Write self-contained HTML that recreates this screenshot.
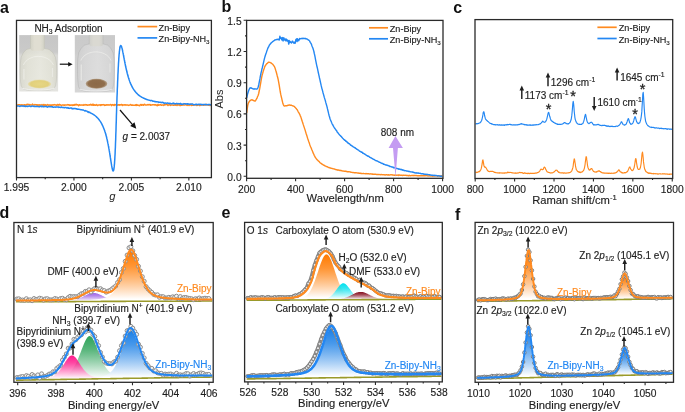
<!DOCTYPE html>
<html><head><meta charset="utf-8"><style>
html,body{margin:0;padding:0;background:#fff;width:685px;height:412px;overflow:hidden;}
svg{display:block;font-family:"Liberation Sans", sans-serif;filter:blur(0.3px);}
</style></head><body>
<svg width="685" height="412" viewBox="0 0 685 412" font-family="Liberation Sans, sans-serif">
<defs><linearGradient id="bg1" x1="0" y1="0" x2="0" y2="1">
<stop offset="0" stop-color="#c6c6c6"/><stop offset="0.3" stop-color="#cacac9"/><stop offset="0.36" stop-color="#d9d9d6"/><stop offset="1" stop-color="#e4e4e0"/></linearGradient>
<radialGradient id="pw1" cx="0.5" cy="0.5" r="0.5"><stop offset="0" stop-color="#e6d684"/><stop offset="0.75" stop-color="#e2d07c"/><stop offset="1" stop-color="#e6dfba"/></radialGradient>
<linearGradient id="bd1" x1="0" y1="0" x2="1" y2="0">
<stop offset="0" stop-color="#d6d6ca"/><stop offset="0.2" stop-color="#e3e3d6"/><stop offset="0.55" stop-color="#ebebe0"/><stop offset="0.85" stop-color="#e3e3d6"/><stop offset="1" stop-color="#d6d6ca"/></linearGradient>
<linearGradient id="nk1" x1="0" y1="0" x2="1" y2="0">
<stop offset="0" stop-color="#d2d2c6"/><stop offset="0.3" stop-color="#e0ded2"/><stop offset="0.7" stop-color="#e0ded2"/><stop offset="1" stop-color="#d2d2c6"/></linearGradient><linearGradient id="bg2" x1="0" y1="0" x2="0" y2="1">
<stop offset="0" stop-color="#cacaca"/><stop offset="0.3" stop-color="#cccccc"/><stop offset="0.36" stop-color="#d0d0d0"/><stop offset="1" stop-color="#d6d6d6"/></linearGradient>
<radialGradient id="pw2" cx="0.5" cy="0.5" r="0.5"><stop offset="0" stop-color="#8c6a48"/><stop offset="0.75" stop-color="#906e4c"/><stop offset="1" stop-color="#b6a28a"/></radialGradient>
<linearGradient id="bd2" x1="0" y1="0" x2="1" y2="0">
<stop offset="0" stop-color="#cfcfcf"/><stop offset="0.2" stop-color="#d9d9d9"/><stop offset="0.55" stop-color="#e1e1e1"/><stop offset="0.85" stop-color="#d9d9d9"/><stop offset="1" stop-color="#cfcfcf"/></linearGradient>
<linearGradient id="nk2" x1="0" y1="0" x2="1" y2="0">
<stop offset="0" stop-color="#cfcfcb"/><stop offset="0.3" stop-color="#dad9d2"/><stop offset="0.7" stop-color="#dad9d2"/><stop offset="1" stop-color="#cfcfcb"/></linearGradient><linearGradient id="g1" x1="0" y1="0" x2="0" y2="1"><stop offset="0" stop-color="#a066e6" stop-opacity="1.0"/><stop offset="0.3" stop-color="#a066e6" stop-opacity="0.8"/><stop offset="0.95" stop-color="#ffffff" stop-opacity="0.95"/></linearGradient><linearGradient id="g2" x1="0" y1="0" x2="0" y2="1"><stop offset="0" stop-color="#ff7a00" stop-opacity="1.0"/><stop offset="0.3" stop-color="#ff7a00" stop-opacity="0.8"/><stop offset="0.95" stop-color="#ffffff" stop-opacity="0.95"/></linearGradient><linearGradient id="g3" x1="0" y1="0" x2="0" y2="1"><stop offset="0" stop-color="#2ea35a" stop-opacity="1.0"/><stop offset="0.3" stop-color="#2ea35a" stop-opacity="0.8"/><stop offset="0.95" stop-color="#ffffff" stop-opacity="0.95"/></linearGradient><linearGradient id="g4" x1="0" y1="0" x2="0" y2="1"><stop offset="0" stop-color="#1a7fe6" stop-opacity="1.0"/><stop offset="0.3" stop-color="#1a7fe6" stop-opacity="0.8"/><stop offset="0.95" stop-color="#ffffff" stop-opacity="0.95"/></linearGradient><linearGradient id="g5" x1="0" y1="0" x2="0" y2="1"><stop offset="0" stop-color="#ff1a8c" stop-opacity="1.0"/><stop offset="0.3" stop-color="#ff1a8c" stop-opacity="0.8"/><stop offset="0.95" stop-color="#ffffff" stop-opacity="0.95"/></linearGradient><linearGradient id="g6" x1="0" y1="0" x2="0" y2="1"><stop offset="0" stop-color="#ff7a00" stop-opacity="1.0"/><stop offset="0.3" stop-color="#ff7a00" stop-opacity="0.8"/><stop offset="0.95" stop-color="#ffffff" stop-opacity="0.95"/></linearGradient><linearGradient id="g7" x1="0" y1="0" x2="0" y2="1"><stop offset="0" stop-color="#00e0ee" stop-opacity="1.0"/><stop offset="0.3" stop-color="#00e0ee" stop-opacity="0.8"/><stop offset="0.95" stop-color="#ffffff" stop-opacity="0.95"/></linearGradient><linearGradient id="g8" x1="0" y1="0" x2="0" y2="1"><stop offset="0" stop-color="#870f1f" stop-opacity="1.0"/><stop offset="0.3" stop-color="#870f1f" stop-opacity="0.8"/><stop offset="0.95" stop-color="#ffffff" stop-opacity="0.95"/></linearGradient><linearGradient id="g9" x1="0" y1="0" x2="0" y2="1"><stop offset="0" stop-color="#1a7fe6" stop-opacity="1.0"/><stop offset="0.3" stop-color="#1a7fe6" stop-opacity="0.8"/><stop offset="0.95" stop-color="#ffffff" stop-opacity="0.95"/></linearGradient><linearGradient id="g10" x1="0" y1="0" x2="0" y2="1"><stop offset="0" stop-color="#ff7a00" stop-opacity="1.0"/><stop offset="0.3" stop-color="#ff7a00" stop-opacity="0.8"/><stop offset="0.95" stop-color="#ffffff" stop-opacity="0.95"/></linearGradient><linearGradient id="g11" x1="0" y1="0" x2="0" y2="1"><stop offset="0" stop-color="#ff7a00" stop-opacity="1.0"/><stop offset="0.3" stop-color="#ff7a00" stop-opacity="0.8"/><stop offset="0.95" stop-color="#ffffff" stop-opacity="0.95"/></linearGradient><linearGradient id="g12" x1="0" y1="0" x2="0" y2="1"><stop offset="0" stop-color="#1a7fe6" stop-opacity="1.0"/><stop offset="0.3" stop-color="#1a7fe6" stop-opacity="0.8"/><stop offset="0.95" stop-color="#ffffff" stop-opacity="0.95"/></linearGradient><linearGradient id="g13" x1="0" y1="0" x2="0" y2="1"><stop offset="0" stop-color="#1a7fe6" stop-opacity="1.0"/><stop offset="0.3" stop-color="#1a7fe6" stop-opacity="0.8"/><stop offset="0.95" stop-color="#ffffff" stop-opacity="0.95"/></linearGradient></defs>
<rect width="685" height="412" fill="#ffffff"/>
<text x="0.0" y="13.2" font-size="16" font-weight="bold" fill="#111">a</text>
<text x="221.5" y="11.8" font-size="16" font-weight="bold" fill="#111">b</text>
<text x="453.3" y="12.9" font-size="16" font-weight="bold" fill="#111">c</text>
<text x="-0.6" y="217.8" font-size="16" font-weight="bold" fill="#111">d</text>
<text x="221.6" y="217.7" font-size="16" font-weight="bold" fill="#111">e</text>
<text x="455.0" y="219.8" font-size="16" font-weight="bold" fill="#111">f</text>
<rect x="19.2" y="35.1" width="38.9" height="56.4" fill="url(#bg1)"/>
<path d="M30.2,48.5 A9.8,14.5 0 0 0 20.4,63.0 C19.799999999999997,71.0 20.0,80.6 21.2,85.6 C22.4,89.6 26.4,90.19999999999999 30.4,90.19999999999999 H46.4 C50.4,90.19999999999999 54.4,89.6 55.6,85.6 C56.8,80.6 57.0,71.0 56.4,63.0 A11.799999999999997,14.5 0 0 0 44.6,48.5 Z" fill="url(#bd1)" fill-opacity="0.72" stroke="#b0b0a2" stroke-width="0.6" stroke-opacity="0.55"/>
<path d="M30.2,35.1 V48.5 Q30.7,50.5 32.2,50.7 H42.6 Q44.1,50.5 44.6,48.5 V35.1 Z" fill="url(#nk1)"/>
<path d="M30.5,35.1 V48.5 M44.300000000000004,35.1 V48.5" stroke="#b0b0a2" stroke-width="0.5" stroke-opacity="0.5"/>
<path d="M23.4,65.0 C28.4,53.5 48.4,53.5 53.4,65.0" fill="none" stroke="#f6f6f2" stroke-width="0.9" stroke-opacity="0.6"/>
<path d="M23.9,69.0 V79.6" stroke="#f8f8f4" stroke-width="1.4" stroke-opacity="0.45"/>
<path d="M52.4,68.0 V77.0" stroke="#f8f8f4" stroke-width="1.0" stroke-opacity="0.5"/>
<ellipse cx="39.5" cy="84.0" rx="11.8" ry="4.4" fill="url(#pw1)"/>
<path d="M22.4,88.1 C26.4,90.6 50.4,90.6 54.4,88.1" fill="none" stroke="#f4f4f4" stroke-width="1.0" stroke-opacity="0.8"/>
<rect x="74.8" y="35.1" width="40.2" height="57.4" fill="url(#bg2)"/>
<path d="M89.0,44.0 A11.200000000000003,14.5 0 0 0 77.8,58.5 C77.2,66.5 77.39999999999999,81.6 78.6,86.6 C79.8,90.6 83.8,91.19999999999999 87.8,91.19999999999999 H104.0 C108.0,91.19999999999999 112.0,90.6 113.2,86.6 C114.4,81.6 114.6,66.5 114.0,58.5 A10.599999999999994,14.5 0 0 0 103.4,44.0 Z" fill="url(#bd2)" fill-opacity="0.72" stroke="#a2a2a2" stroke-width="0.6" stroke-opacity="0.55"/>
<path d="M89.0,35.1 V44.0 Q89.5,46.0 91.0,46.2 H101.4 Q102.9,46.0 103.4,44.0 V35.1 Z" fill="url(#nk2)"/>
<path d="M89.3,35.1 V44.0 M103.10000000000001,35.1 V44.0" stroke="#a2a2a2" stroke-width="0.5" stroke-opacity="0.5"/>
<path d="M80.8,60.5 C85.8,49.0 106.0,49.0 111.0,60.5" fill="none" stroke="#f6f6f2" stroke-width="0.9" stroke-opacity="0.6"/>
<path d="M81.3,64.5 V80.6" stroke="#f8f8f4" stroke-width="1.4" stroke-opacity="0.45"/>
<path d="M110.0,63.5 V72.5" stroke="#f8f8f4" stroke-width="1.0" stroke-opacity="0.5"/>
<ellipse cx="96.5" cy="83.7" rx="10.8" ry="5.0" fill="url(#pw2)"/>
<path d="M79.8,89.1 C83.8,91.6 108.0,91.6 112.0,89.1" fill="none" stroke="#f4f4f4" stroke-width="1.0" stroke-opacity="0.8"/>
<path d="M59.8,64.2 H69.5" stroke="#111" stroke-width="1.2"/>
<path d="M68.2,61.9 L72.6,64.2 L68.2,66.5 Z" fill="#111"/>
<text x="34.40" y="32.30" font-size="10" text-anchor="start" fill="#1e1e1e" stroke="#1e1e1e" stroke-width="0.15" >NH<tspan font-size="6.80" baseline-shift="-2.40">3</tspan> Adsorption</text>
<path d="M16.8,105.0 17.4,105.1 18.0,104.9 18.6,104.7 19.2,104.8 19.8,104.7 20.4,105.0 21.0,105.5 21.6,104.8 22.2,104.8 22.8,105.2 23.4,105.1 24.0,105.0 24.6,104.7 25.2,105.0 25.8,105.2 26.4,104.5 27.0,104.8 27.6,104.3 28.2,104.5 28.8,104.4 29.4,104.9 30.0,104.6 30.6,105.1 31.2,105.1 31.8,104.9 32.4,104.1 33.0,104.8 33.6,105.0 34.2,105.0 34.8,104.5 35.4,104.8 36.0,104.7 36.6,104.7 37.2,105.4 37.8,104.7 38.4,105.0 39.0,105.3 39.6,104.8 40.2,105.0 40.8,105.0 41.4,105.0 42.0,104.6 42.6,105.0 43.2,105.5 43.8,104.5 44.4,105.3 45.0,105.0 45.6,104.8 46.2,105.7 46.8,105.3 47.4,104.6 48.0,105.0 48.6,105.2 49.2,104.9 49.8,105.2 50.4,105.0 51.0,105.2 51.6,105.5 52.2,104.8 52.8,105.1 53.4,104.8 54.0,105.0 54.6,104.6 55.2,104.8 55.8,104.9 56.4,105.3 57.0,105.4 57.6,104.5 58.2,104.7 58.8,105.2 59.4,104.3 60.0,104.8 60.6,105.0 61.2,105.4 61.8,105.2 62.4,104.9 63.0,104.9 63.6,104.9 64.2,105.5 64.8,104.9 65.4,104.9 66.0,105.1 66.6,105.0 67.2,104.9 67.8,104.6 68.4,105.0 69.0,104.8 69.6,105.4 70.2,105.2 70.8,105.0 71.4,105.2 72.0,104.9 72.6,105.4 73.2,105.0 73.8,105.2 74.4,104.5 75.0,105.1 75.6,104.4 76.2,104.3 76.8,104.9 77.4,104.7 78.0,105.1 78.6,105.8 79.2,104.7 79.8,104.8 80.4,105.1 81.0,105.2 81.6,104.9 82.2,104.9 82.8,105.2 83.4,105.2 84.0,104.6 84.6,105.0 85.2,105.0 85.8,104.6 86.4,105.1 87.0,104.7 87.6,105.3 88.2,105.1 88.8,105.0 89.4,104.8 90.0,105.0 90.6,104.3 91.2,104.6 91.8,105.1 92.4,104.3 93.0,105.3 93.6,104.4 94.2,105.3 94.8,104.7 95.4,105.3 96.0,105.0 96.6,104.5 97.2,105.4 97.8,105.5 98.4,105.0 99.0,104.9 99.6,104.9 100.2,104.7 100.8,105.4 101.4,104.8 102.0,105.0 102.6,104.7 103.2,104.8 103.8,104.6 104.4,105.4 105.0,104.9 105.6,105.3 106.2,105.0 106.8,104.8 107.4,104.9 108.0,104.8 108.6,105.0 109.2,104.9 109.8,104.9 110.4,104.5 111.0,104.7 111.6,105.6 112.2,104.8 112.8,104.6 113.4,105.1 114.0,105.5 114.6,104.5 115.2,104.9 115.8,104.8 116.4,104.4 117.0,105.3 117.6,105.0 118.2,105.0 118.8,104.7 119.4,105.2 120.0,104.8 120.6,104.9 121.2,104.6 121.8,104.6 122.4,105.5 123.0,104.8 123.6,105.1 124.2,105.0 124.8,104.8 125.4,104.8 126.0,105.2 126.6,104.9 127.2,104.9 127.8,105.0 128.4,105.4 129.0,105.2 129.6,105.1 130.2,104.8 130.8,104.5 131.4,105.3 132.0,105.3 132.6,105.0 133.2,105.2 133.8,105.3 134.4,105.3 135.0,105.3 135.6,104.8 136.2,105.5 136.8,104.6 137.4,105.3 138.0,105.2 138.6,105.3 139.2,105.7 139.8,105.5 140.4,104.6 141.0,104.4 141.6,105.3 142.2,104.6 142.8,105.0 143.4,105.3 144.0,104.4 144.6,104.3 145.2,105.1 145.8,105.0 146.4,104.9 147.0,105.0 147.6,104.7 148.2,104.5 148.8,104.9 149.4,104.7 150.0,104.4 150.6,105.2 151.2,105.0 151.8,105.1 152.4,104.7 153.0,104.8 153.6,104.7 154.2,104.7 154.8,105.1 155.4,104.7 156.0,105.1 156.6,105.1 157.2,105.7 157.8,104.5 158.4,105.3 159.0,105.0 159.6,105.0 160.2,104.5 160.8,104.8 161.4,105.3 162.0,105.0 162.6,105.0 163.2,104.9 163.8,105.4 164.4,105.0 165.0,104.2 165.6,104.8 166.2,104.3 166.8,103.9 167.4,104.8 168.0,105.5 168.6,105.0 169.2,104.6 169.8,104.7 170.4,105.4 171.0,105.1 171.6,105.0 172.2,105.0 172.8,105.0 173.4,105.3 174.0,105.2 174.6,105.1 175.2,104.6 175.8,105.2 176.4,104.8 177.0,105.4 177.6,104.6 178.2,105.0 178.8,105.0 179.4,104.5 180.0,105.6 180.6,105.5 181.2,104.8 181.8,105.3 182.4,105.1 183.0,104.1 183.6,105.1 184.2,105.0 184.8,105.0 185.4,104.6 186.0,104.9 186.6,104.9 187.2,105.4 187.8,105.1 188.4,105.0 189.0,105.5 189.6,104.8 190.2,104.9 190.8,104.4 191.4,105.5 192.0,105.3 192.6,105.3 193.2,105.2 193.8,105.0 194.4,105.1 195.0,104.9 195.6,104.9 196.2,105.0 196.8,105.5 197.4,105.2 198.0,105.0 198.6,104.8 199.2,104.8 199.8,105.6 200.4,105.2 201.0,105.0 201.6,104.9 202.2,104.6 202.8,105.0 203.4,105.3 204.0,104.9 204.6,104.9 205.2,104.9 205.8,105.0 206.4,104.4 207.0,104.9 207.6,104.7 208.2,105.3 208.8,104.7 209.4,105.2 210.0,105.5 210.6,104.9" stroke="#FF8A1F" stroke-width="1.5" fill="none" stroke-linejoin="round"/>
<path d="M16.9,105.9 17.5,106.1 18.1,106.1 18.7,105.9 19.3,106.2 19.9,106.5 20.5,106.0 21.1,106.1 21.7,105.9 22.3,106.2 22.9,105.9 23.5,105.9 24.1,106.4 24.7,106.0 25.3,106.4 25.9,106.5 26.5,106.2 27.1,106.3 27.7,106.6 28.3,106.2 28.9,106.1 29.5,105.9 30.1,106.3 30.7,106.6 31.3,106.5 31.9,106.1 32.5,106.1 33.1,106.2 33.7,106.4 34.3,106.3 34.9,106.4 35.5,106.4 36.1,106.3 36.7,106.4 37.3,106.5 37.9,106.4 38.5,106.6 39.1,106.9 39.7,106.6 40.3,106.5 40.9,106.1 41.5,106.6 42.1,106.1 42.7,106.3 43.3,106.8 43.9,106.8 44.5,106.6 45.1,106.3 45.7,106.6 46.3,106.5 46.9,106.8 47.5,107.2 48.1,106.8 48.7,106.6 49.3,106.5 49.9,106.8 50.5,106.8 51.1,106.6 51.7,106.9 52.3,106.7 52.9,107.2 53.5,107.2 54.1,107.2 54.7,106.9 55.3,107.2 55.9,107.1 56.5,107.0 57.1,107.1 57.7,106.9 58.3,106.9 58.9,107.4 59.5,107.2 60.1,107.4 60.7,107.6 61.3,107.0 61.9,107.3 62.5,107.5 63.1,107.6 63.7,107.5 64.3,107.8 64.9,107.7 65.5,107.4 66.1,107.5 66.7,108.0 67.3,108.0 67.9,107.5 68.5,108.3 69.1,108.2 69.7,108.4 70.3,108.1 70.9,108.1 71.5,108.0 72.1,108.9 72.7,108.4 73.3,108.8 73.9,108.4 74.5,108.7 75.1,108.4 75.7,108.7 76.3,109.1 76.9,108.7 77.5,109.3 78.1,109.3 78.7,109.1 79.3,109.3 79.9,109.4 80.5,109.7 81.1,109.7 81.7,109.7 82.3,110.0 82.9,110.0 83.5,110.1 84.1,110.5 84.7,110.9 85.3,110.5 85.9,111.1 86.5,111.1 87.1,111.2 87.7,111.9 88.3,111.8 88.9,112.5 89.5,112.2 90.1,112.7 90.7,113.0 91.3,113.3 91.9,113.6 92.5,113.9 93.1,114.3 93.7,114.7 94.3,115.1 94.9,115.5 95.5,116.0 96.1,116.5 96.7,117.1 97.3,117.7 97.9,118.3 98.5,119.0 99.1,119.8 99.7,120.6 100.3,121.4 100.9,122.4 101.5,123.4 102.1,124.6 102.7,125.8 103.3,127.2 103.9,128.7 104.5,130.3 105.0,131.8 105.2,132.3 105.3,132.8 105.5,133.3 105.6,133.8 105.8,134.3 105.9,134.9 106.1,135.4 106.2,136.0 106.4,136.5 106.5,137.1 106.7,137.7 106.8,138.4 107.0,139.0 107.1,139.6 107.3,140.3 107.4,141.0 107.6,141.7 107.7,142.4 107.9,143.1 108.0,143.9 108.2,144.6 108.3,145.4 108.5,146.2 108.6,147.0 108.8,147.9 108.9,148.7 109.1,149.6 109.2,150.4 109.4,151.3 109.5,152.2 109.7,153.2 109.8,154.1 110.0,155.0 110.1,156.0 110.3,156.9 110.4,157.9 110.6,158.9 110.7,159.8 110.9,160.8 111.0,161.8 111.2,162.7 111.3,163.7 111.5,164.6 111.6,165.4 111.8,166.3 111.9,167.1 112.1,167.9 112.2,168.6 112.4,169.2 112.5,169.8 112.7,170.2 112.8,170.6 113.0,170.9 113.1,171.0 113.3,171.0 113.4,170.8 113.6,170.4 113.7,169.9 113.9,169.1 114.0,168.1 114.2,166.9 114.3,165.4 114.5,163.7 114.6,161.6 114.8,159.3 114.9,156.7 115.1,153.7 115.2,150.5 115.4,147.0 115.5,143.2 115.7,139.1 115.8,134.8 116.0,130.3 116.1,125.5 116.3,120.6 116.4,115.6 116.6,110.5 116.7,105.3 116.9,101.3 117.0,97.3 117.2,93.3 117.3,89.4 117.5,85.6 117.6,81.9 117.8,78.4 117.9,75.0 118.1,71.7 118.2,68.7 118.4,65.8 118.5,63.2 118.7,60.7 118.8,58.4 119.0,56.3 119.1,54.5 119.3,52.8 119.4,51.3 119.6,50.0 119.7,48.9 119.9,48.0 120.0,47.2 120.2,46.6 120.3,46.2 120.5,45.8 120.6,45.6 120.8,45.5 120.9,45.6 121.1,45.7 121.2,45.9 121.4,46.2 121.5,46.6 121.7,47.0 121.8,47.5 122.0,48.1 122.1,48.6 122.3,49.3 122.4,50.0 122.6,50.6 122.7,51.4 122.9,52.1 123.0,52.9 123.2,53.7 123.3,54.4 123.5,55.2 123.6,56.0 123.8,56.8 123.9,57.6 124.1,58.4 124.2,59.2 124.4,60.0 124.5,60.8 124.7,61.6 124.8,62.3 125.0,63.1 125.1,63.9 125.3,64.6 125.4,65.3 125.6,66.1 125.7,66.8 125.9,67.5 126.0,68.1 126.2,68.8 126.3,69.5 126.5,70.1 126.6,70.8 126.8,71.4 126.9,72.0 127.1,72.6 127.2,73.2 127.4,73.8 127.5,74.3 127.7,74.9 127.8,75.4 128.0,75.9 128.1,76.5 128.3,77.0 128.4,77.5 128.6,77.9 128.7,78.4 128.9,78.9 129.0,79.3 129.2,79.8 129.3,80.2 129.5,80.6 129.6,81.0 129.8,81.4 129.9,81.8 130.0,82.1 130.6,83.6 131.2,84.9 131.8,86.2 132.4,87.3 133.0,88.4 133.6,89.3 134.2,90.2 134.8,91.0 135.4,91.8 136.0,92.5 136.6,93.1 137.2,93.7 137.8,94.3 138.4,94.8 139.0,95.3 139.6,95.8 140.2,96.2 140.8,96.6 141.4,97.0 142.0,97.3 142.6,97.6 143.2,98.0 143.8,98.2 144.4,98.5 145.0,98.8 145.6,99.0 146.2,99.3 146.8,99.5 147.4,99.7 148.0,99.9 148.6,100.1 149.2,100.2 149.8,100.4 150.4,100.7 151.0,100.5 151.6,100.5 152.2,100.7 152.8,101.3 153.4,101.1 154.0,101.3 154.6,101.5 155.2,101.7 155.8,101.6 156.4,101.9 157.0,101.7 157.6,101.9 158.2,101.9 158.8,102.4 159.4,102.2 160.0,102.2 160.6,102.3 161.2,102.4 161.8,102.7 162.4,102.3 163.0,102.5 163.6,102.7 164.2,103.4 164.8,103.1 165.4,102.9 166.0,103.1 166.6,103.5 167.2,103.0 167.8,103.0 168.4,103.4 169.0,103.3 169.6,103.4 170.2,103.2 170.8,103.8 171.4,103.8 172.0,103.6 172.6,103.6 173.2,103.1 173.8,103.7 174.4,103.5 175.0,103.7 175.6,103.8 176.2,103.6 176.8,103.3 177.4,103.8 178.0,103.6 178.6,103.7 179.2,103.7 179.8,103.8 180.4,103.4 181.0,104.2 181.6,104.0 182.2,104.2 182.8,104.4 183.4,104.0 184.0,103.6 184.6,103.8 185.2,103.8 185.8,104.0 186.4,104.1 187.0,103.7 187.6,104.2 188.2,103.8 188.8,104.2 189.4,104.2 190.0,104.1 190.6,104.2 191.2,104.1 191.8,104.1 192.4,103.9 193.0,104.3 193.6,104.7 194.2,104.8 194.8,104.6 195.4,104.5 196.0,104.2 196.6,104.7 197.2,104.4 197.8,104.4 198.4,104.3 199.0,104.4 199.6,104.3 200.2,104.4 200.8,104.2 201.4,104.4 202.0,105.0 202.6,104.5 203.2,104.5 203.8,104.6 204.4,104.7 205.0,104.3 205.6,104.5 206.2,104.8 206.8,104.6 207.4,104.6 208.0,104.9 208.6,104.4 209.2,104.6 209.8,104.5 210.4,104.9 211.0,104.2" stroke="#2387F3" stroke-width="1.5" fill="none" stroke-linejoin="round"/>
<path d="M120.0,110.0 L133.6,125.9" stroke="#111" stroke-width="1.2"/>
<path d="M136.3,128.8 L130.2,126.0 L134.5,122.3 Z" fill="#111"/>
<text x="122.60" y="139.60" font-size="10" text-anchor="start" fill="#1e1e1e" stroke="#1e1e1e" stroke-width="0.15" ><tspan font-style="italic">g</tspan> = 2.0037</text>
<path d="M137.5,26.6 H157.2" stroke="#FF8A1F" stroke-width="1.7"/>
<path d="M137.5,37.9 H157.2" stroke="#2387F3" stroke-width="1.7"/>
<text x="158.60" y="30.60" font-size="9.1" text-anchor="start" fill="#1e1e1e" stroke="#1e1e1e" stroke-width="0.15" >Zn-Bipy</text>
<text x="158.60" y="41.90" font-size="9.1" text-anchor="start" fill="#1e1e1e" stroke="#1e1e1e" stroke-width="0.15" >Zn-Bipy-NH<tspan font-size="6.19" baseline-shift="-2.18">3</tspan></text>
<rect x="16.50" y="20.40" width="194.90" height="157.20" fill="none" stroke="#2a2a2a" stroke-width="1.3"/>
<path d="M16.50,177.60 V180.60 M73.95,177.60 V180.60 M131.40,177.60 V180.60 M188.85,177.60 V180.60 M45.22,177.60 V179.20 M102.67,177.60 V179.20 M160.12,177.60 V179.20 " stroke="#2a2a2a" stroke-width="1.1" fill="none"/>
<text x="16.50" y="191.40" font-size="10.25" text-anchor="middle" fill="#1e1e1e" stroke="#1e1e1e" stroke-width="0.15" >1.995</text>
<text x="73.95" y="191.40" font-size="10.25" text-anchor="middle" fill="#1e1e1e" stroke="#1e1e1e" stroke-width="0.15" >2.000</text>
<text x="131.40" y="191.40" font-size="10.25" text-anchor="middle" fill="#1e1e1e" stroke="#1e1e1e" stroke-width="0.15" >2.005</text>
<text x="188.85" y="191.40" font-size="10.25" text-anchor="middle" fill="#1e1e1e" stroke="#1e1e1e" stroke-width="0.15" >2.010</text>
<text x="109.2" y="199.8" font-size="11.2" font-style="italic" fill="#1e1e1e">g</text>
<path d="M246.7,112.9 247.2,109.0 247.7,105.7 248.2,103.5 248.7,102.7 249.2,101.5 249.7,101.1 250.2,100.5 250.7,100.1 251.2,100.0 251.7,99.8 252.2,99.8 252.7,100.2 253.2,100.3 253.7,100.6 254.2,100.9 254.7,101.0 255.2,101.1 255.7,100.4 256.2,99.5 256.7,98.7 257.2,97.6 257.7,96.3 258.2,95.3 258.7,93.5 259.2,91.0 259.7,88.7 260.2,85.7 260.7,82.8 261.2,79.8 261.7,77.2 262.2,74.8 262.7,73.2 263.2,71.4 263.7,69.8 264.2,68.4 264.7,66.9 265.2,65.9 265.7,65.1 266.2,64.5 266.7,63.7 267.2,63.5 267.7,62.9 268.2,62.4 268.7,62.1 269.2,62.3 269.7,62.4 270.2,62.5 270.7,62.8 271.2,63.0 271.7,63.5 272.2,63.8 272.7,64.3 273.2,64.9 273.7,65.7 274.2,66.1 274.7,67.3 275.2,68.6 275.7,70.3 276.2,71.8 276.7,73.7 277.2,75.7 277.7,77.5 278.2,79.7 278.7,82.4 279.2,85.2 279.7,88.4 280.2,91.5 280.7,94.2 281.2,96.3 281.7,98.3 282.2,100.6 282.7,102.7 283.2,104.3 283.7,105.4 284.2,105.9 284.7,106.1 285.2,105.9 285.7,105.7 286.2,105.6 286.7,105.8 287.2,105.5 287.7,105.5 288.2,105.1 288.7,105.2 289.2,105.0 289.7,105.0 290.2,105.3 290.7,105.2 291.2,105.1 291.7,105.4 292.2,105.6 292.7,105.9 293.2,106.0 293.7,106.1 294.2,106.5 294.7,106.9 295.2,107.4 295.7,108.0 296.2,108.5 296.7,109.2 297.2,109.8 297.7,110.8 298.2,111.8 298.7,112.5 299.2,113.4 299.7,114.3 300.2,115.6 300.7,116.6 301.2,118.1 301.7,119.7 302.2,121.3 302.7,122.7 303.2,124.4 303.7,125.9 304.2,127.4 304.7,128.9 305.2,130.4 305.7,132.1 306.2,133.8 306.7,135.2 307.2,136.9 307.7,138.5 308.2,139.9 308.7,141.5 309.2,142.8 309.7,144.4 310.2,145.8 310.7,147.0 311.2,148.0 311.7,149.4 312.2,150.6 312.7,151.8 313.2,153.2 313.7,154.0 314.2,155.3 314.7,156.2 315.2,157.3 315.7,157.9 316.2,158.6 316.7,159.3 317.2,159.9 317.7,160.3 318.2,160.9 318.7,161.3 319.2,161.5 319.7,162.4 320.2,162.8 320.7,163.1 321.2,163.5 321.7,164.0 322.2,164.2 322.7,164.5 323.2,164.9 323.7,165.3 324.2,165.3 324.7,165.9 325.2,165.9 325.7,166.1 326.2,166.6 326.7,166.6 327.2,166.7 327.7,167.0 328.2,167.3 328.7,167.5 329.2,167.5 329.7,167.8 330.2,168.0 330.7,168.0 331.2,168.3 331.7,168.4 332.2,168.5 332.7,168.6 333.2,168.8 333.7,168.9 334.2,169.0 334.7,169.2 335.2,169.5 335.7,169.5 336.2,169.7 336.7,169.8 337.2,169.9 337.7,170.2 338.2,169.9 338.7,170.2 339.2,170.2 339.7,170.5 340.2,170.6 340.7,170.3 341.2,170.5 341.7,170.8 342.2,170.9 342.7,171.0 343.2,171.0 343.7,171.1 344.2,171.2 344.7,171.2 345.2,171.4 345.7,171.1 346.2,171.6 346.7,171.4 347.2,171.8 347.7,171.7 348.2,171.7 348.7,171.9 349.2,171.8 349.7,171.9 350.2,171.9 350.7,172.2 351.2,172.3 351.7,172.4 352.2,172.4 352.7,172.6 353.2,172.5 353.7,172.6 354.2,172.7 354.7,172.8 355.2,172.7 355.7,172.8 356.2,172.8 356.7,172.9 357.2,172.9 357.7,173.1 358.2,173.0 358.7,173.2 359.2,173.1 359.7,173.3 360.2,173.3 360.7,173.3 361.2,173.6 361.7,173.4 362.2,173.6 362.7,173.6 363.2,173.4 363.7,173.5 364.2,173.6 364.7,173.6 365.2,173.7 365.7,173.7 366.2,173.5 366.7,173.8 367.2,173.6 367.7,173.9 368.2,173.8 368.7,173.8 369.2,173.9 369.7,174.0 370.2,173.9 370.7,173.8 371.2,174.0 371.7,173.9 372.2,174.0 372.7,174.4 373.2,174.1 373.7,174.3 374.2,174.1 374.7,174.3 375.2,174.3 375.7,174.3 376.2,174.4 376.7,174.6 377.2,174.4 377.7,174.5 378.2,174.4 378.7,174.6 379.2,174.5 379.7,174.6 380.2,174.6 380.7,174.8 381.2,174.4 381.7,174.6 382.2,174.8 382.7,174.6 383.2,174.6 383.7,174.7 384.2,174.6 384.7,174.8 385.2,175.1 385.7,174.9 386.2,174.7 386.7,174.7 387.2,174.8 387.7,175.0 388.2,174.8 388.7,174.8 389.2,175.0 389.7,175.0 390.2,174.9 390.7,174.8 391.2,174.8 391.7,174.9 392.2,174.8 392.7,175.1 393.2,175.0 393.7,175.1 394.2,175.3 394.7,175.2 395.2,175.0 395.7,175.2 396.2,175.3 396.7,175.1 397.2,175.1 397.7,175.2 398.2,175.0 398.7,175.4 399.2,174.9 399.7,175.1 400.2,175.2 400.7,175.3 401.2,175.3 401.7,175.3 402.2,175.3 402.7,175.5 403.2,175.1 403.7,175.4 404.2,175.3 404.7,175.4 405.2,175.4 405.7,175.3 406.2,175.3 406.7,175.5 407.2,175.5 407.7,175.4 408.2,175.7 408.7,175.7 409.2,175.3 409.7,175.5 410.2,175.8 410.7,175.6 411.2,175.6 411.7,175.5 412.2,175.5 412.7,175.5 413.2,175.5 413.7,175.7 414.2,175.5 414.7,175.5 415.2,175.5 415.7,175.6 416.2,175.5 416.7,175.6 417.2,175.8 417.7,175.7 418.2,175.7 418.7,175.7 419.2,175.7 419.7,175.7 420.2,175.7 420.7,175.8 421.2,175.6 421.7,175.9 422.2,175.7 422.7,175.7 423.2,175.7 423.7,175.7 424.2,175.8 424.7,175.7 425.2,175.9 425.7,175.7 426.2,175.5 426.7,175.7 427.2,175.6 427.7,175.8 428.2,176.0 428.7,175.9 429.2,175.7 429.7,175.8 430.2,176.1 430.7,175.9 431.2,175.9 431.7,176.0 432.2,176.2 432.7,176.1 433.2,175.9 433.7,176.0 434.2,176.0 434.7,175.9 435.2,175.8 435.7,175.9 436.2,175.8 436.7,175.9 437.2,176.0 437.7,176.2 438.2,175.9 438.7,176.0 439.2,176.0 439.7,176.0 440.2,176.1 440.7,175.9 441.2,175.9 441.7,175.8 442.2,175.9" stroke="#FF8A1F" stroke-width="1.4" fill="none" stroke-linejoin="round"/>
<path d="M246.7,97.8 247.1,96.1 247.5,94.4 247.9,93.0 248.3,91.7 248.7,90.6 249.1,89.5 249.5,88.7 249.9,88.0 250.3,87.8 250.7,88.1 251.1,87.7 251.5,88.1 251.9,88.4 252.3,88.5 252.7,88.6 253.1,88.9 253.5,89.0 253.9,89.0 254.3,88.8 254.7,89.0 255.1,88.9 255.5,88.9 255.9,89.0 256.3,89.1 256.7,89.1 257.1,88.9 257.5,88.7 257.9,87.8 258.3,86.5 258.7,85.0 259.1,82.9 259.5,80.9 259.9,78.9 260.3,76.5 260.7,74.7 261.1,72.7 261.5,71.1 261.9,69.2 262.3,67.7 262.7,66.0 263.1,64.4 263.5,62.7 263.9,60.9 264.3,59.2 264.7,57.6 265.1,56.3 265.5,54.9 265.9,53.8 266.3,52.8 266.7,51.4 267.1,50.2 267.5,49.2 267.9,48.1 268.3,47.2 268.7,46.7 269.1,45.8 269.5,44.9 269.9,44.5 270.3,44.1 270.7,43.5 271.1,43.0 271.5,42.6 271.9,42.3 272.3,41.9 272.7,41.6 273.1,41.3 273.5,41.0 273.9,40.8 274.3,40.4 274.7,40.0 275.1,40.0 275.5,39.9 275.9,39.7 276.3,39.7 276.7,39.5 277.1,39.3 277.5,39.5 277.9,39.3 278.3,39.2 278.7,39.2 279.1,40.1 279.5,39.3 279.9,36.2 280.3,38.1 280.7,38.3 281.1,37.7 281.5,38.9 281.9,40.0 282.3,38.2 282.7,37.5 283.1,41.0 283.5,38.5 283.9,37.8 284.3,39.6 284.7,39.9 285.1,38.9 285.5,40.7 285.9,39.4 286.3,39.1 286.7,40.4 287.1,41.2 287.5,39.9 287.9,41.1 288.3,40.8 288.7,44.1 289.1,40.4 289.5,42.8 289.9,41.4 290.3,41.4 290.7,42.4 291.1,42.6 291.5,43.0 291.9,42.0 292.3,41.1 292.7,41.2 293.1,42.3 293.5,42.4 293.9,43.3 294.3,42.2 294.7,42.9 295.1,43.3 295.5,41.6 295.9,39.5 296.3,39.4 296.7,38.8 297.1,41.6 297.5,38.6 297.9,40.6 298.3,39.7 298.7,40.8 299.1,40.0 299.5,38.7 299.9,38.5 300.3,38.8 300.7,38.8 301.1,38.5 301.5,38.5 301.9,38.7 302.3,38.3 302.7,38.5 303.1,38.3 303.5,38.4 303.9,38.5 304.3,38.4 304.7,38.5 305.1,38.3 305.5,38.7 305.9,38.6 306.3,38.9 306.7,39.0 307.1,38.9 307.5,39.3 307.9,39.6 308.3,40.0 308.7,40.1 309.1,40.5 309.5,40.8 309.9,41.7 310.3,42.4 310.7,43.0 311.1,43.7 311.5,44.4 311.9,45.7 312.3,46.8 312.7,47.6 313.1,48.8 313.5,50.1 313.9,51.5 314.3,53.5 314.7,55.1 315.1,57.2 315.5,59.3 315.9,61.4 316.3,63.3 316.7,65.3 317.1,67.0 317.5,68.7 317.9,70.7 318.3,72.5 318.7,74.3 319.1,76.1 319.5,78.0 319.9,79.7 320.3,81.5 320.7,83.3 321.1,85.2 321.5,86.8 321.9,88.6 322.3,89.8 322.7,91.4 323.1,93.0 323.5,94.4 323.9,95.8 324.3,97.4 324.7,98.6 325.1,99.9 325.5,101.3 325.9,102.9 326.3,104.3 326.7,105.6 327.1,107.1 327.5,108.9 327.9,110.5 328.3,112.1 328.7,113.9 329.1,115.5 329.5,116.7 329.9,118.2 330.3,119.5 330.7,120.4 331.1,121.2 331.5,122.3 331.9,123.3 332.3,124.2 332.7,124.5 333.1,125.8 333.5,126.1 333.9,127.0 334.3,127.7 334.7,128.3 335.1,128.8 335.5,129.2 335.9,130.0 336.3,130.4 336.7,130.8 337.1,132.0 337.5,132.3 337.9,132.9 338.3,133.1 338.7,133.9 339.1,134.4 339.5,134.9 339.9,135.2 340.3,135.5 340.7,136.1 341.1,136.3 341.5,136.8 341.9,137.4 342.3,137.7 342.7,138.2 343.1,138.6 343.5,139.2 343.9,139.5 344.3,139.7 344.7,140.2 345.1,140.3 345.5,140.7 345.9,141.2 346.3,141.3 346.7,141.8 347.1,142.0 347.5,142.5 347.9,143.0 348.3,143.0 348.7,143.5 349.1,143.6 349.5,143.9 349.9,144.2 350.3,144.8 350.7,145.2 351.1,145.3 351.5,145.5 351.9,145.9 352.3,146.1 352.7,146.5 353.1,146.7 353.5,147.0 353.9,147.3 354.3,147.4 354.7,147.7 355.1,147.8 355.5,148.3 355.9,148.4 356.3,148.8 356.7,149.0 357.1,149.4 357.5,149.7 357.9,149.7 358.3,150.0 358.7,150.3 359.1,150.7 359.5,151.1 359.9,151.3 360.3,151.4 360.7,151.8 361.1,151.7 361.5,152.3 361.9,152.3 362.3,152.3 362.7,153.2 363.1,153.4 363.5,153.3 363.9,153.7 364.3,153.9 364.7,154.2 365.1,154.2 365.5,154.6 365.9,154.9 366.3,155.2 366.7,155.5 367.1,155.6 367.5,156.1 367.9,156.0 368.3,156.4 368.7,156.3 369.1,156.6 369.5,157.2 369.9,157.2 370.3,157.6 370.7,157.7 371.1,157.8 371.5,158.1 371.9,158.3 372.3,158.6 372.7,158.9 373.1,159.1 373.5,159.2 373.9,159.4 374.3,159.7 374.7,159.9 375.1,160.2 375.5,160.6 375.9,160.6 376.3,160.7 376.7,160.9 377.1,161.0 377.5,161.2 377.9,161.4 378.3,161.6 378.7,161.8 379.1,162.1 379.5,162.2 379.9,162.4 380.3,162.4 380.7,162.9 381.1,163.0 381.5,163.3 381.9,163.3 382.3,163.6 382.7,163.5 383.1,163.8 383.5,164.2 383.9,163.9 384.3,164.3 384.7,164.6 385.1,164.6 385.5,164.8 385.9,165.0 386.3,164.9 386.7,165.2 387.1,165.2 387.5,165.3 387.9,165.5 388.3,165.7 388.7,165.9 389.1,166.0 389.5,165.9 389.9,166.5 390.3,166.5 390.7,166.6 391.1,166.6 391.5,166.8 391.9,167.0 392.3,167.1 392.7,167.0 393.1,167.4 393.5,167.8 393.9,167.3 394.3,167.8 394.7,167.9 395.1,167.9 395.5,168.2 395.9,168.0 396.3,168.3 396.7,168.6 397.1,168.5 397.5,168.6 397.9,168.8 398.3,168.8 398.7,169.2 399.1,169.0 399.5,169.3 399.9,169.1 400.3,169.5 400.7,169.5 401.1,169.3 401.5,169.7 401.9,169.7 402.3,169.8 402.7,170.2 403.1,170.0 403.5,170.1 403.9,170.5 404.3,170.4 404.7,170.7 405.1,170.6 405.5,170.6 405.9,170.7 406.3,171.0 406.7,171.1 407.1,171.0 407.5,171.1 407.9,171.2 408.3,171.2 408.7,171.6 409.1,171.5 409.5,171.4 409.9,171.6 410.3,171.8 410.7,171.9 411.1,171.9 411.5,171.9 411.9,172.0 412.3,171.9 412.7,172.0 413.1,172.4 413.5,172.3 413.9,172.5 414.3,172.7 414.7,172.7 415.1,172.7 415.5,173.0 415.9,172.9 416.3,172.8 416.7,173.0 417.1,173.1 417.5,173.0 417.9,173.2 418.3,173.2 418.7,173.0 419.1,173.3 419.5,173.4 419.9,173.4 420.3,173.3 420.7,173.6 421.1,173.7 421.5,173.7 421.9,173.7 422.3,173.9 422.7,173.8 423.1,173.9 423.5,174.2 423.9,174.0 424.3,174.1 424.7,174.3 425.1,174.2 425.5,174.3 425.9,174.4 426.3,174.6 426.7,174.2 427.1,174.4 427.5,174.5 427.9,174.5 428.3,174.6 428.7,174.6 429.1,174.8 429.5,174.7 429.9,174.9 430.3,175.0 430.7,174.9 431.1,175.1 431.5,175.3 431.9,175.2 432.3,175.1 432.7,175.2 433.1,175.2 433.5,175.4 433.9,175.5 434.3,175.3 434.7,175.4 435.1,175.7 435.5,175.5 435.9,175.6 436.3,175.5 436.7,175.6 437.1,175.7 437.5,176.0 437.9,175.8 438.3,175.8 438.7,175.8 439.1,175.9 439.5,176.0 439.9,176.0 440.3,176.3 440.7,176.1 441.1,176.3 441.5,176.2 441.9,176.2 442.3,176.0" stroke="#2387F3" stroke-width="1.4" fill="none" stroke-linejoin="round"/>
<path d="M388.6,148.0 L395.4,136.1 L402.9,148.0 L397.9,148.0 L395.5,177.3 L393.0,148.0 Z" fill="#c49cf2"/>
<text x="380.70" y="135.50" font-size="10" text-anchor="start" fill="#1e1e1e" stroke="#1e1e1e" stroke-width="0.15" >808 nm</text>
<path d="M369.0,27.8 H388.0" stroke="#FF8A1F" stroke-width="1.7"/>
<path d="M369.0,38.8 H388.0" stroke="#2387F3" stroke-width="1.7"/>
<text x="389.80" y="31.80" font-size="9.1" text-anchor="start" fill="#1e1e1e" stroke="#1e1e1e" stroke-width="0.15" >Zn-Bipy</text>
<text x="389.80" y="42.80" font-size="9.1" text-anchor="start" fill="#1e1e1e" stroke="#1e1e1e" stroke-width="0.15" >Zn-Bipy-NH<tspan font-size="6.19" baseline-shift="-2.18">3</tspan></text>
<rect x="246.60" y="20.40" width="196.40" height="157.90" fill="none" stroke="#2a2a2a" stroke-width="1.3"/>
<path d="M246.60,178.30 V181.30 M295.60,178.30 V181.30 M344.60,178.30 V181.30 M393.60,178.30 V181.30 M442.60,178.30 V181.30 M271.10,178.30 V179.90 M320.10,178.30 V179.90 M369.10,178.30 V179.90 M418.10,178.30 V179.90 " stroke="#2a2a2a" stroke-width="1.1" fill="none"/>
<path d="M246.60,176.30 H243.60 M246.60,145.10 H243.60 M246.60,113.90 H243.60 M246.60,82.70 H243.60 M246.60,51.50 H243.60 M246.60,20.30 H243.60 M246.60,160.70 H245.00 M246.60,129.50 H245.00 M246.60,98.30 H245.00 M246.60,67.10 H245.00 M246.60,35.90 H245.00 " stroke="#2a2a2a" stroke-width="1.1" fill="none"/>
<text x="246.60" y="192.70" font-size="10.25" text-anchor="middle" fill="#1e1e1e" stroke="#1e1e1e" stroke-width="0.15" >200</text>
<text x="295.60" y="192.70" font-size="10.25" text-anchor="middle" fill="#1e1e1e" stroke="#1e1e1e" stroke-width="0.15" >400</text>
<text x="344.60" y="192.70" font-size="10.25" text-anchor="middle" fill="#1e1e1e" stroke="#1e1e1e" stroke-width="0.15" >600</text>
<text x="393.60" y="192.70" font-size="10.25" text-anchor="middle" fill="#1e1e1e" stroke="#1e1e1e" stroke-width="0.15" >800</text>
<text x="442.60" y="192.70" font-size="10.25" text-anchor="middle" fill="#1e1e1e" stroke="#1e1e1e" stroke-width="0.15" >1000</text>
<text x="241.60" y="180.70" font-size="10.25" text-anchor="end" fill="#1e1e1e" stroke="#1e1e1e" stroke-width="0.15" >0.0</text>
<text x="241.60" y="149.50" font-size="10.25" text-anchor="end" fill="#1e1e1e" stroke="#1e1e1e" stroke-width="0.15" >0.3</text>
<text x="241.60" y="118.30" font-size="10.25" text-anchor="end" fill="#1e1e1e" stroke="#1e1e1e" stroke-width="0.15" >0.6</text>
<text x="241.60" y="87.10" font-size="10.25" text-anchor="end" fill="#1e1e1e" stroke="#1e1e1e" stroke-width="0.15" >0.9</text>
<text x="241.60" y="55.90" font-size="10.25" text-anchor="end" fill="#1e1e1e" stroke="#1e1e1e" stroke-width="0.15" >1.2</text>
<text x="241.60" y="24.70" font-size="10.25" text-anchor="end" fill="#1e1e1e" stroke="#1e1e1e" stroke-width="0.15" >1.5</text>
<text transform="translate(223.3,99) rotate(-90)" font-size="11" text-anchor="middle" fill="#1e1e1e">Abs</text>
<text x="306.60" y="202.20" font-size="11.2" text-anchor="start" fill="#1e1e1e" stroke="#1e1e1e" stroke-width="0.15" >Wavelength/nm</text>
<path d="M475.5,123.9 475.9,123.9 476.2,123.8 476.6,123.5 476.9,123.9 477.3,123.7 477.6,123.6 478.0,123.6 478.3,123.5 478.7,123.5 479.0,123.1 479.4,123.0 479.7,123.0 480.1,122.8 480.4,122.4 480.8,122.0 481.1,121.4 481.5,120.8 481.8,120.1 482.2,118.4 482.5,117.1 482.9,114.9 483.2,112.7 483.6,111.8 483.9,111.9 484.3,113.5 484.6,115.5 485.0,117.2 485.3,118.4 485.7,119.2 486.0,119.8 486.4,119.9 486.7,120.6 487.1,120.6 487.4,121.0 487.8,121.4 488.1,121.6 488.5,121.8 488.8,122.2 489.2,122.6 489.5,123.0 489.9,123.2 490.2,123.2 490.6,123.4 490.9,123.5 491.3,123.9 491.6,123.6 492.0,124.2 492.3,124.1 492.7,124.1 493.0,124.4 493.4,124.6 493.7,124.5 494.1,124.7 494.4,124.6 494.8,124.8 495.1,124.9 495.5,124.7 495.8,125.0 496.2,124.8 496.5,124.8 496.9,124.7 497.2,124.8 497.6,125.0 497.9,124.7 498.3,125.1 498.6,125.0 499.0,125.0 499.3,124.7 499.7,125.0 500.0,125.2 500.4,125.0 500.7,125.1 501.1,124.7 501.4,125.2 501.8,125.0 502.1,125.2 502.5,124.8 502.8,125.2 503.2,125.0 503.5,125.2 503.9,124.9 504.2,124.9 504.6,125.3 504.9,124.8 505.3,124.8 505.6,124.9 506.0,124.7 506.3,125.0 506.7,125.0 507.0,124.6 507.4,124.4 507.7,124.8 508.1,124.7 508.4,124.6 508.8,124.6 509.1,124.3 509.5,124.4 509.8,124.2 510.2,124.2 510.5,124.6 510.9,124.5 511.2,125.0 511.6,124.7 511.9,124.6 512.3,124.9 512.6,125.1 513.0,124.9 513.3,124.7 513.7,124.9 514.0,125.1 514.4,124.8 514.7,124.8 515.1,125.1 515.4,124.9 515.8,124.7 516.1,124.8 516.5,124.8 516.8,124.9 517.2,124.8 517.5,125.0 517.9,124.8 518.2,124.4 518.6,124.7 518.9,124.7 519.3,124.5 519.6,124.5 520.0,124.1 520.3,123.9 520.7,124.1 521.0,123.8 521.4,123.6 521.7,124.1 522.1,123.9 522.4,124.1 522.8,124.0 523.1,124.2 523.5,124.3 523.8,124.5 524.2,124.7 524.5,124.4 524.9,124.9 525.2,124.6 525.6,124.7 525.9,125.0 526.3,124.9 526.6,124.7 527.0,125.3 527.3,124.9 527.7,125.0 528.0,125.1 528.4,125.2 528.7,125.0 529.1,125.2 529.4,124.9 529.8,125.2 530.1,124.9 530.5,125.0 530.8,125.3 531.2,125.1 531.5,125.1 531.9,125.4 532.2,125.1 532.6,124.9 532.9,125.1 533.3,124.8 533.6,125.2 534.0,125.2 534.3,124.9 534.7,124.9 535.0,125.0 535.4,124.9 535.7,124.7 536.1,124.9 536.4,124.5 536.8,124.7 537.1,124.7 537.5,124.7 537.8,124.7 538.2,124.4 538.5,124.6 538.9,124.4 539.2,124.2 539.6,124.0 539.9,123.8 540.3,123.8 540.6,123.4 541.0,123.2 541.3,122.9 541.7,122.5 542.0,122.1 542.4,121.4 542.7,121.1 543.1,121.5 543.4,121.7 543.8,122.0 544.1,122.1 544.5,122.3 544.8,122.2 545.2,122.0 545.5,121.7 545.9,121.2 546.2,120.5 546.6,119.7 546.9,118.6 547.3,116.9 547.6,115.6 548.0,113.7 548.3,112.7 548.7,112.4 549.0,113.3 549.4,115.1 549.7,116.3 550.1,117.5 550.4,118.7 550.8,119.6 551.1,120.5 551.5,120.7 551.8,121.1 552.2,121.1 552.5,121.5 552.9,121.8 553.2,122.3 553.6,122.2 553.9,122.6 554.3,122.8 554.6,122.9 555.0,123.2 555.3,123.4 555.7,123.2 556.0,123.8 556.4,123.9 556.7,123.9 557.1,123.9 557.4,124.4 557.8,124.2 558.1,124.4 558.5,124.5 558.8,124.3 559.2,124.5 559.5,124.3 559.9,124.4 560.2,124.4 560.6,124.4 560.9,124.5 561.3,124.3 561.6,124.2 562.0,124.1 562.3,124.1 562.7,123.8 563.0,123.7 563.4,123.5 563.7,123.1 564.1,122.8 564.4,122.5 564.8,122.8 565.1,122.8 565.5,122.9 565.8,123.1 566.2,123.7 566.5,123.6 566.9,123.7 567.2,123.8 567.6,123.8 567.9,124.0 568.3,123.7 568.6,123.8 569.0,123.2 569.3,123.2 569.7,122.6 570.0,122.6 570.4,121.6 570.7,120.8 571.1,119.8 571.4,118.1 571.8,115.4 572.1,112.3 572.5,107.9 572.8,103.8 573.2,101.4 573.5,102.8 573.9,106.8 574.2,111.2 574.6,114.7 574.9,117.6 575.3,119.6 575.6,120.4 576.0,121.6 576.3,122.3 576.7,122.9 577.0,123.1 577.4,123.6 577.7,123.7 578.1,124.1 578.4,124.2 578.8,124.3 579.1,124.4 579.5,124.4 579.8,124.2 580.2,124.5 580.5,124.5 580.9,124.4 581.2,124.5 581.6,124.4 581.9,123.9 582.3,123.7 582.6,123.7 583.0,123.3 583.3,122.3 583.7,121.4 584.0,120.3 584.4,118.8 584.7,116.8 585.1,115.3 585.4,114.3 585.8,115.1 586.1,117.1 586.5,118.7 586.8,120.3 587.2,121.6 587.5,122.4 587.9,122.8 588.2,123.2 588.6,123.3 588.9,123.7 589.3,123.5 589.6,123.1 590.0,123.0 590.3,122.7 590.7,122.3 591.0,122.3 591.4,122.2 591.7,122.3 592.1,122.8 592.4,123.2 592.8,123.9 593.1,124.2 593.5,124.9 593.8,124.7 594.2,124.5 594.5,124.9 594.9,125.0 595.2,124.9 595.6,124.9 595.9,125.0 596.3,125.0 596.6,124.8 597.0,124.6 597.3,124.7 597.7,124.4 598.0,124.4 598.4,124.3 598.7,124.6 599.1,125.0 599.4,124.8 599.8,125.2 600.1,125.4 600.5,125.4 600.8,125.5 601.2,125.4 601.5,125.7 601.9,125.7 602.2,125.5 602.6,125.2 602.9,125.2 603.3,125.5 603.6,125.5 604.0,125.3 604.3,125.5 604.7,125.3 605.0,125.5 605.4,125.6 605.7,125.8 606.1,125.6 606.4,126.1 606.8,126.2 607.1,125.9 607.5,126.0 607.8,126.3 608.2,126.1 608.5,125.9 608.9,126.4 609.2,126.3 609.6,126.3 609.9,126.7 610.3,126.4 610.6,126.3 611.0,126.4 611.3,126.2 611.7,126.3 612.0,126.5 612.4,126.3 612.7,126.4 613.1,126.7 613.4,126.5 613.8,126.5 614.1,126.5 614.5,126.5 614.8,126.6 615.2,126.4 615.5,126.6 615.9,126.2 616.2,126.2 616.6,126.0 616.9,126.1 617.3,126.2 617.6,126.3 618.0,125.8 618.3,125.8 618.7,125.6 619.0,125.3 619.4,124.9 619.7,124.7 620.1,123.9 620.4,123.5 620.8,122.8 621.1,122.0 621.5,121.8 621.8,122.0 622.2,123.1 622.5,123.3 622.9,124.3 623.2,124.6 623.6,124.7 623.9,124.7 624.3,125.1 624.6,125.2 625.0,124.8 625.3,124.7 625.7,124.6 626.0,124.1 626.4,123.8 626.7,122.7 627.1,121.9 627.4,120.5 627.8,119.8 628.1,118.7 628.5,118.6 628.8,119.8 629.2,121.0 629.5,122.3 629.9,122.8 630.2,123.4 630.6,123.9 630.9,124.3 631.3,124.1 631.6,124.2 632.0,124.0 632.3,123.6 632.7,123.3 633.0,122.7 633.4,121.7 633.7,120.9 634.1,119.2 634.4,118.2 634.8,117.1 635.1,116.7 635.5,117.3 635.8,118.6 636.2,120.1 636.5,121.3 636.9,122.1 637.2,122.8 637.6,123.0 637.9,123.4 638.3,123.2 638.6,123.6 639.0,123.3 639.3,122.9 639.7,122.7 640.0,122.0 640.4,120.6 640.7,119.7 641.1,117.6 641.4,115.4 641.8,111.9 642.1,106.3 642.5,100.0 642.8,94.1 643.2,92.3 643.5,95.8 643.9,102.3 644.2,108.1 644.6,113.4 644.9,116.5 645.3,119.2 645.6,121.1 646.0,122.3 646.3,123.1 646.7,123.9 647.0,124.5 647.4,125.0 647.7,125.6 648.1,125.6 648.4,126.1 648.8,126.3 649.1,126.5 649.5,126.7 649.8,127.0 650.2,127.0 650.5,127.1 650.9,127.2 651.2,127.5 651.6,127.0 651.9,127.6 652.3,127.4 652.6,127.5 653.0,127.4 653.3,127.3 653.7,127.6 654.0,127.6 654.4,127.9 654.7,127.6 655.1,128.1 655.4,128.0 655.8,127.9 656.1,127.9 656.5,127.9 656.8,127.9 657.2,128.0 657.5,128.1 657.9,128.2 658.2,128.0 658.6,128.2 658.9,128.1 659.3,128.3 659.6,128.6 660.0,128.5 660.3,128.4 660.7,128.2 661.0,128.3 661.4,128.2 661.7,128.6 662.1,128.4 662.4,128.6 662.8,128.5 663.1,128.6 663.5,128.9 663.8,128.6 664.2,128.7 664.5,128.6 664.9,128.9 665.2,128.6 665.6,128.6 665.9,128.6 666.3,128.7 666.6,129.0 667.0,129.3 667.3,128.8 667.7,129.1 668.0,129.0 668.4,128.9 668.7,129.0 669.1,129.0 669.4,129.0 669.8,129.4 670.1,128.9 670.5,129.2 670.8,129.2 671.2,129.1 671.5,129.3 671.9,129.4 672.2,129.3" stroke="#2387F3" stroke-width="1.15" fill="none" stroke-linejoin="round"/>
<path d="M475.5,172.5 475.9,172.5 476.2,172.0 476.6,172.5 476.9,172.6 477.3,172.4 477.6,172.3 478.0,171.9 478.3,172.0 478.7,171.7 479.0,171.6 479.4,171.7 479.7,171.1 480.1,170.9 480.4,170.2 480.8,169.8 481.1,168.9 481.5,167.5 481.8,165.7 482.2,163.7 482.5,160.8 482.9,159.9 483.2,161.1 483.6,163.6 483.9,165.6 484.3,166.6 484.6,167.0 485.0,167.3 485.3,167.5 485.7,167.2 486.0,167.8 486.4,168.5 486.7,169.0 487.1,169.8 487.4,170.4 487.8,170.9 488.1,170.9 488.5,171.4 488.8,171.4 489.2,171.4 489.5,171.6 489.9,171.6 490.2,171.4 490.6,171.2 490.9,171.2 491.3,171.5 491.6,171.5 492.0,171.3 492.3,171.4 492.7,171.3 493.0,171.6 493.4,171.8 493.7,171.8 494.1,172.0 494.4,172.3 494.8,172.3 495.1,172.3 495.5,172.6 495.8,172.6 496.2,172.8 496.5,172.7 496.9,172.7 497.2,172.8 497.6,172.8 497.9,172.8 498.3,172.8 498.6,173.0 499.0,173.0 499.3,173.2 499.7,172.7 500.0,172.9 500.4,172.9 500.7,173.0 501.1,173.0 501.4,172.9 501.8,173.1 502.1,173.1 502.5,172.9 502.8,173.2 503.2,173.2 503.5,172.9 503.9,173.1 504.2,172.9 504.6,173.2 504.9,173.0 505.3,172.8 505.6,172.9 506.0,172.8 506.3,172.9 506.7,172.9 507.0,172.8 507.4,172.6 507.7,172.1 508.1,172.6 508.4,172.3 508.8,172.5 509.1,172.6 509.5,172.5 509.8,172.4 510.2,172.4 510.5,172.5 510.9,172.5 511.2,172.5 511.6,172.5 511.9,172.9 512.3,172.8 512.6,173.0 513.0,172.9 513.3,173.0 513.7,173.0 514.0,173.1 514.4,173.1 514.7,173.1 515.1,172.9 515.4,172.9 515.8,173.3 516.1,173.0 516.5,173.0 516.8,173.2 517.2,173.1 517.5,173.0 517.9,172.8 518.2,173.1 518.6,172.8 518.9,172.7 519.3,172.6 519.6,172.3 520.0,172.3 520.3,172.6 520.7,172.6 521.0,172.6 521.4,172.5 521.7,172.5 522.1,172.8 522.4,172.7 522.8,173.1 523.1,173.2 523.5,173.5 523.8,173.3 524.2,173.1 524.5,173.1 524.9,172.7 525.2,173.2 525.6,173.3 525.9,173.5 526.3,173.4 526.6,173.4 527.0,173.4 527.3,173.5 527.7,173.6 528.0,173.2 528.4,173.3 528.7,173.2 529.1,173.6 529.4,173.6 529.8,173.5 530.1,173.2 530.5,173.4 530.8,173.4 531.2,173.4 531.5,173.3 531.9,173.4 532.2,173.3 532.6,173.5 532.9,173.4 533.3,173.3 533.6,173.3 534.0,173.2 534.3,173.4 534.7,173.2 535.0,173.2 535.4,173.1 535.7,172.9 536.1,173.2 536.4,172.9 536.8,173.1 537.1,172.9 537.5,172.5 537.8,172.5 538.2,172.4 538.5,172.2 538.9,171.8 539.2,171.8 539.6,171.2 539.9,170.8 540.3,170.0 540.6,169.6 541.0,169.1 541.3,169.1 541.7,169.4 542.0,169.6 542.4,169.7 542.7,169.5 543.1,169.4 543.4,168.9 543.8,168.1 544.1,167.3 544.5,167.1 544.8,167.5 545.2,167.7 545.5,168.8 545.9,169.7 546.2,170.0 546.6,171.0 546.9,171.3 547.3,172.0 547.6,172.0 548.0,172.1 548.3,172.4 548.7,172.5 549.0,172.5 549.4,172.7 549.7,172.5 550.1,172.7 550.4,172.9 550.8,173.1 551.1,172.9 551.5,172.8 551.8,172.9 552.2,172.8 552.5,172.8 552.9,172.7 553.2,172.4 553.6,172.3 553.9,172.1 554.3,171.8 554.6,171.5 555.0,171.1 555.3,170.5 555.7,170.4 556.0,170.0 556.4,170.2 556.7,170.3 557.1,170.3 557.4,171.0 557.8,171.4 558.1,171.6 558.5,172.2 558.8,172.4 559.2,172.2 559.5,172.7 559.9,172.7 560.2,172.8 560.6,172.9 560.9,172.8 561.3,172.8 561.6,172.8 562.0,172.9 562.3,173.0 562.7,172.8 563.0,172.9 563.4,173.2 563.7,173.1 564.1,173.2 564.4,172.8 564.8,173.0 565.1,173.0 565.5,173.1 565.8,173.0 566.2,173.2 566.5,173.0 566.9,173.0 567.2,173.0 567.6,173.0 567.9,172.8 568.3,173.0 568.6,172.8 569.0,172.7 569.3,172.6 569.7,172.6 570.0,172.5 570.4,172.3 570.7,172.0 571.1,171.8 571.4,171.3 571.8,170.9 572.1,170.0 572.5,168.8 572.8,167.9 573.2,165.8 573.5,163.1 573.9,160.6 574.2,158.8 574.6,159.7 574.9,161.8 575.3,164.1 575.6,166.7 576.0,168.2 576.3,169.7 576.7,170.1 577.0,170.5 577.4,171.2 577.7,171.5 578.1,171.7 578.4,171.6 578.8,172.1 579.1,172.4 579.5,171.9 579.8,172.4 580.2,172.2 580.5,172.6 580.9,172.2 581.2,172.1 581.6,172.2 581.9,172.0 582.3,171.6 582.6,171.6 583.0,171.1 583.3,170.4 583.7,170.4 584.0,169.3 584.4,168.2 584.7,166.7 585.1,164.3 585.4,161.5 585.8,158.5 586.1,156.6 586.5,157.2 586.8,159.9 587.2,162.7 587.5,165.3 587.9,167.2 588.2,168.1 588.6,169.1 588.9,169.5 589.3,170.1 589.6,170.0 590.0,169.9 590.3,169.4 590.7,169.2 591.0,168.6 591.4,168.6 591.7,168.6 592.1,168.9 592.4,169.8 592.8,170.4 593.1,170.7 593.5,171.4 593.8,171.5 594.2,171.7 594.5,171.9 594.9,171.8 595.2,171.9 595.6,172.0 595.9,172.2 596.3,172.1 596.6,171.7 597.0,171.8 597.3,171.4 597.7,171.3 598.0,171.2 598.4,170.9 598.7,171.2 599.1,171.0 599.4,170.9 599.8,171.5 600.1,171.5 600.5,171.8 600.8,171.6 601.2,172.4 601.5,172.5 601.9,172.7 602.2,172.8 602.6,173.0 602.9,172.8 603.3,173.1 603.6,172.9 604.0,173.0 604.3,173.2 604.7,173.2 605.0,172.9 605.4,173.2 605.7,173.2 606.1,173.1 606.4,173.3 606.8,173.2 607.1,173.0 607.5,173.1 607.8,173.5 608.2,173.1 608.5,173.3 608.9,173.4 609.2,173.4 609.6,173.1 609.9,173.3 610.3,173.3 610.6,173.4 611.0,173.2 611.3,173.1 611.7,173.4 612.0,173.4 612.4,173.3 612.7,173.2 613.1,173.3 613.4,173.2 613.8,173.3 614.1,172.9 614.5,173.1 614.8,173.0 615.2,172.8 615.5,172.9 615.9,172.7 616.2,172.5 616.6,172.4 616.9,171.9 617.3,171.8 617.6,171.4 618.0,170.8 618.3,170.5 618.7,169.8 619.0,169.8 619.4,170.4 619.7,170.9 620.1,171.7 620.4,171.8 620.8,171.9 621.1,172.4 621.5,172.4 621.8,172.4 622.2,173.1 622.5,172.8 622.9,172.9 623.2,172.9 623.6,173.1 623.9,172.9 624.3,173.0 624.6,172.6 625.0,172.5 625.3,172.8 625.7,172.7 626.0,172.5 626.4,172.3 626.7,172.0 627.1,171.6 627.4,171.6 627.8,170.9 628.1,170.3 628.5,169.4 628.8,168.6 629.2,167.6 629.5,167.2 629.9,166.9 630.2,167.8 630.6,168.8 630.9,169.2 631.3,169.8 631.6,170.3 632.0,170.6 632.3,170.6 632.7,170.1 633.0,170.2 633.4,169.4 633.7,168.7 634.1,167.8 634.4,166.1 634.8,164.0 635.1,161.7 635.5,159.1 635.8,158.5 636.2,159.9 636.5,162.6 636.9,164.9 637.2,166.8 637.6,168.0 637.9,168.8 638.3,169.4 638.6,169.5 639.0,169.4 639.3,169.3 639.7,169.2 640.0,168.4 640.4,167.5 640.7,166.0 641.1,163.6 641.4,160.6 641.8,156.4 642.1,153.4 642.5,152.1 642.8,154.1 643.2,157.8 643.5,161.9 643.9,164.5 644.2,166.8 644.6,168.6 644.9,169.6 645.3,170.3 645.6,171.2 646.0,171.3 646.3,171.9 646.7,172.1 647.0,172.3 647.4,172.6 647.7,172.6 648.1,173.1 648.4,172.9 648.8,173.4 649.1,173.0 649.5,173.3 649.8,173.1 650.2,173.1 650.5,173.4 650.9,173.5 651.2,173.3 651.6,173.7 651.9,173.4 652.3,173.6 652.6,173.7 653.0,173.7 653.3,173.4 653.7,173.9 654.0,173.8 654.4,173.7 654.7,173.6 655.1,173.5 655.4,173.6 655.8,173.9 656.1,173.8 656.5,173.7 656.8,173.8 657.2,174.1 657.5,173.8 657.9,173.8 658.2,174.1 658.6,174.0 658.9,173.9 659.3,173.8 659.6,173.7 660.0,173.7 660.3,173.9 660.7,173.9 661.0,174.0 661.4,174.0 661.7,174.0 662.1,174.0 662.4,173.8 662.8,173.7 663.1,173.9 663.5,173.9 663.8,173.9 664.2,174.0 664.5,173.8 664.9,173.9 665.2,174.0 665.6,174.1 665.9,173.9 666.3,174.1 666.6,174.0 667.0,173.9 667.3,174.1 667.7,174.3 668.0,174.0 668.4,174.2 668.7,174.3 669.1,174.3 669.4,174.0 669.8,174.4 670.1,174.1 670.5,174.1 670.8,174.1 671.2,174.2 671.5,174.1 671.9,174.1 672.2,174.3" stroke="#FF8A1F" stroke-width="1.15" fill="none" stroke-linejoin="round"/>
<path d="M521.80,98.90 V90.10" stroke="#1e1e1e" stroke-width="1.45"/>
<path d="M519.50,90.60 L521.80,85.60 L524.10,90.60 Z" fill="#1e1e1e"/>
<text x="524.80" y="99.20" font-size="10" text-anchor="start" fill="#1e1e1e" stroke="#1e1e1e" stroke-width="0.15" >1173 cm<tspan font-size="6.80" baseline-shift="3.60">-1</tspan></text>
<path d="M548.00,86.20 V77.10" stroke="#1e1e1e" stroke-width="1.45"/>
<path d="M545.70,77.60 L548.00,72.60 L550.30,77.60 Z" fill="#1e1e1e"/>
<text x="550.80" y="85.80" font-size="10" text-anchor="start" fill="#1e1e1e" stroke="#1e1e1e" stroke-width="0.15" >1296 cm<tspan font-size="6.80" baseline-shift="3.60">-1</tspan></text>
<path d="M617.10,80.40 V71.90" stroke="#1e1e1e" stroke-width="1.45"/>
<path d="M614.80,72.40 L617.10,67.40 L619.40,72.40 Z" fill="#1e1e1e"/>
<text x="620.20" y="81.20" font-size="10" text-anchor="start" fill="#1e1e1e" stroke="#1e1e1e" stroke-width="0.15" >1645 cm<tspan font-size="6.80" baseline-shift="3.60">-1</tspan></text>
<path d="M594.20,97.00 V106.40" stroke="#1e1e1e" stroke-width="1.45"/>
<path d="M591.90,105.90 L594.20,110.90 L596.50,105.90 Z" fill="#1e1e1e"/>
<text x="597.50" y="105.90" font-size="10" text-anchor="start" fill="#1e1e1e" stroke="#1e1e1e" stroke-width="0.15" >1610 cm<tspan font-size="6.80" baseline-shift="3.60">-1</tspan></text>
<text x="548.5" y="113.6" font-size="14.5" text-anchor="middle" fill="#1e1e1e" stroke="#1e1e1e" stroke-width="0.3">*</text>
<text x="573.2" y="101.4" font-size="14.5" text-anchor="middle" fill="#1e1e1e" stroke="#1e1e1e" stroke-width="0.3">*</text>
<text x="642.7" y="93.8" font-size="14.5" text-anchor="middle" fill="#1e1e1e" stroke="#1e1e1e" stroke-width="0.3">*</text>
<text x="635.0" y="119.1" font-size="14.5" text-anchor="middle" fill="#1e1e1e" stroke="#1e1e1e" stroke-width="0.3">*</text>
<path d="M597.4,27.3 H616.7" stroke="#FF8A1F" stroke-width="1.7"/>
<path d="M597.4,38.5 H616.7" stroke="#2387F3" stroke-width="1.7"/>
<text x="618.80" y="31.30" font-size="9.1" text-anchor="start" fill="#1e1e1e" stroke="#1e1e1e" stroke-width="0.15" >Zn-Bipy</text>
<text x="618.80" y="42.50" font-size="9.1" text-anchor="start" fill="#1e1e1e" stroke="#1e1e1e" stroke-width="0.15" >Zn-Bipy-NH<tspan font-size="6.19" baseline-shift="-2.18">3</tspan></text>
<rect x="475.00" y="19.60" width="197.70" height="158.90" fill="none" stroke="#2a2a2a" stroke-width="1.3"/>
<path d="M475.20,178.50 V181.50 M514.61,178.50 V181.50 M554.02,178.50 V181.50 M593.43,178.50 V181.50 M632.84,178.50 V181.50 M672.25,178.50 V181.50 M494.90,178.50 V180.10 M534.31,178.50 V180.10 M573.73,178.50 V180.10 M613.13,178.50 V180.10 M652.54,178.50 V180.10 " stroke="#2a2a2a" stroke-width="1.1" fill="none"/>
<text x="475.20" y="193.40" font-size="10.25" text-anchor="middle" fill="#1e1e1e" stroke="#1e1e1e" stroke-width="0.15" >800</text>
<text x="514.61" y="193.40" font-size="10.25" text-anchor="middle" fill="#1e1e1e" stroke="#1e1e1e" stroke-width="0.15" >1000</text>
<text x="554.02" y="193.40" font-size="10.25" text-anchor="middle" fill="#1e1e1e" stroke="#1e1e1e" stroke-width="0.15" >1200</text>
<text x="593.43" y="193.40" font-size="10.25" text-anchor="middle" fill="#1e1e1e" stroke="#1e1e1e" stroke-width="0.15" >1400</text>
<text x="632.84" y="193.40" font-size="10.25" text-anchor="middle" fill="#1e1e1e" stroke="#1e1e1e" stroke-width="0.15" >1600</text>
<text x="672.25" y="193.40" font-size="10.25" text-anchor="middle" fill="#1e1e1e" stroke="#1e1e1e" stroke-width="0.15" >1800</text>
<text x="532.20" y="204.30" font-size="11.2" text-anchor="start" fill="#1e1e1e" stroke="#1e1e1e" stroke-width="0.15" >Raman shift/cm<tspan font-size="7.62" baseline-shift="4.03">-1</tspan></text>
<path d="M65.9,301.3 66.3,301.3 66.7,301.2 67.1,301.2 67.5,301.2 67.9,301.1 68.3,301.1 68.7,301.1 69.1,301.0 69.5,301.0 69.9,300.9 70.3,300.9 70.7,300.8 71.1,300.8 71.5,300.7 71.9,300.6 72.3,300.6 72.7,300.5 73.1,300.4 73.5,300.3 73.9,300.2 74.3,300.1 74.7,300.0 75.1,299.9 75.5,299.8 75.9,299.7 76.3,299.5 76.7,299.4 77.1,299.3 77.5,299.1 77.9,299.0 78.3,298.8 78.7,298.7 79.1,298.5 79.5,298.3 79.9,298.1 80.3,298.0 80.7,297.8 81.1,297.6 81.5,297.4 81.9,297.2 82.3,297.0 82.7,296.8 83.1,296.6 83.5,296.4 83.9,296.2 84.3,296.0 84.7,295.8 85.1,295.6 85.5,295.4 85.9,295.2 86.3,295.0 86.7,294.8 87.1,294.6 87.5,294.4 87.9,294.3 88.3,294.1 88.7,294.0 89.1,293.8 89.5,293.7 89.9,293.5 90.3,293.4 90.7,293.3 91.1,293.2 91.5,293.2 91.9,293.1 92.3,293.0 92.7,293.0 93.1,293.0 93.5,293.0 93.9,293.0 94.3,293.0 94.7,293.0 95.1,293.1 95.5,293.1 95.9,293.2 96.3,293.3 96.7,293.4 97.1,293.5 97.5,293.6 97.9,293.8 98.3,293.9 98.7,294.1 99.1,294.2 99.5,294.4 99.9,294.6 100.3,294.7 100.7,294.9 101.1,295.1 101.5,295.3 101.9,295.5 102.3,295.7 102.7,295.9 103.1,296.1 103.5,296.3 103.9,296.5 104.3,296.7 104.7,296.9 105.1,297.1 105.5,297.3 105.9,297.5 106.3,297.7 106.7,297.8 107.1,298.0 107.5,298.2 107.9,298.4 108.3,298.5 108.7,298.7 109.1,298.8 109.5,299.0 109.9,299.1 110.3,299.3 110.7,299.4 111.1,299.5 111.5,299.6 111.9,299.8 112.3,299.9 112.7,300.0 113.1,300.1 113.5,300.1 113.9,300.2 114.3,300.3 114.7,300.4 115.1,300.5 115.5,300.5 115.9,300.6 116.3,300.6 116.7,300.7 117.1,300.7 117.5,300.8 117.9,300.8 118.3,300.9 118.7,300.9 119.1,300.9 119.5,301.0 119.9,301.0 120.3,301.0 120.7,301.0 121.1,301.1 L121.1,301.4 120.7,301.4 120.3,301.4 119.9,301.4 119.5,301.4 119.1,301.4 118.7,301.4 118.3,301.4 117.9,301.4 117.5,301.4 117.1,301.4 116.7,301.4 116.3,301.4 115.9,301.4 115.5,301.4 115.1,301.4 114.7,301.4 114.3,301.4 113.9,301.4 113.5,301.4 113.1,301.4 112.7,301.4 112.3,301.4 111.9,301.4 111.5,301.4 111.1,301.4 110.7,301.4 110.3,301.4 109.9,301.4 109.5,301.4 109.1,301.4 108.7,301.4 108.3,301.4 107.9,301.4 107.5,301.4 107.1,301.4 106.7,301.4 106.3,301.4 105.9,301.4 105.5,301.4 105.1,301.4 104.7,301.4 104.3,301.4 103.9,301.4 103.5,301.4 103.1,301.4 102.7,301.4 102.3,301.4 101.9,301.4 101.5,301.4 101.1,301.4 100.7,301.5 100.3,301.5 99.9,301.5 99.5,301.5 99.1,301.5 98.7,301.5 98.3,301.5 97.9,301.5 97.5,301.5 97.1,301.5 96.7,301.5 96.3,301.5 95.9,301.5 95.5,301.5 95.1,301.5 94.7,301.5 94.3,301.5 93.9,301.5 93.5,301.5 93.1,301.5 92.7,301.5 92.3,301.5 91.9,301.5 91.5,301.5 91.1,301.5 90.7,301.5 90.3,301.5 89.9,301.5 89.5,301.5 89.1,301.5 88.7,301.5 88.3,301.5 87.9,301.5 87.5,301.5 87.1,301.5 86.7,301.5 86.3,301.5 85.9,301.5 85.5,301.5 85.1,301.5 84.7,301.5 84.3,301.5 83.9,301.5 83.5,301.5 83.1,301.5 82.7,301.5 82.3,301.5 81.9,301.5 81.5,301.5 81.1,301.5 80.7,301.5 80.3,301.5 79.9,301.5 79.5,301.5 79.1,301.5 78.7,301.5 78.3,301.5 77.9,301.5 77.5,301.5 77.1,301.5 76.7,301.5 76.3,301.5 75.9,301.6 75.5,301.6 75.1,301.6 74.7,301.6 74.3,301.6 73.9,301.6 73.5,301.6 73.1,301.6 72.7,301.6 72.3,301.6 71.9,301.6 71.5,301.6 71.1,301.6 70.7,301.6 70.3,301.6 69.9,301.6 69.5,301.6 69.1,301.6 68.7,301.6 68.3,301.6 67.9,301.6 67.5,301.6 67.1,301.6 66.7,301.6 66.3,301.6 65.9,301.6 Z" fill="url(#g1)"/>
<path d="M35.5,301.4 35.9,301.4 36.3,301.4 36.7,301.4 37.1,301.4 37.5,301.4 37.9,301.4 38.3,301.4 38.7,301.4 39.1,301.4 39.5,301.4 39.9,301.4 40.3,301.4 40.7,301.4 41.1,301.4 41.5,301.3 41.9,301.3 42.3,301.3 42.7,301.3 43.1,301.3 43.5,301.3 43.9,301.3 44.3,301.3 44.7,301.3 45.1,301.3 45.5,301.3 45.9,301.3 46.3,301.3 46.7,301.3 47.1,301.3 47.5,301.3 47.9,301.3 48.3,301.3 48.7,301.3 49.1,301.3 49.5,301.2 49.9,301.2 50.3,301.2 50.7,301.2 51.1,301.2 51.5,301.2 51.9,301.2 52.3,301.2 52.7,301.2 53.1,301.2 53.5,301.2 53.9,301.2 54.3,301.2 54.7,301.2 55.1,301.2 55.5,301.2 55.9,301.1 56.3,301.1 56.7,301.1 57.1,301.1 57.5,301.1 57.9,301.1 58.3,301.1 58.7,301.1 59.1,301.1 59.5,301.1 59.9,301.1 60.3,301.1 60.7,301.1 61.1,301.1 61.5,301.0 61.9,301.0 62.3,301.0 62.7,301.0 63.1,301.0 63.5,301.0 63.9,301.0 64.3,301.0 64.7,301.0 65.1,301.0 65.5,301.0 65.9,301.0 66.3,300.9 66.7,300.9 67.1,300.9 67.5,300.9 67.9,300.9 68.3,300.9 68.7,300.9 69.1,300.9 69.5,300.9 69.9,300.9 70.3,300.8 70.7,300.8 71.1,300.8 71.5,300.8 71.9,300.8 72.3,300.8 72.7,300.8 73.1,300.8 73.5,300.7 73.9,300.7 74.3,300.7 74.7,300.7 75.1,300.7 75.5,300.7 75.9,300.7 76.3,300.7 76.7,300.6 77.1,300.6 77.5,300.6 77.9,300.6 78.3,300.6 78.7,300.6 79.1,300.5 79.5,300.5 79.9,300.5 80.3,300.5 80.7,300.5 81.1,300.5 81.5,300.4 81.9,300.4 82.3,300.4 82.7,300.4 83.1,300.4 83.5,300.3 83.9,300.3 84.3,300.3 84.7,300.3 85.1,300.3 85.5,300.2 85.9,300.2 86.3,300.2 86.7,300.2 87.1,300.1 87.5,300.1 87.9,300.1 88.3,300.1 88.7,300.0 89.1,300.0 89.5,300.0 89.9,300.0 90.3,299.9 90.7,299.9 91.1,299.9 91.5,299.8 91.9,299.8 92.3,299.8 92.7,299.7 93.1,299.7 93.5,299.6 93.9,299.6 94.3,299.6 94.7,299.5 95.1,299.5 95.5,299.4 95.9,299.4 96.3,299.3 96.7,299.3 97.1,299.3 97.5,299.2 97.9,299.1 98.3,299.1 98.7,299.0 99.1,299.0 99.5,298.9 99.9,298.8 100.3,298.8 100.7,298.7 101.1,298.6 101.5,298.6 101.9,298.5 102.3,298.4 102.7,298.3 103.1,298.2 103.5,298.1 103.9,298.0 104.3,297.9 104.7,297.8 105.1,297.7 105.5,297.5 105.9,297.4 106.3,297.2 106.7,297.1 107.1,296.9 107.5,296.7 107.9,296.6 108.3,296.4 108.7,296.1 109.1,295.9 109.5,295.7 109.9,295.4 110.3,295.1 110.7,294.8 111.1,294.5 111.5,294.1 111.9,293.8 112.3,293.4 112.7,293.0 113.1,292.5 113.5,292.1 113.9,291.6 114.3,291.0 114.7,290.5 115.1,289.9 115.5,289.2 115.9,288.5 116.3,287.8 116.7,287.1 117.1,286.3 117.5,285.5 117.9,284.6 118.3,283.7 118.7,282.8 119.1,281.8 119.5,280.8 119.9,279.7 120.3,278.6 120.7,277.5 121.1,276.3 121.5,275.1 121.9,273.9 122.3,272.7 122.7,271.4 123.1,270.1 123.5,268.8 123.9,267.4 124.3,266.1 124.7,264.8 125.1,263.5 125.5,262.2 125.9,260.9 126.3,259.6 126.7,258.4 127.1,257.2 127.5,256.1 127.9,255.1 128.3,254.2 128.7,253.3 129.1,252.6 129.5,252.0 129.9,251.5 130.3,251.1 130.7,250.8 131.1,250.7 131.5,250.8 131.9,250.9 132.3,251.2 132.7,251.7 133.1,252.3 133.5,252.9 133.9,253.7 134.3,254.6 134.7,255.6 135.1,256.7 135.5,257.8 135.9,259.0 136.3,260.2 136.7,261.5 137.1,262.8 137.5,264.1 137.9,265.4 138.3,266.7 138.7,268.0 139.1,269.4 139.5,270.7 139.9,272.0 140.3,273.2 140.7,274.5 141.1,275.7 141.5,276.8 141.9,278.0 142.3,279.1 142.7,280.2 143.1,281.2 143.5,282.2 143.9,283.2 144.3,284.1 144.7,285.0 145.1,285.8 145.5,286.6 145.9,287.4 146.3,288.1 146.7,288.8 147.1,289.4 147.5,290.0 147.9,290.6 148.3,291.2 148.7,291.7 149.1,292.2 149.5,292.6 149.9,293.0 150.3,293.4 150.7,293.8 151.1,294.2 151.5,294.5 151.9,294.8 152.3,295.1 152.7,295.4 153.1,295.6 153.5,295.8 153.9,296.1 154.3,296.3 154.7,296.5 155.1,296.6 155.5,296.8 155.9,297.0 156.3,297.1 156.7,297.3 157.1,297.4 157.5,297.5 157.9,297.6 158.3,297.7 158.7,297.8 159.1,297.9 159.5,298.0 159.9,298.1 160.3,298.2 160.7,298.3 161.1,298.4 161.5,298.4 161.9,298.5 162.3,298.6 162.7,298.6 163.1,298.7 163.5,298.7 163.9,298.8 164.3,298.9 164.7,298.9 165.1,299.0 165.5,299.0 165.9,299.0 166.3,299.1 166.7,299.1 167.1,299.2 167.5,299.2 167.9,299.3 168.3,299.3 168.7,299.3 169.1,299.4 169.5,299.4 169.9,299.4 170.3,299.5 170.7,299.5 171.1,299.5 171.5,299.6 171.9,299.6 172.3,299.6 172.7,299.6 173.1,299.7 173.5,299.7 173.9,299.7 174.3,299.7 174.7,299.8 175.1,299.8 175.5,299.8 175.9,299.8 176.3,299.8 176.7,299.9 177.1,299.9 177.5,299.9 177.9,299.9 178.3,299.9 178.7,300.0 179.1,300.0 179.5,300.0 179.9,300.0 180.3,300.0 180.7,300.0 181.1,300.1 181.5,300.1 181.9,300.1 182.3,300.1 182.7,300.1 183.1,300.1 183.5,300.1 183.9,300.1 184.3,300.2 184.7,300.2 185.1,300.2 185.5,300.2 185.9,300.2 186.3,300.2 186.7,300.2 187.1,300.2 187.5,300.3 187.9,300.3 188.3,300.3 188.7,300.3 189.1,300.3 189.5,300.3 189.9,300.3 190.3,300.3 190.7,300.3 191.1,300.3 191.5,300.3 191.9,300.3 192.3,300.4 192.7,300.4 193.1,300.4 193.5,300.4 193.9,300.4 194.3,300.4 194.7,300.4 195.1,300.4 195.5,300.4 195.9,300.4 196.3,300.4 196.7,300.4 197.1,300.4 197.5,300.4 197.9,300.4 198.3,300.5 198.7,300.5 199.1,300.5 199.5,300.5 199.9,300.5 200.3,300.5 200.7,300.5 201.1,300.5 201.5,300.5 201.9,300.5 202.3,300.5 202.7,300.5 203.1,300.5 203.5,300.5 203.9,300.5 204.3,300.5 204.7,300.5 205.1,300.5 205.5,300.5 205.9,300.5 206.3,300.5 206.7,300.5 207.1,300.5 207.5,300.6 207.9,300.6 208.3,300.6 208.7,300.6 209.1,300.6 209.5,300.6 209.9,300.6 210.3,300.6 210.7,300.6 211.1,300.6 211.5,300.6 211.9,300.6 212.3,300.6 L212.3,301.0 211.9,301.0 211.5,301.0 211.1,301.0 210.7,301.0 210.3,301.0 209.9,301.0 209.5,301.0 209.1,301.0 208.7,301.0 208.3,301.0 207.9,301.0 207.5,301.0 207.1,301.0 206.7,301.0 206.3,301.0 205.9,301.0 205.5,301.0 205.1,301.0 204.7,301.0 204.3,301.0 203.9,301.0 203.5,301.0 203.1,301.0 202.7,301.0 202.3,301.0 201.9,301.0 201.5,301.0 201.1,301.0 200.7,301.1 200.3,301.1 199.9,301.1 199.5,301.1 199.1,301.1 198.7,301.1 198.3,301.1 197.9,301.1 197.5,301.1 197.1,301.1 196.7,301.1 196.3,301.1 195.9,301.1 195.5,301.1 195.1,301.1 194.7,301.1 194.3,301.1 193.9,301.1 193.5,301.1 193.1,301.1 192.7,301.1 192.3,301.1 191.9,301.1 191.5,301.1 191.1,301.1 190.7,301.1 190.3,301.1 189.9,301.1 189.5,301.1 189.1,301.1 188.7,301.1 188.3,301.1 187.9,301.1 187.5,301.1 187.1,301.1 186.7,301.1 186.3,301.1 185.9,301.1 185.5,301.1 185.1,301.1 184.7,301.1 184.3,301.1 183.9,301.1 183.5,301.1 183.1,301.1 182.7,301.1 182.3,301.1 181.9,301.1 181.5,301.1 181.1,301.1 180.7,301.1 180.3,301.1 179.9,301.1 179.5,301.1 179.1,301.1 178.7,301.1 178.3,301.1 177.9,301.1 177.5,301.1 177.1,301.1 176.7,301.1 176.3,301.1 175.9,301.1 175.5,301.2 175.1,301.2 174.7,301.2 174.3,301.2 173.9,301.2 173.5,301.2 173.1,301.2 172.7,301.2 172.3,301.2 171.9,301.2 171.5,301.2 171.1,301.2 170.7,301.2 170.3,301.2 169.9,301.2 169.5,301.2 169.1,301.2 168.7,301.2 168.3,301.2 167.9,301.2 167.5,301.2 167.1,301.2 166.7,301.2 166.3,301.2 165.9,301.2 165.5,301.2 165.1,301.2 164.7,301.2 164.3,301.2 163.9,301.2 163.5,301.2 163.1,301.2 162.7,301.2 162.3,301.2 161.9,301.2 161.5,301.2 161.1,301.2 160.7,301.2 160.3,301.2 159.9,301.2 159.5,301.2 159.1,301.2 158.7,301.2 158.3,301.2 157.9,301.2 157.5,301.2 157.1,301.2 156.7,301.2 156.3,301.2 155.9,301.2 155.5,301.2 155.1,301.2 154.7,301.2 154.3,301.2 153.9,301.2 153.5,301.2 153.1,301.2 152.7,301.2 152.3,301.2 151.9,301.2 151.5,301.2 151.1,301.2 150.7,301.3 150.3,301.3 149.9,301.3 149.5,301.3 149.1,301.3 148.7,301.3 148.3,301.3 147.9,301.3 147.5,301.3 147.1,301.3 146.7,301.3 146.3,301.3 145.9,301.3 145.5,301.3 145.1,301.3 144.7,301.3 144.3,301.3 143.9,301.3 143.5,301.3 143.1,301.3 142.7,301.3 142.3,301.3 141.9,301.3 141.5,301.3 141.1,301.3 140.7,301.3 140.3,301.3 139.9,301.3 139.5,301.3 139.1,301.3 138.7,301.3 138.3,301.3 137.9,301.3 137.5,301.3 137.1,301.3 136.7,301.3 136.3,301.3 135.9,301.3 135.5,301.3 135.1,301.3 134.7,301.3 134.3,301.3 133.9,301.3 133.5,301.3 133.1,301.3 132.7,301.3 132.3,301.3 131.9,301.3 131.5,301.3 131.1,301.3 130.7,301.3 130.3,301.3 129.9,301.3 129.5,301.3 129.1,301.3 128.7,301.3 128.3,301.3 127.9,301.3 127.5,301.3 127.1,301.3 126.7,301.3 126.3,301.3 125.9,301.4 125.5,301.4 125.1,301.4 124.7,301.4 124.3,301.4 123.9,301.4 123.5,301.4 123.1,301.4 122.7,301.4 122.3,301.4 121.9,301.4 121.5,301.4 121.1,301.4 120.7,301.4 120.3,301.4 119.9,301.4 119.5,301.4 119.1,301.4 118.7,301.4 118.3,301.4 117.9,301.4 117.5,301.4 117.1,301.4 116.7,301.4 116.3,301.4 115.9,301.4 115.5,301.4 115.1,301.4 114.7,301.4 114.3,301.4 113.9,301.4 113.5,301.4 113.1,301.4 112.7,301.4 112.3,301.4 111.9,301.4 111.5,301.4 111.1,301.4 110.7,301.4 110.3,301.4 109.9,301.4 109.5,301.4 109.1,301.4 108.7,301.4 108.3,301.4 107.9,301.4 107.5,301.4 107.1,301.4 106.7,301.4 106.3,301.4 105.9,301.4 105.5,301.4 105.1,301.4 104.7,301.4 104.3,301.4 103.9,301.4 103.5,301.4 103.1,301.4 102.7,301.4 102.3,301.4 101.9,301.4 101.5,301.4 101.1,301.4 100.7,301.5 100.3,301.5 99.9,301.5 99.5,301.5 99.1,301.5 98.7,301.5 98.3,301.5 97.9,301.5 97.5,301.5 97.1,301.5 96.7,301.5 96.3,301.5 95.9,301.5 95.5,301.5 95.1,301.5 94.7,301.5 94.3,301.5 93.9,301.5 93.5,301.5 93.1,301.5 92.7,301.5 92.3,301.5 91.9,301.5 91.5,301.5 91.1,301.5 90.7,301.5 90.3,301.5 89.9,301.5 89.5,301.5 89.1,301.5 88.7,301.5 88.3,301.5 87.9,301.5 87.5,301.5 87.1,301.5 86.7,301.5 86.3,301.5 85.9,301.5 85.5,301.5 85.1,301.5 84.7,301.5 84.3,301.5 83.9,301.5 83.5,301.5 83.1,301.5 82.7,301.5 82.3,301.5 81.9,301.5 81.5,301.5 81.1,301.5 80.7,301.5 80.3,301.5 79.9,301.5 79.5,301.5 79.1,301.5 78.7,301.5 78.3,301.5 77.9,301.5 77.5,301.5 77.1,301.5 76.7,301.5 76.3,301.5 75.9,301.6 75.5,301.6 75.1,301.6 74.7,301.6 74.3,301.6 73.9,301.6 73.5,301.6 73.1,301.6 72.7,301.6 72.3,301.6 71.9,301.6 71.5,301.6 71.1,301.6 70.7,301.6 70.3,301.6 69.9,301.6 69.5,301.6 69.1,301.6 68.7,301.6 68.3,301.6 67.9,301.6 67.5,301.6 67.1,301.6 66.7,301.6 66.3,301.6 65.9,301.6 65.5,301.6 65.1,301.6 64.7,301.6 64.3,301.6 63.9,301.6 63.5,301.6 63.1,301.6 62.7,301.6 62.3,301.6 61.9,301.6 61.5,301.6 61.1,301.6 60.7,301.6 60.3,301.6 59.9,301.6 59.5,301.6 59.1,301.6 58.7,301.6 58.3,301.6 57.9,301.6 57.5,301.6 57.1,301.6 56.7,301.6 56.3,301.6 55.9,301.6 55.5,301.6 55.1,301.6 54.7,301.6 54.3,301.6 53.9,301.6 53.5,301.6 53.1,301.6 52.7,301.6 52.3,301.6 51.9,301.6 51.5,301.6 51.1,301.7 50.7,301.7 50.3,301.7 49.9,301.7 49.5,301.7 49.1,301.7 48.7,301.7 48.3,301.7 47.9,301.7 47.5,301.7 47.1,301.7 46.7,301.7 46.3,301.7 45.9,301.7 45.5,301.7 45.1,301.7 44.7,301.7 44.3,301.7 43.9,301.7 43.5,301.7 43.1,301.7 42.7,301.7 42.3,301.7 41.9,301.7 41.5,301.7 41.1,301.7 40.7,301.7 40.3,301.7 39.9,301.7 39.5,301.7 39.1,301.7 38.7,301.7 38.3,301.7 37.9,301.7 37.5,301.7 37.1,301.7 36.7,301.7 36.3,301.7 35.9,301.7 35.5,301.7 Z" fill="url(#g2)"/>
<path d="M15.9,301.8 16.3,301.8 16.7,301.8 17.1,301.8 17.5,301.8 17.9,301.8 18.3,301.8 18.7,301.8 19.1,301.8 19.5,301.8 19.9,301.8 20.3,301.8 20.7,301.8 21.1,301.8 21.5,301.8 21.9,301.8 22.3,301.8 22.7,301.8 23.1,301.8 23.5,301.8 23.9,301.8 24.3,301.8 24.7,301.8 25.1,301.8 25.5,301.8 25.9,301.8 26.3,301.8 26.7,301.7 27.1,301.7 27.5,301.7 27.9,301.7 28.3,301.7 28.7,301.7 29.1,301.7 29.5,301.7 29.9,301.7 30.3,301.7 30.7,301.7 31.1,301.7 31.5,301.7 31.9,301.7 32.3,301.7 32.7,301.7 33.1,301.7 33.5,301.7 33.9,301.7 34.3,301.7 34.7,301.7 35.1,301.7 35.5,301.7 35.9,301.7 36.3,301.7 36.7,301.7 37.1,301.7 37.5,301.7 37.9,301.7 38.3,301.7 38.7,301.7 39.1,301.7 39.5,301.7 39.9,301.7 40.3,301.7 40.7,301.7 41.1,301.7 41.5,301.7 41.9,301.7 42.3,301.7 42.7,301.7 43.1,301.7 43.5,301.7 43.9,301.7 44.3,301.7 44.7,301.7 45.1,301.7 45.5,301.7 45.9,301.7 46.3,301.7 46.7,301.7 47.1,301.7 47.5,301.7 47.9,301.7 48.3,301.7 48.7,301.7 49.1,301.7 49.5,301.7 49.9,301.7 50.3,301.7 50.7,301.7 51.1,301.7 51.5,301.6 51.9,301.6 52.3,301.6 52.7,301.6 53.1,301.6 53.5,301.6 53.9,301.6 54.3,301.6 54.7,301.6 55.1,301.6 55.5,301.6 55.9,301.6 56.3,301.6 56.7,301.6 57.1,301.6 57.5,301.6 57.9,301.6 58.3,301.6 58.7,301.6 59.1,301.6 59.5,301.6 59.9,301.6 60.3,301.6 60.7,301.6 61.1,301.6 61.5,301.6 61.9,301.6 62.3,301.6 62.7,301.6 63.1,301.6 63.5,301.6 63.9,301.6 64.3,301.6 64.7,301.6 65.1,301.6 65.5,301.6 65.9,301.6 66.3,301.6 66.7,301.6 67.1,301.6 67.5,301.6 67.9,301.6 68.3,301.6 68.7,301.6 69.1,301.6 69.5,301.6 69.9,301.6 70.3,301.6 70.7,301.6 71.1,301.6 71.5,301.6 71.9,301.6 72.3,301.6 72.7,301.6 73.1,301.6 73.5,301.6 73.9,301.6 74.3,301.6 74.7,301.6 75.1,301.6 75.5,301.6 75.9,301.6 76.3,301.5 76.7,301.5 77.1,301.5 77.5,301.5 77.9,301.5 78.3,301.5 78.7,301.5 79.1,301.5 79.5,301.5 79.9,301.5 80.3,301.5 80.7,301.5 81.1,301.5 81.5,301.5 81.9,301.5 82.3,301.5 82.7,301.5 83.1,301.5 83.5,301.5 83.9,301.5 84.3,301.5 84.7,301.5 85.1,301.5 85.5,301.5 85.9,301.5 86.3,301.5 86.7,301.5 87.1,301.5 87.5,301.5 87.9,301.5 88.3,301.5 88.7,301.5 89.1,301.5 89.5,301.5 89.9,301.5 90.3,301.5 90.7,301.5 91.1,301.5 91.5,301.5 91.9,301.5 92.3,301.5 92.7,301.5 93.1,301.5 93.5,301.5 93.9,301.5 94.3,301.5 94.7,301.5 95.1,301.5 95.5,301.5 95.9,301.5 96.3,301.5 96.7,301.5 97.1,301.5 97.5,301.5 97.9,301.5 98.3,301.5 98.7,301.5 99.1,301.5 99.5,301.5 99.9,301.5 100.3,301.5 100.7,301.5 101.1,301.4 101.5,301.4 101.9,301.4 102.3,301.4 102.7,301.4 103.1,301.4 103.5,301.4 103.9,301.4 104.3,301.4 104.7,301.4 105.1,301.4 105.5,301.4 105.9,301.4 106.3,301.4 106.7,301.4 107.1,301.4 107.5,301.4 107.9,301.4 108.3,301.4 108.7,301.4 109.1,301.4 109.5,301.4 109.9,301.4 110.3,301.4 110.7,301.4 111.1,301.4 111.5,301.4 111.9,301.4 112.3,301.4 112.7,301.4 113.1,301.4 113.5,301.4 113.9,301.4 114.3,301.4 114.7,301.4 115.1,301.4 115.5,301.4 115.9,301.4 116.3,301.4 116.7,301.4 117.1,301.4 117.5,301.4 117.9,301.4 118.3,301.4 118.7,301.4 119.1,301.4 119.5,301.4 119.9,301.4 120.3,301.4 120.7,301.4 121.1,301.4 121.5,301.4 121.9,301.4 122.3,301.4 122.7,301.4 123.1,301.4 123.5,301.4 123.9,301.4 124.3,301.4 124.7,301.4 125.1,301.4 125.5,301.4 125.9,301.4 126.3,301.3 126.7,301.3 127.1,301.3 127.5,301.3 127.9,301.3 128.3,301.3 128.7,301.3 129.1,301.3 129.5,301.3 129.9,301.3 130.3,301.3 130.7,301.3 131.1,301.3 131.5,301.3 131.9,301.3 132.3,301.3 132.7,301.3 133.1,301.3 133.5,301.3 133.9,301.3 134.3,301.3 134.7,301.3 135.1,301.3 135.5,301.3 135.9,301.3 136.3,301.3 136.7,301.3 137.1,301.3 137.5,301.3 137.9,301.3 138.3,301.3 138.7,301.3 139.1,301.3 139.5,301.3 139.9,301.3 140.3,301.3 140.7,301.3 141.1,301.3 141.5,301.3 141.9,301.3 142.3,301.3 142.7,301.3 143.1,301.3 143.5,301.3 143.9,301.3 144.3,301.3 144.7,301.3 145.1,301.3 145.5,301.3 145.9,301.3 146.3,301.3 146.7,301.3 147.1,301.3 147.5,301.3 147.9,301.3 148.3,301.3 148.7,301.3 149.1,301.3 149.5,301.3 149.9,301.3 150.3,301.3 150.7,301.3 151.1,301.2 151.5,301.2 151.9,301.2 152.3,301.2 152.7,301.2 153.1,301.2 153.5,301.2 153.9,301.2 154.3,301.2 154.7,301.2 155.1,301.2 155.5,301.2 155.9,301.2 156.3,301.2 156.7,301.2 157.1,301.2 157.5,301.2 157.9,301.2 158.3,301.2 158.7,301.2 159.1,301.2 159.5,301.2 159.9,301.2 160.3,301.2 160.7,301.2 161.1,301.2 161.5,301.2 161.9,301.2 162.3,301.2 162.7,301.2 163.1,301.2 163.5,301.2 163.9,301.2 164.3,301.2 164.7,301.2 165.1,301.2 165.5,301.2 165.9,301.2 166.3,301.2 166.7,301.2 167.1,301.2 167.5,301.2 167.9,301.2 168.3,301.2 168.7,301.2 169.1,301.2 169.5,301.2 169.9,301.2 170.3,301.2 170.7,301.2 171.1,301.2 171.5,301.2 171.9,301.2 172.3,301.2 172.7,301.2 173.1,301.2 173.5,301.2 173.9,301.2 174.3,301.2 174.7,301.2 175.1,301.2 175.5,301.2 175.9,301.1 176.3,301.1 176.7,301.1 177.1,301.1 177.5,301.1 177.9,301.1 178.3,301.1 178.7,301.1 179.1,301.1 179.5,301.1 179.9,301.1 180.3,301.1 180.7,301.1 181.1,301.1 181.5,301.1 181.9,301.1 182.3,301.1 182.7,301.1 183.1,301.1 183.5,301.1 183.9,301.1 184.3,301.1 184.7,301.1 185.1,301.1 185.5,301.1 185.9,301.1 186.3,301.1 186.7,301.1 187.1,301.1 187.5,301.1 187.9,301.1 188.3,301.1 188.7,301.1 189.1,301.1 189.5,301.1 189.9,301.1 190.3,301.1 190.7,301.1 191.1,301.1 191.5,301.1 191.9,301.1 192.3,301.1 192.7,301.1 193.1,301.1 193.5,301.1 193.9,301.1 194.3,301.1 194.7,301.1 195.1,301.1 195.5,301.1 195.9,301.1 196.3,301.1 196.7,301.1 197.1,301.1 197.5,301.1 197.9,301.1 198.3,301.1 198.7,301.1 199.1,301.1 199.5,301.1 199.9,301.1 200.3,301.1 200.7,301.1 201.1,301.0 201.5,301.0 201.9,301.0 202.3,301.0 202.7,301.0 203.1,301.0 203.5,301.0 203.9,301.0 204.3,301.0 204.7,301.0 205.1,301.0 205.5,301.0 205.9,301.0 206.3,301.0 206.7,301.0 207.1,301.0 207.5,301.0 207.9,301.0 208.3,301.0 208.7,301.0 209.1,301.0 209.5,301.0 209.9,301.0 210.3,301.0 210.7,301.0 211.1,301.0 211.5,301.0 211.9,301.0 212.3,301.0" stroke="#9a9a2a" stroke-width="1.6" fill="none"/>
<g fill="#f2f2f2" stroke="#8c8c8c" stroke-width="1.0"><circle cx="16.9" cy="299.0" r="2.0"/><circle cx="18.8" cy="298.8" r="2.0"/><circle cx="20.7" cy="300.1" r="2.0"/><circle cx="22.6" cy="300.0" r="2.0"/><circle cx="24.5" cy="300.3" r="2.0"/><circle cx="26.4" cy="298.7" r="2.0"/><circle cx="28.3" cy="300.2" r="2.0"/><circle cx="30.2" cy="299.8" r="2.0"/><circle cx="32.1" cy="300.7" r="2.0"/><circle cx="34.0" cy="298.5" r="2.0"/><circle cx="35.9" cy="299.5" r="2.0"/><circle cx="37.8" cy="299.2" r="2.0"/><circle cx="39.7" cy="298.2" r="2.0"/><circle cx="41.6" cy="298.8" r="2.0"/><circle cx="43.5" cy="300.1" r="2.0"/><circle cx="45.4" cy="298.9" r="2.0"/><circle cx="47.3" cy="298.7" r="2.0"/><circle cx="49.2" cy="299.8" r="2.0"/><circle cx="51.1" cy="299.9" r="2.0"/><circle cx="53.0" cy="299.8" r="2.0"/><circle cx="54.9" cy="298.5" r="2.0"/><circle cx="56.8" cy="299.0" r="2.0"/><circle cx="58.7" cy="299.7" r="2.0"/><circle cx="60.6" cy="298.5" r="2.0"/><circle cx="62.5" cy="298.3" r="2.0"/><circle cx="64.4" cy="299.4" r="2.0"/><circle cx="66.3" cy="299.8" r="2.0"/><circle cx="68.2" cy="297.6" r="2.0"/><circle cx="70.1" cy="296.3" r="2.0"/><circle cx="72.0" cy="296.8" r="2.0"/><circle cx="73.9" cy="296.6" r="2.0"/><circle cx="75.8" cy="296.7" r="2.0"/><circle cx="77.7" cy="296.6" r="2.0"/><circle cx="79.6" cy="295.1" r="2.0"/><circle cx="81.5" cy="293.7" r="2.0"/><circle cx="83.4" cy="293.4" r="2.0"/><circle cx="85.3" cy="291.4" r="2.0"/><circle cx="87.2" cy="291.2" r="2.0"/><circle cx="89.1" cy="289.8" r="2.0"/><circle cx="91.0" cy="292.0" r="2.0"/><circle cx="92.9" cy="289.9" r="2.0"/><circle cx="94.8" cy="288.4" r="2.0"/><circle cx="96.7" cy="288.4" r="2.0"/><circle cx="98.6" cy="289.2" r="2.0"/><circle cx="100.5" cy="288.7" r="2.0"/><circle cx="102.4" cy="290.1" r="2.0"/><circle cx="104.3" cy="290.6" r="2.0"/><circle cx="106.2" cy="292.2" r="2.0"/><circle cx="108.1" cy="291.1" r="2.0"/><circle cx="110.0" cy="290.4" r="2.0"/><circle cx="111.9" cy="289.0" r="2.0"/><circle cx="113.8" cy="287.5" r="2.0"/><circle cx="115.7" cy="286.0" r="2.0"/><circle cx="117.6" cy="282.5" r="2.0"/><circle cx="119.5" cy="279.6" r="2.0"/><circle cx="121.4" cy="272.5" r="2.0"/><circle cx="123.3" cy="268.5" r="2.0"/><circle cx="125.2" cy="261.3" r="2.0"/><circle cx="127.1" cy="255.1" r="2.0"/><circle cx="129.0" cy="247.8" r="2.0"/><circle cx="130.9" cy="246.8" r="2.0"/><circle cx="132.8" cy="250.8" r="2.0"/><circle cx="134.7" cy="255.5" r="2.0"/><circle cx="136.6" cy="259.4" r="2.0"/><circle cx="138.5" cy="266.3" r="2.0"/><circle cx="140.4" cy="271.0" r="2.0"/><circle cx="142.3" cy="276.7" r="2.0"/><circle cx="144.2" cy="281.2" r="2.0"/><circle cx="146.1" cy="286.6" r="2.0"/><circle cx="148.0" cy="289.0" r="2.0"/><circle cx="149.9" cy="290.8" r="2.0"/><circle cx="151.8" cy="292.4" r="2.0"/><circle cx="153.7" cy="294.4" r="2.0"/><circle cx="155.6" cy="295.1" r="2.0"/><circle cx="157.5" cy="294.8" r="2.0"/><circle cx="159.4" cy="297.3" r="2.0"/><circle cx="161.3" cy="296.6" r="2.0"/><circle cx="163.2" cy="296.7" r="2.0"/><circle cx="165.1" cy="298.0" r="2.0"/><circle cx="167.0" cy="297.9" r="2.0"/><circle cx="168.9" cy="297.3" r="2.0"/><circle cx="170.8" cy="297.9" r="2.0"/><circle cx="172.7" cy="296.8" r="2.0"/><circle cx="174.6" cy="297.3" r="2.0"/><circle cx="176.5" cy="296.2" r="2.0"/><circle cx="178.4" cy="298.8" r="2.0"/><circle cx="180.3" cy="296.6" r="2.0"/><circle cx="182.2" cy="298.6" r="2.0"/><circle cx="184.1" cy="297.5" r="2.0"/><circle cx="186.0" cy="297.5" r="2.0"/><circle cx="187.9" cy="298.1" r="2.0"/><circle cx="189.8" cy="298.5" r="2.0"/><circle cx="191.7" cy="298.8" r="2.0"/><circle cx="193.6" cy="299.7" r="2.0"/><circle cx="195.5" cy="298.7" r="2.0"/><circle cx="197.4" cy="299.1" r="2.0"/><circle cx="199.3" cy="298.0" r="2.0"/><circle cx="201.2" cy="299.0" r="2.0"/><circle cx="203.1" cy="298.6" r="2.0"/><circle cx="205.0" cy="298.2" r="2.0"/><circle cx="206.9" cy="298.5" r="2.0"/><circle cx="208.8" cy="298.5" r="2.0"/></g>
<path d="M15.9,300.6 16.3,300.6 16.7,300.6 17.1,300.6 17.5,300.6 17.9,300.5 18.3,300.5 18.7,300.5 19.1,300.5 19.5,300.5 19.9,300.5 20.3,300.5 20.7,300.5 21.1,300.5 21.5,300.5 21.9,300.5 22.3,300.5 22.7,300.5 23.1,300.5 23.5,300.5 23.9,300.5 24.3,300.5 24.7,300.5 25.1,300.5 25.5,300.5 25.9,300.5 26.3,300.5 26.7,300.5 27.1,300.5 27.5,300.5 27.9,300.5 28.3,300.5 28.7,300.5 29.1,300.4 29.5,300.4 29.9,300.4 30.3,300.4 30.7,300.4 31.1,300.4 31.5,300.4 31.9,300.4 32.3,300.4 32.7,300.4 33.1,300.4 33.5,300.4 33.9,300.4 34.3,300.4 34.7,300.4 35.1,300.4 35.5,300.4 35.9,300.4 36.3,300.4 36.7,300.4 37.1,300.4 37.5,300.4 37.9,300.4 38.3,300.3 38.7,300.3 39.1,300.3 39.5,300.3 39.9,300.3 40.3,300.3 40.7,300.3 41.1,300.3 41.5,300.3 41.9,300.3 42.3,300.3 42.7,300.3 43.1,300.3 43.5,300.3 43.9,300.3 44.3,300.3 44.7,300.3 45.1,300.3 45.5,300.3 45.9,300.2 46.3,300.2 46.7,300.2 47.1,300.2 47.5,300.2 47.9,300.2 48.3,300.2 48.7,300.2 49.1,300.2 49.5,300.2 49.9,300.2 50.3,300.2 50.7,300.2 51.1,300.2 51.5,300.2 51.9,300.1 52.3,300.1 52.7,300.1 53.1,300.1 53.5,300.1 53.9,300.1 54.3,300.1 54.7,300.1 55.1,300.1 55.5,300.1 55.9,300.1 56.3,300.1 56.7,300.0 57.1,300.0 57.5,300.0 57.9,300.0 58.3,300.0 58.7,300.0 59.1,300.0 59.5,300.0 59.9,300.0 60.3,299.9 60.7,299.9 61.1,299.9 61.5,299.9 61.9,299.9 62.3,299.9 62.7,299.8 63.1,299.8 63.5,299.8 63.9,299.8 64.3,299.8 64.7,299.7 65.1,299.7 65.5,299.7 65.9,299.7 66.3,299.6 66.7,299.6 67.1,299.5 67.5,299.5 67.9,299.5 68.3,299.4 68.7,299.4 69.1,299.3 69.5,299.3 69.9,299.2 70.3,299.1 70.7,299.1 71.1,299.0 71.5,298.9 71.9,298.9 72.3,298.8 72.7,298.7 73.1,298.6 73.5,298.5 73.9,298.4 74.3,298.3 74.7,298.2 75.1,298.0 75.5,297.9 75.9,297.8 76.3,297.6 76.7,297.5 77.1,297.3 77.5,297.2 77.9,297.0 78.3,296.9 78.7,296.7 79.1,296.5 79.5,296.3 79.9,296.1 80.3,295.9 80.7,295.7 81.1,295.5 81.5,295.3 81.9,295.1 82.3,294.9 82.7,294.7 83.1,294.4 83.5,294.2 83.9,294.0 84.3,293.8 84.7,293.5 85.1,293.3 85.5,293.1 85.9,292.9 86.3,292.7 86.7,292.5 87.1,292.3 87.5,292.1 87.9,291.9 88.3,291.7 88.7,291.5 89.1,291.3 89.5,291.2 89.9,291.0 90.3,290.9 90.7,290.7 91.1,290.6 91.5,290.5 91.9,290.4 92.3,290.3 92.7,290.2 93.1,290.2 93.5,290.1 93.9,290.1 94.3,290.1 94.7,290.1 95.1,290.1 95.5,290.1 95.9,290.1 96.3,290.2 96.7,290.2 97.1,290.3 97.5,290.4 97.9,290.5 98.3,290.5 98.7,290.6 99.1,290.7 99.5,290.8 99.9,291.0 100.3,291.1 100.7,291.2 101.1,291.3 101.5,291.4 101.9,291.5 102.3,291.7 102.7,291.8 103.1,291.9 103.5,292.0 103.9,292.1 104.3,292.2 104.7,292.3 105.1,292.3 105.5,292.4 105.9,292.4 106.3,292.5 106.7,292.5 107.1,292.5 107.5,292.5 107.9,292.5 108.3,292.5 108.7,292.4 109.1,292.3 109.5,292.2 109.9,292.1 110.3,292.0 110.7,291.8 111.1,291.6 111.5,291.4 111.9,291.1 112.3,290.8 112.7,290.5 113.1,290.2 113.5,289.8 113.9,289.4 114.3,288.9 114.7,288.4 115.1,287.9 115.5,287.3 115.9,286.7 116.3,286.1 116.7,285.4 117.1,284.7 117.5,283.9 117.9,283.1 118.3,282.2 118.7,281.3 119.1,280.4 119.5,279.4 119.9,278.4 120.3,277.3 120.7,276.2 121.1,275.0 121.5,273.9 121.9,272.7 122.3,271.4 122.7,270.2 123.1,268.9 123.5,267.6 123.9,266.3 124.3,264.9 124.7,263.6 125.1,262.3 125.5,261.0 125.9,259.7 126.3,258.5 126.7,257.3 127.1,256.1 127.5,255.0 127.9,254.0 128.3,253.1 128.7,252.2 129.1,251.5 129.5,250.9 129.9,250.4 130.3,250.0 130.7,249.8 131.1,249.7 131.5,249.7 131.9,249.9 132.3,250.2 132.7,250.6 133.1,251.2 133.5,251.9 133.9,252.7 134.3,253.6 134.7,254.5 135.1,255.6 135.5,256.7 135.9,257.9 136.3,259.1 136.7,260.4 137.1,261.7 137.5,263.0 137.9,264.3 138.3,265.7 138.7,267.0 139.1,268.3 139.5,269.6 139.9,270.9 140.3,272.2 140.7,273.4 141.1,274.6 141.5,275.8 141.9,276.9 142.3,278.1 142.7,279.1 143.1,280.2 143.5,281.2 143.9,282.1 144.3,283.0 144.7,283.9 145.1,284.8 145.5,285.6 145.9,286.3 146.3,287.0 146.7,287.7 147.1,288.4 147.5,289.0 147.9,289.6 148.3,290.1 148.7,290.6 149.1,291.1 149.5,291.6 149.9,292.0 150.3,292.4 150.7,292.8 151.1,293.1 151.5,293.5 151.9,293.8 152.3,294.1 152.7,294.3 153.1,294.6 153.5,294.8 153.9,295.0 154.3,295.2 154.7,295.4 155.1,295.6 155.5,295.8 155.9,295.9 156.3,296.1 156.7,296.2 157.1,296.4 157.5,296.5 157.9,296.6 158.3,296.7 158.7,296.8 159.1,296.9 159.5,297.0 159.9,297.1 160.3,297.2 160.7,297.3 161.1,297.3 161.5,297.4 161.9,297.5 162.3,297.5 162.7,297.6 163.1,297.7 163.5,297.7 163.9,297.8 164.3,297.8 164.7,297.9 165.1,297.9 165.5,298.0 165.9,298.0 166.3,298.1 166.7,298.1 167.1,298.2 167.5,298.2 167.9,298.2 168.3,298.3 168.7,298.3 169.1,298.3 169.5,298.4 169.9,298.4 170.3,298.4 170.7,298.5 171.1,298.5 171.5,298.5 171.9,298.6 172.3,298.6 172.7,298.6 173.1,298.6 173.5,298.7 173.9,298.7 174.3,298.7 174.7,298.7 175.1,298.8 175.5,298.8 175.9,298.8 176.3,298.8 176.7,298.8 177.1,298.9 177.5,298.9 177.9,298.9 178.3,298.9 178.7,298.9 179.1,299.0 179.5,299.0 179.9,299.0 180.3,299.0 180.7,299.0 181.1,299.0 181.5,299.1 181.9,299.1 182.3,299.1 182.7,299.1 183.1,299.1 183.5,299.1 183.9,299.1 184.3,299.1 184.7,299.2 185.1,299.2 185.5,299.2 185.9,299.2 186.3,299.2 186.7,299.2 187.1,299.2 187.5,299.2 187.9,299.2 188.3,299.3 188.7,299.3 189.1,299.3 189.5,299.3 189.9,299.3 190.3,299.3 190.7,299.3 191.1,299.3 191.5,299.3 191.9,299.3 192.3,299.3 192.7,299.4 193.1,299.4 193.5,299.4 193.9,299.4 194.3,299.4 194.7,299.4 195.1,299.4 195.5,299.4 195.9,299.4 196.3,299.4 196.7,299.4 197.1,299.4 197.5,299.4 197.9,299.4 198.3,299.4 198.7,299.4 199.1,299.5 199.5,299.5 199.9,299.5 200.3,299.5 200.7,299.5 201.1,299.5 201.5,299.5 201.9,299.5 202.3,299.5 202.7,299.5 203.1,299.5 203.5,299.5 203.9,299.5 204.3,299.5 204.7,299.5 205.1,299.5 205.5,299.5 205.9,299.5 206.3,299.5 206.7,299.5 207.1,299.5 207.5,299.5 207.9,299.5 208.3,299.5 208.7,299.6 209.1,299.6 209.5,299.6 209.9,299.6 210.3,299.6 210.7,299.6 211.1,299.6 211.5,299.6 211.9,299.6 212.3,299.6" stroke="#FF8A1F" stroke-width="2.0" fill="none"/>
<path d="M15.9,379.8 16.3,379.8 16.7,379.8 17.1,379.8 17.5,379.8 17.9,379.8 18.3,379.7 18.7,379.7 19.1,379.7 19.5,379.7 19.9,379.7 20.3,379.7 20.7,379.7 21.1,379.7 21.5,379.7 21.9,379.6 22.3,379.6 22.7,379.6 23.1,379.6 23.5,379.6 23.9,379.6 24.3,379.6 24.7,379.6 25.1,379.6 25.5,379.5 25.9,379.5 26.3,379.5 26.7,379.5 27.1,379.5 27.5,379.5 27.9,379.5 28.3,379.5 28.7,379.4 29.1,379.4 29.5,379.4 29.9,379.4 30.3,379.4 30.7,379.4 31.1,379.4 31.5,379.3 31.9,379.3 32.3,379.3 32.7,379.3 33.1,379.3 33.5,379.3 33.9,379.3 34.3,379.2 34.7,379.2 35.1,379.2 35.5,379.2 35.9,379.2 36.3,379.2 36.7,379.2 37.1,379.1 37.5,379.1 37.9,379.1 38.3,379.1 38.7,379.1 39.1,379.0 39.5,379.0 39.9,379.0 40.3,379.0 40.7,379.0 41.1,379.0 41.5,378.9 41.9,378.9 42.3,378.9 42.7,378.9 43.1,378.9 43.5,378.8 43.9,378.8 44.3,378.8 44.7,378.8 45.1,378.7 45.5,378.7 45.9,378.7 46.3,378.7 46.7,378.7 47.1,378.6 47.5,378.6 47.9,378.6 48.3,378.6 48.7,378.5 49.1,378.5 49.5,378.5 49.9,378.4 50.3,378.4 50.7,378.4 51.1,378.4 51.5,378.3 51.9,378.3 52.3,378.3 52.7,378.2 53.1,378.2 53.5,378.1 53.9,378.1 54.3,378.1 54.7,378.0 55.1,378.0 55.5,377.9 55.9,377.9 56.3,377.8 56.7,377.8 57.1,377.7 57.5,377.7 57.9,377.6 58.3,377.6 58.7,377.5 59.1,377.4 59.5,377.4 59.9,377.3 60.3,377.2 60.7,377.1 61.1,377.0 61.5,376.9 61.9,376.8 62.3,376.7 62.7,376.6 63.1,376.5 63.5,376.4 63.9,376.2 64.3,376.1 64.7,375.9 65.1,375.7 65.5,375.5 65.9,375.3 66.3,375.1 66.7,374.9 67.1,374.7 67.5,374.4 67.9,374.1 68.3,373.8 68.7,373.5 69.1,373.2 69.5,372.8 69.9,372.4 70.3,372.0 70.7,371.6 71.1,371.1 71.5,370.7 71.9,370.2 72.3,369.6 72.7,369.1 73.1,368.5 73.5,367.9 73.9,367.2 74.3,366.6 74.7,365.9 75.1,365.1 75.5,364.4 75.9,363.6 76.3,362.8 76.7,361.9 77.1,361.0 77.5,360.1 77.9,359.2 78.3,358.3 78.7,357.3 79.1,356.3 79.5,355.3 79.9,354.3 80.3,353.3 80.7,352.2 81.1,351.2 81.5,350.1 81.9,349.1 82.3,348.1 82.7,347.0 83.1,346.0 83.5,345.0 83.9,344.1 84.3,343.1 84.7,342.2 85.1,341.3 85.5,340.5 85.9,339.8 86.3,339.1 86.7,338.4 87.1,337.8 87.5,337.3 87.9,336.9 88.3,336.6 88.7,336.3 89.1,336.2 89.5,336.1 89.9,336.1 90.3,336.2 90.7,336.4 91.1,336.7 91.5,337.1 91.9,337.5 92.3,338.0 92.7,338.6 93.1,339.3 93.5,340.0 93.9,340.8 94.3,341.6 94.7,342.5 95.1,343.4 95.5,344.4 95.9,345.3 96.3,346.3 96.7,347.3 97.1,348.3 97.5,349.4 97.9,350.4 98.3,351.4 98.7,352.5 99.1,353.5 99.5,354.5 99.9,355.5 100.3,356.5 100.7,357.4 101.1,358.4 101.5,359.3 101.9,360.2 102.3,361.1 102.7,361.9 103.1,362.7 103.5,363.5 103.9,364.3 104.3,365.0 104.7,365.7 105.1,366.4 105.5,367.0 105.9,367.7 106.3,368.3 106.7,368.8 107.1,369.3 107.5,369.8 107.9,370.3 108.3,370.8 108.7,371.2 109.1,371.6 109.5,372.0 109.9,372.3 110.3,372.7 110.7,373.0 111.1,373.3 111.5,373.6 111.9,373.8 112.3,374.0 112.7,374.3 113.1,374.5 113.5,374.7 113.9,374.9 114.3,375.0 114.7,375.2 115.1,375.3 115.5,375.5 115.9,375.6 116.3,375.7 116.7,375.8 117.1,375.9 117.5,376.0 117.9,376.1 118.3,376.2 118.7,376.2 119.1,376.3 119.5,376.4 119.9,376.4 120.3,376.5 120.7,376.5 121.1,376.6 121.5,376.6 121.9,376.7 122.3,376.7 122.7,376.8 123.1,376.8 123.5,376.8 123.9,376.9 124.3,376.9 124.7,376.9 125.1,376.9 125.5,377.0 125.9,377.0 126.3,377.0 126.7,377.0 127.1,377.1 127.5,377.1 127.9,377.1 128.3,377.1 128.7,377.1 129.1,377.2 129.5,377.2 129.9,377.2 130.3,377.2 130.7,377.2 131.1,377.2 131.5,377.2 131.9,377.3 132.3,377.3 132.7,377.3 133.1,377.3 133.5,377.3 133.9,377.3 134.3,377.3 134.7,377.3 135.1,377.3 135.5,377.4 135.9,377.4 136.3,377.4 136.7,377.4 137.1,377.4 137.5,377.4 137.9,377.4 138.3,377.4 138.7,377.4 139.1,377.4 139.5,377.4 139.9,377.4 140.3,377.4 140.7,377.4 141.1,377.4 141.5,377.4 141.9,377.4 142.3,377.4 142.7,377.5 143.1,377.5 143.5,377.5 143.9,377.5 144.3,377.5 144.7,377.5 145.1,377.5 145.5,377.5 145.9,377.5 146.3,377.5 146.7,377.5 147.1,377.5 147.5,377.5 147.9,377.5 148.3,377.5 148.7,377.5 149.1,377.5 149.5,377.5 149.9,377.5 150.3,377.5 150.7,377.5 151.1,377.5 151.5,377.5 151.9,377.5 152.3,377.5 152.7,377.5 153.1,377.5 153.5,377.5 153.9,377.5 154.3,377.5 154.7,377.5 155.1,377.5 155.5,377.5 155.9,377.5 156.3,377.5 156.7,377.5 157.1,377.5 157.5,377.5 157.9,377.5 158.3,377.5 158.7,377.5 159.1,377.5 159.5,377.5 159.9,377.5 160.3,377.5 160.7,377.5 161.1,377.5 161.5,377.5 161.9,377.5 162.3,377.4 162.7,377.4 163.1,377.4 163.5,377.4 163.9,377.4 164.3,377.4 164.7,377.4 165.1,377.4 165.5,377.4 165.9,377.4 166.3,377.4 166.7,377.4 167.1,377.4 167.5,377.4 167.9,377.4 168.3,377.4 168.7,377.4 169.1,377.4 169.5,377.4 169.9,377.4 170.3,377.4 L170.3,377.7 169.9,377.7 169.5,377.7 169.1,377.7 168.7,377.7 168.3,377.7 167.9,377.7 167.5,377.7 167.1,377.7 166.7,377.7 166.3,377.8 165.9,377.8 165.5,377.8 165.1,377.8 164.7,377.8 164.3,377.8 163.9,377.8 163.5,377.8 163.1,377.8 162.7,377.8 162.3,377.8 161.9,377.8 161.5,377.8 161.1,377.8 160.7,377.8 160.3,377.8 159.9,377.9 159.5,377.9 159.1,377.9 158.7,377.9 158.3,377.9 157.9,377.9 157.5,377.9 157.1,377.9 156.7,377.9 156.3,377.9 155.9,377.9 155.5,377.9 155.1,377.9 154.7,377.9 154.3,377.9 153.9,378.0 153.5,378.0 153.1,378.0 152.7,378.0 152.3,378.0 151.9,378.0 151.5,378.0 151.1,378.0 150.7,378.0 150.3,378.0 149.9,378.0 149.5,378.0 149.1,378.0 148.7,378.0 148.3,378.0 147.9,378.0 147.5,378.1 147.1,378.1 146.7,378.1 146.3,378.1 145.9,378.1 145.5,378.1 145.1,378.1 144.7,378.1 144.3,378.1 143.9,378.1 143.5,378.1 143.1,378.1 142.7,378.1 142.3,378.1 141.9,378.1 141.5,378.2 141.1,378.2 140.7,378.2 140.3,378.2 139.9,378.2 139.5,378.2 139.1,378.2 138.7,378.2 138.3,378.2 137.9,378.2 137.5,378.2 137.1,378.2 136.7,378.2 136.3,378.2 135.9,378.2 135.5,378.2 135.1,378.3 134.7,378.3 134.3,378.3 133.9,378.3 133.5,378.3 133.1,378.3 132.7,378.3 132.3,378.3 131.9,378.3 131.5,378.3 131.1,378.3 130.7,378.3 130.3,378.3 129.9,378.3 129.5,378.3 129.1,378.4 128.7,378.4 128.3,378.4 127.9,378.4 127.5,378.4 127.1,378.4 126.7,378.4 126.3,378.4 125.9,378.4 125.5,378.4 125.1,378.4 124.7,378.4 124.3,378.4 123.9,378.4 123.5,378.4 123.1,378.4 122.7,378.5 122.3,378.5 121.9,378.5 121.5,378.5 121.1,378.5 120.7,378.5 120.3,378.5 119.9,378.5 119.5,378.5 119.1,378.5 118.7,378.5 118.3,378.5 117.9,378.5 117.5,378.5 117.1,378.5 116.7,378.5 116.3,378.6 115.9,378.6 115.5,378.6 115.1,378.6 114.7,378.6 114.3,378.6 113.9,378.6 113.5,378.6 113.1,378.6 112.7,378.6 112.3,378.6 111.9,378.6 111.5,378.6 111.1,378.6 110.7,378.6 110.3,378.7 109.9,378.7 109.5,378.7 109.1,378.7 108.7,378.7 108.3,378.7 107.9,378.7 107.5,378.7 107.1,378.7 106.7,378.7 106.3,378.7 105.9,378.7 105.5,378.7 105.1,378.7 104.7,378.7 104.3,378.7 103.9,378.8 103.5,378.8 103.1,378.8 102.7,378.8 102.3,378.8 101.9,378.8 101.5,378.8 101.1,378.8 100.7,378.8 100.3,378.8 99.9,378.8 99.5,378.8 99.1,378.8 98.7,378.8 98.3,378.8 97.9,378.9 97.5,378.9 97.1,378.9 96.7,378.9 96.3,378.9 95.9,378.9 95.5,378.9 95.1,378.9 94.7,378.9 94.3,378.9 93.9,378.9 93.5,378.9 93.1,378.9 92.7,378.9 92.3,378.9 91.9,378.9 91.5,379.0 91.1,379.0 90.7,379.0 90.3,379.0 89.9,379.0 89.5,379.0 89.1,379.0 88.7,379.0 88.3,379.0 87.9,379.0 87.5,379.0 87.1,379.0 86.7,379.0 86.3,379.0 85.9,379.0 85.5,379.1 85.1,379.1 84.7,379.1 84.3,379.1 83.9,379.1 83.5,379.1 83.1,379.1 82.7,379.1 82.3,379.1 81.9,379.1 81.5,379.1 81.1,379.1 80.7,379.1 80.3,379.1 79.9,379.1 79.5,379.1 79.1,379.2 78.7,379.2 78.3,379.2 77.9,379.2 77.5,379.2 77.1,379.2 76.7,379.2 76.3,379.2 75.9,379.2 75.5,379.2 75.1,379.2 74.7,379.2 74.3,379.2 73.9,379.2 73.5,379.2 73.1,379.2 72.7,379.3 72.3,379.3 71.9,379.3 71.5,379.3 71.1,379.3 70.7,379.3 70.3,379.3 69.9,379.3 69.5,379.3 69.1,379.3 68.7,379.3 68.3,379.3 67.9,379.3 67.5,379.3 67.1,379.3 66.7,379.4 66.3,379.4 65.9,379.4 65.5,379.4 65.1,379.4 64.7,379.4 64.3,379.4 63.9,379.4 63.5,379.4 63.1,379.4 62.7,379.4 62.3,379.4 61.9,379.4 61.5,379.4 61.1,379.4 60.7,379.4 60.3,379.5 59.9,379.5 59.5,379.5 59.1,379.5 58.7,379.5 58.3,379.5 57.9,379.5 57.5,379.5 57.1,379.5 56.7,379.5 56.3,379.5 55.9,379.5 55.5,379.5 55.1,379.5 54.7,379.5 54.3,379.6 53.9,379.6 53.5,379.6 53.1,379.6 52.7,379.6 52.3,379.6 51.9,379.6 51.5,379.6 51.1,379.6 50.7,379.6 50.3,379.6 49.9,379.6 49.5,379.6 49.1,379.6 48.7,379.6 48.3,379.6 47.9,379.7 47.5,379.7 47.1,379.7 46.7,379.7 46.3,379.7 45.9,379.7 45.5,379.7 45.1,379.7 44.7,379.7 44.3,379.7 43.9,379.7 43.5,379.7 43.1,379.7 42.7,379.7 42.3,379.7 41.9,379.8 41.5,379.8 41.1,379.8 40.7,379.8 40.3,379.8 39.9,379.8 39.5,379.8 39.1,379.8 38.7,379.8 38.3,379.8 37.9,379.8 37.5,379.8 37.1,379.8 36.7,379.8 36.3,379.8 35.9,379.8 35.5,379.9 35.1,379.9 34.7,379.9 34.3,379.9 33.9,379.9 33.5,379.9 33.1,379.9 32.7,379.9 32.3,379.9 31.9,379.9 31.5,379.9 31.1,379.9 30.7,379.9 30.3,379.9 29.9,379.9 29.5,379.9 29.1,380.0 28.7,380.0 28.3,380.0 27.9,380.0 27.5,380.0 27.1,380.0 26.7,380.0 26.3,380.0 25.9,380.0 25.5,380.0 25.1,380.0 24.7,380.0 24.3,380.0 23.9,380.0 23.5,380.0 23.1,380.1 22.7,380.1 22.3,380.1 21.9,380.1 21.5,380.1 21.1,380.1 20.7,380.1 20.3,380.1 19.9,380.1 19.5,380.1 19.1,380.1 18.7,380.1 18.3,380.1 17.9,380.1 17.5,380.1 17.1,380.1 16.7,380.2 16.3,380.2 15.9,380.2 Z" fill="url(#g3)"/>
<path d="M49.1,379.3 49.5,379.3 49.9,379.3 50.3,379.3 50.7,379.3 51.1,379.3 51.5,379.3 51.9,379.3 52.3,379.3 52.7,379.2 53.1,379.2 53.5,379.2 53.9,379.2 54.3,379.2 54.7,379.2 55.1,379.2 55.5,379.2 55.9,379.2 56.3,379.2 56.7,379.1 57.1,379.1 57.5,379.1 57.9,379.1 58.3,379.1 58.7,379.1 59.1,379.1 59.5,379.1 59.9,379.1 60.3,379.1 60.7,379.0 61.1,379.0 61.5,379.0 61.9,379.0 62.3,379.0 62.7,379.0 63.1,379.0 63.5,379.0 63.9,379.0 64.3,378.9 64.7,378.9 65.1,378.9 65.5,378.9 65.9,378.9 66.3,378.9 66.7,378.9 67.1,378.9 67.5,378.8 67.9,378.8 68.3,378.8 68.7,378.8 69.1,378.8 69.5,378.8 69.9,378.8 70.3,378.8 70.7,378.7 71.1,378.7 71.5,378.7 71.9,378.7 72.3,378.7 72.7,378.7 73.1,378.7 73.5,378.6 73.9,378.6 74.3,378.6 74.7,378.6 75.1,378.6 75.5,378.6 75.9,378.5 76.3,378.5 76.7,378.5 77.1,378.5 77.5,378.5 77.9,378.5 78.3,378.5 78.7,378.4 79.1,378.4 79.5,378.4 79.9,378.4 80.3,378.4 80.7,378.3 81.1,378.3 81.5,378.3 81.9,378.3 82.3,378.3 82.7,378.2 83.1,378.2 83.5,378.2 83.9,378.2 84.3,378.2 84.7,378.1 85.1,378.1 85.5,378.1 85.9,378.1 86.3,378.1 86.7,378.0 87.1,378.0 87.5,378.0 87.9,378.0 88.3,377.9 88.7,377.9 89.1,377.9 89.5,377.9 89.9,377.8 90.3,377.8 90.7,377.8 91.1,377.7 91.5,377.7 91.9,377.7 92.3,377.6 92.7,377.6 93.1,377.6 93.5,377.6 93.9,377.5 94.3,377.5 94.7,377.4 95.1,377.4 95.5,377.4 95.9,377.3 96.3,377.3 96.7,377.2 97.1,377.2 97.5,377.1 97.9,377.1 98.3,377.0 98.7,377.0 99.1,376.9 99.5,376.9 99.9,376.8 100.3,376.7 100.7,376.7 101.1,376.6 101.5,376.5 101.9,376.4 102.3,376.4 102.7,376.3 103.1,376.2 103.5,376.1 103.9,375.9 104.3,375.8 104.7,375.7 105.1,375.6 105.5,375.4 105.9,375.2 106.3,375.1 106.7,374.9 107.1,374.7 107.5,374.5 107.9,374.3 108.3,374.0 108.7,373.8 109.1,373.5 109.5,373.2 109.9,372.9 110.3,372.5 110.7,372.1 111.1,371.7 111.5,371.3 111.9,370.9 112.3,370.4 112.7,369.9 113.1,369.4 113.5,368.8 113.9,368.2 114.3,367.6 114.7,366.9 115.1,366.2 115.5,365.5 115.9,364.7 116.3,363.9 116.7,363.1 117.1,362.2 117.5,361.3 117.9,360.3 118.3,359.3 118.7,358.3 119.1,357.3 119.5,356.2 119.9,355.1 120.3,354.0 120.7,352.8 121.1,351.7 121.5,350.5 121.9,349.3 122.3,348.1 122.7,346.9 123.1,345.6 123.5,344.4 123.9,343.2 124.3,342.0 124.7,340.9 125.1,339.7 125.5,338.6 125.9,337.5 126.3,336.5 126.7,335.6 127.1,334.6 127.5,333.8 127.9,333.1 128.3,332.4 128.7,331.8 129.1,331.3 129.5,330.9 129.9,330.7 130.3,330.5 130.7,330.4 131.1,330.5 131.5,330.6 131.9,330.9 132.3,331.3 132.7,331.7 133.1,332.3 133.5,333.0 133.9,333.7 134.3,334.5 134.7,335.4 135.1,336.4 135.5,337.4 135.9,338.4 136.3,339.5 136.7,340.7 137.1,341.8 137.5,343.0 137.9,344.2 138.3,345.4 138.7,346.6 139.1,347.8 139.5,349.0 139.9,350.2 140.3,351.4 140.7,352.5 141.1,353.7 141.5,354.8 141.9,355.9 142.3,356.9 142.7,357.9 143.1,358.9 143.5,359.9 143.9,360.8 144.3,361.7 144.7,362.6 145.1,363.4 145.5,364.2 145.9,365.0 146.3,365.7 146.7,366.4 147.1,367.1 147.5,367.7 147.9,368.3 148.3,368.8 148.7,369.3 149.1,369.8 149.5,370.3 149.9,370.7 150.3,371.1 150.7,371.5 151.1,371.9 151.5,372.2 151.9,372.5 152.3,372.8 152.7,373.0 153.1,373.3 153.5,373.5 153.9,373.7 154.3,373.9 154.7,374.1 155.1,374.3 155.5,374.4 155.9,374.6 156.3,374.7 156.7,374.9 157.1,375.0 157.5,375.1 157.9,375.2 158.3,375.3 158.7,375.4 159.1,375.4 159.5,375.5 159.9,375.6 160.3,375.6 160.7,375.7 161.1,375.8 161.5,375.8 161.9,375.9 162.3,375.9 162.7,376.0 163.1,376.0 163.5,376.0 163.9,376.1 164.3,376.1 164.7,376.1 165.1,376.2 165.5,376.2 165.9,376.2 166.3,376.3 166.7,376.3 167.1,376.3 167.5,376.3 167.9,376.4 168.3,376.4 168.7,376.4 169.1,376.4 169.5,376.4 169.9,376.5 170.3,376.5 170.7,376.5 171.1,376.5 171.5,376.5 171.9,376.5 172.3,376.5 172.7,376.6 173.1,376.6 173.5,376.6 173.9,376.6 174.3,376.6 174.7,376.6 175.1,376.6 175.5,376.6 175.9,376.7 176.3,376.7 176.7,376.7 177.1,376.7 177.5,376.7 177.9,376.7 178.3,376.7 178.7,376.7 179.1,376.7 179.5,376.7 179.9,376.7 180.3,376.7 180.7,376.7 181.1,376.7 181.5,376.8 181.9,376.8 182.3,376.8 182.7,376.8 183.1,376.8 183.5,376.8 183.9,376.8 184.3,376.8 184.7,376.8 185.1,376.8 185.5,376.8 185.9,376.8 186.3,376.8 186.7,376.8 187.1,376.8 187.5,376.8 187.9,376.8 188.3,376.8 188.7,376.8 189.1,376.8 189.5,376.8 189.9,376.8 190.3,376.8 190.7,376.8 191.1,376.8 191.5,376.8 191.9,376.8 192.3,376.8 192.7,376.8 193.1,376.8 193.5,376.8 193.9,376.8 194.3,376.8 194.7,376.8 195.1,376.8 195.5,376.8 195.9,376.8 196.3,376.8 196.7,376.8 197.1,376.8 197.5,376.8 197.9,376.8 198.3,376.8 198.7,376.8 199.1,376.8 199.5,376.8 199.9,376.8 200.3,376.8 200.7,376.8 201.1,376.8 201.5,376.8 201.9,376.8 202.3,376.8 202.7,376.8 203.1,376.8 203.5,376.8 203.9,376.8 204.3,376.8 204.7,376.8 205.1,376.8 205.5,376.8 205.9,376.8 206.3,376.8 206.7,376.8 207.1,376.8 207.5,376.8 207.9,376.7 208.3,376.7 208.7,376.7 209.1,376.7 209.5,376.7 209.9,376.7 210.3,376.7 210.7,376.7 211.1,376.7 211.5,376.7 211.9,376.7 212.3,376.7 L212.3,377.0 211.9,377.0 211.5,377.0 211.1,377.0 210.7,377.0 210.3,377.0 209.9,377.1 209.5,377.1 209.1,377.1 208.7,377.1 208.3,377.1 207.9,377.1 207.5,377.1 207.1,377.1 206.7,377.1 206.3,377.1 205.9,377.1 205.5,377.1 205.1,377.1 204.7,377.1 204.3,377.1 203.9,377.1 203.5,377.2 203.1,377.2 202.7,377.2 202.3,377.2 201.9,377.2 201.5,377.2 201.1,377.2 200.7,377.2 200.3,377.2 199.9,377.2 199.5,377.2 199.1,377.2 198.7,377.2 198.3,377.2 197.9,377.2 197.5,377.3 197.1,377.3 196.7,377.3 196.3,377.3 195.9,377.3 195.5,377.3 195.1,377.3 194.7,377.3 194.3,377.3 193.9,377.3 193.5,377.3 193.1,377.3 192.7,377.3 192.3,377.3 191.9,377.3 191.5,377.3 191.1,377.4 190.7,377.4 190.3,377.4 189.9,377.4 189.5,377.4 189.1,377.4 188.7,377.4 188.3,377.4 187.9,377.4 187.5,377.4 187.1,377.4 186.7,377.4 186.3,377.4 185.9,377.4 185.5,377.4 185.1,377.5 184.7,377.5 184.3,377.5 183.9,377.5 183.5,377.5 183.1,377.5 182.7,377.5 182.3,377.5 181.9,377.5 181.5,377.5 181.1,377.5 180.7,377.5 180.3,377.5 179.9,377.5 179.5,377.5 179.1,377.5 178.7,377.6 178.3,377.6 177.9,377.6 177.5,377.6 177.1,377.6 176.7,377.6 176.3,377.6 175.9,377.6 175.5,377.6 175.1,377.6 174.7,377.6 174.3,377.6 173.9,377.6 173.5,377.6 173.1,377.6 172.7,377.7 172.3,377.7 171.9,377.7 171.5,377.7 171.1,377.7 170.7,377.7 170.3,377.7 169.9,377.7 169.5,377.7 169.1,377.7 168.7,377.7 168.3,377.7 167.9,377.7 167.5,377.7 167.1,377.7 166.7,377.7 166.3,377.8 165.9,377.8 165.5,377.8 165.1,377.8 164.7,377.8 164.3,377.8 163.9,377.8 163.5,377.8 163.1,377.8 162.7,377.8 162.3,377.8 161.9,377.8 161.5,377.8 161.1,377.8 160.7,377.8 160.3,377.8 159.9,377.9 159.5,377.9 159.1,377.9 158.7,377.9 158.3,377.9 157.9,377.9 157.5,377.9 157.1,377.9 156.7,377.9 156.3,377.9 155.9,377.9 155.5,377.9 155.1,377.9 154.7,377.9 154.3,377.9 153.9,378.0 153.5,378.0 153.1,378.0 152.7,378.0 152.3,378.0 151.9,378.0 151.5,378.0 151.1,378.0 150.7,378.0 150.3,378.0 149.9,378.0 149.5,378.0 149.1,378.0 148.7,378.0 148.3,378.0 147.9,378.0 147.5,378.1 147.1,378.1 146.7,378.1 146.3,378.1 145.9,378.1 145.5,378.1 145.1,378.1 144.7,378.1 144.3,378.1 143.9,378.1 143.5,378.1 143.1,378.1 142.7,378.1 142.3,378.1 141.9,378.1 141.5,378.2 141.1,378.2 140.7,378.2 140.3,378.2 139.9,378.2 139.5,378.2 139.1,378.2 138.7,378.2 138.3,378.2 137.9,378.2 137.5,378.2 137.1,378.2 136.7,378.2 136.3,378.2 135.9,378.2 135.5,378.2 135.1,378.3 134.7,378.3 134.3,378.3 133.9,378.3 133.5,378.3 133.1,378.3 132.7,378.3 132.3,378.3 131.9,378.3 131.5,378.3 131.1,378.3 130.7,378.3 130.3,378.3 129.9,378.3 129.5,378.3 129.1,378.4 128.7,378.4 128.3,378.4 127.9,378.4 127.5,378.4 127.1,378.4 126.7,378.4 126.3,378.4 125.9,378.4 125.5,378.4 125.1,378.4 124.7,378.4 124.3,378.4 123.9,378.4 123.5,378.4 123.1,378.4 122.7,378.5 122.3,378.5 121.9,378.5 121.5,378.5 121.1,378.5 120.7,378.5 120.3,378.5 119.9,378.5 119.5,378.5 119.1,378.5 118.7,378.5 118.3,378.5 117.9,378.5 117.5,378.5 117.1,378.5 116.7,378.5 116.3,378.6 115.9,378.6 115.5,378.6 115.1,378.6 114.7,378.6 114.3,378.6 113.9,378.6 113.5,378.6 113.1,378.6 112.7,378.6 112.3,378.6 111.9,378.6 111.5,378.6 111.1,378.6 110.7,378.6 110.3,378.7 109.9,378.7 109.5,378.7 109.1,378.7 108.7,378.7 108.3,378.7 107.9,378.7 107.5,378.7 107.1,378.7 106.7,378.7 106.3,378.7 105.9,378.7 105.5,378.7 105.1,378.7 104.7,378.7 104.3,378.7 103.9,378.8 103.5,378.8 103.1,378.8 102.7,378.8 102.3,378.8 101.9,378.8 101.5,378.8 101.1,378.8 100.7,378.8 100.3,378.8 99.9,378.8 99.5,378.8 99.1,378.8 98.7,378.8 98.3,378.8 97.9,378.9 97.5,378.9 97.1,378.9 96.7,378.9 96.3,378.9 95.9,378.9 95.5,378.9 95.1,378.9 94.7,378.9 94.3,378.9 93.9,378.9 93.5,378.9 93.1,378.9 92.7,378.9 92.3,378.9 91.9,378.9 91.5,379.0 91.1,379.0 90.7,379.0 90.3,379.0 89.9,379.0 89.5,379.0 89.1,379.0 88.7,379.0 88.3,379.0 87.9,379.0 87.5,379.0 87.1,379.0 86.7,379.0 86.3,379.0 85.9,379.0 85.5,379.1 85.1,379.1 84.7,379.1 84.3,379.1 83.9,379.1 83.5,379.1 83.1,379.1 82.7,379.1 82.3,379.1 81.9,379.1 81.5,379.1 81.1,379.1 80.7,379.1 80.3,379.1 79.9,379.1 79.5,379.1 79.1,379.2 78.7,379.2 78.3,379.2 77.9,379.2 77.5,379.2 77.1,379.2 76.7,379.2 76.3,379.2 75.9,379.2 75.5,379.2 75.1,379.2 74.7,379.2 74.3,379.2 73.9,379.2 73.5,379.2 73.1,379.2 72.7,379.3 72.3,379.3 71.9,379.3 71.5,379.3 71.1,379.3 70.7,379.3 70.3,379.3 69.9,379.3 69.5,379.3 69.1,379.3 68.7,379.3 68.3,379.3 67.9,379.3 67.5,379.3 67.1,379.3 66.7,379.4 66.3,379.4 65.9,379.4 65.5,379.4 65.1,379.4 64.7,379.4 64.3,379.4 63.9,379.4 63.5,379.4 63.1,379.4 62.7,379.4 62.3,379.4 61.9,379.4 61.5,379.4 61.1,379.4 60.7,379.4 60.3,379.5 59.9,379.5 59.5,379.5 59.1,379.5 58.7,379.5 58.3,379.5 57.9,379.5 57.5,379.5 57.1,379.5 56.7,379.5 56.3,379.5 55.9,379.5 55.5,379.5 55.1,379.5 54.7,379.5 54.3,379.6 53.9,379.6 53.5,379.6 53.1,379.6 52.7,379.6 52.3,379.6 51.9,379.6 51.5,379.6 51.1,379.6 50.7,379.6 50.3,379.6 49.9,379.6 49.5,379.6 49.1,379.6 Z" fill="url(#g4)"/>
<path d="M17.5,379.8 17.9,379.8 18.3,379.8 18.7,379.8 19.1,379.8 19.5,379.8 19.9,379.8 20.3,379.8 20.7,379.7 21.1,379.7 21.5,379.7 21.9,379.7 22.3,379.7 22.7,379.7 23.1,379.7 23.5,379.7 23.9,379.7 24.3,379.6 24.7,379.6 25.1,379.6 25.5,379.6 25.9,379.6 26.3,379.6 26.7,379.6 27.1,379.5 27.5,379.5 27.9,379.5 28.3,379.5 28.7,379.5 29.1,379.5 29.5,379.5 29.9,379.4 30.3,379.4 30.7,379.4 31.1,379.4 31.5,379.4 31.9,379.4 32.3,379.3 32.7,379.3 33.1,379.3 33.5,379.3 33.9,379.3 34.3,379.3 34.7,379.2 35.1,379.2 35.5,379.2 35.9,379.2 36.3,379.2 36.7,379.1 37.1,379.1 37.5,379.1 37.9,379.1 38.3,379.0 38.7,379.0 39.1,379.0 39.5,379.0 39.9,378.9 40.3,378.9 40.7,378.9 41.1,378.9 41.5,378.8 41.9,378.8 42.3,378.8 42.7,378.7 43.1,378.7 43.5,378.6 43.9,378.6 44.3,378.5 44.7,378.5 45.1,378.4 45.5,378.4 45.9,378.3 46.3,378.3 46.7,378.2 47.1,378.1 47.5,378.1 47.9,378.0 48.3,377.9 48.7,377.8 49.1,377.7 49.5,377.6 49.9,377.5 50.3,377.3 50.7,377.2 51.1,377.1 51.5,376.9 51.9,376.7 52.3,376.6 52.7,376.4 53.1,376.2 53.5,376.0 53.9,375.7 54.3,375.5 54.7,375.2 55.1,374.9 55.5,374.6 55.9,374.3 56.3,374.0 56.7,373.6 57.1,373.2 57.5,372.8 57.9,372.4 58.3,372.0 58.7,371.6 59.1,371.1 59.5,370.6 59.9,370.1 60.3,369.6 60.7,369.0 61.1,368.5 61.5,367.9 61.9,367.3 62.3,366.7 62.7,366.1 63.1,365.5 63.5,364.8 63.9,364.2 64.3,363.6 64.7,362.9 65.1,362.3 65.5,361.6 65.9,361.0 66.3,360.4 66.7,359.8 67.1,359.2 67.5,358.7 67.9,358.2 68.3,357.7 68.7,357.2 69.1,356.8 69.5,356.5 69.9,356.1 70.3,355.9 70.7,355.7 71.1,355.5 71.5,355.4 71.9,355.4 72.3,355.4 72.7,355.5 73.1,355.6 73.5,355.8 73.9,356.1 74.3,356.4 74.7,356.7 75.1,357.1 75.5,357.6 75.9,358.0 76.3,358.6 76.7,359.1 77.1,359.7 77.5,360.2 77.9,360.8 78.3,361.4 78.7,362.1 79.1,362.7 79.5,363.3 79.9,363.9 80.3,364.6 80.7,365.2 81.1,365.8 81.5,366.4 81.9,367.0 82.3,367.5 82.7,368.1 83.1,368.7 83.5,369.2 83.9,369.7 84.3,370.2 84.7,370.7 85.1,371.1 85.5,371.6 85.9,372.0 86.3,372.4 86.7,372.8 87.1,373.1 87.5,373.5 87.9,373.8 88.3,374.1 88.7,374.4 89.1,374.6 89.5,374.9 89.9,375.1 90.3,375.4 90.7,375.6 91.1,375.8 91.5,375.9 91.9,376.1 92.3,376.3 92.7,376.4 93.1,376.5 93.5,376.7 93.9,376.8 94.3,376.9 94.7,377.0 95.1,377.1 95.5,377.1 95.9,377.2 96.3,377.3 96.7,377.3 97.1,377.4 97.5,377.5 97.9,377.5 98.3,377.5 98.7,377.6 99.1,377.6 99.5,377.7 99.9,377.7 100.3,377.7 100.7,377.8 101.1,377.8 101.5,377.8 101.9,377.8 102.3,377.8 102.7,377.9 103.1,377.9 103.5,377.9 103.9,377.9 104.3,377.9 104.7,377.9 105.1,378.0 105.5,378.0 105.9,378.0 106.3,378.0 106.7,378.0 107.1,378.0 107.5,378.0 107.9,378.0 108.3,378.0 108.7,378.0 109.1,378.0 109.5,378.0 109.9,378.1 110.3,378.1 110.7,378.1 111.1,378.1 111.5,378.1 111.9,378.1 112.3,378.1 112.7,378.1 113.1,378.1 113.5,378.1 113.9,378.1 114.3,378.1 114.7,378.1 115.1,378.1 115.5,378.1 115.9,378.1 116.3,378.1 116.7,378.1 117.1,378.1 117.5,378.1 117.9,378.1 118.3,378.1 118.7,378.1 119.1,378.1 119.5,378.1 119.9,378.1 120.3,378.1 120.7,378.1 121.1,378.1 121.5,378.1 121.9,378.1 122.3,378.1 122.7,378.1 123.1,378.1 123.5,378.1 123.9,378.1 124.3,378.1 124.7,378.1 125.1,378.1 125.5,378.1 125.9,378.1 126.3,378.1 L126.3,378.4 125.9,378.4 125.5,378.4 125.1,378.4 124.7,378.4 124.3,378.4 123.9,378.4 123.5,378.4 123.1,378.4 122.7,378.5 122.3,378.5 121.9,378.5 121.5,378.5 121.1,378.5 120.7,378.5 120.3,378.5 119.9,378.5 119.5,378.5 119.1,378.5 118.7,378.5 118.3,378.5 117.9,378.5 117.5,378.5 117.1,378.5 116.7,378.5 116.3,378.6 115.9,378.6 115.5,378.6 115.1,378.6 114.7,378.6 114.3,378.6 113.9,378.6 113.5,378.6 113.1,378.6 112.7,378.6 112.3,378.6 111.9,378.6 111.5,378.6 111.1,378.6 110.7,378.6 110.3,378.7 109.9,378.7 109.5,378.7 109.1,378.7 108.7,378.7 108.3,378.7 107.9,378.7 107.5,378.7 107.1,378.7 106.7,378.7 106.3,378.7 105.9,378.7 105.5,378.7 105.1,378.7 104.7,378.7 104.3,378.7 103.9,378.8 103.5,378.8 103.1,378.8 102.7,378.8 102.3,378.8 101.9,378.8 101.5,378.8 101.1,378.8 100.7,378.8 100.3,378.8 99.9,378.8 99.5,378.8 99.1,378.8 98.7,378.8 98.3,378.8 97.9,378.9 97.5,378.9 97.1,378.9 96.7,378.9 96.3,378.9 95.9,378.9 95.5,378.9 95.1,378.9 94.7,378.9 94.3,378.9 93.9,378.9 93.5,378.9 93.1,378.9 92.7,378.9 92.3,378.9 91.9,378.9 91.5,379.0 91.1,379.0 90.7,379.0 90.3,379.0 89.9,379.0 89.5,379.0 89.1,379.0 88.7,379.0 88.3,379.0 87.9,379.0 87.5,379.0 87.1,379.0 86.7,379.0 86.3,379.0 85.9,379.0 85.5,379.1 85.1,379.1 84.7,379.1 84.3,379.1 83.9,379.1 83.5,379.1 83.1,379.1 82.7,379.1 82.3,379.1 81.9,379.1 81.5,379.1 81.1,379.1 80.7,379.1 80.3,379.1 79.9,379.1 79.5,379.1 79.1,379.2 78.7,379.2 78.3,379.2 77.9,379.2 77.5,379.2 77.1,379.2 76.7,379.2 76.3,379.2 75.9,379.2 75.5,379.2 75.1,379.2 74.7,379.2 74.3,379.2 73.9,379.2 73.5,379.2 73.1,379.2 72.7,379.3 72.3,379.3 71.9,379.3 71.5,379.3 71.1,379.3 70.7,379.3 70.3,379.3 69.9,379.3 69.5,379.3 69.1,379.3 68.7,379.3 68.3,379.3 67.9,379.3 67.5,379.3 67.1,379.3 66.7,379.4 66.3,379.4 65.9,379.4 65.5,379.4 65.1,379.4 64.7,379.4 64.3,379.4 63.9,379.4 63.5,379.4 63.1,379.4 62.7,379.4 62.3,379.4 61.9,379.4 61.5,379.4 61.1,379.4 60.7,379.4 60.3,379.5 59.9,379.5 59.5,379.5 59.1,379.5 58.7,379.5 58.3,379.5 57.9,379.5 57.5,379.5 57.1,379.5 56.7,379.5 56.3,379.5 55.9,379.5 55.5,379.5 55.1,379.5 54.7,379.5 54.3,379.6 53.9,379.6 53.5,379.6 53.1,379.6 52.7,379.6 52.3,379.6 51.9,379.6 51.5,379.6 51.1,379.6 50.7,379.6 50.3,379.6 49.9,379.6 49.5,379.6 49.1,379.6 48.7,379.6 48.3,379.6 47.9,379.7 47.5,379.7 47.1,379.7 46.7,379.7 46.3,379.7 45.9,379.7 45.5,379.7 45.1,379.7 44.7,379.7 44.3,379.7 43.9,379.7 43.5,379.7 43.1,379.7 42.7,379.7 42.3,379.7 41.9,379.8 41.5,379.8 41.1,379.8 40.7,379.8 40.3,379.8 39.9,379.8 39.5,379.8 39.1,379.8 38.7,379.8 38.3,379.8 37.9,379.8 37.5,379.8 37.1,379.8 36.7,379.8 36.3,379.8 35.9,379.8 35.5,379.9 35.1,379.9 34.7,379.9 34.3,379.9 33.9,379.9 33.5,379.9 33.1,379.9 32.7,379.9 32.3,379.9 31.9,379.9 31.5,379.9 31.1,379.9 30.7,379.9 30.3,379.9 29.9,379.9 29.5,379.9 29.1,380.0 28.7,380.0 28.3,380.0 27.9,380.0 27.5,380.0 27.1,380.0 26.7,380.0 26.3,380.0 25.9,380.0 25.5,380.0 25.1,380.0 24.7,380.0 24.3,380.0 23.9,380.0 23.5,380.0 23.1,380.1 22.7,380.1 22.3,380.1 21.9,380.1 21.5,380.1 21.1,380.1 20.7,380.1 20.3,380.1 19.9,380.1 19.5,380.1 19.1,380.1 18.7,380.1 18.3,380.1 17.9,380.1 17.5,380.1 Z" fill="url(#g5)"/>
<path d="M15.9,380.2 16.3,380.2 16.7,380.2 17.1,380.1 17.5,380.1 17.9,380.1 18.3,380.1 18.7,380.1 19.1,380.1 19.5,380.1 19.9,380.1 20.3,380.1 20.7,380.1 21.1,380.1 21.5,380.1 21.9,380.1 22.3,380.1 22.7,380.1 23.1,380.1 23.5,380.0 23.9,380.0 24.3,380.0 24.7,380.0 25.1,380.0 25.5,380.0 25.9,380.0 26.3,380.0 26.7,380.0 27.1,380.0 27.5,380.0 27.9,380.0 28.3,380.0 28.7,380.0 29.1,380.0 29.5,379.9 29.9,379.9 30.3,379.9 30.7,379.9 31.1,379.9 31.5,379.9 31.9,379.9 32.3,379.9 32.7,379.9 33.1,379.9 33.5,379.9 33.9,379.9 34.3,379.9 34.7,379.9 35.1,379.9 35.5,379.9 35.9,379.8 36.3,379.8 36.7,379.8 37.1,379.8 37.5,379.8 37.9,379.8 38.3,379.8 38.7,379.8 39.1,379.8 39.5,379.8 39.9,379.8 40.3,379.8 40.7,379.8 41.1,379.8 41.5,379.8 41.9,379.8 42.3,379.7 42.7,379.7 43.1,379.7 43.5,379.7 43.9,379.7 44.3,379.7 44.7,379.7 45.1,379.7 45.5,379.7 45.9,379.7 46.3,379.7 46.7,379.7 47.1,379.7 47.5,379.7 47.9,379.7 48.3,379.6 48.7,379.6 49.1,379.6 49.5,379.6 49.9,379.6 50.3,379.6 50.7,379.6 51.1,379.6 51.5,379.6 51.9,379.6 52.3,379.6 52.7,379.6 53.1,379.6 53.5,379.6 53.9,379.6 54.3,379.6 54.7,379.5 55.1,379.5 55.5,379.5 55.9,379.5 56.3,379.5 56.7,379.5 57.1,379.5 57.5,379.5 57.9,379.5 58.3,379.5 58.7,379.5 59.1,379.5 59.5,379.5 59.9,379.5 60.3,379.5 60.7,379.4 61.1,379.4 61.5,379.4 61.9,379.4 62.3,379.4 62.7,379.4 63.1,379.4 63.5,379.4 63.9,379.4 64.3,379.4 64.7,379.4 65.1,379.4 65.5,379.4 65.9,379.4 66.3,379.4 66.7,379.4 67.1,379.3 67.5,379.3 67.9,379.3 68.3,379.3 68.7,379.3 69.1,379.3 69.5,379.3 69.9,379.3 70.3,379.3 70.7,379.3 71.1,379.3 71.5,379.3 71.9,379.3 72.3,379.3 72.7,379.3 73.1,379.2 73.5,379.2 73.9,379.2 74.3,379.2 74.7,379.2 75.1,379.2 75.5,379.2 75.9,379.2 76.3,379.2 76.7,379.2 77.1,379.2 77.5,379.2 77.9,379.2 78.3,379.2 78.7,379.2 79.1,379.2 79.5,379.1 79.9,379.1 80.3,379.1 80.7,379.1 81.1,379.1 81.5,379.1 81.9,379.1 82.3,379.1 82.7,379.1 83.1,379.1 83.5,379.1 83.9,379.1 84.3,379.1 84.7,379.1 85.1,379.1 85.5,379.1 85.9,379.0 86.3,379.0 86.7,379.0 87.1,379.0 87.5,379.0 87.9,379.0 88.3,379.0 88.7,379.0 89.1,379.0 89.5,379.0 89.9,379.0 90.3,379.0 90.7,379.0 91.1,379.0 91.5,379.0 91.9,378.9 92.3,378.9 92.7,378.9 93.1,378.9 93.5,378.9 93.9,378.9 94.3,378.9 94.7,378.9 95.1,378.9 95.5,378.9 95.9,378.9 96.3,378.9 96.7,378.9 97.1,378.9 97.5,378.9 97.9,378.9 98.3,378.8 98.7,378.8 99.1,378.8 99.5,378.8 99.9,378.8 100.3,378.8 100.7,378.8 101.1,378.8 101.5,378.8 101.9,378.8 102.3,378.8 102.7,378.8 103.1,378.8 103.5,378.8 103.9,378.8 104.3,378.7 104.7,378.7 105.1,378.7 105.5,378.7 105.9,378.7 106.3,378.7 106.7,378.7 107.1,378.7 107.5,378.7 107.9,378.7 108.3,378.7 108.7,378.7 109.1,378.7 109.5,378.7 109.9,378.7 110.3,378.7 110.7,378.6 111.1,378.6 111.5,378.6 111.9,378.6 112.3,378.6 112.7,378.6 113.1,378.6 113.5,378.6 113.9,378.6 114.3,378.6 114.7,378.6 115.1,378.6 115.5,378.6 115.9,378.6 116.3,378.6 116.7,378.5 117.1,378.5 117.5,378.5 117.9,378.5 118.3,378.5 118.7,378.5 119.1,378.5 119.5,378.5 119.9,378.5 120.3,378.5 120.7,378.5 121.1,378.5 121.5,378.5 121.9,378.5 122.3,378.5 122.7,378.5 123.1,378.4 123.5,378.4 123.9,378.4 124.3,378.4 124.7,378.4 125.1,378.4 125.5,378.4 125.9,378.4 126.3,378.4 126.7,378.4 127.1,378.4 127.5,378.4 127.9,378.4 128.3,378.4 128.7,378.4 129.1,378.4 129.5,378.3 129.9,378.3 130.3,378.3 130.7,378.3 131.1,378.3 131.5,378.3 131.9,378.3 132.3,378.3 132.7,378.3 133.1,378.3 133.5,378.3 133.9,378.3 134.3,378.3 134.7,378.3 135.1,378.3 135.5,378.2 135.9,378.2 136.3,378.2 136.7,378.2 137.1,378.2 137.5,378.2 137.9,378.2 138.3,378.2 138.7,378.2 139.1,378.2 139.5,378.2 139.9,378.2 140.3,378.2 140.7,378.2 141.1,378.2 141.5,378.2 141.9,378.1 142.3,378.1 142.7,378.1 143.1,378.1 143.5,378.1 143.9,378.1 144.3,378.1 144.7,378.1 145.1,378.1 145.5,378.1 145.9,378.1 146.3,378.1 146.7,378.1 147.1,378.1 147.5,378.1 147.9,378.0 148.3,378.0 148.7,378.0 149.1,378.0 149.5,378.0 149.9,378.0 150.3,378.0 150.7,378.0 151.1,378.0 151.5,378.0 151.9,378.0 152.3,378.0 152.7,378.0 153.1,378.0 153.5,378.0 153.9,378.0 154.3,377.9 154.7,377.9 155.1,377.9 155.5,377.9 155.9,377.9 156.3,377.9 156.7,377.9 157.1,377.9 157.5,377.9 157.9,377.9 158.3,377.9 158.7,377.9 159.1,377.9 159.5,377.9 159.9,377.9 160.3,377.8 160.7,377.8 161.1,377.8 161.5,377.8 161.9,377.8 162.3,377.8 162.7,377.8 163.1,377.8 163.5,377.8 163.9,377.8 164.3,377.8 164.7,377.8 165.1,377.8 165.5,377.8 165.9,377.8 166.3,377.8 166.7,377.7 167.1,377.7 167.5,377.7 167.9,377.7 168.3,377.7 168.7,377.7 169.1,377.7 169.5,377.7 169.9,377.7 170.3,377.7 170.7,377.7 171.1,377.7 171.5,377.7 171.9,377.7 172.3,377.7 172.7,377.7 173.1,377.6 173.5,377.6 173.9,377.6 174.3,377.6 174.7,377.6 175.1,377.6 175.5,377.6 175.9,377.6 176.3,377.6 176.7,377.6 177.1,377.6 177.5,377.6 177.9,377.6 178.3,377.6 178.7,377.6 179.1,377.5 179.5,377.5 179.9,377.5 180.3,377.5 180.7,377.5 181.1,377.5 181.5,377.5 181.9,377.5 182.3,377.5 182.7,377.5 183.1,377.5 183.5,377.5 183.9,377.5 184.3,377.5 184.7,377.5 185.1,377.5 185.5,377.4 185.9,377.4 186.3,377.4 186.7,377.4 187.1,377.4 187.5,377.4 187.9,377.4 188.3,377.4 188.7,377.4 189.1,377.4 189.5,377.4 189.9,377.4 190.3,377.4 190.7,377.4 191.1,377.4 191.5,377.3 191.9,377.3 192.3,377.3 192.7,377.3 193.1,377.3 193.5,377.3 193.9,377.3 194.3,377.3 194.7,377.3 195.1,377.3 195.5,377.3 195.9,377.3 196.3,377.3 196.7,377.3 197.1,377.3 197.5,377.3 197.9,377.2 198.3,377.2 198.7,377.2 199.1,377.2 199.5,377.2 199.9,377.2 200.3,377.2 200.7,377.2 201.1,377.2 201.5,377.2 201.9,377.2 202.3,377.2 202.7,377.2 203.1,377.2 203.5,377.2 203.9,377.1 204.3,377.1 204.7,377.1 205.1,377.1 205.5,377.1 205.9,377.1 206.3,377.1 206.7,377.1 207.1,377.1 207.5,377.1 207.9,377.1 208.3,377.1 208.7,377.1 209.1,377.1 209.5,377.1 209.9,377.1 210.3,377.0 210.7,377.0 211.1,377.0 211.5,377.0 211.9,377.0 212.3,377.0" stroke="#9a9a2a" stroke-width="1.6" fill="none"/>
<g fill="#f2f2f2" stroke="#8c8c8c" stroke-width="1.0"><circle cx="16.9" cy="377.5" r="2.0"/><circle cx="18.8" cy="377.5" r="2.0"/><circle cx="20.7" cy="376.8" r="2.0"/><circle cx="22.6" cy="376.5" r="2.0"/><circle cx="24.5" cy="377.5" r="2.0"/><circle cx="26.4" cy="375.6" r="2.0"/><circle cx="28.3" cy="376.3" r="2.0"/><circle cx="30.2" cy="377.8" r="2.0"/><circle cx="32.1" cy="374.5" r="2.0"/><circle cx="34.0" cy="375.9" r="2.0"/><circle cx="35.9" cy="376.8" r="2.0"/><circle cx="37.8" cy="374.9" r="2.0"/><circle cx="39.7" cy="377.9" r="2.0"/><circle cx="41.6" cy="373.8" r="2.0"/><circle cx="43.5" cy="376.6" r="2.0"/><circle cx="45.4" cy="376.4" r="2.0"/><circle cx="47.3" cy="375.5" r="2.0"/><circle cx="49.2" cy="374.1" r="2.0"/><circle cx="51.1" cy="373.8" r="2.0"/><circle cx="53.0" cy="371.8" r="2.0"/><circle cx="54.9" cy="371.9" r="2.0"/><circle cx="56.8" cy="368.4" r="2.0"/><circle cx="58.7" cy="366.9" r="2.0"/><circle cx="60.6" cy="365.4" r="2.0"/><circle cx="62.5" cy="360.0" r="2.0"/><circle cx="64.4" cy="357.2" r="2.0"/><circle cx="66.3" cy="353.9" r="2.0"/><circle cx="68.2" cy="348.2" r="2.0"/><circle cx="70.1" cy="348.0" r="2.0"/><circle cx="72.0" cy="344.0" r="2.0"/><circle cx="73.9" cy="339.3" r="2.0"/><circle cx="75.8" cy="339.8" r="2.0"/><circle cx="77.7" cy="337.2" r="2.0"/><circle cx="79.6" cy="335.6" r="2.0"/><circle cx="81.5" cy="334.7" r="2.0"/><circle cx="83.4" cy="331.2" r="2.0"/><circle cx="85.3" cy="331.9" r="2.0"/><circle cx="87.2" cy="327.7" r="2.0"/><circle cx="89.1" cy="330.4" r="2.0"/><circle cx="91.0" cy="330.1" r="2.0"/><circle cx="92.9" cy="334.5" r="2.0"/><circle cx="94.8" cy="336.5" r="2.0"/><circle cx="96.7" cy="341.4" r="2.0"/><circle cx="98.6" cy="345.6" r="2.0"/><circle cx="100.5" cy="352.5" r="2.0"/><circle cx="102.4" cy="357.0" r="2.0"/><circle cx="104.3" cy="361.5" r="2.0"/><circle cx="106.2" cy="363.1" r="2.0"/><circle cx="108.1" cy="363.6" r="2.0"/><circle cx="110.0" cy="363.7" r="2.0"/><circle cx="111.9" cy="363.9" r="2.0"/><circle cx="113.8" cy="362.0" r="2.0"/><circle cx="115.7" cy="361.1" r="2.0"/><circle cx="117.6" cy="357.2" r="2.0"/><circle cx="119.5" cy="350.7" r="2.0"/><circle cx="121.4" cy="345.7" r="2.0"/><circle cx="123.3" cy="343.0" r="2.0"/><circle cx="125.2" cy="336.1" r="2.0"/><circle cx="127.1" cy="330.7" r="2.0"/><circle cx="129.0" cy="330.0" r="2.0"/><circle cx="130.9" cy="326.4" r="2.0"/><circle cx="132.8" cy="328.2" r="2.0"/><circle cx="134.7" cy="331.5" r="2.0"/><circle cx="136.6" cy="334.4" r="2.0"/><circle cx="138.5" cy="344.2" r="2.0"/><circle cx="140.4" cy="347.2" r="2.0"/><circle cx="142.3" cy="353.4" r="2.0"/><circle cx="144.2" cy="357.9" r="2.0"/><circle cx="146.1" cy="363.3" r="2.0"/><circle cx="148.0" cy="365.6" r="2.0"/><circle cx="149.9" cy="368.0" r="2.0"/><circle cx="151.8" cy="368.4" r="2.0"/><circle cx="153.7" cy="371.0" r="2.0"/><circle cx="155.6" cy="370.7" r="2.0"/><circle cx="157.5" cy="372.8" r="2.0"/><circle cx="159.4" cy="373.3" r="2.0"/><circle cx="161.3" cy="373.3" r="2.0"/><circle cx="163.2" cy="375.1" r="2.0"/><circle cx="165.1" cy="374.1" r="2.0"/><circle cx="167.0" cy="374.3" r="2.0"/><circle cx="168.9" cy="374.1" r="2.0"/><circle cx="170.8" cy="374.0" r="2.0"/><circle cx="172.7" cy="374.9" r="2.0"/><circle cx="174.6" cy="375.1" r="2.0"/><circle cx="176.5" cy="373.3" r="2.0"/><circle cx="178.4" cy="375.2" r="2.0"/><circle cx="180.3" cy="374.8" r="2.0"/><circle cx="182.2" cy="375.2" r="2.0"/><circle cx="184.1" cy="374.8" r="2.0"/><circle cx="186.0" cy="373.6" r="2.0"/><circle cx="187.9" cy="373.7" r="2.0"/><circle cx="189.8" cy="375.9" r="2.0"/><circle cx="191.7" cy="374.7" r="2.0"/><circle cx="193.6" cy="373.5" r="2.0"/><circle cx="195.5" cy="374.8" r="2.0"/><circle cx="197.4" cy="374.3" r="2.0"/><circle cx="199.3" cy="373.2" r="2.0"/><circle cx="201.2" cy="372.9" r="2.0"/><circle cx="203.1" cy="373.4" r="2.0"/><circle cx="205.0" cy="374.8" r="2.0"/><circle cx="206.9" cy="374.5" r="2.0"/><circle cx="208.8" cy="374.4" r="2.0"/></g>
<path d="M15.9,378.4 16.3,378.4 16.7,378.3 17.1,378.3 17.5,378.3 17.9,378.3 18.3,378.3 18.7,378.3 19.1,378.2 19.5,378.2 19.9,378.2 20.3,378.2 20.7,378.2 21.1,378.2 21.5,378.1 21.9,378.1 22.3,378.1 22.7,378.1 23.1,378.1 23.5,378.0 23.9,378.0 24.3,378.0 24.7,378.0 25.1,378.0 25.5,377.9 25.9,377.9 26.3,377.9 26.7,377.9 27.1,377.9 27.5,377.8 27.9,377.8 28.3,377.8 28.7,377.8 29.1,377.8 29.5,377.7 29.9,377.7 30.3,377.7 30.7,377.7 31.1,377.6 31.5,377.6 31.9,377.6 32.3,377.6 32.7,377.5 33.1,377.5 33.5,377.5 33.9,377.4 34.3,377.4 34.7,377.4 35.1,377.4 35.5,377.3 35.9,377.3 36.3,377.3 36.7,377.2 37.1,377.2 37.5,377.2 37.9,377.1 38.3,377.1 38.7,377.0 39.1,377.0 39.5,377.0 39.9,376.9 40.3,376.9 40.7,376.8 41.1,376.8 41.5,376.7 41.9,376.7 42.3,376.6 42.7,376.6 43.1,376.5 43.5,376.5 43.9,376.4 44.3,376.4 44.7,376.3 45.1,376.2 45.5,376.2 45.9,376.1 46.3,376.0 46.7,375.9 47.1,375.8 47.5,375.7 47.9,375.6 48.3,375.5 48.7,375.4 49.1,375.3 49.5,375.1 49.9,375.0 50.3,374.8 50.7,374.7 51.1,374.5 51.5,374.3 51.9,374.1 52.3,373.9 52.7,373.7 53.1,373.4 53.5,373.2 53.9,372.9 54.3,372.6 54.7,372.3 55.1,372.0 55.5,371.7 55.9,371.3 56.3,370.9 56.7,370.5 57.1,370.1 57.5,369.7 57.9,369.2 58.3,368.7 58.7,368.2 59.1,367.7 59.5,367.1 59.9,366.5 60.3,365.9 60.7,365.3 61.1,364.6 61.5,364.0 61.9,363.3 62.3,362.6 62.7,361.8 63.1,361.1 63.5,360.3 63.9,359.6 64.3,358.8 64.7,358.0 65.1,357.2 65.5,356.3 65.9,355.5 66.3,354.7 66.7,353.9 67.1,353.1 67.5,352.3 67.9,351.5 68.3,350.7 68.7,349.9 69.1,349.2 69.5,348.4 69.9,347.7 70.3,347.1 70.7,346.4 71.1,345.8 71.5,345.2 71.9,344.7 72.3,344.2 72.7,343.7 73.1,343.3 73.5,342.8 73.9,342.5 74.3,342.1 74.7,341.7 75.1,341.4 75.5,341.1 75.9,340.8 76.3,340.4 76.7,340.1 77.1,339.8 77.5,339.5 77.9,339.2 78.3,338.8 78.7,338.5 79.1,338.1 79.5,337.7 79.9,337.3 80.3,336.9 80.7,336.5 81.1,336.1 81.5,335.6 81.9,335.2 82.3,334.7 82.7,334.2 83.1,333.7 83.5,333.3 83.9,332.8 84.3,332.3 84.7,331.9 85.1,331.5 85.5,331.1 85.9,330.7 86.3,330.4 86.7,330.2 87.1,329.9 87.5,329.8 87.9,329.6 88.3,329.6 88.7,329.6 89.1,329.7 89.5,329.9 89.9,330.1 90.3,330.4 90.7,330.8 91.1,331.3 91.5,331.8 91.9,332.4 92.3,333.1 92.7,333.8 93.1,334.6 93.5,335.4 93.9,336.2 94.3,337.2 94.7,338.1 95.1,339.1 95.5,340.1 95.9,341.1 96.3,342.1 96.7,343.2 97.1,344.2 97.5,345.3 97.9,346.3 98.3,347.3 98.7,348.4 99.1,349.4 99.5,350.4 99.9,351.4 100.3,352.3 100.7,353.2 101.1,354.2 101.5,355.0 101.9,355.9 102.3,356.7 102.7,357.5 103.1,358.2 103.5,359.0 103.9,359.6 104.3,360.3 104.7,360.9 105.1,361.4 105.5,362.0 105.9,362.4 106.3,362.9 106.7,363.3 107.1,363.6 107.5,364.0 107.9,364.2 108.3,364.5 108.7,364.6 109.1,364.8 109.5,364.9 109.9,364.9 110.3,364.9 110.7,364.9 111.1,364.8 111.5,364.7 111.9,364.5 112.3,364.3 112.7,364.0 113.1,363.7 113.5,363.4 113.9,363.0 114.3,362.5 114.7,362.0 115.1,361.5 115.5,360.9 115.9,360.3 116.3,359.6 116.7,358.9 117.1,358.1 117.5,357.3 117.9,356.5 118.3,355.6 118.7,354.6 119.1,353.7 119.5,352.7 119.9,351.7 120.3,350.6 120.7,349.5 121.1,348.4 121.5,347.3 121.9,346.1 122.3,345.0 122.7,343.8 123.1,342.6 123.5,341.5 123.9,340.3 124.3,339.2 124.7,338.0 125.1,336.9 125.5,335.9 125.9,334.8 126.3,333.8 126.7,332.9 127.1,332.0 127.5,331.2 127.9,330.5 128.3,329.9 128.7,329.3 129.1,328.9 129.5,328.5 129.9,328.2 130.3,328.1 130.7,328.1 131.1,328.1 131.5,328.3 131.9,328.6 132.3,329.0 132.7,329.5 133.1,330.1 133.5,330.8 133.9,331.5 134.3,332.4 134.7,333.3 135.1,334.2 135.5,335.3 135.9,336.3 136.3,337.4 136.7,338.6 137.1,339.8 137.5,341.0 137.9,342.2 138.3,343.4 138.7,344.6 139.1,345.8 139.5,347.0 139.9,348.2 140.3,349.4 140.7,350.6 141.1,351.7 141.5,352.9 141.9,354.0 142.3,355.0 142.7,356.1 143.1,357.1 143.5,358.1 143.9,359.0 144.3,359.9 144.7,360.8 145.1,361.6 145.5,362.5 145.9,363.2 146.3,364.0 146.7,364.6 147.1,365.3 147.5,365.9 147.9,366.5 148.3,367.1 148.7,367.6 149.1,368.1 149.5,368.6 149.9,369.0 150.3,369.4 150.7,369.8 151.1,370.2 151.5,370.5 151.9,370.9 152.3,371.1 152.7,371.4 153.1,371.7 153.5,371.9 153.9,372.1 154.3,372.3 154.7,372.5 155.1,372.7 155.5,372.9 155.9,373.0 156.3,373.2 156.7,373.3 157.1,373.4 157.5,373.5 157.9,373.6 158.3,373.7 158.7,373.8 159.1,373.9 159.5,374.0 159.9,374.1 160.3,374.1 160.7,374.2 161.1,374.3 161.5,374.3 161.9,374.4 162.3,374.4 162.7,374.5 163.1,374.5 163.5,374.6 163.9,374.6 164.3,374.7 164.7,374.7 165.1,374.7 165.5,374.8 165.9,374.8 166.3,374.8 166.7,374.9 167.1,374.9 167.5,374.9 167.9,374.9 168.3,375.0 168.7,375.0 169.1,375.0 169.5,375.0 169.9,375.1 170.3,375.1 170.7,375.1 171.1,375.1 171.5,375.1 171.9,375.2 172.3,375.2 172.7,375.2 173.1,375.2 173.5,375.2 173.9,375.2 174.3,375.2 174.7,375.3 175.1,375.3 175.5,375.3 175.9,375.3 176.3,375.3 176.7,375.3 177.1,375.3 177.5,375.3 177.9,375.4 178.3,375.4 178.7,375.4 179.1,375.4 179.5,375.4 179.9,375.4 180.3,375.4 180.7,375.4 181.1,375.4 181.5,375.4 181.9,375.4 182.3,375.5 182.7,375.5 183.1,375.5 183.5,375.5 183.9,375.5 184.3,375.5 184.7,375.5 185.1,375.5 185.5,375.5 185.9,375.5 186.3,375.5 186.7,375.5 187.1,375.5 187.5,375.5 187.9,375.5 188.3,375.5 188.7,375.5 189.1,375.5 189.5,375.5 189.9,375.5 190.3,375.5 190.7,375.6 191.1,375.6 191.5,375.6 191.9,375.6 192.3,375.6 192.7,375.6 193.1,375.6 193.5,375.6 193.9,375.6 194.3,375.6 194.7,375.6 195.1,375.6 195.5,375.6 195.9,375.6 196.3,375.6 196.7,375.6 197.1,375.6 197.5,375.6 197.9,375.6 198.3,375.6 198.7,375.6 199.1,375.6 199.5,375.6 199.9,375.6 200.3,375.6 200.7,375.6 201.1,375.6 201.5,375.6 201.9,375.6 202.3,375.6 202.7,375.6 203.1,375.6 203.5,375.6 203.9,375.6 204.3,375.6 204.7,375.6 205.1,375.6 205.5,375.6 205.9,375.6 206.3,375.6 206.7,375.6 207.1,375.6 207.5,375.6 207.9,375.6 208.3,375.6 208.7,375.6 209.1,375.6 209.5,375.5 209.9,375.5 210.3,375.5 210.7,375.5 211.1,375.5 211.5,375.5 211.9,375.5 212.3,375.5" stroke="#2387F3" stroke-width="2.0" fill="none"/>
<text x="16.90" y="233.10" font-size="10.0" text-anchor="start" fill="#1e1e1e" stroke="#1e1e1e" stroke-width="0.15" >N 1<tspan font-style="italic">s</tspan></text>
<text x="76.50" y="233.30" font-size="10.0" text-anchor="start" fill="#1e1e1e" stroke="#1e1e1e" stroke-width="0.15" >Bipyridinium N<tspan font-size="6.80" baseline-shift="3.60">+</tspan> (401.9 eV)</text>
<path d="M131.90,245.90 V241.50" stroke="#1e1e1e" stroke-width="1.45"/>
<path d="M129.60,242.00 L131.90,237.00 L134.20,242.00 Z" fill="#1e1e1e"/>
<text x="47.40" y="274.50" font-size="10.0" text-anchor="start" fill="#1e1e1e" stroke="#1e1e1e" stroke-width="0.15" >DMF (400.0 eV)</text>
<path d="M95.90,287.60 V280.20" stroke="#1e1e1e" stroke-width="1.45"/>
<path d="M93.60,280.70 L95.90,275.70 L98.20,280.70 Z" fill="#1e1e1e"/>
<text x="177.00" y="292.00" font-size="10.0" text-anchor="start" fill="#FF8A1F" stroke="#FF8A1F" stroke-width="0.15" >Zn-Bipy</text>
<text x="74.30" y="312.20" font-size="10.0" text-anchor="start" fill="#1e1e1e" stroke="#1e1e1e" stroke-width="0.15" >Bipyridinium N<tspan font-size="6.80" baseline-shift="3.60">+</tspan> (401.9 eV)</text>
<path d="M130.00,324.40 V317.30" stroke="#1e1e1e" stroke-width="1.45"/>
<path d="M127.70,317.80 L130.00,312.80 L132.30,317.80 Z" fill="#1e1e1e"/>
<text x="52.30" y="323.50" font-size="10.0" text-anchor="start" fill="#1e1e1e" stroke="#1e1e1e" stroke-width="0.15" >NH<tspan font-size="6.80" baseline-shift="-2.40">3</tspan> (399.7 eV)</text>
<path d="M88.40,331.00 V327.20" stroke="#1e1e1e" stroke-width="1.45"/>
<path d="M86.10,327.70 L88.40,322.70 L90.70,327.70 Z" fill="#1e1e1e"/>
<text x="16.60" y="334.90" font-size="10.0" text-anchor="start" fill="#1e1e1e" stroke="#1e1e1e" stroke-width="0.15" >Bipyridinium N<tspan font-size="6.80" baseline-shift="3.60">+</tspan></text>
<text x="16.60" y="346.60" font-size="10.0" text-anchor="start" fill="#1e1e1e" stroke="#1e1e1e" stroke-width="0.15" >(398.9 eV)</text>
<path d="M73.00,354.70 V347.80" stroke="#1e1e1e" stroke-width="1.45"/>
<path d="M70.70,348.30 L73.00,343.30 L75.30,348.30 Z" fill="#1e1e1e"/>
<text x="155.30" y="367.90" font-size="10.0" text-anchor="start" fill="#2387F3" stroke="#2387F3" stroke-width="0.15" >Zn-Bipy-NH<tspan font-size="6.80" baseline-shift="-2.40">3</tspan></text>
<rect x="13.90" y="222.50" width="199.30" height="159.80" fill="none" stroke="#2a2a2a" stroke-width="1.3"/>
<path d="M17.70,382.30 V385.30 M55.96,382.30 V385.30 M94.22,382.30 V385.30 M132.48,382.30 V385.30 M170.74,382.30 V385.30 M209.00,382.30 V385.30 M36.83,382.30 V383.90 M75.09,382.30 V383.90 M113.35,382.30 V383.90 M151.61,382.30 V383.90 M189.87,382.30 V383.90 " stroke="#2a2a2a" stroke-width="1.1" fill="none"/>
<text x="17.70" y="397.40" font-size="10.25" text-anchor="middle" fill="#1e1e1e" stroke="#1e1e1e" stroke-width="0.15" >396</text>
<text x="55.96" y="397.40" font-size="10.25" text-anchor="middle" fill="#1e1e1e" stroke="#1e1e1e" stroke-width="0.15" >398</text>
<text x="94.22" y="397.40" font-size="10.25" text-anchor="middle" fill="#1e1e1e" stroke="#1e1e1e" stroke-width="0.15" >400</text>
<text x="132.48" y="397.40" font-size="10.25" text-anchor="middle" fill="#1e1e1e" stroke="#1e1e1e" stroke-width="0.15" >402</text>
<text x="170.74" y="397.40" font-size="10.25" text-anchor="middle" fill="#1e1e1e" stroke="#1e1e1e" stroke-width="0.15" >404</text>
<text x="209.00" y="397.40" font-size="10.25" text-anchor="middle" fill="#1e1e1e" stroke="#1e1e1e" stroke-width="0.15" >406</text>
<text x="67.90" y="409.10" font-size="11.2" text-anchor="start" fill="#1e1e1e" stroke="#1e1e1e" stroke-width="0.15" >Binding energy/eV</text>
<path d="M278.2,299.8 278.6,299.8 279.0,299.8 279.4,299.8 279.8,299.8 280.2,299.8 280.6,299.8 281.0,299.8 281.4,299.8 281.8,299.7 282.2,299.7 282.6,299.7 283.0,299.7 283.4,299.7 283.8,299.7 284.2,299.7 284.6,299.7 285.0,299.7 285.4,299.7 285.8,299.7 286.2,299.6 286.6,299.6 287.0,299.6 287.4,299.6 287.8,299.6 288.2,299.6 288.6,299.6 289.0,299.6 289.4,299.6 289.8,299.5 290.2,299.5 290.6,299.5 291.0,299.5 291.4,299.5 291.8,299.5 292.2,299.4 292.6,299.4 293.0,299.4 293.4,299.4 293.8,299.4 294.2,299.3 294.6,299.3 295.0,299.3 295.4,299.3 295.8,299.2 296.2,299.2 296.6,299.2 297.0,299.1 297.4,299.1 297.8,299.0 298.2,299.0 298.6,298.9 299.0,298.9 299.4,298.8 299.8,298.7 300.2,298.6 300.6,298.5 301.0,298.4 301.4,298.3 301.8,298.2 302.2,298.1 302.6,297.9 303.0,297.8 303.4,297.6 303.8,297.4 304.2,297.2 304.6,297.0 305.0,296.7 305.4,296.5 305.8,296.2 306.2,295.8 306.6,295.5 307.0,295.1 307.4,294.7 307.8,294.3 308.2,293.8 308.6,293.3 309.0,292.8 309.4,292.3 309.8,291.7 310.2,291.0 310.6,290.3 311.0,289.6 311.4,288.9 311.8,288.1 312.2,287.2 312.6,286.4 313.0,285.5 313.4,284.5 313.8,283.5 314.2,282.5 314.6,281.5 315.0,280.4 315.4,279.3 315.8,278.1 316.2,277.0 316.6,275.8 317.0,274.6 317.4,273.4 317.8,272.2 318.2,270.9 318.6,269.7 319.0,268.5 319.4,267.3 319.8,266.1 320.2,265.0 320.6,263.8 321.0,262.7 321.4,261.7 321.8,260.7 322.2,259.7 322.6,258.8 323.0,258.0 323.4,257.2 323.8,256.6 324.2,256.0 324.6,255.5 325.0,255.1 325.4,254.7 325.8,254.5 326.2,254.4 326.6,254.3 327.0,254.4 327.4,254.6 327.8,254.9 328.2,255.2 328.6,255.7 329.0,256.2 329.4,256.9 329.8,257.6 330.2,258.4 330.6,259.2 331.0,260.1 331.4,261.1 331.8,262.1 332.2,263.2 332.6,264.3 333.0,265.5 333.4,266.6 333.8,267.8 334.2,269.0 334.6,270.2 335.0,271.5 335.4,272.7 335.8,273.9 336.2,275.1 336.6,276.3 337.0,277.4 337.4,278.6 337.8,279.7 338.2,280.8 338.6,281.9 339.0,282.9 339.4,283.9 339.8,284.8 340.2,285.8 340.6,286.7 341.0,287.5 341.4,288.3 341.8,289.1 342.2,289.8 342.6,290.5 343.0,291.2 343.4,291.8 343.8,292.3 344.2,292.9 344.6,293.4 345.0,293.9 345.4,294.3 345.8,294.7 346.2,295.1 346.6,295.5 347.0,295.8 347.4,296.1 347.8,296.4 348.2,296.6 348.6,296.8 349.0,297.1 349.4,297.2 349.8,297.4 350.2,297.6 350.6,297.7 351.0,297.9 351.4,298.0 351.8,298.1 352.2,298.2 352.6,298.3 353.0,298.4 353.4,298.5 353.8,298.5 354.2,298.6 354.6,298.6 355.0,298.7 355.4,298.7 355.8,298.8 356.2,298.8 356.6,298.8 357.0,298.9 357.4,298.9 357.8,298.9 358.2,299.0 358.6,299.0 359.0,299.0 359.4,299.0 359.8,299.0 360.2,299.0 360.6,299.1 361.0,299.1 361.4,299.1 361.8,299.1 362.2,299.1 362.6,299.1 363.0,299.1 363.4,299.1 363.8,299.1 364.2,299.2 364.6,299.2 365.0,299.2 365.4,299.2 365.8,299.2 366.2,299.2 366.6,299.2 367.0,299.2 367.4,299.2 367.8,299.2 368.2,299.2 368.6,299.2 369.0,299.2 369.4,299.2 369.8,299.2 370.2,299.2 370.6,299.2 371.0,299.2 371.4,299.2 371.8,299.3 372.2,299.3 372.6,299.3 373.0,299.3 373.4,299.3 373.8,299.3 374.2,299.3 374.6,299.3 L374.6,299.6 374.2,299.6 373.8,299.6 373.4,299.6 373.0,299.6 372.6,299.6 372.2,299.6 371.8,299.6 371.4,299.6 371.0,299.6 370.6,299.6 370.2,299.6 369.8,299.6 369.4,299.6 369.0,299.6 368.6,299.6 368.2,299.6 367.8,299.6 367.4,299.6 367.0,299.6 366.6,299.6 366.2,299.6 365.8,299.6 365.4,299.6 365.0,299.6 364.6,299.6 364.2,299.6 363.8,299.6 363.4,299.6 363.0,299.6 362.6,299.6 362.2,299.6 361.8,299.6 361.4,299.7 361.0,299.7 360.6,299.7 360.2,299.7 359.8,299.7 359.4,299.7 359.0,299.7 358.6,299.7 358.2,299.7 357.8,299.7 357.4,299.7 357.0,299.7 356.6,299.7 356.2,299.7 355.8,299.7 355.4,299.7 355.0,299.7 354.6,299.7 354.2,299.7 353.8,299.7 353.4,299.7 353.0,299.7 352.6,299.7 352.2,299.7 351.8,299.7 351.4,299.7 351.0,299.7 350.6,299.7 350.2,299.7 349.8,299.7 349.4,299.7 349.0,299.7 348.6,299.7 348.2,299.7 347.8,299.7 347.4,299.7 347.0,299.7 346.6,299.7 346.2,299.7 345.8,299.7 345.4,299.7 345.0,299.7 344.6,299.7 344.2,299.7 343.8,299.7 343.4,299.8 343.0,299.8 342.6,299.8 342.2,299.8 341.8,299.8 341.4,299.8 341.0,299.8 340.6,299.8 340.2,299.8 339.8,299.8 339.4,299.8 339.0,299.8 338.6,299.8 338.2,299.8 337.8,299.8 337.4,299.8 337.0,299.8 336.6,299.8 336.2,299.8 335.8,299.8 335.4,299.8 335.0,299.8 334.6,299.8 334.2,299.8 333.8,299.8 333.4,299.8 333.0,299.8 332.6,299.8 332.2,299.8 331.8,299.8 331.4,299.8 331.0,299.8 330.6,299.8 330.2,299.8 329.8,299.8 329.4,299.8 329.0,299.8 328.6,299.8 328.2,299.8 327.8,299.8 327.4,299.8 327.0,299.8 326.6,299.8 326.2,299.8 325.8,299.8 325.4,299.9 325.0,299.9 324.6,299.9 324.2,299.9 323.8,299.9 323.4,299.9 323.0,299.9 322.6,299.9 322.2,299.9 321.8,299.9 321.4,299.9 321.0,299.9 320.6,299.9 320.2,299.9 319.8,299.9 319.4,299.9 319.0,299.9 318.6,299.9 318.2,299.9 317.8,299.9 317.4,299.9 317.0,299.9 316.6,299.9 316.2,299.9 315.8,299.9 315.4,299.9 315.0,299.9 314.6,299.9 314.2,299.9 313.8,299.9 313.4,299.9 313.0,299.9 312.6,299.9 312.2,299.9 311.8,299.9 311.4,299.9 311.0,299.9 310.6,299.9 310.2,299.9 309.8,299.9 309.4,299.9 309.0,299.9 308.6,299.9 308.2,299.9 307.8,299.9 307.4,300.0 307.0,300.0 306.6,300.0 306.2,300.0 305.8,300.0 305.4,300.0 305.0,300.0 304.6,300.0 304.2,300.0 303.8,300.0 303.4,300.0 303.0,300.0 302.6,300.0 302.2,300.0 301.8,300.0 301.4,300.0 301.0,300.0 300.6,300.0 300.2,300.0 299.8,300.0 299.4,300.0 299.0,300.0 298.6,300.0 298.2,300.0 297.8,300.0 297.4,300.0 297.0,300.0 296.6,300.0 296.2,300.0 295.8,300.0 295.4,300.0 295.0,300.0 294.6,300.0 294.2,300.0 293.8,300.0 293.4,300.0 293.0,300.0 292.6,300.0 292.2,300.0 291.8,300.0 291.4,300.0 291.0,300.0 290.6,300.0 290.2,300.0 289.8,300.0 289.4,300.1 289.0,300.1 288.6,300.1 288.2,300.1 287.8,300.1 287.4,300.1 287.0,300.1 286.6,300.1 286.2,300.1 285.8,300.1 285.4,300.1 285.0,300.1 284.6,300.1 284.2,300.1 283.8,300.1 283.4,300.1 283.0,300.1 282.6,300.1 282.2,300.1 281.8,300.1 281.4,300.1 281.0,300.1 280.6,300.1 280.2,300.1 279.8,300.1 279.4,300.1 279.0,300.1 278.6,300.1 278.2,300.1 Z" fill="url(#g6)"/>
<path d="M319.4,299.6 319.8,299.6 320.2,299.5 320.6,299.5 321.0,299.5 321.4,299.5 321.8,299.4 322.2,299.4 322.6,299.4 323.0,299.3 323.4,299.3 323.8,299.2 324.2,299.1 324.6,299.1 325.0,299.0 325.4,298.9 325.8,298.8 326.2,298.7 326.6,298.5 327.0,298.4 327.4,298.3 327.8,298.1 328.2,297.9 328.6,297.7 329.0,297.5 329.4,297.2 329.8,297.0 330.2,296.7 330.6,296.4 331.0,296.1 331.4,295.7 331.8,295.3 332.2,294.9 332.6,294.5 333.0,294.1 333.4,293.6 333.8,293.2 334.2,292.7 334.6,292.2 335.0,291.6 335.4,291.1 335.8,290.5 336.2,290.0 336.6,289.4 337.0,288.9 337.4,288.3 337.8,287.8 338.2,287.2 338.6,286.7 339.0,286.2 339.4,285.7 339.8,285.3 340.2,284.9 340.6,284.5 341.0,284.2 341.4,283.9 341.8,283.7 342.2,283.5 342.6,283.3 343.0,283.3 343.4,283.3 343.8,283.3 344.2,283.4 344.6,283.5 345.0,283.7 345.4,284.0 345.8,284.3 346.2,284.7 346.6,285.0 347.0,285.5 347.4,285.9 347.8,286.4 348.2,286.9 348.6,287.4 349.0,288.0 349.4,288.5 349.8,289.1 350.2,289.6 350.6,290.2 351.0,290.7 351.4,291.3 351.8,291.8 352.2,292.3 352.6,292.8 353.0,293.3 353.4,293.8 353.8,294.2 354.2,294.6 354.6,295.0 355.0,295.4 355.4,295.8 355.8,296.1 356.2,296.4 356.6,296.7 357.0,297.0 357.4,297.2 357.8,297.4 358.2,297.6 358.6,297.8 359.0,298.0 359.4,298.2 359.8,298.3 360.2,298.4 360.6,298.5 361.0,298.6 361.4,298.7 361.8,298.8 362.2,298.9 362.6,298.9 363.0,299.0 363.4,299.1 363.8,299.1 364.2,299.1 364.6,299.2 365.0,299.2 365.4,299.2 365.8,299.3 366.2,299.3 366.6,299.3 367.0,299.3 L367.0,299.6 366.6,299.6 366.2,299.6 365.8,299.6 365.4,299.6 365.0,299.6 364.6,299.6 364.2,299.6 363.8,299.6 363.4,299.6 363.0,299.6 362.6,299.6 362.2,299.6 361.8,299.6 361.4,299.7 361.0,299.7 360.6,299.7 360.2,299.7 359.8,299.7 359.4,299.7 359.0,299.7 358.6,299.7 358.2,299.7 357.8,299.7 357.4,299.7 357.0,299.7 356.6,299.7 356.2,299.7 355.8,299.7 355.4,299.7 355.0,299.7 354.6,299.7 354.2,299.7 353.8,299.7 353.4,299.7 353.0,299.7 352.6,299.7 352.2,299.7 351.8,299.7 351.4,299.7 351.0,299.7 350.6,299.7 350.2,299.7 349.8,299.7 349.4,299.7 349.0,299.7 348.6,299.7 348.2,299.7 347.8,299.7 347.4,299.7 347.0,299.7 346.6,299.7 346.2,299.7 345.8,299.7 345.4,299.7 345.0,299.7 344.6,299.7 344.2,299.7 343.8,299.7 343.4,299.8 343.0,299.8 342.6,299.8 342.2,299.8 341.8,299.8 341.4,299.8 341.0,299.8 340.6,299.8 340.2,299.8 339.8,299.8 339.4,299.8 339.0,299.8 338.6,299.8 338.2,299.8 337.8,299.8 337.4,299.8 337.0,299.8 336.6,299.8 336.2,299.8 335.8,299.8 335.4,299.8 335.0,299.8 334.6,299.8 334.2,299.8 333.8,299.8 333.4,299.8 333.0,299.8 332.6,299.8 332.2,299.8 331.8,299.8 331.4,299.8 331.0,299.8 330.6,299.8 330.2,299.8 329.8,299.8 329.4,299.8 329.0,299.8 328.6,299.8 328.2,299.8 327.8,299.8 327.4,299.8 327.0,299.8 326.6,299.8 326.2,299.8 325.8,299.8 325.4,299.9 325.0,299.9 324.6,299.9 324.2,299.9 323.8,299.9 323.4,299.9 323.0,299.9 322.6,299.9 322.2,299.9 321.8,299.9 321.4,299.9 321.0,299.9 320.6,299.9 320.2,299.9 319.8,299.9 319.4,299.9 Z" fill="url(#g7)"/>
<path d="M335.4,299.5 335.8,299.5 336.2,299.4 336.6,299.4 337.0,299.4 337.4,299.3 337.8,299.3 338.2,299.3 338.6,299.2 339.0,299.2 339.4,299.1 339.8,299.1 340.2,299.0 340.6,298.9 341.0,298.9 341.4,298.8 341.8,298.7 342.2,298.6 342.6,298.6 343.0,298.5 343.4,298.4 343.8,298.3 344.2,298.1 344.6,298.0 345.0,297.9 345.4,297.8 345.8,297.6 346.2,297.5 346.6,297.3 347.0,297.2 347.4,297.0 347.8,296.8 348.2,296.7 348.6,296.5 349.0,296.3 349.4,296.1 349.8,295.9 350.2,295.7 350.6,295.5 351.0,295.3 351.4,295.1 351.8,294.9 352.2,294.7 352.6,294.5 353.0,294.3 353.4,294.1 353.8,293.9 354.2,293.7 354.6,293.5 355.0,293.3 355.4,293.1 355.8,293.0 356.2,292.8 356.6,292.6 357.0,292.5 357.4,292.4 357.8,292.3 358.2,292.2 358.6,292.1 359.0,292.0 359.4,291.9 359.8,291.9 360.2,291.9 360.6,291.9 361.0,291.9 361.4,291.9 361.8,291.9 362.2,292.0 362.6,292.0 363.0,292.1 363.4,292.2 363.8,292.3 364.2,292.5 364.6,292.6 365.0,292.7 365.4,292.9 365.8,293.1 366.2,293.2 366.6,293.4 367.0,293.6 367.4,293.8 367.8,294.0 368.2,294.2 368.6,294.4 369.0,294.6 369.4,294.8 369.8,295.0 370.2,295.2 370.6,295.4 371.0,295.6 371.4,295.8 371.8,296.0 372.2,296.2 372.6,296.3 373.0,296.5 373.4,296.7 373.8,296.9 374.2,297.0 374.6,297.2 375.0,297.3 375.4,297.5 375.8,297.6 376.2,297.7 376.6,297.8 377.0,298.0 377.4,298.1 377.8,298.2 378.2,298.3 378.6,298.4 379.0,298.4 379.4,298.5 379.8,298.6 380.2,298.7 380.6,298.7 381.0,298.8 381.4,298.8 381.8,298.9 382.2,298.9 382.6,299.0 383.0,299.0 383.4,299.1 383.8,299.1 384.2,299.1 384.6,299.1 385.0,299.2 385.4,299.2 385.8,299.2 L385.8,299.5 385.4,299.5 385.0,299.5 384.6,299.5 384.2,299.5 383.8,299.5 383.4,299.5 383.0,299.5 382.6,299.5 382.2,299.5 381.8,299.5 381.4,299.5 381.0,299.5 380.6,299.5 380.2,299.5 379.8,299.5 379.4,299.5 379.0,299.6 378.6,299.6 378.2,299.6 377.8,299.6 377.4,299.6 377.0,299.6 376.6,299.6 376.2,299.6 375.8,299.6 375.4,299.6 375.0,299.6 374.6,299.6 374.2,299.6 373.8,299.6 373.4,299.6 373.0,299.6 372.6,299.6 372.2,299.6 371.8,299.6 371.4,299.6 371.0,299.6 370.6,299.6 370.2,299.6 369.8,299.6 369.4,299.6 369.0,299.6 368.6,299.6 368.2,299.6 367.8,299.6 367.4,299.6 367.0,299.6 366.6,299.6 366.2,299.6 365.8,299.6 365.4,299.6 365.0,299.6 364.6,299.6 364.2,299.6 363.8,299.6 363.4,299.6 363.0,299.6 362.6,299.6 362.2,299.6 361.8,299.6 361.4,299.7 361.0,299.7 360.6,299.7 360.2,299.7 359.8,299.7 359.4,299.7 359.0,299.7 358.6,299.7 358.2,299.7 357.8,299.7 357.4,299.7 357.0,299.7 356.6,299.7 356.2,299.7 355.8,299.7 355.4,299.7 355.0,299.7 354.6,299.7 354.2,299.7 353.8,299.7 353.4,299.7 353.0,299.7 352.6,299.7 352.2,299.7 351.8,299.7 351.4,299.7 351.0,299.7 350.6,299.7 350.2,299.7 349.8,299.7 349.4,299.7 349.0,299.7 348.6,299.7 348.2,299.7 347.8,299.7 347.4,299.7 347.0,299.7 346.6,299.7 346.2,299.7 345.8,299.7 345.4,299.7 345.0,299.7 344.6,299.7 344.2,299.7 343.8,299.7 343.4,299.8 343.0,299.8 342.6,299.8 342.2,299.8 341.8,299.8 341.4,299.8 341.0,299.8 340.6,299.8 340.2,299.8 339.8,299.8 339.4,299.8 339.0,299.8 338.6,299.8 338.2,299.8 337.8,299.8 337.4,299.8 337.0,299.8 336.6,299.8 336.2,299.8 335.8,299.8 335.4,299.8 Z" fill="url(#g8)"/>
<path d="M246.6,300.3 247.0,300.3 247.4,300.3 247.8,300.3 248.2,300.3 248.6,300.3 249.0,300.3 249.4,300.3 249.8,300.3 250.2,300.3 250.6,300.3 251.0,300.3 251.4,300.3 251.8,300.3 252.2,300.3 252.6,300.3 253.0,300.3 253.4,300.3 253.8,300.2 254.2,300.2 254.6,300.2 255.0,300.2 255.4,300.2 255.8,300.2 256.2,300.2 256.6,300.2 257.0,300.2 257.4,300.2 257.8,300.2 258.2,300.2 258.6,300.2 259.0,300.2 259.4,300.2 259.8,300.2 260.2,300.2 260.6,300.2 261.0,300.2 261.4,300.2 261.8,300.2 262.2,300.2 262.6,300.2 263.0,300.2 263.4,300.2 263.8,300.2 264.2,300.2 264.6,300.2 265.0,300.2 265.4,300.2 265.8,300.2 266.2,300.2 266.6,300.2 267.0,300.2 267.4,300.2 267.8,300.2 268.2,300.2 268.6,300.2 269.0,300.2 269.4,300.2 269.8,300.2 270.2,300.2 270.6,300.2 271.0,300.2 271.4,300.2 271.8,300.1 272.2,300.1 272.6,300.1 273.0,300.1 273.4,300.1 273.8,300.1 274.2,300.1 274.6,300.1 275.0,300.1 275.4,300.1 275.8,300.1 276.2,300.1 276.6,300.1 277.0,300.1 277.4,300.1 277.8,300.1 278.2,300.1 278.6,300.1 279.0,300.1 279.4,300.1 279.8,300.1 280.2,300.1 280.6,300.1 281.0,300.1 281.4,300.1 281.8,300.1 282.2,300.1 282.6,300.1 283.0,300.1 283.4,300.1 283.8,300.1 284.2,300.1 284.6,300.1 285.0,300.1 285.4,300.1 285.8,300.1 286.2,300.1 286.6,300.1 287.0,300.1 287.4,300.1 287.8,300.1 288.2,300.1 288.6,300.1 289.0,300.1 289.4,300.1 289.8,300.0 290.2,300.0 290.6,300.0 291.0,300.0 291.4,300.0 291.8,300.0 292.2,300.0 292.6,300.0 293.0,300.0 293.4,300.0 293.8,300.0 294.2,300.0 294.6,300.0 295.0,300.0 295.4,300.0 295.8,300.0 296.2,300.0 296.6,300.0 297.0,300.0 297.4,300.0 297.8,300.0 298.2,300.0 298.6,300.0 299.0,300.0 299.4,300.0 299.8,300.0 300.2,300.0 300.6,300.0 301.0,300.0 301.4,300.0 301.8,300.0 302.2,300.0 302.6,300.0 303.0,300.0 303.4,300.0 303.8,300.0 304.2,300.0 304.6,300.0 305.0,300.0 305.4,300.0 305.8,300.0 306.2,300.0 306.6,300.0 307.0,300.0 307.4,300.0 307.8,299.9 308.2,299.9 308.6,299.9 309.0,299.9 309.4,299.9 309.8,299.9 310.2,299.9 310.6,299.9 311.0,299.9 311.4,299.9 311.8,299.9 312.2,299.9 312.6,299.9 313.0,299.9 313.4,299.9 313.8,299.9 314.2,299.9 314.6,299.9 315.0,299.9 315.4,299.9 315.8,299.9 316.2,299.9 316.6,299.9 317.0,299.9 317.4,299.9 317.8,299.9 318.2,299.9 318.6,299.9 319.0,299.9 319.4,299.9 319.8,299.9 320.2,299.9 320.6,299.9 321.0,299.9 321.4,299.9 321.8,299.9 322.2,299.9 322.6,299.9 323.0,299.9 323.4,299.9 323.8,299.9 324.2,299.9 324.6,299.9 325.0,299.9 325.4,299.9 325.8,299.8 326.2,299.8 326.6,299.8 327.0,299.8 327.4,299.8 327.8,299.8 328.2,299.8 328.6,299.8 329.0,299.8 329.4,299.8 329.8,299.8 330.2,299.8 330.6,299.8 331.0,299.8 331.4,299.8 331.8,299.8 332.2,299.8 332.6,299.8 333.0,299.8 333.4,299.8 333.8,299.8 334.2,299.8 334.6,299.8 335.0,299.8 335.4,299.8 335.8,299.8 336.2,299.8 336.6,299.8 337.0,299.8 337.4,299.8 337.8,299.8 338.2,299.8 338.6,299.8 339.0,299.8 339.4,299.8 339.8,299.8 340.2,299.8 340.6,299.8 341.0,299.8 341.4,299.8 341.8,299.8 342.2,299.8 342.6,299.8 343.0,299.8 343.4,299.8 343.8,299.7 344.2,299.7 344.6,299.7 345.0,299.7 345.4,299.7 345.8,299.7 346.2,299.7 346.6,299.7 347.0,299.7 347.4,299.7 347.8,299.7 348.2,299.7 348.6,299.7 349.0,299.7 349.4,299.7 349.8,299.7 350.2,299.7 350.6,299.7 351.0,299.7 351.4,299.7 351.8,299.7 352.2,299.7 352.6,299.7 353.0,299.7 353.4,299.7 353.8,299.7 354.2,299.7 354.6,299.7 355.0,299.7 355.4,299.7 355.8,299.7 356.2,299.7 356.6,299.7 357.0,299.7 357.4,299.7 357.8,299.7 358.2,299.7 358.6,299.7 359.0,299.7 359.4,299.7 359.8,299.7 360.2,299.7 360.6,299.7 361.0,299.7 361.4,299.7 361.8,299.6 362.2,299.6 362.6,299.6 363.0,299.6 363.4,299.6 363.8,299.6 364.2,299.6 364.6,299.6 365.0,299.6 365.4,299.6 365.8,299.6 366.2,299.6 366.6,299.6 367.0,299.6 367.4,299.6 367.8,299.6 368.2,299.6 368.6,299.6 369.0,299.6 369.4,299.6 369.8,299.6 370.2,299.6 370.6,299.6 371.0,299.6 371.4,299.6 371.8,299.6 372.2,299.6 372.6,299.6 373.0,299.6 373.4,299.6 373.8,299.6 374.2,299.6 374.6,299.6 375.0,299.6 375.4,299.6 375.8,299.6 376.2,299.6 376.6,299.6 377.0,299.6 377.4,299.6 377.8,299.6 378.2,299.6 378.6,299.6 379.0,299.6 379.4,299.5 379.8,299.5 380.2,299.5 380.6,299.5 381.0,299.5 381.4,299.5 381.8,299.5 382.2,299.5 382.6,299.5 383.0,299.5 383.4,299.5 383.8,299.5 384.2,299.5 384.6,299.5 385.0,299.5 385.4,299.5 385.8,299.5 386.2,299.5 386.6,299.5 387.0,299.5 387.4,299.5 387.8,299.5 388.2,299.5 388.6,299.5 389.0,299.5 389.4,299.5 389.8,299.5 390.2,299.5 390.6,299.5 391.0,299.5 391.4,299.5 391.8,299.5 392.2,299.5 392.6,299.5 393.0,299.5 393.4,299.5 393.8,299.5 394.2,299.5 394.6,299.5 395.0,299.5 395.4,299.5 395.8,299.5 396.2,299.5 396.6,299.5 397.0,299.5 397.4,299.4 397.8,299.4 398.2,299.4 398.6,299.4 399.0,299.4 399.4,299.4 399.8,299.4 400.2,299.4 400.6,299.4 401.0,299.4 401.4,299.4 401.8,299.4 402.2,299.4 402.6,299.4 403.0,299.4 403.4,299.4 403.8,299.4 404.2,299.4 404.6,299.4 405.0,299.4 405.4,299.4 405.8,299.4 406.2,299.4 406.6,299.4 407.0,299.4 407.4,299.4 407.8,299.4 408.2,299.4 408.6,299.4 409.0,299.4 409.4,299.4 409.8,299.4 410.2,299.4 410.6,299.4 411.0,299.4 411.4,299.4 411.8,299.4 412.2,299.4 412.6,299.4 413.0,299.4 413.4,299.4 413.8,299.4 414.2,299.4 414.6,299.4 415.0,299.4 415.4,299.3 415.8,299.3 416.2,299.3 416.6,299.3 417.0,299.3 417.4,299.3 417.8,299.3 418.2,299.3 418.6,299.3 419.0,299.3 419.4,299.3 419.8,299.3 420.2,299.3 420.6,299.3 421.0,299.3 421.4,299.3 421.8,299.3 422.2,299.3 422.6,299.3 423.0,299.3 423.4,299.3 423.8,299.3 424.2,299.3 424.6,299.3 425.0,299.3 425.4,299.3 425.8,299.3 426.2,299.3 426.6,299.3 427.0,299.3 427.4,299.3 427.8,299.3 428.2,299.3 428.6,299.3 429.0,299.3 429.4,299.3 429.8,299.3 430.2,299.3 430.6,299.3 431.0,299.3 431.4,299.3 431.8,299.3 432.2,299.3 432.6,299.3 433.0,299.3 433.4,299.2 433.8,299.2 434.2,299.2 434.6,299.2 435.0,299.2 435.4,299.2 435.8,299.2 436.2,299.2 436.6,299.2 437.0,299.2 437.4,299.2 437.8,299.2 438.2,299.2 438.6,299.2 439.0,299.2 439.4,299.2 439.8,299.2 440.2,299.2 440.6,299.2 441.0,299.2 441.4,299.2" stroke="#9a9a2a" stroke-width="1.6" fill="none"/>
<path d="M247.6,298.0 249.2,298.1 250.8,297.2 252.4,297.8 254.0,297.6 255.6,297.4 257.2,297.7 258.8,297.8 260.4,297.7 262.0,297.3 263.6,297.6 265.2,298.5 266.8,297.4 268.4,297.1 270.0,297.8 271.6,297.9 273.2,297.8 274.8,297.2 276.4,297.9 278.0,297.3 279.6,297.1 281.2,297.2 282.8,297.4 284.4,297.6 286.0,297.5 287.6,297.2 289.2,297.4 290.8,297.0 292.4,297.1 294.0,296.0 295.6,295.5 297.2,295.9 298.8,294.5 300.4,293.9 302.0,292.7 303.6,291.2 305.2,289.5 306.8,287.8 308.4,283.5 310.0,281.4 311.6,277.1 313.2,270.4 314.8,264.9 316.4,260.5 318.0,256.6 319.6,252.7 321.2,251.5 322.8,250.1 324.4,249.6 326.0,249.5 327.6,250.5 329.2,251.5 330.8,253.4 332.4,256.0 334.0,259.6 335.6,262.7 337.2,264.9 338.8,266.4 340.4,269.1 342.0,269.9 343.6,270.7 345.2,272.8 346.8,273.2 348.4,274.6 350.0,275.3 351.6,276.4 353.2,277.3 354.8,277.9 356.4,278.9 358.0,280.4 359.6,279.8 361.2,281.4 362.8,282.4 364.4,282.7 366.0,283.5 367.6,285.6 369.2,285.6 370.8,287.5 372.4,288.1 374.0,289.3 375.6,290.7 377.2,291.9 378.8,293.0 380.4,293.3 382.0,293.8 383.6,294.4 385.2,295.3 386.8,295.5 388.4,295.2 390.0,295.5 391.6,296.0 393.2,295.8 394.8,296.0 396.4,295.9 398.0,296.2 399.6,296.5 401.2,296.8 402.8,296.5 404.4,297.2 406.0,296.5 407.6,297.7 409.2,296.9 410.8,296.8 412.4,296.4 414.0,295.6 415.6,296.6 417.2,296.7 418.8,297.3 420.4,296.2 422.0,297.3 423.6,296.6 425.2,296.9 426.8,295.8 428.4,296.7 430.0,296.6 431.6,296.9 433.2,296.7 434.8,296.3 436.4,297.0 438.0,296.9 439.6,296.9" stroke="#8a8a8a" stroke-width="4.10" fill="none" stroke-linejoin="round" stroke-linecap="round"/>
<g fill="#e6e6e6" stroke="#7c7c7c" stroke-width="0.9"><circle cx="247.6" cy="298.0" r="1.6"/><circle cx="249.2" cy="298.1" r="1.6"/><circle cx="250.8" cy="297.2" r="1.6"/><circle cx="252.4" cy="297.8" r="1.6"/><circle cx="254.0" cy="297.6" r="1.6"/><circle cx="255.6" cy="297.4" r="1.6"/><circle cx="257.2" cy="297.7" r="1.6"/><circle cx="258.8" cy="297.8" r="1.6"/><circle cx="260.4" cy="297.7" r="1.6"/><circle cx="262.0" cy="297.3" r="1.6"/><circle cx="263.6" cy="297.6" r="1.6"/><circle cx="265.2" cy="298.5" r="1.6"/><circle cx="266.8" cy="297.4" r="1.6"/><circle cx="268.4" cy="297.1" r="1.6"/><circle cx="270.0" cy="297.8" r="1.6"/><circle cx="271.6" cy="297.9" r="1.6"/><circle cx="273.2" cy="297.8" r="1.6"/><circle cx="274.8" cy="297.2" r="1.6"/><circle cx="276.4" cy="297.9" r="1.6"/><circle cx="278.0" cy="297.3" r="1.6"/><circle cx="279.6" cy="297.1" r="1.6"/><circle cx="281.2" cy="297.2" r="1.6"/><circle cx="282.8" cy="297.4" r="1.6"/><circle cx="284.4" cy="297.6" r="1.6"/><circle cx="286.0" cy="297.5" r="1.6"/><circle cx="287.6" cy="297.2" r="1.6"/><circle cx="289.2" cy="297.4" r="1.6"/><circle cx="290.8" cy="297.0" r="1.6"/><circle cx="292.4" cy="297.1" r="1.6"/><circle cx="294.0" cy="296.0" r="1.6"/><circle cx="295.6" cy="295.5" r="1.6"/><circle cx="297.2" cy="295.9" r="1.6"/><circle cx="298.8" cy="294.5" r="1.6"/><circle cx="300.4" cy="293.9" r="1.6"/><circle cx="302.0" cy="292.7" r="1.6"/><circle cx="303.6" cy="291.2" r="1.6"/><circle cx="305.2" cy="289.5" r="1.6"/><circle cx="306.8" cy="287.8" r="1.6"/><circle cx="308.4" cy="283.5" r="1.6"/><circle cx="310.0" cy="281.4" r="1.6"/><circle cx="311.6" cy="277.1" r="1.6"/><circle cx="313.2" cy="270.4" r="1.6"/><circle cx="314.8" cy="264.9" r="1.6"/><circle cx="316.4" cy="260.5" r="1.6"/><circle cx="318.0" cy="256.6" r="1.6"/><circle cx="319.6" cy="252.7" r="1.6"/><circle cx="321.2" cy="251.5" r="1.6"/><circle cx="322.8" cy="250.1" r="1.6"/><circle cx="324.4" cy="249.6" r="1.6"/><circle cx="326.0" cy="249.5" r="1.6"/><circle cx="327.6" cy="250.5" r="1.6"/><circle cx="329.2" cy="251.5" r="1.6"/><circle cx="330.8" cy="253.4" r="1.6"/><circle cx="332.4" cy="256.0" r="1.6"/><circle cx="334.0" cy="259.6" r="1.6"/><circle cx="335.6" cy="262.7" r="1.6"/><circle cx="337.2" cy="264.9" r="1.6"/><circle cx="338.8" cy="266.4" r="1.6"/><circle cx="340.4" cy="269.1" r="1.6"/><circle cx="342.0" cy="269.9" r="1.6"/><circle cx="343.6" cy="270.7" r="1.6"/><circle cx="345.2" cy="272.8" r="1.6"/><circle cx="346.8" cy="273.2" r="1.6"/><circle cx="348.4" cy="274.6" r="1.6"/><circle cx="350.0" cy="275.3" r="1.6"/><circle cx="351.6" cy="276.4" r="1.6"/><circle cx="353.2" cy="277.3" r="1.6"/><circle cx="354.8" cy="277.9" r="1.6"/><circle cx="356.4" cy="278.9" r="1.6"/><circle cx="358.0" cy="280.4" r="1.6"/><circle cx="359.6" cy="279.8" r="1.6"/><circle cx="361.2" cy="281.4" r="1.6"/><circle cx="362.8" cy="282.4" r="1.6"/><circle cx="364.4" cy="282.7" r="1.6"/><circle cx="366.0" cy="283.5" r="1.6"/><circle cx="367.6" cy="285.6" r="1.6"/><circle cx="369.2" cy="285.6" r="1.6"/><circle cx="370.8" cy="287.5" r="1.6"/><circle cx="372.4" cy="288.1" r="1.6"/><circle cx="374.0" cy="289.3" r="1.6"/><circle cx="375.6" cy="290.7" r="1.6"/><circle cx="377.2" cy="291.9" r="1.6"/><circle cx="378.8" cy="293.0" r="1.6"/><circle cx="380.4" cy="293.3" r="1.6"/><circle cx="382.0" cy="293.8" r="1.6"/><circle cx="383.6" cy="294.4" r="1.6"/><circle cx="385.2" cy="295.3" r="1.6"/><circle cx="386.8" cy="295.5" r="1.6"/><circle cx="388.4" cy="295.2" r="1.6"/><circle cx="390.0" cy="295.5" r="1.6"/><circle cx="391.6" cy="296.0" r="1.6"/><circle cx="393.2" cy="295.8" r="1.6"/><circle cx="394.8" cy="296.0" r="1.6"/><circle cx="396.4" cy="295.9" r="1.6"/><circle cx="398.0" cy="296.2" r="1.6"/><circle cx="399.6" cy="296.5" r="1.6"/><circle cx="401.2" cy="296.8" r="1.6"/><circle cx="402.8" cy="296.5" r="1.6"/><circle cx="404.4" cy="297.2" r="1.6"/><circle cx="406.0" cy="296.5" r="1.6"/><circle cx="407.6" cy="297.7" r="1.6"/><circle cx="409.2" cy="296.9" r="1.6"/><circle cx="410.8" cy="296.8" r="1.6"/><circle cx="412.4" cy="296.4" r="1.6"/><circle cx="414.0" cy="295.6" r="1.6"/><circle cx="415.6" cy="296.6" r="1.6"/><circle cx="417.2" cy="296.7" r="1.6"/><circle cx="418.8" cy="297.3" r="1.6"/><circle cx="420.4" cy="296.2" r="1.6"/><circle cx="422.0" cy="297.3" r="1.6"/><circle cx="423.6" cy="296.6" r="1.6"/><circle cx="425.2" cy="296.9" r="1.6"/><circle cx="426.8" cy="295.8" r="1.6"/><circle cx="428.4" cy="296.7" r="1.6"/><circle cx="430.0" cy="296.6" r="1.6"/><circle cx="431.6" cy="296.9" r="1.6"/><circle cx="433.2" cy="296.7" r="1.6"/><circle cx="434.8" cy="296.3" r="1.6"/><circle cx="436.4" cy="297.0" r="1.6"/><circle cx="438.0" cy="296.9" r="1.6"/><circle cx="439.6" cy="296.9" r="1.6"/></g>
<path d="M246.6,298.8 247.0,298.8 247.4,298.8 247.8,298.8 248.2,298.8 248.6,298.8 249.0,298.8 249.4,298.8 249.8,298.8 250.2,298.8 250.6,298.8 251.0,298.8 251.4,298.8 251.8,298.8 252.2,298.8 252.6,298.8 253.0,298.8 253.4,298.8 253.8,298.8 254.2,298.8 254.6,298.8 255.0,298.8 255.4,298.8 255.8,298.8 256.2,298.8 256.6,298.8 257.0,298.8 257.4,298.7 257.8,298.7 258.2,298.7 258.6,298.7 259.0,298.7 259.4,298.7 259.8,298.7 260.2,298.7 260.6,298.7 261.0,298.7 261.4,298.7 261.8,298.7 262.2,298.7 262.6,298.7 263.0,298.7 263.4,298.7 263.8,298.7 264.2,298.7 264.6,298.7 265.0,298.7 265.4,298.7 265.8,298.7 266.2,298.7 266.6,298.6 267.0,298.6 267.4,298.6 267.8,298.6 268.2,298.6 268.6,298.6 269.0,298.6 269.4,298.6 269.8,298.6 270.2,298.6 270.6,298.6 271.0,298.6 271.4,298.6 271.8,298.6 272.2,298.6 272.6,298.6 273.0,298.6 273.4,298.5 273.8,298.5 274.2,298.5 274.6,298.5 275.0,298.5 275.4,298.5 275.8,298.5 276.2,298.5 276.6,298.5 277.0,298.5 277.4,298.5 277.8,298.5 278.2,298.5 278.6,298.4 279.0,298.4 279.4,298.4 279.8,298.4 280.2,298.4 280.6,298.4 281.0,298.4 281.4,298.4 281.8,298.4 282.2,298.3 282.6,298.3 283.0,298.3 283.4,298.3 283.8,298.3 284.2,298.3 284.6,298.3 285.0,298.2 285.4,298.2 285.8,298.2 286.2,298.2 286.6,298.2 287.0,298.2 287.4,298.1 287.8,298.1 288.2,298.1 288.6,298.1 289.0,298.1 289.4,298.0 289.8,298.0 290.2,298.0 290.6,298.0 291.0,297.9 291.4,297.9 291.8,297.8 292.2,297.8 292.6,297.7 293.0,297.7 293.4,297.6 293.8,297.5 294.2,297.4 294.6,297.4 295.0,297.3 295.4,297.2 295.8,297.1 296.2,297.0 296.6,296.9 297.0,296.8 297.4,296.7 297.8,296.6 298.2,296.4 298.6,296.3 299.0,296.1 299.4,295.9 299.8,295.7 300.2,295.5 300.6,295.3 301.0,295.0 301.4,294.8 301.8,294.5 302.2,294.2 302.6,293.9 303.0,293.6 303.4,293.3 303.8,293.0 304.2,292.7 304.6,292.3 305.0,291.9 305.4,291.5 305.8,291.1 306.2,290.6 306.6,290.1 307.0,289.5 307.4,288.9 307.8,288.3 308.2,287.6 308.6,286.9 309.0,286.2 309.4,285.5 309.8,284.7 310.2,283.9 310.6,283.0 311.0,282.1 311.4,281.1 311.8,279.9 312.2,278.6 312.6,277.1 313.0,275.7 313.4,274.1 313.8,272.6 314.2,271.1 314.6,269.7 315.0,268.3 315.4,267.1 315.8,265.9 316.2,264.8 316.6,263.6 317.0,262.4 317.4,261.2 317.8,260.1 318.2,259.1 318.6,258.1 319.0,257.2 319.4,256.3 319.8,255.7 320.2,255.1 320.6,254.7 321.0,254.2 321.4,253.8 321.8,253.4 322.2,253.1 322.6,252.7 323.0,252.4 323.4,252.1 323.8,251.8 324.2,251.6 324.6,251.4 325.0,251.3 325.4,251.2 325.8,251.2 326.2,251.2 326.6,251.3 327.0,251.5 327.4,251.6 327.8,251.9 328.2,252.1 328.6,252.4 329.0,252.8 329.4,253.1 329.8,253.5 330.2,253.9 330.6,254.3 331.0,254.7 331.4,255.1 331.8,255.6 332.2,256.3 332.6,257.0 333.0,257.9 333.4,258.8 333.8,259.7 334.2,260.6 334.6,261.5 335.0,262.4 335.4,263.2 335.8,263.9 336.2,264.5 336.6,265.1 337.0,265.6 337.4,266.2 337.8,266.7 338.2,267.2 338.6,267.7 339.0,268.2 339.4,268.6 339.8,269.1 340.2,269.5 340.6,269.9 341.0,270.3 341.4,270.7 341.8,271.1 342.2,271.4 342.6,271.8 343.0,272.1 343.4,272.4 343.8,272.7 344.2,273.1 344.6,273.4 345.0,273.6 345.4,273.9 345.8,274.2 346.2,274.5 346.6,274.7 347.0,275.0 347.4,275.3 347.8,275.5 348.2,275.8 348.6,276.0 349.0,276.2 349.4,276.5 349.8,276.7 350.2,277.0 350.6,277.2 351.0,277.4 351.4,277.7 351.8,277.9 352.2,278.1 352.6,278.4 353.0,278.6 353.4,278.8 353.8,279.0 354.2,279.3 354.6,279.5 355.0,279.7 355.4,279.9 355.8,280.1 356.2,280.3 356.6,280.5 357.0,280.7 357.4,281.0 357.8,281.2 358.2,281.4 358.6,281.6 359.0,281.8 359.4,282.0 359.8,282.2 360.2,282.4 360.6,282.6 361.0,282.8 361.4,283.1 361.8,283.3 362.2,283.5 362.6,283.7 363.0,283.9 363.4,284.1 363.8,284.3 364.2,284.5 364.6,284.8 365.0,285.0 365.4,285.2 365.8,285.4 366.2,285.6 366.6,285.8 367.0,286.0 367.4,286.2 367.8,286.5 368.2,286.7 368.6,286.9 369.0,287.1 369.4,287.4 369.8,287.6 370.2,287.8 370.6,288.1 371.0,288.3 371.4,288.6 371.8,288.9 372.2,289.2 372.6,289.5 373.0,289.8 373.4,290.1 373.8,290.4 374.2,290.7 374.6,291.0 375.0,291.4 375.4,291.7 375.8,292.0 376.2,292.3 376.6,292.6 377.0,292.9 377.4,293.2 377.8,293.5 378.2,293.8 378.6,294.0 379.0,294.2 379.4,294.4 379.8,294.6 380.2,294.8 380.6,294.9 381.0,295.0 381.4,295.2 381.8,295.3 382.2,295.4 382.6,295.5 383.0,295.7 383.4,295.8 383.8,295.9 384.2,296.0 384.6,296.1 385.0,296.2 385.4,296.3 385.8,296.4 386.2,296.4 386.6,296.5 387.0,296.6 387.4,296.7 387.8,296.7 388.2,296.8 388.6,296.9 389.0,296.9 389.4,296.9 389.8,297.0 390.2,297.0 390.6,297.0 391.0,297.1 391.4,297.1 391.8,297.1 392.2,297.2 392.6,297.2 393.0,297.2 393.4,297.3 393.8,297.3 394.2,297.3 394.6,297.3 395.0,297.4 395.4,297.4 395.8,297.4 396.2,297.4 396.6,297.5 397.0,297.5 397.4,297.5 397.8,297.5 398.2,297.5 398.6,297.6 399.0,297.6 399.4,297.6 399.8,297.6 400.2,297.6 400.6,297.7 401.0,297.7 401.4,297.7 401.8,297.7 402.2,297.7 402.6,297.7 403.0,297.8 403.4,297.8 403.8,297.8 404.2,297.8 404.6,297.8 405.0,297.8 405.4,297.8 405.8,297.8 406.2,297.8 406.6,297.9 407.0,297.9 407.4,297.9 407.8,297.9 408.2,297.9 408.6,297.9 409.0,297.9 409.4,297.9 409.8,297.9 410.2,297.9 410.6,297.9 411.0,297.9 411.4,297.9 411.8,297.9 412.2,297.9 412.6,297.9 413.0,297.9 413.4,297.9 413.8,297.9 414.2,297.9 414.6,297.9 415.0,297.9 415.4,297.9 415.8,297.9 416.2,297.9 416.6,297.9 417.0,297.9 417.4,297.9 417.8,297.9 418.2,297.9 418.6,297.9 419.0,297.9 419.4,298.0 419.8,298.0 420.2,298.0 420.6,298.0 421.0,298.0 421.4,298.0 421.8,298.0 422.2,298.0 422.6,298.0 423.0,298.0 423.4,298.0 423.8,298.0 424.2,298.0 424.6,298.0 425.0,298.0 425.4,298.0 425.8,298.0 426.2,298.0 426.6,298.0 427.0,298.0 427.4,298.0 427.8,298.0 428.2,298.0 428.6,298.0 429.0,298.0 429.4,298.0 429.8,298.0 430.2,298.0 430.6,298.0 431.0,298.0 431.4,298.0 431.8,298.0 432.2,298.0 432.6,298.0 433.0,298.0 433.4,298.0 433.8,298.0 434.2,298.0 434.6,298.0 435.0,298.0 435.4,298.0 435.8,298.0 436.2,298.0 436.6,298.0 437.0,298.0 437.4,298.0 437.8,298.0 438.2,298.0 438.6,298.0 439.0,298.0 439.4,298.0 439.8,298.0 440.2,298.0 440.6,298.0 441.0,298.0 441.4,298.0" stroke="#FF8A1F" stroke-width="2.2" fill="none"/>
<path d="M246.6,378.6 247.0,378.6 247.4,378.6 247.8,378.6 248.2,378.6 248.6,378.6 249.0,378.6 249.4,378.6 249.8,378.6 250.2,378.5 250.6,378.5 251.0,378.5 251.4,378.5 251.8,378.5 252.2,378.5 252.6,378.5 253.0,378.5 253.4,378.5 253.8,378.5 254.2,378.5 254.6,378.4 255.0,378.4 255.4,378.4 255.8,378.4 256.2,378.4 256.6,378.4 257.0,378.4 257.4,378.4 257.8,378.4 258.2,378.3 258.6,378.3 259.0,378.3 259.4,378.3 259.8,378.3 260.2,378.3 260.6,378.3 261.0,378.3 261.4,378.3 261.8,378.3 262.2,378.2 262.6,378.2 263.0,378.2 263.4,378.2 263.8,378.2 264.2,378.2 264.6,378.2 265.0,378.2 265.4,378.1 265.8,378.1 266.2,378.1 266.6,378.1 267.0,378.1 267.4,378.1 267.8,378.1 268.2,378.1 268.6,378.0 269.0,378.0 269.4,378.0 269.8,378.0 270.2,378.0 270.6,378.0 271.0,378.0 271.4,377.9 271.8,377.9 272.2,377.9 272.6,377.9 273.0,377.9 273.4,377.9 273.8,377.9 274.2,377.8 274.6,377.8 275.0,377.8 275.4,377.8 275.8,377.8 276.2,377.8 276.6,377.7 277.0,377.7 277.4,377.7 277.8,377.7 278.2,377.7 278.6,377.7 279.0,377.6 279.4,377.6 279.8,377.6 280.2,377.6 280.6,377.6 281.0,377.5 281.4,377.5 281.8,377.5 282.2,377.5 282.6,377.5 283.0,377.4 283.4,377.4 283.8,377.4 284.2,377.4 284.6,377.3 285.0,377.3 285.4,377.3 285.8,377.3 286.2,377.2 286.6,377.2 287.0,377.2 287.4,377.2 287.8,377.1 288.2,377.1 288.6,377.1 289.0,377.1 289.4,377.0 289.8,377.0 290.2,377.0 290.6,376.9 291.0,376.9 291.4,376.9 291.8,376.8 292.2,376.8 292.6,376.8 293.0,376.7 293.4,376.7 293.8,376.7 294.2,376.6 294.6,376.6 295.0,376.5 295.4,376.5 295.8,376.4 296.2,376.4 296.6,376.4 297.0,376.3 297.4,376.3 297.8,376.2 298.2,376.1 298.6,376.1 299.0,376.0 299.4,376.0 299.8,375.9 300.2,375.8 300.6,375.8 301.0,375.7 301.4,375.6 301.8,375.5 302.2,375.4 302.6,375.4 303.0,375.3 303.4,375.2 303.8,375.0 304.2,374.9 304.6,374.8 305.0,374.7 305.4,374.5 305.8,374.4 306.2,374.2 306.6,374.1 307.0,373.9 307.4,373.7 307.8,373.5 308.2,373.3 308.6,373.0 309.0,372.8 309.4,372.5 309.8,372.2 310.2,371.9 310.6,371.6 311.0,371.2 311.4,370.9 311.8,370.5 312.2,370.0 312.6,369.6 313.0,369.1 313.4,368.6 313.8,368.1 314.2,367.5 314.6,366.9 315.0,366.2 315.4,365.6 315.8,364.9 316.2,364.1 316.6,363.4 317.0,362.5 317.4,361.7 317.8,360.8 318.2,359.9 318.6,359.0 319.0,358.0 319.4,356.9 319.8,355.9 320.2,354.8 320.6,353.7 321.0,352.6 321.4,351.4 321.8,350.2 322.2,349.0 322.6,347.8 323.0,346.5 323.4,345.3 323.8,344.0 324.2,342.8 324.6,341.6 325.0,340.3 325.4,339.1 325.8,337.9 326.2,336.8 326.6,335.7 327.0,334.6 327.4,333.6 327.8,332.6 328.2,331.8 328.6,331.0 329.0,330.2 329.4,329.6 329.8,329.1 330.2,328.7 330.6,328.4 331.0,328.2 331.4,328.2 331.8,328.2 332.2,328.4 332.6,328.7 333.0,329.1 333.4,329.6 333.8,330.2 334.2,330.9 334.6,331.7 335.0,332.5 335.4,333.5 335.8,334.5 336.2,335.5 336.6,336.6 337.0,337.8 337.4,338.9 337.8,340.1 338.2,341.4 338.6,342.6 339.0,343.8 339.4,345.1 339.8,346.3 340.2,347.5 340.6,348.7 341.0,349.9 341.4,351.1 341.8,352.3 342.2,353.4 342.6,354.5 343.0,355.6 343.4,356.6 343.8,357.6 344.2,358.6 344.6,359.5 345.0,360.4 345.4,361.3 345.8,362.1 346.2,362.9 346.6,363.7 347.0,364.4 347.4,365.1 347.8,365.8 348.2,366.4 348.6,367.0 349.0,367.6 349.4,368.1 349.8,368.6 350.2,369.0 350.6,369.5 351.0,369.9 351.4,370.3 351.8,370.6 352.2,371.0 352.6,371.3 353.0,371.6 353.4,371.9 353.8,372.1 354.2,372.4 354.6,372.6 355.0,372.8 355.4,373.0 355.8,373.2 356.2,373.4 356.6,373.5 357.0,373.7 357.4,373.8 357.8,373.9 358.2,374.0 358.6,374.2 359.0,374.3 359.4,374.4 359.8,374.5 360.2,374.5 360.6,374.6 361.0,374.7 361.4,374.8 361.8,374.8 362.2,374.9 362.6,375.0 363.0,375.0 363.4,375.1 363.8,375.1 364.2,375.2 364.6,375.2 365.0,375.2 365.4,375.3 365.8,375.3 366.2,375.4 366.6,375.4 367.0,375.4 367.4,375.5 367.8,375.5 368.2,375.5 368.6,375.6 369.0,375.6 369.4,375.6 369.8,375.6 370.2,375.7 370.6,375.7 371.0,375.7 371.4,375.7 371.8,375.8 372.2,375.8 372.6,375.8 373.0,375.8 373.4,375.8 373.8,375.9 374.2,375.9 374.6,375.9 375.0,375.9 375.4,375.9 375.8,375.9 376.2,376.0 376.6,376.0 377.0,376.0 377.4,376.0 377.8,376.0 378.2,376.0 378.6,376.0 379.0,376.0 379.4,376.1 379.8,376.1 380.2,376.1 380.6,376.1 381.0,376.1 381.4,376.1 381.8,376.1 382.2,376.1 382.6,376.1 383.0,376.1 383.4,376.1 383.8,376.2 384.2,376.2 384.6,376.2 385.0,376.2 385.4,376.2 385.8,376.2 386.2,376.2 386.6,376.2 387.0,376.2 387.4,376.2 387.8,376.2 388.2,376.2 388.6,376.2 389.0,376.2 389.4,376.2 389.8,376.2 390.2,376.2 390.6,376.2 391.0,376.2 391.4,376.2 391.8,376.2 392.2,376.3 392.6,376.3 393.0,376.3 393.4,376.3 393.8,376.3 394.2,376.3 394.6,376.3 395.0,376.3 395.4,376.3 395.8,376.3 396.2,376.3 396.6,376.3 397.0,376.3 397.4,376.3 397.8,376.3 398.2,376.3 398.6,376.3 399.0,376.3 399.4,376.3 399.8,376.3 400.2,376.3 400.6,376.3 401.0,376.3 401.4,376.3 401.8,376.3 402.2,376.3 402.6,376.3 403.0,376.3 403.4,376.3 403.8,376.3 404.2,376.3 404.6,376.3 405.0,376.3 405.4,376.3 405.8,376.3 406.2,376.3 406.6,376.3 407.0,376.3 407.4,376.3 407.8,376.3 408.2,376.3 408.6,376.3 409.0,376.3 409.4,376.3 409.8,376.3 410.2,376.3 410.6,376.3 411.0,376.3 411.4,376.3 411.8,376.3 412.2,376.2 412.6,376.2 413.0,376.2 413.4,376.2 413.8,376.2 414.2,376.2 414.6,376.2 415.0,376.2 415.4,376.2 415.8,376.2 416.2,376.2 416.6,376.2 417.0,376.2 417.4,376.2 417.8,376.2 418.2,376.2 418.6,376.2 419.0,376.2 419.4,376.2 419.8,376.2 420.2,376.2 420.6,376.2 421.0,376.2 421.4,376.2 421.8,376.2 L421.8,376.5 421.4,376.5 421.0,376.5 420.6,376.5 420.2,376.5 419.8,376.5 419.4,376.5 419.0,376.5 418.6,376.5 418.2,376.5 417.8,376.5 417.4,376.6 417.0,376.6 416.6,376.6 416.2,376.6 415.8,376.6 415.4,376.6 415.0,376.6 414.6,376.6 414.2,376.6 413.8,376.6 413.4,376.6 413.0,376.6 412.6,376.6 412.2,376.6 411.8,376.6 411.4,376.6 411.0,376.6 410.6,376.6 410.2,376.7 409.8,376.7 409.4,376.7 409.0,376.7 408.6,376.7 408.2,376.7 407.8,376.7 407.4,376.7 407.0,376.7 406.6,376.7 406.2,376.7 405.8,376.7 405.4,376.7 405.0,376.7 404.6,376.7 404.2,376.7 403.8,376.7 403.4,376.8 403.0,376.8 402.6,376.8 402.2,376.8 401.8,376.8 401.4,376.8 401.0,376.8 400.6,376.8 400.2,376.8 399.8,376.8 399.4,376.8 399.0,376.8 398.6,376.8 398.2,376.8 397.8,376.8 397.4,376.8 397.0,376.8 396.6,376.8 396.2,376.9 395.8,376.9 395.4,376.9 395.0,376.9 394.6,376.9 394.2,376.9 393.8,376.9 393.4,376.9 393.0,376.9 392.6,376.9 392.2,376.9 391.8,376.9 391.4,376.9 391.0,376.9 390.6,376.9 390.2,376.9 389.8,376.9 389.4,376.9 389.0,377.0 388.6,377.0 388.2,377.0 387.8,377.0 387.4,377.0 387.0,377.0 386.6,377.0 386.2,377.0 385.8,377.0 385.4,377.0 385.0,377.0 384.6,377.0 384.2,377.0 383.8,377.0 383.4,377.0 383.0,377.0 382.6,377.0 382.2,377.1 381.8,377.1 381.4,377.1 381.0,377.1 380.6,377.1 380.2,377.1 379.8,377.1 379.4,377.1 379.0,377.1 378.6,377.1 378.2,377.1 377.8,377.1 377.4,377.1 377.0,377.1 376.6,377.1 376.2,377.1 375.8,377.1 375.4,377.1 375.0,377.2 374.6,377.2 374.2,377.2 373.8,377.2 373.4,377.2 373.0,377.2 372.6,377.2 372.2,377.2 371.8,377.2 371.4,377.2 371.0,377.2 370.6,377.2 370.2,377.2 369.8,377.2 369.4,377.2 369.0,377.2 368.6,377.2 368.2,377.2 367.8,377.3 367.4,377.3 367.0,377.3 366.6,377.3 366.2,377.3 365.8,377.3 365.4,377.3 365.0,377.3 364.6,377.3 364.2,377.3 363.8,377.3 363.4,377.3 363.0,377.3 362.6,377.3 362.2,377.3 361.8,377.3 361.4,377.3 361.0,377.4 360.6,377.4 360.2,377.4 359.8,377.4 359.4,377.4 359.0,377.4 358.6,377.4 358.2,377.4 357.8,377.4 357.4,377.4 357.0,377.4 356.6,377.4 356.2,377.4 355.8,377.4 355.4,377.4 355.0,377.4 354.6,377.4 354.2,377.4 353.8,377.5 353.4,377.5 353.0,377.5 352.6,377.5 352.2,377.5 351.8,377.5 351.4,377.5 351.0,377.5 350.6,377.5 350.2,377.5 349.8,377.5 349.4,377.5 349.0,377.5 348.6,377.5 348.2,377.5 347.8,377.5 347.4,377.5 347.0,377.5 346.6,377.6 346.2,377.6 345.8,377.6 345.4,377.6 345.0,377.6 344.6,377.6 344.2,377.6 343.8,377.6 343.4,377.6 343.0,377.6 342.6,377.6 342.2,377.6 341.8,377.6 341.4,377.6 341.0,377.6 340.6,377.6 340.2,377.6 339.8,377.7 339.4,377.7 339.0,377.7 338.6,377.7 338.2,377.7 337.8,377.7 337.4,377.7 337.0,377.7 336.6,377.7 336.2,377.7 335.8,377.7 335.4,377.7 335.0,377.7 334.6,377.7 334.2,377.7 333.8,377.7 333.4,377.7 333.0,377.7 332.6,377.8 332.2,377.8 331.8,377.8 331.4,377.8 331.0,377.8 330.6,377.8 330.2,377.8 329.8,377.8 329.4,377.8 329.0,377.8 328.6,377.8 328.2,377.8 327.8,377.8 327.4,377.8 327.0,377.8 326.6,377.8 326.2,377.8 325.8,377.8 325.4,377.9 325.0,377.9 324.6,377.9 324.2,377.9 323.8,377.9 323.4,377.9 323.0,377.9 322.6,377.9 322.2,377.9 321.8,377.9 321.4,377.9 321.0,377.9 320.6,377.9 320.2,377.9 319.8,377.9 319.4,377.9 319.0,377.9 318.6,378.0 318.2,378.0 317.8,378.0 317.4,378.0 317.0,378.0 316.6,378.0 316.2,378.0 315.8,378.0 315.4,378.0 315.0,378.0 314.6,378.0 314.2,378.0 313.8,378.0 313.4,378.0 313.0,378.0 312.6,378.0 312.2,378.0 311.8,378.0 311.4,378.1 311.0,378.1 310.6,378.1 310.2,378.1 309.8,378.1 309.4,378.1 309.0,378.1 308.6,378.1 308.2,378.1 307.8,378.1 307.4,378.1 307.0,378.1 306.6,378.1 306.2,378.1 305.8,378.1 305.4,378.1 305.0,378.1 304.6,378.2 304.2,378.2 303.8,378.2 303.4,378.2 303.0,378.2 302.6,378.2 302.2,378.2 301.8,378.2 301.4,378.2 301.0,378.2 300.6,378.2 300.2,378.2 299.8,378.2 299.4,378.2 299.0,378.2 298.6,378.2 298.2,378.2 297.8,378.2 297.4,378.3 297.0,378.3 296.6,378.3 296.2,378.3 295.8,378.3 295.4,378.3 295.0,378.3 294.6,378.3 294.2,378.3 293.8,378.3 293.4,378.3 293.0,378.3 292.6,378.3 292.2,378.3 291.8,378.3 291.4,378.3 291.0,378.3 290.6,378.3 290.2,378.4 289.8,378.4 289.4,378.4 289.0,378.4 288.6,378.4 288.2,378.4 287.8,378.4 287.4,378.4 287.0,378.4 286.6,378.4 286.2,378.4 285.8,378.4 285.4,378.4 285.0,378.4 284.6,378.4 284.2,378.4 283.8,378.4 283.4,378.5 283.0,378.5 282.6,378.5 282.2,378.5 281.8,378.5 281.4,378.5 281.0,378.5 280.6,378.5 280.2,378.5 279.8,378.5 279.4,378.5 279.0,378.5 278.6,378.5 278.2,378.5 277.8,378.5 277.4,378.5 277.0,378.5 276.6,378.5 276.2,378.6 275.8,378.6 275.4,378.6 275.0,378.6 274.6,378.6 274.2,378.6 273.8,378.6 273.4,378.6 273.0,378.6 272.6,378.6 272.2,378.6 271.8,378.6 271.4,378.6 271.0,378.6 270.6,378.6 270.2,378.6 269.8,378.6 269.4,378.6 269.0,378.7 268.6,378.7 268.2,378.7 267.8,378.7 267.4,378.7 267.0,378.7 266.6,378.7 266.2,378.7 265.8,378.7 265.4,378.7 265.0,378.7 264.6,378.7 264.2,378.7 263.8,378.7 263.4,378.7 263.0,378.7 262.6,378.7 262.2,378.8 261.8,378.8 261.4,378.8 261.0,378.8 260.6,378.8 260.2,378.8 259.8,378.8 259.4,378.8 259.0,378.8 258.6,378.8 258.2,378.8 257.8,378.8 257.4,378.8 257.0,378.8 256.6,378.8 256.2,378.8 255.8,378.8 255.4,378.8 255.0,378.9 254.6,378.9 254.2,378.9 253.8,378.9 253.4,378.9 253.0,378.9 252.6,378.9 252.2,378.9 251.8,378.9 251.4,378.9 251.0,378.9 250.6,378.9 250.2,378.9 249.8,378.9 249.4,378.9 249.0,378.9 248.6,378.9 248.2,378.9 247.8,379.0 247.4,379.0 247.0,379.0 246.6,379.0 Z" fill="url(#g9)"/>
<path d="M246.6,379.0 247.0,379.0 247.4,379.0 247.8,379.0 248.2,378.9 248.6,378.9 249.0,378.9 249.4,378.9 249.8,378.9 250.2,378.9 250.6,378.9 251.0,378.9 251.4,378.9 251.8,378.9 252.2,378.9 252.6,378.9 253.0,378.9 253.4,378.9 253.8,378.9 254.2,378.9 254.6,378.9 255.0,378.9 255.4,378.8 255.8,378.8 256.2,378.8 256.6,378.8 257.0,378.8 257.4,378.8 257.8,378.8 258.2,378.8 258.6,378.8 259.0,378.8 259.4,378.8 259.8,378.8 260.2,378.8 260.6,378.8 261.0,378.8 261.4,378.8 261.8,378.8 262.2,378.8 262.6,378.7 263.0,378.7 263.4,378.7 263.8,378.7 264.2,378.7 264.6,378.7 265.0,378.7 265.4,378.7 265.8,378.7 266.2,378.7 266.6,378.7 267.0,378.7 267.4,378.7 267.8,378.7 268.2,378.7 268.6,378.7 269.0,378.7 269.4,378.6 269.8,378.6 270.2,378.6 270.6,378.6 271.0,378.6 271.4,378.6 271.8,378.6 272.2,378.6 272.6,378.6 273.0,378.6 273.4,378.6 273.8,378.6 274.2,378.6 274.6,378.6 275.0,378.6 275.4,378.6 275.8,378.6 276.2,378.6 276.6,378.5 277.0,378.5 277.4,378.5 277.8,378.5 278.2,378.5 278.6,378.5 279.0,378.5 279.4,378.5 279.8,378.5 280.2,378.5 280.6,378.5 281.0,378.5 281.4,378.5 281.8,378.5 282.2,378.5 282.6,378.5 283.0,378.5 283.4,378.5 283.8,378.4 284.2,378.4 284.6,378.4 285.0,378.4 285.4,378.4 285.8,378.4 286.2,378.4 286.6,378.4 287.0,378.4 287.4,378.4 287.8,378.4 288.2,378.4 288.6,378.4 289.0,378.4 289.4,378.4 289.8,378.4 290.2,378.4 290.6,378.3 291.0,378.3 291.4,378.3 291.8,378.3 292.2,378.3 292.6,378.3 293.0,378.3 293.4,378.3 293.8,378.3 294.2,378.3 294.6,378.3 295.0,378.3 295.4,378.3 295.8,378.3 296.2,378.3 296.6,378.3 297.0,378.3 297.4,378.3 297.8,378.2 298.2,378.2 298.6,378.2 299.0,378.2 299.4,378.2 299.8,378.2 300.2,378.2 300.6,378.2 301.0,378.2 301.4,378.2 301.8,378.2 302.2,378.2 302.6,378.2 303.0,378.2 303.4,378.2 303.8,378.2 304.2,378.2 304.6,378.2 305.0,378.1 305.4,378.1 305.8,378.1 306.2,378.1 306.6,378.1 307.0,378.1 307.4,378.1 307.8,378.1 308.2,378.1 308.6,378.1 309.0,378.1 309.4,378.1 309.8,378.1 310.2,378.1 310.6,378.1 311.0,378.1 311.4,378.1 311.8,378.0 312.2,378.0 312.6,378.0 313.0,378.0 313.4,378.0 313.8,378.0 314.2,378.0 314.6,378.0 315.0,378.0 315.4,378.0 315.8,378.0 316.2,378.0 316.6,378.0 317.0,378.0 317.4,378.0 317.8,378.0 318.2,378.0 318.6,378.0 319.0,377.9 319.4,377.9 319.8,377.9 320.2,377.9 320.6,377.9 321.0,377.9 321.4,377.9 321.8,377.9 322.2,377.9 322.6,377.9 323.0,377.9 323.4,377.9 323.8,377.9 324.2,377.9 324.6,377.9 325.0,377.9 325.4,377.9 325.8,377.8 326.2,377.8 326.6,377.8 327.0,377.8 327.4,377.8 327.8,377.8 328.2,377.8 328.6,377.8 329.0,377.8 329.4,377.8 329.8,377.8 330.2,377.8 330.6,377.8 331.0,377.8 331.4,377.8 331.8,377.8 332.2,377.8 332.6,377.8 333.0,377.7 333.4,377.7 333.8,377.7 334.2,377.7 334.6,377.7 335.0,377.7 335.4,377.7 335.8,377.7 336.2,377.7 336.6,377.7 337.0,377.7 337.4,377.7 337.8,377.7 338.2,377.7 338.6,377.7 339.0,377.7 339.4,377.7 339.8,377.7 340.2,377.6 340.6,377.6 341.0,377.6 341.4,377.6 341.8,377.6 342.2,377.6 342.6,377.6 343.0,377.6 343.4,377.6 343.8,377.6 344.2,377.6 344.6,377.6 345.0,377.6 345.4,377.6 345.8,377.6 346.2,377.6 346.6,377.6 347.0,377.5 347.4,377.5 347.8,377.5 348.2,377.5 348.6,377.5 349.0,377.5 349.4,377.5 349.8,377.5 350.2,377.5 350.6,377.5 351.0,377.5 351.4,377.5 351.8,377.5 352.2,377.5 352.6,377.5 353.0,377.5 353.4,377.5 353.8,377.5 354.2,377.4 354.6,377.4 355.0,377.4 355.4,377.4 355.8,377.4 356.2,377.4 356.6,377.4 357.0,377.4 357.4,377.4 357.8,377.4 358.2,377.4 358.6,377.4 359.0,377.4 359.4,377.4 359.8,377.4 360.2,377.4 360.6,377.4 361.0,377.4 361.4,377.3 361.8,377.3 362.2,377.3 362.6,377.3 363.0,377.3 363.4,377.3 363.8,377.3 364.2,377.3 364.6,377.3 365.0,377.3 365.4,377.3 365.8,377.3 366.2,377.3 366.6,377.3 367.0,377.3 367.4,377.3 367.8,377.3 368.2,377.2 368.6,377.2 369.0,377.2 369.4,377.2 369.8,377.2 370.2,377.2 370.6,377.2 371.0,377.2 371.4,377.2 371.8,377.2 372.2,377.2 372.6,377.2 373.0,377.2 373.4,377.2 373.8,377.2 374.2,377.2 374.6,377.2 375.0,377.2 375.4,377.1 375.8,377.1 376.2,377.1 376.6,377.1 377.0,377.1 377.4,377.1 377.8,377.1 378.2,377.1 378.6,377.1 379.0,377.1 379.4,377.1 379.8,377.1 380.2,377.1 380.6,377.1 381.0,377.1 381.4,377.1 381.8,377.1 382.2,377.1 382.6,377.0 383.0,377.0 383.4,377.0 383.8,377.0 384.2,377.0 384.6,377.0 385.0,377.0 385.4,377.0 385.8,377.0 386.2,377.0 386.6,377.0 387.0,377.0 387.4,377.0 387.8,377.0 388.2,377.0 388.6,377.0 389.0,377.0 389.4,376.9 389.8,376.9 390.2,376.9 390.6,376.9 391.0,376.9 391.4,376.9 391.8,376.9 392.2,376.9 392.6,376.9 393.0,376.9 393.4,376.9 393.8,376.9 394.2,376.9 394.6,376.9 395.0,376.9 395.4,376.9 395.8,376.9 396.2,376.9 396.6,376.8 397.0,376.8 397.4,376.8 397.8,376.8 398.2,376.8 398.6,376.8 399.0,376.8 399.4,376.8 399.8,376.8 400.2,376.8 400.6,376.8 401.0,376.8 401.4,376.8 401.8,376.8 402.2,376.8 402.6,376.8 403.0,376.8 403.4,376.8 403.8,376.7 404.2,376.7 404.6,376.7 405.0,376.7 405.4,376.7 405.8,376.7 406.2,376.7 406.6,376.7 407.0,376.7 407.4,376.7 407.8,376.7 408.2,376.7 408.6,376.7 409.0,376.7 409.4,376.7 409.8,376.7 410.2,376.7 410.6,376.6 411.0,376.6 411.4,376.6 411.8,376.6 412.2,376.6 412.6,376.6 413.0,376.6 413.4,376.6 413.8,376.6 414.2,376.6 414.6,376.6 415.0,376.6 415.4,376.6 415.8,376.6 416.2,376.6 416.6,376.6 417.0,376.6 417.4,376.6 417.8,376.5 418.2,376.5 418.6,376.5 419.0,376.5 419.4,376.5 419.8,376.5 420.2,376.5 420.6,376.5 421.0,376.5 421.4,376.5 421.8,376.5 422.2,376.5 422.6,376.5 423.0,376.5 423.4,376.5 423.8,376.5 424.2,376.5 424.6,376.5 425.0,376.4 425.4,376.4 425.8,376.4 426.2,376.4 426.6,376.4 427.0,376.4 427.4,376.4 427.8,376.4 428.2,376.4 428.6,376.4 429.0,376.4 429.4,376.4 429.8,376.4 430.2,376.4 430.6,376.4 431.0,376.4 431.4,376.4 431.8,376.3 432.2,376.3 432.6,376.3 433.0,376.3 433.4,376.3 433.8,376.3 434.2,376.3 434.6,376.3 435.0,376.3 435.4,376.3 435.8,376.3 436.2,376.3 436.6,376.3 437.0,376.3 437.4,376.3 437.8,376.3 438.2,376.3 438.6,376.3 439.0,376.2 439.4,376.2 439.8,376.2 440.2,376.2 440.6,376.2 441.0,376.2 441.4,376.2" stroke="#9a9a2a" stroke-width="1.6" fill="none"/>
<path d="M247.6,376.2 249.2,376.2 250.8,375.8 252.4,375.2 254.0,375.2 255.6,376.1 257.2,375.8 258.8,375.6 260.4,375.3 262.0,375.4 263.6,375.4 265.2,375.2 266.8,375.0 268.4,375.9 270.0,375.2 271.6,374.8 273.2,374.5 274.8,374.6 276.4,375.0 278.0,374.9 279.6,374.5 281.2,374.5 282.8,374.3 284.4,373.8 286.0,374.6 287.6,374.1 289.2,374.6 290.8,373.3 292.4,373.3 294.0,373.4 295.6,372.7 297.2,372.0 298.8,371.7 300.4,371.5 302.0,370.9 303.6,369.9 305.2,369.3 306.8,367.9 308.4,366.1 310.0,364.0 311.6,361.5 313.2,359.0 314.8,355.9 316.4,352.0 318.0,348.2 319.6,343.8 321.2,339.1 322.8,335.1 324.4,331.8 326.0,328.5 327.6,326.6 329.2,325.1 330.8,325.7 332.4,327.5 334.0,330.1 335.6,333.0 337.2,337.2 338.8,341.5 340.4,345.3 342.0,349.9 343.6,353.8 345.2,356.6 346.8,360.4 348.4,362.2 350.0,364.3 351.6,366.1 353.2,367.4 354.8,368.9 356.4,369.7 358.0,371.0 359.6,371.1 361.2,371.6 362.8,371.6 364.4,371.5 366.0,372.2 367.6,372.1 369.2,372.9 370.8,372.7 372.4,373.4 374.0,373.2 375.6,373.3 377.2,373.1 378.8,373.2 380.4,373.4 382.0,373.6 383.6,373.0 385.2,373.5 386.8,374.3 388.4,373.4 390.0,373.3 391.6,373.2 393.2,373.0 394.8,373.9 396.4,373.5 398.0,373.6 399.6,374.2 401.2,374.4 402.8,373.2 404.4,373.9 406.0,373.7 407.6,373.7 409.2,373.7 410.8,373.5 412.4,374.1 414.0,373.7 415.6,373.6 417.2,373.9 418.8,373.8 420.4,373.7 422.0,373.6 423.6,374.1 425.2,373.6 426.8,373.4 428.4,373.1 430.0,373.3 431.6,373.1 433.2,373.4 434.8,373.5 436.4,372.7 438.0,373.4 439.6,373.6" stroke="#8a8a8a" stroke-width="4.10" fill="none" stroke-linejoin="round" stroke-linecap="round"/>
<g fill="#e6e6e6" stroke="#7c7c7c" stroke-width="0.9"><circle cx="247.6" cy="376.2" r="1.6"/><circle cx="249.2" cy="376.2" r="1.6"/><circle cx="250.8" cy="375.8" r="1.6"/><circle cx="252.4" cy="375.2" r="1.6"/><circle cx="254.0" cy="375.2" r="1.6"/><circle cx="255.6" cy="376.1" r="1.6"/><circle cx="257.2" cy="375.8" r="1.6"/><circle cx="258.8" cy="375.6" r="1.6"/><circle cx="260.4" cy="375.3" r="1.6"/><circle cx="262.0" cy="375.4" r="1.6"/><circle cx="263.6" cy="375.4" r="1.6"/><circle cx="265.2" cy="375.2" r="1.6"/><circle cx="266.8" cy="375.0" r="1.6"/><circle cx="268.4" cy="375.9" r="1.6"/><circle cx="270.0" cy="375.2" r="1.6"/><circle cx="271.6" cy="374.8" r="1.6"/><circle cx="273.2" cy="374.5" r="1.6"/><circle cx="274.8" cy="374.6" r="1.6"/><circle cx="276.4" cy="375.0" r="1.6"/><circle cx="278.0" cy="374.9" r="1.6"/><circle cx="279.6" cy="374.5" r="1.6"/><circle cx="281.2" cy="374.5" r="1.6"/><circle cx="282.8" cy="374.3" r="1.6"/><circle cx="284.4" cy="373.8" r="1.6"/><circle cx="286.0" cy="374.6" r="1.6"/><circle cx="287.6" cy="374.1" r="1.6"/><circle cx="289.2" cy="374.6" r="1.6"/><circle cx="290.8" cy="373.3" r="1.6"/><circle cx="292.4" cy="373.3" r="1.6"/><circle cx="294.0" cy="373.4" r="1.6"/><circle cx="295.6" cy="372.7" r="1.6"/><circle cx="297.2" cy="372.0" r="1.6"/><circle cx="298.8" cy="371.7" r="1.6"/><circle cx="300.4" cy="371.5" r="1.6"/><circle cx="302.0" cy="370.9" r="1.6"/><circle cx="303.6" cy="369.9" r="1.6"/><circle cx="305.2" cy="369.3" r="1.6"/><circle cx="306.8" cy="367.9" r="1.6"/><circle cx="308.4" cy="366.1" r="1.6"/><circle cx="310.0" cy="364.0" r="1.6"/><circle cx="311.6" cy="361.5" r="1.6"/><circle cx="313.2" cy="359.0" r="1.6"/><circle cx="314.8" cy="355.9" r="1.6"/><circle cx="316.4" cy="352.0" r="1.6"/><circle cx="318.0" cy="348.2" r="1.6"/><circle cx="319.6" cy="343.8" r="1.6"/><circle cx="321.2" cy="339.1" r="1.6"/><circle cx="322.8" cy="335.1" r="1.6"/><circle cx="324.4" cy="331.8" r="1.6"/><circle cx="326.0" cy="328.5" r="1.6"/><circle cx="327.6" cy="326.6" r="1.6"/><circle cx="329.2" cy="325.1" r="1.6"/><circle cx="330.8" cy="325.7" r="1.6"/><circle cx="332.4" cy="327.5" r="1.6"/><circle cx="334.0" cy="330.1" r="1.6"/><circle cx="335.6" cy="333.0" r="1.6"/><circle cx="337.2" cy="337.2" r="1.6"/><circle cx="338.8" cy="341.5" r="1.6"/><circle cx="340.4" cy="345.3" r="1.6"/><circle cx="342.0" cy="349.9" r="1.6"/><circle cx="343.6" cy="353.8" r="1.6"/><circle cx="345.2" cy="356.6" r="1.6"/><circle cx="346.8" cy="360.4" r="1.6"/><circle cx="348.4" cy="362.2" r="1.6"/><circle cx="350.0" cy="364.3" r="1.6"/><circle cx="351.6" cy="366.1" r="1.6"/><circle cx="353.2" cy="367.4" r="1.6"/><circle cx="354.8" cy="368.9" r="1.6"/><circle cx="356.4" cy="369.7" r="1.6"/><circle cx="358.0" cy="371.0" r="1.6"/><circle cx="359.6" cy="371.1" r="1.6"/><circle cx="361.2" cy="371.6" r="1.6"/><circle cx="362.8" cy="371.6" r="1.6"/><circle cx="364.4" cy="371.5" r="1.6"/><circle cx="366.0" cy="372.2" r="1.6"/><circle cx="367.6" cy="372.1" r="1.6"/><circle cx="369.2" cy="372.9" r="1.6"/><circle cx="370.8" cy="372.7" r="1.6"/><circle cx="372.4" cy="373.4" r="1.6"/><circle cx="374.0" cy="373.2" r="1.6"/><circle cx="375.6" cy="373.3" r="1.6"/><circle cx="377.2" cy="373.1" r="1.6"/><circle cx="378.8" cy="373.2" r="1.6"/><circle cx="380.4" cy="373.4" r="1.6"/><circle cx="382.0" cy="373.6" r="1.6"/><circle cx="383.6" cy="373.0" r="1.6"/><circle cx="385.2" cy="373.5" r="1.6"/><circle cx="386.8" cy="374.3" r="1.6"/><circle cx="388.4" cy="373.4" r="1.6"/><circle cx="390.0" cy="373.3" r="1.6"/><circle cx="391.6" cy="373.2" r="1.6"/><circle cx="393.2" cy="373.0" r="1.6"/><circle cx="394.8" cy="373.9" r="1.6"/><circle cx="396.4" cy="373.5" r="1.6"/><circle cx="398.0" cy="373.6" r="1.6"/><circle cx="399.6" cy="374.2" r="1.6"/><circle cx="401.2" cy="374.4" r="1.6"/><circle cx="402.8" cy="373.2" r="1.6"/><circle cx="404.4" cy="373.9" r="1.6"/><circle cx="406.0" cy="373.7" r="1.6"/><circle cx="407.6" cy="373.7" r="1.6"/><circle cx="409.2" cy="373.7" r="1.6"/><circle cx="410.8" cy="373.5" r="1.6"/><circle cx="412.4" cy="374.1" r="1.6"/><circle cx="414.0" cy="373.7" r="1.6"/><circle cx="415.6" cy="373.6" r="1.6"/><circle cx="417.2" cy="373.9" r="1.6"/><circle cx="418.8" cy="373.8" r="1.6"/><circle cx="420.4" cy="373.7" r="1.6"/><circle cx="422.0" cy="373.6" r="1.6"/><circle cx="423.6" cy="374.1" r="1.6"/><circle cx="425.2" cy="373.6" r="1.6"/><circle cx="426.8" cy="373.4" r="1.6"/><circle cx="428.4" cy="373.1" r="1.6"/><circle cx="430.0" cy="373.3" r="1.6"/><circle cx="431.6" cy="373.1" r="1.6"/><circle cx="433.2" cy="373.4" r="1.6"/><circle cx="434.8" cy="373.5" r="1.6"/><circle cx="436.4" cy="372.7" r="1.6"/><circle cx="438.0" cy="373.4" r="1.6"/><circle cx="439.6" cy="373.6" r="1.6"/></g>
<path d="M246.6,376.4 247.0,376.4 247.4,376.4 247.8,376.4 248.2,376.4 248.6,376.4 249.0,376.4 249.4,376.4 249.8,376.4 250.2,376.3 250.6,376.3 251.0,376.3 251.4,376.3 251.8,376.3 252.2,376.3 252.6,376.3 253.0,376.3 253.4,376.3 253.8,376.3 254.2,376.3 254.6,376.2 255.0,376.2 255.4,376.2 255.8,376.2 256.2,376.2 256.6,376.2 257.0,376.2 257.4,376.2 257.8,376.2 258.2,376.1 258.6,376.1 259.0,376.1 259.4,376.1 259.8,376.1 260.2,376.1 260.6,376.1 261.0,376.1 261.4,376.1 261.8,376.1 262.2,376.0 262.6,376.0 263.0,376.0 263.4,376.0 263.8,376.0 264.2,376.0 264.6,376.0 265.0,376.0 265.4,375.9 265.8,375.9 266.2,375.9 266.6,375.9 267.0,375.9 267.4,375.9 267.8,375.9 268.2,375.9 268.6,375.8 269.0,375.8 269.4,375.8 269.8,375.8 270.2,375.8 270.6,375.8 271.0,375.8 271.4,375.7 271.8,375.7 272.2,375.7 272.6,375.7 273.0,375.7 273.4,375.7 273.8,375.7 274.2,375.6 274.6,375.6 275.0,375.6 275.4,375.6 275.8,375.6 276.2,375.6 276.6,375.5 277.0,375.5 277.4,375.5 277.8,375.5 278.2,375.5 278.6,375.5 279.0,375.4 279.4,375.4 279.8,375.4 280.2,375.4 280.6,375.4 281.0,375.3 281.4,375.3 281.8,375.3 282.2,375.3 282.6,375.3 283.0,375.2 283.4,375.2 283.8,375.2 284.2,375.2 284.6,375.1 285.0,375.1 285.4,375.1 285.8,375.1 286.2,375.0 286.6,375.0 287.0,375.0 287.4,375.0 287.8,374.9 288.2,374.9 288.6,374.9 289.0,374.9 289.4,374.8 289.8,374.8 290.2,374.8 290.6,374.7 291.0,374.7 291.4,374.7 291.8,374.6 292.2,374.6 292.6,374.6 293.0,374.5 293.4,374.5 293.8,374.5 294.2,374.4 294.6,374.4 295.0,374.3 295.4,374.3 295.8,374.2 296.2,374.2 296.6,374.2 297.0,374.1 297.4,374.1 297.8,374.0 298.2,373.9 298.6,373.9 299.0,373.8 299.4,373.8 299.8,373.7 300.2,373.6 300.6,373.6 301.0,373.5 301.4,373.4 301.8,373.3 302.2,373.2 302.6,373.2 303.0,373.1 303.4,373.0 303.8,372.8 304.2,372.7 304.6,372.6 305.0,372.5 305.4,372.3 305.8,372.2 306.2,372.0 306.6,371.9 307.0,371.7 307.4,371.5 307.8,371.3 308.2,371.1 308.6,370.8 309.0,370.6 309.4,370.3 309.8,370.0 310.2,369.7 310.6,369.4 311.0,369.0 311.4,368.7 311.8,368.3 312.2,367.8 312.6,367.4 313.0,366.9 313.4,366.4 313.8,365.9 314.2,365.3 314.6,364.7 315.0,364.0 315.4,363.4 315.8,362.7 316.2,361.9 316.6,361.2 317.0,360.3 317.4,359.5 317.8,358.6 318.2,357.7 318.6,356.8 319.0,355.8 319.4,354.7 319.8,353.7 320.2,352.6 320.6,351.5 321.0,350.4 321.4,349.2 321.8,348.0 322.2,346.8 322.6,345.6 323.0,344.3 323.4,343.1 323.8,341.8 324.2,340.6 324.6,339.4 325.0,338.1 325.4,336.9 325.8,335.7 326.2,334.6 326.6,333.5 327.0,332.4 327.4,331.4 327.8,330.4 328.2,329.6 328.6,328.8 329.0,328.0 329.4,327.4 329.8,326.9 330.2,326.5 330.6,326.2 331.0,326.0 331.4,326.0 331.8,326.0 332.2,326.2 332.6,326.5 333.0,326.9 333.4,327.4 333.8,328.0 334.2,328.7 334.6,329.5 335.0,330.3 335.4,331.3 335.8,332.3 336.2,333.3 336.6,334.4 337.0,335.6 337.4,336.7 337.8,337.9 338.2,339.2 338.6,340.4 339.0,341.6 339.4,342.9 339.8,344.1 340.2,345.3 340.6,346.5 341.0,347.7 341.4,348.9 341.8,350.1 342.2,351.2 342.6,352.3 343.0,353.4 343.4,354.4 343.8,355.4 344.2,356.4 344.6,357.3 345.0,358.2 345.4,359.1 345.8,359.9 346.2,360.7 346.6,361.5 347.0,362.2 347.4,362.9 347.8,363.6 348.2,364.2 348.6,364.8 349.0,365.4 349.4,365.9 349.8,366.4 350.2,366.8 350.6,367.3 351.0,367.7 351.4,368.1 351.8,368.4 352.2,368.8 352.6,369.1 353.0,369.4 353.4,369.7 353.8,369.9 354.2,370.2 354.6,370.4 355.0,370.6 355.4,370.8 355.8,371.0 356.2,371.2 356.6,371.3 357.0,371.5 357.4,371.6 357.8,371.7 358.2,371.8 358.6,372.0 359.0,372.1 359.4,372.2 359.8,372.3 360.2,372.3 360.6,372.4 361.0,372.5 361.4,372.6 361.8,372.6 362.2,372.7 362.6,372.8 363.0,372.8 363.4,372.9 363.8,372.9 364.2,373.0 364.6,373.0 365.0,373.0 365.4,373.1 365.8,373.1 366.2,373.2 366.6,373.2 367.0,373.2 367.4,373.3 367.8,373.3 368.2,373.3 368.6,373.4 369.0,373.4 369.4,373.4 369.8,373.4 370.2,373.5 370.6,373.5 371.0,373.5 371.4,373.5 371.8,373.6 372.2,373.6 372.6,373.6 373.0,373.6 373.4,373.6 373.8,373.7 374.2,373.7 374.6,373.7 375.0,373.7 375.4,373.7 375.8,373.7 376.2,373.8 376.6,373.8 377.0,373.8 377.4,373.8 377.8,373.8 378.2,373.8 378.6,373.8 379.0,373.8 379.4,373.9 379.8,373.9 380.2,373.9 380.6,373.9 381.0,373.9 381.4,373.9 381.8,373.9 382.2,373.9 382.6,373.9 383.0,373.9 383.4,373.9 383.8,374.0 384.2,374.0 384.6,374.0 385.0,374.0 385.4,374.0 385.8,374.0 386.2,374.0 386.6,374.0 387.0,374.0 387.4,374.0 387.8,374.0 388.2,374.0 388.6,374.0 389.0,374.0 389.4,374.0 389.8,374.0 390.2,374.0 390.6,374.0 391.0,374.0 391.4,374.0 391.8,374.0 392.2,374.1 392.6,374.1 393.0,374.1 393.4,374.1 393.8,374.1 394.2,374.1 394.6,374.1 395.0,374.1 395.4,374.1 395.8,374.1 396.2,374.1 396.6,374.1 397.0,374.1 397.4,374.1 397.8,374.1 398.2,374.1 398.6,374.1 399.0,374.1 399.4,374.1 399.8,374.1 400.2,374.1 400.6,374.1 401.0,374.1 401.4,374.1 401.8,374.1 402.2,374.1 402.6,374.1 403.0,374.1 403.4,374.1 403.8,374.1 404.2,374.1 404.6,374.1 405.0,374.1 405.4,374.1 405.8,374.1 406.2,374.1 406.6,374.1 407.0,374.1 407.4,374.1 407.8,374.1 408.2,374.1 408.6,374.1 409.0,374.1 409.4,374.1 409.8,374.1 410.2,374.1 410.6,374.1 411.0,374.1 411.4,374.1 411.8,374.1 412.2,374.0 412.6,374.0 413.0,374.0 413.4,374.0 413.8,374.0 414.2,374.0 414.6,374.0 415.0,374.0 415.4,374.0 415.8,374.0 416.2,374.0 416.6,374.0 417.0,374.0 417.4,374.0 417.8,374.0 418.2,374.0 418.6,374.0 419.0,374.0 419.4,374.0 419.8,374.0 420.2,374.0 420.6,374.0 421.0,374.0 421.4,374.0 421.8,374.0 422.2,374.0 422.6,374.0 423.0,374.0 423.4,374.0 423.8,374.0 424.2,374.0 424.6,374.0 425.0,374.0 425.4,374.0 425.8,374.0 426.2,374.0 426.6,373.9 427.0,373.9 427.4,373.9 427.8,373.9 428.2,373.9 428.6,373.9 429.0,373.9 429.4,373.9 429.8,373.9 430.2,373.9 430.6,373.9 431.0,373.9 431.4,373.9 431.8,373.9 432.2,373.9 432.6,373.9 433.0,373.9 433.4,373.9 433.8,373.9 434.2,373.9 434.6,373.9 435.0,373.9 435.4,373.9 435.8,373.9 436.2,373.9 436.6,373.9 437.0,373.9 437.4,373.8 437.8,373.8 438.2,373.8 438.6,373.8 439.0,373.8 439.4,373.8 439.8,373.8 440.2,373.8 440.6,373.8 441.0,373.8 441.4,373.8" stroke="#2387F3" stroke-width="2.6" fill="none"/>
<text x="246.80" y="234.00" font-size="10.0" text-anchor="start" fill="#1e1e1e" stroke="#1e1e1e" stroke-width="0.15" >O 1<tspan font-style="italic">s</tspan></text>
<text x="275.50" y="233.80" font-size="10.0" text-anchor="start" fill="#1e1e1e" stroke="#1e1e1e" stroke-width="0.15" >Carboxylate O atom (530.9 eV)</text>
<path d="M326.10,245.00 V239.00" stroke="#1e1e1e" stroke-width="1.45"/>
<path d="M323.80,239.50 L326.10,234.50 L328.40,239.50 Z" fill="#1e1e1e"/>
<text x="338.40" y="260.60" font-size="10.0" text-anchor="start" fill="#1e1e1e" stroke="#1e1e1e" stroke-width="0.15" >H<tspan font-size="6.80" baseline-shift="-2.40">2</tspan>O (532.0 eV)</text>
<path d="M344.30,273.90 V267.90" stroke="#1e1e1e" stroke-width="1.45"/>
<path d="M342.00,268.40 L344.30,263.40 L346.60,268.40 Z" fill="#1e1e1e"/>
<text x="349.00" y="275.40" font-size="10.0" text-anchor="start" fill="#1e1e1e" stroke="#1e1e1e" stroke-width="0.15" >DMF (533.0 eV)</text>
<path d="M361.20,287.60 V281.20" stroke="#1e1e1e" stroke-width="1.45"/>
<path d="M358.90,281.70 L361.20,276.70 L363.50,281.70 Z" fill="#1e1e1e"/>
<text x="406.00" y="294.80" font-size="10.0" text-anchor="start" fill="#FF8A1F" stroke="#FF8A1F" stroke-width="0.15" >Zn-Bipy</text>
<text x="275.40" y="312.20" font-size="10.0" text-anchor="start" fill="#1e1e1e" stroke="#1e1e1e" stroke-width="0.15" >Carboxylate O atom (531.2 eV)</text>
<path d="M330.60,322.30 V315.90" stroke="#1e1e1e" stroke-width="1.45"/>
<path d="M328.30,316.40 L330.60,311.40 L332.90,316.40 Z" fill="#1e1e1e"/>
<text x="384.70" y="369.00" font-size="10.0" text-anchor="start" fill="#2387F3" stroke="#2387F3" stroke-width="0.15" >Zn-Bipy-NH<tspan font-size="6.80" baseline-shift="-2.40">3</tspan></text>
<rect x="244.60" y="222.40" width="197.70" height="159.50" fill="none" stroke="#2a2a2a" stroke-width="1.3"/>
<path d="M248.00,381.90 V384.90 M279.86,381.90 V384.90 M311.72,381.90 V384.90 M343.58,381.90 V384.90 M375.44,381.90 V384.90 M407.30,381.90 V384.90 M439.16,381.90 V384.90 M263.93,381.90 V383.50 M295.79,381.90 V383.50 M327.65,381.90 V383.50 M359.51,381.90 V383.50 M391.37,381.90 V383.50 M423.23,381.90 V383.50 " stroke="#2a2a2a" stroke-width="1.1" fill="none"/>
<text x="248.00" y="396.10" font-size="10.25" text-anchor="middle" fill="#1e1e1e" stroke="#1e1e1e" stroke-width="0.15" >526</text>
<text x="279.86" y="396.10" font-size="10.25" text-anchor="middle" fill="#1e1e1e" stroke="#1e1e1e" stroke-width="0.15" >528</text>
<text x="311.72" y="396.10" font-size="10.25" text-anchor="middle" fill="#1e1e1e" stroke="#1e1e1e" stroke-width="0.15" >530</text>
<text x="343.58" y="396.10" font-size="10.25" text-anchor="middle" fill="#1e1e1e" stroke="#1e1e1e" stroke-width="0.15" >532</text>
<text x="375.44" y="396.10" font-size="10.25" text-anchor="middle" fill="#1e1e1e" stroke="#1e1e1e" stroke-width="0.15" >534</text>
<text x="407.30" y="396.10" font-size="10.25" text-anchor="middle" fill="#1e1e1e" stroke="#1e1e1e" stroke-width="0.15" >536</text>
<text x="439.16" y="396.10" font-size="10.25" text-anchor="middle" fill="#1e1e1e" stroke="#1e1e1e" stroke-width="0.15" >538</text>
<text x="298.00" y="406.80" font-size="11.2" text-anchor="start" fill="#1e1e1e" stroke="#1e1e1e" stroke-width="0.15" >Binding energy/eV</text>
<path d="M495.4,300.8 495.6,300.8 495.9,300.8 496.1,300.8 496.4,300.8 496.6,300.8 496.9,300.8 497.1,300.8 497.4,300.8 497.6,300.8 497.9,300.7 498.1,300.7 498.4,300.7 498.6,300.7 498.9,300.7 499.1,300.7 499.4,300.7 499.6,300.7 499.9,300.7 500.1,300.7 500.4,300.7 500.6,300.6 500.9,300.6 501.1,300.6 501.4,300.6 501.6,300.6 501.9,300.6 502.1,300.6 502.4,300.6 502.6,300.5 502.9,300.5 503.1,300.5 503.4,300.5 503.6,300.5 503.9,300.5 504.1,300.5 504.4,300.5 504.6,300.4 504.9,300.4 505.1,300.4 505.4,300.4 505.6,300.4 505.9,300.4 506.1,300.3 506.4,300.3 506.6,300.3 506.9,300.3 507.1,300.3 507.4,300.2 507.6,300.2 507.9,300.2 508.1,300.2 508.4,300.2 508.6,300.1 508.9,300.1 509.1,300.1 509.4,300.1 509.6,300.0 509.9,300.0 510.1,300.0 510.4,300.0 510.6,299.9 510.9,299.9 511.1,299.9 511.4,299.8 511.6,299.8 511.9,299.8 512.1,299.7 512.4,299.7 512.6,299.6 512.9,299.6 513.1,299.6 513.4,299.5 513.6,299.5 513.9,299.4 514.1,299.4 514.4,299.3 514.6,299.3 514.9,299.2 515.1,299.1 515.4,299.1 515.6,299.0 515.9,298.9 516.1,298.8 516.4,298.7 516.6,298.7 516.9,298.6 517.1,298.4 517.4,298.3 517.6,298.2 517.9,298.1 518.1,297.9 518.4,297.7 518.6,297.5 518.9,297.3 519.1,297.1 519.4,296.8 519.6,296.5 519.9,296.1 520.1,295.8 520.4,295.3 520.6,294.9 520.9,294.3 521.1,293.7 521.4,293.0 521.6,292.3 521.9,291.4 522.1,290.5 522.4,289.5 522.6,288.4 522.9,287.2 523.1,285.9 523.4,284.4 523.6,282.9 523.9,281.3 524.1,279.6 524.4,277.8 524.6,275.9 524.9,273.9 525.1,271.8 525.4,269.7 525.6,267.6 525.9,265.5 526.1,263.4 526.4,261.3 526.6,259.4 526.9,257.5 527.1,255.8 527.4,254.3 527.6,253.1 527.9,252.1 528.1,251.4 528.4,251.0 528.6,251.0 528.9,251.4 529.1,252.0 529.4,253.0 529.6,254.2 529.9,255.7 530.1,257.4 530.4,259.2 530.6,261.2 530.9,263.2 531.1,265.3 531.4,267.5 531.6,269.6 531.9,271.7 532.1,273.7 532.4,275.7 532.6,277.6 532.9,279.4 533.1,281.1 533.4,282.7 533.6,284.3 533.9,285.7 534.1,287.0 534.4,288.2 534.6,289.3 534.9,290.3 535.1,291.2 535.4,292.1 535.6,292.8 535.9,293.5 536.1,294.1 536.4,294.6 536.6,295.1 536.9,295.5 537.1,295.9 537.4,296.2 537.6,296.5 537.9,296.8 538.1,297.0 538.4,297.3 538.6,297.4 538.9,297.6 539.1,297.8 539.4,297.9 539.6,298.0 539.9,298.1 540.1,298.2 540.4,298.3 540.6,298.4 540.9,298.5 541.1,298.6 541.4,298.7 541.6,298.7 541.9,298.8 542.1,298.8 542.4,298.9 542.6,298.9 542.9,299.0 543.1,299.0 543.4,299.1 543.6,299.1 543.9,299.2 544.1,299.2 544.4,299.2 544.6,299.3 544.9,299.3 545.1,299.3 545.4,299.4 545.6,299.4 545.9,299.4 546.1,299.4 546.4,299.5 546.6,299.5 546.9,299.5 547.1,299.5 547.4,299.5 547.6,299.6 547.9,299.6 548.1,299.6 548.4,299.6 548.6,299.6 548.9,299.6 549.1,299.7 549.4,299.7 549.6,299.7 549.9,299.7 550.1,299.7 550.4,299.7 550.6,299.7 550.9,299.8 551.1,299.8 551.4,299.8 551.6,299.8 551.9,299.8 552.1,299.8 552.4,299.8 552.6,299.8 552.9,299.8 553.1,299.8 553.4,299.8 553.6,299.8 553.9,299.9 554.1,299.9 554.4,299.9 554.6,299.9 554.9,299.9 555.1,299.9 555.4,299.9 555.6,299.9 555.9,299.9 556.1,299.9 556.4,299.9 556.6,299.9 556.9,299.9 557.1,299.9 557.4,299.9 557.6,299.9 557.9,299.9 558.1,299.9 558.4,299.9 558.6,299.9 558.9,299.9 559.1,299.9 559.4,299.9 559.6,299.9 559.9,300.0 560.1,300.0 560.4,300.0 560.6,300.0 560.9,300.0 561.1,300.0 561.4,300.0 561.6,300.0 L561.6,300.3 561.4,300.3 561.1,300.3 560.9,300.3 560.6,300.3 560.4,300.3 560.1,300.3 559.9,300.3 559.6,300.3 559.4,300.3 559.1,300.3 558.9,300.3 558.6,300.3 558.4,300.3 558.1,300.3 557.9,300.3 557.6,300.3 557.4,300.3 557.1,300.3 556.9,300.3 556.6,300.3 556.4,300.3 556.1,300.3 555.9,300.3 555.6,300.3 555.4,300.3 555.1,300.4 554.9,300.4 554.6,300.4 554.4,300.4 554.1,300.4 553.9,300.4 553.6,300.4 553.4,300.4 553.1,300.4 552.9,300.4 552.6,300.4 552.4,300.4 552.1,300.4 551.9,300.4 551.6,300.4 551.4,300.4 551.1,300.4 550.9,300.4 550.6,300.4 550.4,300.4 550.1,300.4 549.9,300.4 549.6,300.4 549.4,300.4 549.1,300.4 548.9,300.4 548.6,300.4 548.4,300.4 548.1,300.4 547.9,300.4 547.6,300.4 547.4,300.5 547.1,300.5 546.9,300.5 546.6,300.5 546.4,300.5 546.1,300.5 545.9,300.5 545.6,300.5 545.4,300.5 545.1,300.5 544.9,300.5 544.6,300.5 544.4,300.5 544.1,300.5 543.9,300.5 543.6,300.5 543.4,300.5 543.1,300.5 542.9,300.5 542.6,300.5 542.4,300.5 542.1,300.5 541.9,300.5 541.6,300.5 541.4,300.5 541.1,300.5 540.9,300.5 540.6,300.5 540.4,300.5 540.1,300.5 539.9,300.6 539.6,300.6 539.4,300.6 539.1,300.6 538.9,300.6 538.6,300.6 538.4,300.6 538.1,300.6 537.9,300.6 537.6,300.6 537.4,300.6 537.1,300.6 536.9,300.6 536.6,300.6 536.4,300.6 536.1,300.6 535.9,300.6 535.6,300.6 535.4,300.6 535.1,300.6 534.9,300.6 534.6,300.6 534.4,300.6 534.1,300.6 533.9,300.6 533.6,300.6 533.4,300.6 533.1,300.6 532.9,300.6 532.6,300.6 532.4,300.6 532.1,300.7 531.9,300.7 531.6,300.7 531.4,300.7 531.1,300.7 530.9,300.7 530.6,300.7 530.4,300.7 530.1,300.7 529.9,300.7 529.6,300.7 529.4,300.7 529.1,300.7 528.9,300.7 528.6,300.7 528.4,300.7 528.1,300.7 527.9,300.7 527.6,300.7 527.4,300.7 527.1,300.7 526.9,300.7 526.6,300.7 526.4,300.7 526.1,300.7 525.9,300.7 525.6,300.7 525.4,300.7 525.1,300.7 524.9,300.7 524.6,300.8 524.4,300.8 524.1,300.8 523.9,300.8 523.6,300.8 523.4,300.8 523.1,300.8 522.9,300.8 522.6,300.8 522.4,300.8 522.1,300.8 521.9,300.8 521.6,300.8 521.4,300.8 521.1,300.8 520.9,300.8 520.6,300.8 520.4,300.8 520.1,300.8 519.9,300.8 519.6,300.8 519.4,300.8 519.1,300.8 518.9,300.8 518.6,300.8 518.4,300.8 518.1,300.8 517.9,300.8 517.6,300.8 517.4,300.8 517.1,300.8 516.9,300.9 516.6,300.9 516.4,300.9 516.1,300.9 515.9,300.9 515.6,300.9 515.4,300.9 515.1,300.9 514.9,300.9 514.6,300.9 514.4,300.9 514.1,300.9 513.9,300.9 513.6,300.9 513.4,300.9 513.1,300.9 512.9,300.9 512.6,300.9 512.4,300.9 512.1,300.9 511.9,300.9 511.6,300.9 511.4,300.9 511.1,300.9 510.9,300.9 510.6,300.9 510.4,300.9 510.1,300.9 509.9,300.9 509.6,300.9 509.4,301.0 509.1,301.0 508.9,301.0 508.6,301.0 508.4,301.0 508.1,301.0 507.9,301.0 507.6,301.0 507.4,301.0 507.1,301.0 506.9,301.0 506.6,301.0 506.4,301.0 506.1,301.0 505.9,301.0 505.6,301.0 505.4,301.0 505.1,301.0 504.9,301.0 504.6,301.0 504.4,301.0 504.1,301.0 503.9,301.0 503.6,301.0 503.4,301.0 503.1,301.0 502.9,301.0 502.6,301.0 502.4,301.0 502.1,301.0 501.9,301.0 501.6,301.1 501.4,301.1 501.1,301.1 500.9,301.1 500.6,301.1 500.4,301.1 500.1,301.1 499.9,301.1 499.6,301.1 499.4,301.1 499.1,301.1 498.9,301.1 498.6,301.1 498.4,301.1 498.1,301.1 497.9,301.1 497.6,301.1 497.4,301.1 497.1,301.1 496.9,301.1 496.6,301.1 496.4,301.1 496.1,301.1 495.9,301.1 495.6,301.1 495.4,301.1 Z" fill="url(#g10)"/>
<path d="M599.4,299.5 599.6,299.5 599.9,299.5 600.1,299.4 600.4,299.4 600.6,299.4 600.9,299.4 601.1,299.4 601.4,299.4 601.6,299.4 601.9,299.4 602.1,299.4 602.4,299.3 602.6,299.3 602.9,299.3 603.1,299.3 603.4,299.3 603.6,299.3 603.9,299.3 604.1,299.3 604.4,299.2 604.6,299.2 604.9,299.2 605.1,299.2 605.4,299.2 605.6,299.2 605.9,299.2 606.1,299.1 606.4,299.1 606.6,299.1 606.9,299.1 607.1,299.1 607.4,299.0 607.6,299.0 607.9,299.0 608.1,299.0 608.4,299.0 608.6,298.9 608.9,298.9 609.1,298.9 609.4,298.9 609.6,298.8 609.9,298.8 610.1,298.8 610.4,298.7 610.6,298.7 610.9,298.7 611.1,298.6 611.4,298.6 611.6,298.5 611.9,298.5 612.1,298.4 612.4,298.4 612.6,298.3 612.9,298.2 613.1,298.2 613.4,298.1 613.6,298.0 613.9,297.9 614.1,297.8 614.4,297.6 614.6,297.5 614.9,297.3 615.1,297.2 615.4,297.0 615.6,296.8 615.9,296.5 616.1,296.3 616.4,296.0 616.6,295.6 616.9,295.3 617.1,294.9 617.4,294.5 617.6,294.1 617.9,293.6 618.1,293.0 618.4,292.5 618.6,291.9 618.9,291.2 619.1,290.5 619.4,289.8 619.6,289.0 619.9,288.2 620.1,287.4 620.4,286.5 620.6,285.6 620.9,284.7 621.1,283.8 621.4,282.9 621.6,281.9 621.9,281.0 622.1,280.1 622.4,279.2 622.6,278.4 622.9,277.6 623.1,276.8 623.4,276.2 623.6,275.6 623.9,275.2 624.1,274.8 624.4,274.6 624.6,274.4 624.9,274.5 625.1,274.6 625.4,274.9 625.6,275.2 625.9,275.7 626.1,276.3 626.4,277.0 626.6,277.7 626.9,278.5 627.1,279.4 627.4,280.3 627.6,281.2 627.9,282.1 628.1,283.0 628.4,284.0 628.6,284.9 628.9,285.8 629.1,286.7 629.4,287.5 629.6,288.3 629.9,289.1 630.1,289.9 630.4,290.6 630.6,291.2 630.9,291.9 631.1,292.5 631.4,293.0 631.6,293.5 631.9,294.0 632.1,294.4 632.4,294.8 632.6,295.2 632.9,295.5 633.1,295.8 633.4,296.1 633.6,296.3 633.9,296.6 634.1,296.8 634.4,297.0 634.6,297.1 634.9,297.3 635.1,297.4 635.4,297.5 635.6,297.6 635.9,297.7 636.1,297.8 636.4,297.9 636.6,297.9 636.9,298.0 637.1,298.1 637.4,298.1 637.6,298.2 637.9,298.2 638.1,298.2 638.4,298.3 638.6,298.3 638.9,298.3 639.1,298.4 639.4,298.4 639.6,298.4 639.9,298.4 640.1,298.5 640.4,298.5 640.6,298.5 640.9,298.5 641.1,298.5 641.4,298.5 641.6,298.6 641.9,298.6 642.1,298.6 642.4,298.6 642.6,298.6 642.9,298.6 643.1,298.6 643.4,298.7 643.6,298.7 643.9,298.7 644.1,298.7 644.4,298.7 644.6,298.7 644.9,298.7 645.1,298.7 645.4,298.7 645.6,298.7 645.9,298.7 646.1,298.7 646.4,298.7 646.6,298.8 646.9,298.8 647.1,298.8 647.4,298.8 647.6,298.8 647.9,298.8 648.1,298.8 648.4,298.8 648.6,298.8 648.9,298.8 649.1,298.8 649.4,298.8 649.6,298.8 649.9,298.8 650.1,298.8 L650.1,299.1 649.9,299.1 649.6,299.1 649.4,299.1 649.1,299.1 648.9,299.1 648.6,299.1 648.4,299.1 648.1,299.1 647.9,299.1 647.6,299.1 647.4,299.1 647.1,299.1 646.9,299.1 646.6,299.2 646.4,299.2 646.1,299.2 645.9,299.2 645.6,299.2 645.4,299.2 645.1,299.2 644.9,299.2 644.6,299.2 644.4,299.2 644.1,299.2 643.9,299.2 643.6,299.2 643.4,299.2 643.1,299.2 642.9,299.2 642.6,299.2 642.4,299.2 642.1,299.2 641.9,299.2 641.6,299.2 641.4,299.2 641.1,299.2 640.9,299.2 640.6,299.2 640.4,299.2 640.1,299.2 639.9,299.2 639.6,299.2 639.4,299.2 639.1,299.3 638.9,299.3 638.6,299.3 638.4,299.3 638.1,299.3 637.9,299.3 637.6,299.3 637.4,299.3 637.1,299.3 636.9,299.3 636.6,299.3 636.4,299.3 636.1,299.3 635.9,299.3 635.6,299.3 635.4,299.3 635.1,299.3 634.9,299.3 634.6,299.3 634.4,299.3 634.1,299.3 633.9,299.3 633.6,299.3 633.4,299.3 633.1,299.3 632.9,299.3 632.6,299.3 632.4,299.3 632.1,299.3 631.9,299.3 631.6,299.3 631.4,299.4 631.1,299.4 630.9,299.4 630.6,299.4 630.4,299.4 630.1,299.4 629.9,299.4 629.6,299.4 629.4,299.4 629.1,299.4 628.9,299.4 628.6,299.4 628.4,299.4 628.1,299.4 627.9,299.4 627.6,299.4 627.4,299.4 627.1,299.4 626.9,299.4 626.6,299.4 626.4,299.4 626.1,299.4 625.9,299.4 625.6,299.4 625.4,299.4 625.1,299.4 624.9,299.4 624.6,299.4 624.4,299.4 624.1,299.4 623.9,299.5 623.6,299.5 623.4,299.5 623.1,299.5 622.9,299.5 622.6,299.5 622.4,299.5 622.1,299.5 621.9,299.5 621.6,299.5 621.4,299.5 621.1,299.5 620.9,299.5 620.6,299.5 620.4,299.5 620.1,299.5 619.9,299.5 619.6,299.5 619.4,299.5 619.1,299.5 618.9,299.5 618.6,299.5 618.4,299.5 618.1,299.5 617.9,299.5 617.6,299.5 617.4,299.5 617.1,299.5 616.9,299.5 616.6,299.5 616.4,299.5 616.1,299.6 615.9,299.6 615.6,299.6 615.4,299.6 615.1,299.6 614.9,299.6 614.6,299.6 614.4,299.6 614.1,299.6 613.9,299.6 613.6,299.6 613.4,299.6 613.1,299.6 612.9,299.6 612.6,299.6 612.4,299.6 612.1,299.6 611.9,299.6 611.6,299.6 611.4,299.6 611.1,299.6 610.9,299.6 610.6,299.6 610.4,299.6 610.1,299.6 609.9,299.6 609.6,299.6 609.4,299.6 609.1,299.6 608.9,299.6 608.6,299.7 608.4,299.7 608.1,299.7 607.9,299.7 607.6,299.7 607.4,299.7 607.1,299.7 606.9,299.7 606.6,299.7 606.4,299.7 606.1,299.7 605.9,299.7 605.6,299.7 605.4,299.7 605.1,299.7 604.9,299.7 604.6,299.7 604.4,299.7 604.1,299.7 603.9,299.7 603.6,299.7 603.4,299.7 603.1,299.7 602.9,299.7 602.6,299.7 602.4,299.7 602.1,299.7 601.9,299.7 601.6,299.7 601.4,299.7 601.1,299.7 600.9,299.8 600.6,299.8 600.4,299.8 600.1,299.8 599.9,299.8 599.6,299.8 599.4,299.8 Z" fill="url(#g11)"/>
<path d="M477.1,301.4 477.4,301.4 477.6,301.4 477.9,301.4 478.1,301.4 478.4,301.4 478.6,301.4 478.9,301.4 479.1,301.3 479.4,301.3 479.6,301.3 479.9,301.3 480.1,301.3 480.4,301.3 480.6,301.3 480.9,301.3 481.1,301.3 481.4,301.3 481.6,301.3 481.9,301.3 482.1,301.3 482.4,301.3 482.6,301.3 482.9,301.3 483.1,301.3 483.4,301.3 483.6,301.3 483.9,301.3 484.1,301.3 484.4,301.3 484.6,301.3 484.9,301.3 485.1,301.3 485.4,301.3 485.6,301.3 485.9,301.3 486.1,301.3 486.4,301.3 486.6,301.2 486.9,301.2 487.1,301.2 487.4,301.2 487.6,301.2 487.9,301.2 488.1,301.2 488.4,301.2 488.6,301.2 488.9,301.2 489.1,301.2 489.4,301.2 489.6,301.2 489.9,301.2 490.1,301.2 490.4,301.2 490.6,301.2 490.9,301.2 491.1,301.2 491.4,301.2 491.6,301.2 491.9,301.2 492.1,301.2 492.4,301.2 492.6,301.2 492.9,301.2 493.1,301.2 493.4,301.2 493.6,301.2 493.9,301.2 494.1,301.2 494.4,301.1 494.6,301.1 494.9,301.1 495.1,301.1 495.4,301.1 495.6,301.1 495.9,301.1 496.1,301.1 496.4,301.1 496.6,301.1 496.9,301.1 497.1,301.1 497.4,301.1 497.6,301.1 497.9,301.1 498.1,301.1 498.4,301.1 498.6,301.1 498.9,301.1 499.1,301.1 499.4,301.1 499.6,301.1 499.9,301.1 500.1,301.1 500.4,301.1 500.6,301.1 500.9,301.1 501.1,301.1 501.4,301.1 501.6,301.1 501.9,301.0 502.1,301.0 502.4,301.0 502.6,301.0 502.9,301.0 503.1,301.0 503.4,301.0 503.6,301.0 503.9,301.0 504.1,301.0 504.4,301.0 504.6,301.0 504.9,301.0 505.1,301.0 505.4,301.0 505.6,301.0 505.9,301.0 506.1,301.0 506.4,301.0 506.6,301.0 506.9,301.0 507.1,301.0 507.4,301.0 507.6,301.0 507.9,301.0 508.1,301.0 508.4,301.0 508.6,301.0 508.9,301.0 509.1,301.0 509.4,301.0 509.6,300.9 509.9,300.9 510.1,300.9 510.4,300.9 510.6,300.9 510.9,300.9 511.1,300.9 511.4,300.9 511.6,300.9 511.9,300.9 512.1,300.9 512.4,300.9 512.6,300.9 512.9,300.9 513.1,300.9 513.4,300.9 513.6,300.9 513.9,300.9 514.1,300.9 514.4,300.9 514.6,300.9 514.9,300.9 515.1,300.9 515.4,300.9 515.6,300.9 515.9,300.9 516.1,300.9 516.4,300.9 516.6,300.9 516.9,300.9 517.1,300.8 517.4,300.8 517.6,300.8 517.9,300.8 518.1,300.8 518.4,300.8 518.6,300.8 518.9,300.8 519.1,300.8 519.4,300.8 519.6,300.8 519.9,300.8 520.1,300.8 520.4,300.8 520.6,300.8 520.9,300.8 521.1,300.8 521.4,300.8 521.6,300.8 521.9,300.8 522.1,300.8 522.4,300.8 522.6,300.8 522.9,300.8 523.1,300.8 523.4,300.8 523.6,300.8 523.9,300.8 524.1,300.8 524.4,300.8 524.6,300.8 524.9,300.7 525.1,300.7 525.4,300.7 525.6,300.7 525.9,300.7 526.1,300.7 526.4,300.7 526.6,300.7 526.9,300.7 527.1,300.7 527.4,300.7 527.6,300.7 527.9,300.7 528.1,300.7 528.4,300.7 528.6,300.7 528.9,300.7 529.1,300.7 529.4,300.7 529.6,300.7 529.9,300.7 530.1,300.7 530.4,300.7 530.6,300.7 530.9,300.7 531.1,300.7 531.4,300.7 531.6,300.7 531.9,300.7 532.1,300.7 532.4,300.6 532.6,300.6 532.9,300.6 533.1,300.6 533.4,300.6 533.6,300.6 533.9,300.6 534.1,300.6 534.4,300.6 534.6,300.6 534.9,300.6 535.1,300.6 535.4,300.6 535.6,300.6 535.9,300.6 536.1,300.6 536.4,300.6 536.6,300.6 536.9,300.6 537.1,300.6 537.4,300.6 537.6,300.6 537.9,300.6 538.1,300.6 538.4,300.6 538.6,300.6 538.9,300.6 539.1,300.6 539.4,300.6 539.6,300.6 539.9,300.6 540.1,300.5 540.4,300.5 540.6,300.5 540.9,300.5 541.1,300.5 541.4,300.5 541.6,300.5 541.9,300.5 542.1,300.5 542.4,300.5 542.6,300.5 542.9,300.5 543.1,300.5 543.4,300.5 543.6,300.5 543.9,300.5 544.1,300.5 544.4,300.5 544.6,300.5 544.9,300.5 545.1,300.5 545.4,300.5 545.6,300.5 545.9,300.5 546.1,300.5 546.4,300.5 546.6,300.5 546.9,300.5 547.1,300.5 547.4,300.5 547.6,300.4 547.9,300.4 548.1,300.4 548.4,300.4 548.6,300.4 548.9,300.4 549.1,300.4 549.4,300.4 549.6,300.4 549.9,300.4 550.1,300.4 550.4,300.4 550.6,300.4 550.9,300.4 551.1,300.4 551.4,300.4 551.6,300.4 551.9,300.4 552.1,300.4 552.4,300.4 552.6,300.4 552.9,300.4 553.1,300.4 553.4,300.4 553.6,300.4 553.9,300.4 554.1,300.4 554.4,300.4 554.6,300.4 554.9,300.4 555.1,300.4 555.4,300.3 555.6,300.3 555.9,300.3 556.1,300.3 556.4,300.3 556.6,300.3 556.9,300.3 557.1,300.3 557.4,300.3 557.6,300.3 557.9,300.3 558.1,300.3 558.4,300.3 558.6,300.3 558.9,300.3 559.1,300.3 559.4,300.3 559.6,300.3 559.9,300.3 560.1,300.3 560.4,300.3 560.6,300.3 560.9,300.3 561.1,300.3 561.4,300.3 561.6,300.3 561.9,300.3 562.1,300.3 562.4,300.3 562.6,300.3 562.9,300.3 563.1,300.2 563.4,300.2 563.6,300.2 563.9,300.2 564.1,300.2 564.4,300.2 564.6,300.2 564.9,300.2 565.1,300.2 565.4,300.2 565.6,300.2 565.9,300.2 566.1,300.2 566.4,300.2 566.6,300.2 566.9,300.2 567.1,300.2 567.4,300.2 567.6,300.2 567.9,300.2 568.1,300.2 568.4,300.2 568.6,300.2 568.9,300.2 569.1,300.2 569.4,300.2 569.6,300.2 569.9,300.2 570.1,300.2 570.4,300.2 570.6,300.1 570.9,300.1 571.1,300.1 571.4,300.1 571.6,300.1 571.9,300.1 572.1,300.1 572.4,300.1 572.6,300.1 572.9,300.1 573.1,300.1 573.4,300.1 573.6,300.1 573.9,300.1 574.1,300.1 574.4,300.1 574.6,300.1 574.9,300.1 575.1,300.1 575.4,300.1 575.6,300.1 575.9,300.1 576.1,300.1 576.4,300.1 576.6,300.1 576.9,300.1 577.1,300.1 577.4,300.1 577.6,300.1 577.9,300.1 578.1,300.1 578.4,300.0 578.6,300.0 578.9,300.0 579.1,300.0 579.4,300.0 579.6,300.0 579.9,300.0 580.1,300.0 580.4,300.0 580.6,300.0 580.9,300.0 581.1,300.0 581.4,300.0 581.6,300.0 581.9,300.0 582.1,300.0 582.4,300.0 582.6,300.0 582.9,300.0 583.1,300.0 583.4,300.0 583.6,300.0 583.9,300.0 584.1,300.0 584.4,300.0 584.6,300.0 584.9,300.0 585.1,300.0 585.4,300.0 585.6,300.0 585.9,299.9 586.1,299.9 586.4,299.9 586.6,299.9 586.9,299.9 587.1,299.9 587.4,299.9 587.6,299.9 587.9,299.9 588.1,299.9 588.4,299.9 588.6,299.9 588.9,299.9 589.1,299.9 589.4,299.9 589.6,299.9 589.9,299.9 590.1,299.9 590.4,299.9 590.6,299.9 590.9,299.9 591.1,299.9 591.4,299.9 591.6,299.9 591.9,299.9 592.1,299.9 592.4,299.9 592.6,299.9 592.9,299.9 593.1,299.9 593.4,299.9 593.6,299.8 593.9,299.8 594.1,299.8 594.4,299.8 594.6,299.8 594.9,299.8 595.1,299.8 595.4,299.8 595.6,299.8 595.9,299.8 596.1,299.8 596.4,299.8 596.6,299.8 596.9,299.8 597.1,299.8 597.4,299.8 597.6,299.8 597.9,299.8 598.1,299.8 598.4,299.8 598.6,299.8 598.9,299.8 599.1,299.8 599.4,299.8 599.6,299.8 599.9,299.8 600.1,299.8 600.4,299.8 600.6,299.8 600.9,299.8 601.1,299.7 601.4,299.7 601.6,299.7 601.9,299.7 602.1,299.7 602.4,299.7 602.6,299.7 602.9,299.7 603.1,299.7 603.4,299.7 603.6,299.7 603.9,299.7 604.1,299.7 604.4,299.7 604.6,299.7 604.9,299.7 605.1,299.7 605.4,299.7 605.6,299.7 605.9,299.7 606.1,299.7 606.4,299.7 606.6,299.7 606.9,299.7 607.1,299.7 607.4,299.7 607.6,299.7 607.9,299.7 608.1,299.7 608.4,299.7 608.6,299.7 608.9,299.6 609.1,299.6 609.4,299.6 609.6,299.6 609.9,299.6 610.1,299.6 610.4,299.6 610.6,299.6 610.9,299.6 611.1,299.6 611.4,299.6 611.6,299.6 611.9,299.6 612.1,299.6 612.4,299.6 612.6,299.6 612.9,299.6 613.1,299.6 613.4,299.6 613.6,299.6 613.9,299.6 614.1,299.6 614.4,299.6 614.6,299.6 614.9,299.6 615.1,299.6 615.4,299.6 615.6,299.6 615.9,299.6 616.1,299.6 616.4,299.5 616.6,299.5 616.9,299.5 617.1,299.5 617.4,299.5 617.6,299.5 617.9,299.5 618.1,299.5 618.4,299.5 618.6,299.5 618.9,299.5 619.1,299.5 619.4,299.5 619.6,299.5 619.9,299.5 620.1,299.5 620.4,299.5 620.6,299.5 620.9,299.5 621.1,299.5 621.4,299.5 621.6,299.5 621.9,299.5 622.1,299.5 622.4,299.5 622.6,299.5 622.9,299.5 623.1,299.5 623.4,299.5 623.6,299.5 623.9,299.5 624.1,299.4 624.4,299.4 624.6,299.4 624.9,299.4 625.1,299.4 625.4,299.4 625.6,299.4 625.9,299.4 626.1,299.4 626.4,299.4 626.6,299.4 626.9,299.4 627.1,299.4 627.4,299.4 627.6,299.4 627.9,299.4 628.1,299.4 628.4,299.4 628.6,299.4 628.9,299.4 629.1,299.4 629.4,299.4 629.6,299.4 629.9,299.4 630.1,299.4 630.4,299.4 630.6,299.4 630.9,299.4 631.1,299.4 631.4,299.4 631.6,299.3 631.9,299.3 632.1,299.3 632.4,299.3 632.6,299.3 632.9,299.3 633.1,299.3 633.4,299.3 633.6,299.3 633.9,299.3 634.1,299.3 634.4,299.3 634.6,299.3 634.9,299.3 635.1,299.3 635.4,299.3 635.6,299.3 635.9,299.3 636.1,299.3 636.4,299.3 636.6,299.3 636.9,299.3 637.1,299.3 637.4,299.3 637.6,299.3 637.9,299.3 638.1,299.3 638.4,299.3 638.6,299.3 638.9,299.3 639.1,299.3 639.4,299.2 639.6,299.2 639.9,299.2 640.1,299.2 640.4,299.2 640.6,299.2 640.9,299.2 641.1,299.2 641.4,299.2 641.6,299.2 641.9,299.2 642.1,299.2 642.4,299.2 642.6,299.2 642.9,299.2 643.1,299.2 643.4,299.2 643.6,299.2 643.9,299.2 644.1,299.2 644.4,299.2 644.6,299.2 644.9,299.2 645.1,299.2 645.4,299.2 645.6,299.2 645.9,299.2 646.1,299.2 646.4,299.2 646.6,299.2 646.9,299.1 647.1,299.1 647.4,299.1 647.6,299.1 647.9,299.1 648.1,299.1 648.4,299.1 648.6,299.1 648.9,299.1 649.1,299.1 649.4,299.1 649.6,299.1 649.9,299.1 650.1,299.1 650.4,299.1 650.6,299.1 650.9,299.1 651.1,299.1 651.4,299.1 651.6,299.1 651.9,299.1 652.1,299.1 652.4,299.1 652.6,299.1 652.9,299.1 653.1,299.1 653.4,299.1 653.6,299.1 653.9,299.1 654.1,299.1 654.4,299.1 654.6,299.0 654.9,299.0 655.1,299.0 655.4,299.0 655.6,299.0 655.9,299.0 656.1,299.0 656.4,299.0 656.6,299.0 656.9,299.0 657.1,299.0 657.4,299.0 657.6,299.0 657.9,299.0 658.1,299.0 658.4,299.0 658.6,299.0 658.9,299.0 659.1,299.0 659.4,299.0 659.6,299.0 659.9,299.0 660.1,299.0 660.4,299.0 660.6,299.0 660.9,299.0 661.1,299.0 661.4,299.0 661.6,299.0 661.9,299.0 662.1,298.9 662.4,298.9 662.6,298.9 662.9,298.9 663.1,298.9 663.4,298.9 663.6,298.9 663.9,298.9 664.1,298.9 664.4,298.9 664.6,298.9 664.9,298.9 665.1,298.9 665.4,298.9 665.6,298.9 665.9,298.9 666.1,298.9 666.4,298.9 666.6,298.9 666.9,298.9 667.1,298.9 667.4,298.9 667.6,298.9 667.9,298.9 668.1,298.9 668.4,298.9 668.6,298.9 668.9,298.9 669.1,298.9 669.4,298.9 669.6,298.9 669.9,298.8 670.1,298.8 670.4,298.8 670.6,298.8 670.9,298.8 671.1,298.8 671.4,298.8 671.6,298.8 671.9,298.8 672.1,298.8 672.4,298.8 672.6,298.8" stroke="#9a9a2a" stroke-width="1.6" fill="none"/>
<g fill="#eeeeee" stroke="#7a7a7a" stroke-width="1.0"><circle cx="478.1" cy="299.9" r="1.75"/><circle cx="479.4" cy="299.4" r="1.75"/><circle cx="480.6" cy="300.3" r="1.75"/><circle cx="481.9" cy="299.4" r="1.75"/><circle cx="483.1" cy="299.2" r="1.75"/><circle cx="484.4" cy="299.2" r="1.75"/><circle cx="485.6" cy="299.7" r="1.75"/><circle cx="486.9" cy="300.1" r="1.75"/><circle cx="488.1" cy="300.1" r="1.75"/><circle cx="489.4" cy="299.7" r="1.75"/><circle cx="490.6" cy="299.0" r="1.75"/><circle cx="491.9" cy="299.2" r="1.75"/><circle cx="493.1" cy="299.1" r="1.75"/><circle cx="494.4" cy="299.4" r="1.75"/><circle cx="495.6" cy="298.6" r="1.75"/><circle cx="496.9" cy="299.4" r="1.75"/><circle cx="498.1" cy="299.6" r="1.75"/><circle cx="499.4" cy="299.2" r="1.75"/><circle cx="500.6" cy="299.4" r="1.75"/><circle cx="501.9" cy="298.7" r="1.75"/><circle cx="503.1" cy="298.5" r="1.75"/><circle cx="504.4" cy="298.8" r="1.75"/><circle cx="505.6" cy="299.5" r="1.75"/><circle cx="506.9" cy="299.3" r="1.75"/><circle cx="508.1" cy="298.6" r="1.75"/><circle cx="509.4" cy="299.2" r="1.75"/><circle cx="510.6" cy="298.4" r="1.75"/><circle cx="511.9" cy="299.0" r="1.75"/><circle cx="513.1" cy="298.4" r="1.75"/><circle cx="514.4" cy="297.7" r="1.75"/><circle cx="515.6" cy="297.9" r="1.75"/><circle cx="516.9" cy="296.8" r="1.75"/><circle cx="518.1" cy="296.1" r="1.75"/><circle cx="519.4" cy="294.7" r="1.75"/><circle cx="520.6" cy="293.5" r="1.75"/><circle cx="521.9" cy="290.0" r="1.75"/><circle cx="523.1" cy="284.4" r="1.75"/><circle cx="524.4" cy="276.2" r="1.75"/><circle cx="525.6" cy="266.9" r="1.75"/><circle cx="526.9" cy="255.9" r="1.75"/><circle cx="528.1" cy="249.7" r="1.75"/><circle cx="529.4" cy="252.1" r="1.75"/><circle cx="530.6" cy="260.4" r="1.75"/><circle cx="531.9" cy="270.4" r="1.75"/><circle cx="533.1" cy="278.9" r="1.75"/><circle cx="534.4" cy="286.5" r="1.75"/><circle cx="535.6" cy="291.7" r="1.75"/><circle cx="536.9" cy="294.1" r="1.75"/><circle cx="538.1" cy="296.3" r="1.75"/><circle cx="539.4" cy="295.9" r="1.75"/><circle cx="540.6" cy="297.3" r="1.75"/><circle cx="541.9" cy="297.1" r="1.75"/><circle cx="543.1" cy="298.2" r="1.75"/><circle cx="544.4" cy="297.8" r="1.75"/><circle cx="545.6" cy="298.4" r="1.75"/><circle cx="546.9" cy="297.8" r="1.75"/><circle cx="548.1" cy="297.5" r="1.75"/><circle cx="549.4" cy="297.7" r="1.75"/><circle cx="550.6" cy="298.0" r="1.75"/><circle cx="551.9" cy="297.9" r="1.75"/><circle cx="553.1" cy="298.9" r="1.75"/><circle cx="554.4" cy="299.0" r="1.75"/><circle cx="555.6" cy="298.6" r="1.75"/><circle cx="556.9" cy="298.0" r="1.75"/><circle cx="558.1" cy="298.4" r="1.75"/><circle cx="559.4" cy="298.2" r="1.75"/><circle cx="560.6" cy="299.2" r="1.75"/><circle cx="561.9" cy="298.7" r="1.75"/><circle cx="563.1" cy="298.7" r="1.75"/><circle cx="564.4" cy="298.3" r="1.75"/><circle cx="565.6" cy="297.6" r="1.75"/><circle cx="566.9" cy="298.2" r="1.75"/><circle cx="568.1" cy="298.0" r="1.75"/><circle cx="569.4" cy="298.7" r="1.75"/><circle cx="570.6" cy="298.5" r="1.75"/><circle cx="571.9" cy="298.1" r="1.75"/><circle cx="573.1" cy="298.3" r="1.75"/><circle cx="574.4" cy="299.2" r="1.75"/><circle cx="575.6" cy="298.0" r="1.75"/><circle cx="576.9" cy="298.0" r="1.75"/><circle cx="578.1" cy="298.3" r="1.75"/><circle cx="579.4" cy="298.1" r="1.75"/><circle cx="580.6" cy="298.2" r="1.75"/><circle cx="581.9" cy="298.6" r="1.75"/><circle cx="583.1" cy="299.1" r="1.75"/><circle cx="584.4" cy="297.5" r="1.75"/><circle cx="585.6" cy="298.3" r="1.75"/><circle cx="586.9" cy="298.3" r="1.75"/><circle cx="588.1" cy="298.2" r="1.75"/><circle cx="589.4" cy="298.2" r="1.75"/><circle cx="590.6" cy="298.1" r="1.75"/><circle cx="591.9" cy="298.7" r="1.75"/><circle cx="593.1" cy="298.0" r="1.75"/><circle cx="594.4" cy="298.1" r="1.75"/><circle cx="595.6" cy="298.1" r="1.75"/><circle cx="596.9" cy="298.1" r="1.75"/><circle cx="598.1" cy="298.0" r="1.75"/><circle cx="599.4" cy="298.5" r="1.75"/><circle cx="600.6" cy="298.0" r="1.75"/><circle cx="601.9" cy="298.0" r="1.75"/><circle cx="603.1" cy="297.8" r="1.75"/><circle cx="604.4" cy="297.3" r="1.75"/><circle cx="605.6" cy="297.3" r="1.75"/><circle cx="606.9" cy="297.2" r="1.75"/><circle cx="608.1" cy="297.6" r="1.75"/><circle cx="609.4" cy="297.1" r="1.75"/><circle cx="610.6" cy="296.8" r="1.75"/><circle cx="611.9" cy="297.1" r="1.75"/><circle cx="613.1" cy="296.9" r="1.75"/><circle cx="614.4" cy="295.4" r="1.75"/><circle cx="615.6" cy="296.1" r="1.75"/><circle cx="616.9" cy="293.9" r="1.75"/><circle cx="618.1" cy="291.6" r="1.75"/><circle cx="619.4" cy="288.8" r="1.75"/><circle cx="620.6" cy="284.2" r="1.75"/><circle cx="621.9" cy="279.3" r="1.75"/><circle cx="623.1" cy="276.4" r="1.75"/><circle cx="624.4" cy="272.6" r="1.75"/><circle cx="625.6" cy="273.8" r="1.75"/><circle cx="626.9" cy="277.5" r="1.75"/><circle cx="628.1" cy="281.1" r="1.75"/><circle cx="629.4" cy="286.0" r="1.75"/><circle cx="630.6" cy="290.0" r="1.75"/><circle cx="631.9" cy="293.6" r="1.75"/><circle cx="633.1" cy="294.0" r="1.75"/><circle cx="634.4" cy="295.5" r="1.75"/><circle cx="635.6" cy="296.5" r="1.75"/><circle cx="636.9" cy="296.6" r="1.75"/><circle cx="638.1" cy="296.3" r="1.75"/><circle cx="639.4" cy="297.1" r="1.75"/><circle cx="640.6" cy="297.1" r="1.75"/><circle cx="641.9" cy="297.4" r="1.75"/><circle cx="643.1" cy="297.7" r="1.75"/><circle cx="644.4" cy="297.7" r="1.75"/><circle cx="645.6" cy="297.5" r="1.75"/><circle cx="646.9" cy="297.5" r="1.75"/><circle cx="648.1" cy="296.9" r="1.75"/><circle cx="649.4" cy="297.3" r="1.75"/><circle cx="650.6" cy="297.5" r="1.75"/><circle cx="651.9" cy="297.2" r="1.75"/><circle cx="653.1" cy="297.4" r="1.75"/><circle cx="654.4" cy="297.0" r="1.75"/><circle cx="655.6" cy="298.1" r="1.75"/><circle cx="656.9" cy="298.4" r="1.75"/><circle cx="658.1" cy="297.2" r="1.75"/><circle cx="659.4" cy="297.6" r="1.75"/><circle cx="660.6" cy="297.3" r="1.75"/><circle cx="661.9" cy="298.0" r="1.75"/><circle cx="663.1" cy="297.6" r="1.75"/><circle cx="664.4" cy="297.4" r="1.75"/><circle cx="665.6" cy="297.3" r="1.75"/><circle cx="666.9" cy="297.4" r="1.75"/><circle cx="668.1" cy="296.9" r="1.75"/><circle cx="669.4" cy="297.6" r="1.75"/><circle cx="670.6" cy="297.0" r="1.75"/></g>
<path d="M477.1,300.3 477.4,300.3 477.6,300.3 477.9,300.3 478.1,300.3 478.4,300.3 478.6,300.3 478.9,300.3 479.1,300.3 479.4,300.3 479.6,300.3 479.9,300.3 480.1,300.3 480.4,300.3 480.6,300.3 480.9,300.3 481.1,300.3 481.4,300.3 481.6,300.3 481.9,300.2 482.1,300.2 482.4,300.2 482.6,300.2 482.9,300.2 483.1,300.2 483.4,300.2 483.6,300.2 483.9,300.2 484.1,300.2 484.4,300.2 484.6,300.2 484.9,300.2 485.1,300.2 485.4,300.2 485.6,300.2 485.9,300.2 486.1,300.2 486.4,300.2 486.6,300.1 486.9,300.1 487.1,300.1 487.4,300.1 487.6,300.1 487.9,300.1 488.1,300.1 488.4,300.1 488.6,300.1 488.9,300.1 489.1,300.1 489.4,300.1 489.6,300.1 489.9,300.1 490.1,300.1 490.4,300.1 490.6,300.1 490.9,300.0 491.1,300.0 491.4,300.0 491.6,300.0 491.9,300.0 492.1,300.0 492.4,300.0 492.6,300.0 492.9,300.0 493.1,300.0 493.4,300.0 493.6,300.0 493.9,300.0 494.1,300.0 494.4,299.9 494.6,299.9 494.9,299.9 495.1,299.9 495.4,299.9 495.6,299.9 495.9,299.9 496.1,299.9 496.4,299.9 496.6,299.9 496.9,299.9 497.1,299.9 497.4,299.9 497.6,299.8 497.9,299.8 498.1,299.8 498.4,299.8 498.6,299.8 498.9,299.8 499.1,299.8 499.4,299.8 499.6,299.8 499.9,299.8 500.1,299.7 500.4,299.7 500.6,299.7 500.9,299.7 501.1,299.7 501.4,299.7 501.6,299.7 501.9,299.7 502.1,299.7 502.4,299.6 502.6,299.6 502.9,299.6 503.1,299.6 503.4,299.6 503.6,299.6 503.9,299.6 504.1,299.6 504.4,299.5 504.6,299.5 504.9,299.5 505.1,299.5 505.4,299.5 505.6,299.5 505.9,299.4 506.1,299.4 506.4,299.4 506.6,299.4 506.9,299.4 507.1,299.4 507.4,299.3 507.6,299.3 507.9,299.3 508.1,299.3 508.4,299.2 508.6,299.2 508.9,299.2 509.1,299.2 509.4,299.2 509.6,299.1 509.9,299.1 510.1,299.1 510.4,299.0 510.6,299.0 510.9,299.0 511.1,298.9 511.4,298.9 511.6,298.9 511.9,298.8 512.1,298.8 512.4,298.8 512.6,298.7 512.9,298.7 513.1,298.6 513.4,298.6 513.6,298.6 513.9,298.5 514.1,298.4 514.4,298.4 514.6,298.3 514.9,298.3 515.1,298.2 515.4,298.1 515.6,298.1 515.9,298.0 516.1,297.9 516.4,297.8 516.6,297.7 516.9,297.6 517.1,297.5 517.4,297.4 517.6,297.3 517.9,297.1 518.1,297.0 518.4,296.8 518.6,296.6 518.9,296.4 519.1,296.1 519.4,295.9 519.6,295.6 519.9,295.2 520.1,294.8 520.4,294.4 520.6,293.9 520.9,293.4 521.1,292.8 521.4,292.1 521.6,291.4 521.9,290.5 522.1,289.6 522.4,288.6 522.6,287.5 522.9,286.3 523.1,284.9 523.4,283.5 523.6,282.0 523.9,280.4 524.1,278.7 524.4,276.8 524.6,274.9 524.9,273.0 525.1,270.9 525.4,268.8 525.6,266.7 525.9,264.6 526.1,262.5 526.4,260.4 526.6,258.4 526.9,256.6 527.1,254.9 527.4,253.4 527.6,252.1 527.9,251.2 528.1,250.5 528.4,250.1 528.6,250.1 528.9,250.4 529.1,251.1 529.4,252.1 529.6,253.3 529.9,254.8 530.1,256.5 530.4,258.3 530.6,260.3 530.9,262.3 531.1,264.4 531.4,266.5 531.6,268.7 531.9,270.7 532.1,272.8 532.4,274.8 532.6,276.7 532.9,278.5 533.1,280.2 533.4,281.8 533.6,283.3 533.9,284.7 534.1,286.1 534.4,287.3 534.6,288.4 534.9,289.4 535.1,290.3 535.4,291.1 535.6,291.9 535.9,292.6 536.1,293.2 536.4,293.7 536.6,294.2 536.9,294.6 537.1,295.0 537.4,295.3 537.6,295.6 537.9,295.9 538.1,296.1 538.4,296.3 538.6,296.5 538.9,296.7 539.1,296.8 539.4,297.0 539.6,297.1 539.9,297.2 540.1,297.3 540.4,297.4 540.6,297.5 540.9,297.6 541.1,297.7 541.4,297.7 541.6,297.8 541.9,297.8 542.1,297.9 542.4,298.0 542.6,298.0 542.9,298.1 543.1,298.1 543.4,298.1 543.6,298.2 543.9,298.2 544.1,298.3 544.4,298.3 544.6,298.3 544.9,298.4 545.1,298.4 545.4,298.4 545.6,298.4 545.9,298.5 546.1,298.5 546.4,298.5 546.6,298.5 546.9,298.6 547.1,298.6 547.4,298.6 547.6,298.6 547.9,298.6 548.1,298.7 548.4,298.7 548.6,298.7 548.9,298.7 549.1,298.7 549.4,298.7 549.6,298.8 549.9,298.8 550.1,298.8 550.4,298.8 550.6,298.8 550.9,298.8 551.1,298.8 551.4,298.8 551.6,298.8 551.9,298.9 552.1,298.9 552.4,298.9 552.6,298.9 552.9,298.9 553.1,298.9 553.4,298.9 553.6,298.9 553.9,298.9 554.1,298.9 554.4,298.9 554.6,298.9 554.9,298.9 555.1,298.9 555.4,298.9 555.6,299.0 555.9,299.0 556.1,299.0 556.4,299.0 556.6,299.0 556.9,299.0 557.1,299.0 557.4,299.0 557.6,299.0 557.9,299.0 558.1,299.0 558.4,299.0 558.6,299.0 558.9,299.0 559.1,299.0 559.4,299.0 559.6,299.0 559.9,299.0 560.1,299.0 560.4,299.0 560.6,299.0 560.9,299.0 561.1,299.0 561.4,299.0 561.6,299.0 561.9,299.0 562.1,299.0 562.4,299.0 562.6,299.0 562.9,299.0 563.1,299.0 563.4,299.0 563.6,299.0 563.9,299.0 564.1,299.0 564.4,299.0 564.6,299.0 564.9,299.0 565.1,299.0 565.4,299.0 565.6,299.0 565.9,299.0 566.1,299.0 566.4,299.0 566.6,299.0 566.9,299.0 567.1,299.0 567.4,299.0 567.6,299.0 567.9,299.0 568.1,299.0 568.4,299.0 568.6,299.0 568.9,299.0 569.1,299.0 569.4,299.0 569.6,299.0 569.9,299.0 570.1,299.0 570.4,299.0 570.6,299.0 570.9,299.0 571.1,299.0 571.4,299.0 571.6,299.0 571.9,299.0 572.1,299.0 572.4,299.0 572.6,299.0 572.9,299.0 573.1,299.0 573.4,299.0 573.6,299.0 573.9,299.0 574.1,299.0 574.4,299.0 574.6,299.0 574.9,299.0 575.1,299.0 575.4,299.0 575.6,298.9 575.9,298.9 576.1,298.9 576.4,298.9 576.6,298.9 576.9,298.9 577.1,298.9 577.4,298.9 577.6,298.9 577.9,298.9 578.1,298.9 578.4,298.9 578.6,298.9 578.9,298.9 579.1,298.9 579.4,298.9 579.6,298.9 579.9,298.9 580.1,298.9 580.4,298.9 580.6,298.9 580.9,298.9 581.1,298.9 581.4,298.9 581.6,298.9 581.9,298.9 582.1,298.9 582.4,298.9 582.6,298.9 582.9,298.9 583.1,298.9 583.4,298.9 583.6,298.9 583.9,298.8 584.1,298.8 584.4,298.8 584.6,298.8 584.9,298.8 585.1,298.8 585.4,298.8 585.6,298.8 585.9,298.8 586.1,298.8 586.4,298.8 586.6,298.8 586.9,298.8 587.1,298.8 587.4,298.8 587.6,298.8 587.9,298.8 588.1,298.8 588.4,298.8 588.6,298.8 588.9,298.8 589.1,298.8 589.4,298.8 589.6,298.7 589.9,298.7 590.1,298.7 590.4,298.7 590.6,298.7 590.9,298.7 591.1,298.7 591.4,298.7 591.6,298.7 591.9,298.7 592.1,298.7 592.4,298.7 592.6,298.7 592.9,298.7 593.1,298.7 593.4,298.7 593.6,298.7 593.9,298.7 594.1,298.7 594.4,298.6 594.6,298.6 594.9,298.6 595.1,298.6 595.4,298.6 595.6,298.6 595.9,298.6 596.1,298.6 596.4,298.6 596.6,298.6 596.9,298.6 597.1,298.6 597.4,298.6 597.6,298.6 597.9,298.6 598.1,298.5 598.4,298.5 598.6,298.5 598.9,298.5 599.1,298.5 599.4,298.5 599.6,298.5 599.9,298.5 600.1,298.5 600.4,298.5 600.6,298.5 600.9,298.4 601.1,298.4 601.4,298.4 601.6,298.4 601.9,298.4 602.1,298.4 602.4,298.4 602.6,298.4 602.9,298.4 603.1,298.4 603.4,298.3 603.6,298.3 603.9,298.3 604.1,298.3 604.4,298.3 604.6,298.3 604.9,298.3 605.1,298.2 605.4,298.2 605.6,298.2 605.9,298.2 606.1,298.2 606.4,298.2 606.6,298.1 606.9,298.1 607.1,298.1 607.4,298.1 607.6,298.1 607.9,298.0 608.1,298.0 608.4,298.0 608.6,298.0 608.9,298.0 609.1,297.9 609.4,297.9 609.6,297.9 609.9,297.8 610.1,297.8 610.4,297.8 610.6,297.7 610.9,297.7 611.1,297.7 611.4,297.6 611.6,297.6 611.9,297.5 612.1,297.5 612.4,297.4 612.6,297.4 612.9,297.3 613.1,297.2 613.4,297.1 613.6,297.0 613.9,296.9 614.1,296.8 614.4,296.7 614.6,296.5 614.9,296.4 615.1,296.2 615.4,296.0 615.6,295.8 615.9,295.6 616.1,295.3 616.4,295.0 616.6,294.7 616.9,294.4 617.1,294.0 617.4,293.6 617.6,293.1 617.9,292.6 618.1,292.1 618.4,291.5 618.6,290.9 618.9,290.3 619.1,289.6 619.4,288.9 619.6,288.1 619.9,287.3 620.1,286.5 620.4,285.6 620.6,284.7 620.9,283.8 621.1,282.9 621.4,281.9 621.6,281.0 621.9,280.1 622.1,279.2 622.4,278.3 622.6,277.4 622.9,276.6 623.1,275.9 623.4,275.3 623.6,274.7 623.9,274.2 624.1,273.9 624.4,273.6 624.6,273.5 624.9,273.5 625.1,273.7 625.4,273.9 625.6,274.3 625.9,274.8 626.1,275.4 626.4,276.1 626.6,276.8 626.9,277.6 627.1,278.4 627.4,279.3 627.6,280.2 627.9,281.2 628.1,282.1 628.4,283.0 628.6,283.9 628.9,284.8 629.1,285.7 629.4,286.6 629.6,287.4 629.9,288.2 630.1,288.9 630.4,289.6 630.6,290.3 630.9,290.9 631.1,291.5 631.4,292.1 631.6,292.6 631.9,293.1 632.1,293.5 632.4,293.9 632.6,294.3 632.9,294.6 633.1,294.9 633.4,295.2 633.6,295.4 633.9,295.6 634.1,295.8 634.4,296.0 634.6,296.2 634.9,296.3 635.1,296.5 635.4,296.6 635.6,296.7 635.9,296.8 636.1,296.9 636.4,296.9 636.6,297.0 636.9,297.1 637.1,297.1 637.4,297.2 637.6,297.2 637.9,297.3 638.1,297.3 638.4,297.3 638.6,297.4 638.9,297.4 639.1,297.4 639.4,297.5 639.6,297.5 639.9,297.5 640.1,297.5 640.4,297.5 640.6,297.6 640.9,297.6 641.1,297.6 641.4,297.6 641.6,297.6 641.9,297.7 642.1,297.7 642.4,297.7 642.6,297.7 642.9,297.7 643.1,297.7 643.4,297.7 643.6,297.7 643.9,297.7 644.1,297.8 644.4,297.8 644.6,297.8 644.9,297.8 645.1,297.8 645.4,297.8 645.6,297.8 645.9,297.8 646.1,297.8 646.4,297.8 646.6,297.8 646.9,297.8 647.1,297.8 647.4,297.8 647.6,297.8 647.9,297.9 648.1,297.9 648.4,297.9 648.6,297.9 648.9,297.9 649.1,297.9 649.4,297.9 649.6,297.9 649.9,297.9 650.1,297.9 650.4,297.9 650.6,297.9 650.9,297.9 651.1,297.9 651.4,297.9 651.6,297.9 651.9,297.9 652.1,297.9 652.4,297.9 652.6,297.9 652.9,297.9 653.1,297.9 653.4,297.9 653.6,297.9 653.9,297.9 654.1,297.9 654.4,297.9 654.6,297.9 654.9,297.9 655.1,297.9 655.4,297.9 655.6,297.9 655.9,297.9 656.1,297.9 656.4,297.9 656.6,297.9 656.9,297.9 657.1,297.9 657.4,297.9 657.6,297.9 657.9,297.9 658.1,297.9 658.4,297.9 658.6,297.9 658.9,297.9 659.1,297.9 659.4,297.9 659.6,297.9 659.9,297.9 660.1,297.9 660.4,297.9 660.6,297.9 660.9,297.9 661.1,297.9 661.4,297.9 661.6,297.9 661.9,297.9 662.1,297.9 662.4,297.9 662.6,297.9 662.9,297.9 663.1,297.9 663.4,297.9 663.6,297.9 663.9,297.9 664.1,297.9 664.4,297.9 664.6,297.9 664.9,297.9 665.1,297.9 665.4,297.9 665.6,297.9 665.9,297.9 666.1,297.9 666.4,297.9 666.6,297.9 666.9,297.9 667.1,297.9 667.4,297.9 667.6,297.9 667.9,297.9 668.1,297.8 668.4,297.8 668.6,297.8 668.9,297.8 669.1,297.8 669.4,297.8 669.6,297.8 669.9,297.8 670.1,297.8 670.4,297.8 670.6,297.8 670.9,297.8 671.1,297.8 671.4,297.8 671.6,297.8 671.9,297.8 672.1,297.8 672.4,297.8 672.6,297.8" stroke="#FF8A1F" stroke-width="1.9" fill="none"/>
<path d="M495.1,378.2 495.4,378.2 495.6,378.2 495.9,378.2 496.1,378.2 496.4,378.1 496.6,378.1 496.9,378.1 497.1,378.1 497.4,378.1 497.6,378.1 497.9,378.1 498.1,378.1 498.4,378.1 498.6,378.0 498.9,378.0 499.1,378.0 499.4,378.0 499.6,378.0 499.9,378.0 500.1,378.0 500.4,378.0 500.6,377.9 500.9,377.9 501.1,377.9 501.4,377.9 501.6,377.9 501.9,377.9 502.1,377.9 502.4,377.8 502.6,377.8 502.9,377.8 503.1,377.8 503.4,377.8 503.6,377.8 503.9,377.7 504.1,377.7 504.4,377.7 504.6,377.7 504.9,377.7 505.1,377.7 505.4,377.6 505.6,377.6 505.9,377.6 506.1,377.6 506.4,377.6 506.6,377.5 506.9,377.5 507.1,377.5 507.4,377.5 507.6,377.4 507.9,377.4 508.1,377.4 508.4,377.4 508.6,377.3 508.9,377.3 509.1,377.3 509.4,377.3 509.6,377.2 509.9,377.2 510.1,377.2 510.4,377.1 510.6,377.1 510.9,377.1 511.1,377.0 511.4,377.0 511.6,377.0 511.9,376.9 512.1,376.9 512.4,376.8 512.6,376.8 512.9,376.8 513.1,376.7 513.4,376.7 513.6,376.6 513.9,376.6 514.1,376.5 514.4,376.4 514.6,376.4 514.9,376.3 515.1,376.2 515.4,376.2 515.6,376.1 515.9,376.0 516.1,375.9 516.4,375.8 516.6,375.7 516.9,375.6 517.1,375.5 517.4,375.4 517.6,375.3 517.9,375.1 518.1,375.0 518.4,374.8 518.6,374.6 518.9,374.4 519.1,374.1 519.4,373.8 519.6,373.5 519.9,373.2 520.1,372.8 520.4,372.4 520.6,371.9 520.9,371.3 521.1,370.7 521.4,370.0 521.6,369.2 521.9,368.4 522.1,367.5 522.4,366.4 522.6,365.3 522.9,364.1 523.1,362.8 523.4,361.3 523.6,359.8 523.9,358.1 524.1,356.4 524.4,354.6 524.6,352.6 524.9,350.6 525.1,348.6 525.4,346.5 525.6,344.3 525.9,342.2 526.1,340.0 526.4,337.9 526.6,335.9 526.9,334.1 527.1,332.4 527.4,330.8 527.6,329.6 527.9,328.6 528.1,327.9 528.4,327.5 528.6,327.5 528.9,327.8 529.1,328.5 529.4,329.5 529.6,330.7 529.9,332.2 530.1,333.9 530.4,335.8 530.6,337.8 530.9,339.8 531.1,341.9 531.4,344.1 531.6,346.2 531.9,348.3 532.1,350.4 532.4,352.4 532.6,354.3 532.9,356.1 533.1,357.8 533.4,359.5 533.6,361.0 533.9,362.4 534.1,363.8 534.4,365.0 534.6,366.1 534.9,367.1 535.1,368.0 535.4,368.9 535.6,369.6 535.9,370.3 536.1,370.9 536.4,371.5 536.6,371.9 536.9,372.4 537.1,372.7 537.4,373.1 537.6,373.4 537.9,373.6 538.1,373.9 538.4,374.1 538.6,374.3 538.9,374.4 539.1,374.6 539.4,374.7 539.6,374.9 539.9,375.0 540.1,375.1 540.4,375.2 540.6,375.2 540.9,375.3 541.1,375.4 541.4,375.5 541.6,375.5 541.9,375.6 542.1,375.6 542.4,375.7 542.6,375.7 542.9,375.8 543.1,375.8 543.4,375.9 543.6,375.9 543.9,375.9 544.1,376.0 544.4,376.0 544.6,376.0 544.9,376.1 545.1,376.1 545.4,376.1 545.6,376.2 545.9,376.2 546.1,376.2 546.4,376.2 546.6,376.2 546.9,376.3 547.1,376.3 547.4,376.3 547.6,376.3 547.9,376.3 548.1,376.3 548.4,376.4 548.6,376.4 548.9,376.4 549.1,376.4 549.4,376.4 549.6,376.4 549.9,376.4 550.1,376.4 550.4,376.5 550.6,376.5 550.9,376.5 551.1,376.5 551.4,376.5 551.6,376.5 551.9,376.5 552.1,376.5 552.4,376.5 552.6,376.5 552.9,376.5 553.1,376.5 553.4,376.5 553.6,376.5 553.9,376.5 554.1,376.5 554.4,376.5 554.6,376.5 554.9,376.6 555.1,376.6 555.4,376.6 555.6,376.6 555.9,376.6 556.1,376.6 556.4,376.6 556.6,376.6 556.9,376.6 557.1,376.6 557.4,376.6 557.6,376.6 557.9,376.6 558.1,376.6 558.4,376.6 558.6,376.6 558.9,376.6 559.1,376.6 559.4,376.6 559.6,376.6 559.9,376.6 560.1,376.6 560.4,376.6 560.6,376.6 560.9,376.6 561.1,376.6 561.4,376.6 561.6,376.6 561.9,376.6 L561.9,376.9 561.6,376.9 561.4,376.9 561.1,376.9 560.9,376.9 560.6,376.9 560.4,376.9 560.1,376.9 559.9,376.9 559.6,376.9 559.4,376.9 559.1,376.9 558.9,376.9 558.6,376.9 558.4,376.9 558.1,377.0 557.9,377.0 557.6,377.0 557.4,377.0 557.1,377.0 556.9,377.0 556.6,377.0 556.4,377.0 556.1,377.0 555.9,377.0 555.6,377.0 555.4,377.0 555.1,377.0 554.9,377.0 554.6,377.0 554.4,377.0 554.1,377.0 553.9,377.1 553.6,377.1 553.4,377.1 553.1,377.1 552.9,377.1 552.6,377.1 552.4,377.1 552.1,377.1 551.9,377.1 551.6,377.1 551.4,377.1 551.1,377.1 550.9,377.1 550.6,377.1 550.4,377.1 550.1,377.1 549.9,377.2 549.6,377.2 549.4,377.2 549.1,377.2 548.9,377.2 548.6,377.2 548.4,377.2 548.1,377.2 547.9,377.2 547.6,377.2 547.4,377.2 547.1,377.2 546.9,377.2 546.6,377.2 546.4,377.2 546.1,377.2 545.9,377.3 545.6,377.3 545.4,377.3 545.1,377.3 544.9,377.3 544.6,377.3 544.4,377.3 544.1,377.3 543.9,377.3 543.6,377.3 543.4,377.3 543.1,377.3 542.9,377.3 542.6,377.3 542.4,377.3 542.1,377.3 541.9,377.4 541.6,377.4 541.4,377.4 541.1,377.4 540.9,377.4 540.6,377.4 540.4,377.4 540.1,377.4 539.9,377.4 539.6,377.4 539.4,377.4 539.1,377.4 538.9,377.4 538.6,377.4 538.4,377.4 538.1,377.4 537.9,377.5 537.6,377.5 537.4,377.5 537.1,377.5 536.9,377.5 536.6,377.5 536.4,377.5 536.1,377.5 535.9,377.5 535.6,377.5 535.4,377.5 535.1,377.5 534.9,377.5 534.6,377.5 534.4,377.5 534.1,377.5 533.9,377.5 533.6,377.6 533.4,377.6 533.1,377.6 532.9,377.6 532.6,377.6 532.4,377.6 532.1,377.6 531.9,377.6 531.6,377.6 531.4,377.6 531.1,377.6 530.9,377.6 530.6,377.6 530.4,377.6 530.1,377.6 529.9,377.6 529.6,377.7 529.4,377.7 529.1,377.7 528.9,377.7 528.6,377.7 528.4,377.7 528.1,377.7 527.9,377.7 527.6,377.7 527.4,377.7 527.1,377.7 526.9,377.7 526.6,377.7 526.4,377.7 526.1,377.7 525.9,377.7 525.6,377.8 525.4,377.8 525.1,377.8 524.9,377.8 524.6,377.8 524.4,377.8 524.1,377.8 523.9,377.8 523.6,377.8 523.4,377.8 523.1,377.8 522.9,377.8 522.6,377.8 522.4,377.8 522.1,377.8 521.9,377.8 521.6,377.9 521.4,377.9 521.1,377.9 520.9,377.9 520.6,377.9 520.4,377.9 520.1,377.9 519.9,377.9 519.6,377.9 519.4,377.9 519.1,377.9 518.9,377.9 518.6,377.9 518.4,377.9 518.1,377.9 517.9,377.9 517.6,378.0 517.4,378.0 517.1,378.0 516.9,378.0 516.6,378.0 516.4,378.0 516.1,378.0 515.9,378.0 515.6,378.0 515.4,378.0 515.1,378.0 514.9,378.0 514.6,378.0 514.4,378.0 514.1,378.0 513.9,378.0 513.6,378.0 513.4,378.1 513.1,378.1 512.9,378.1 512.6,378.1 512.4,378.1 512.1,378.1 511.9,378.1 511.6,378.1 511.4,378.1 511.1,378.1 510.9,378.1 510.6,378.1 510.4,378.1 510.1,378.1 509.9,378.1 509.6,378.1 509.4,378.2 509.1,378.2 508.9,378.2 508.6,378.2 508.4,378.2 508.1,378.2 507.9,378.2 507.6,378.2 507.4,378.2 507.1,378.2 506.9,378.2 506.6,378.2 506.4,378.2 506.1,378.2 505.9,378.2 505.6,378.2 505.4,378.3 505.1,378.3 504.9,378.3 504.6,378.3 504.4,378.3 504.1,378.3 503.9,378.3 503.6,378.3 503.4,378.3 503.1,378.3 502.9,378.3 502.6,378.3 502.4,378.3 502.1,378.3 501.9,378.3 501.6,378.3 501.4,378.4 501.1,378.4 500.9,378.4 500.6,378.4 500.4,378.4 500.1,378.4 499.9,378.4 499.6,378.4 499.4,378.4 499.1,378.4 498.9,378.4 498.6,378.4 498.4,378.4 498.1,378.4 497.9,378.4 497.6,378.4 497.4,378.5 497.1,378.5 496.9,378.5 496.6,378.5 496.4,378.5 496.1,378.5 495.9,378.5 495.6,378.5 495.4,378.5 495.1,378.5 Z" fill="url(#g12)"/>
<path d="M598.6,375.6 598.9,375.6 599.1,375.6 599.4,375.6 599.6,375.6 599.9,375.6 600.1,375.6 600.4,375.6 600.6,375.5 600.9,375.5 601.1,375.5 601.4,375.5 601.6,375.5 601.9,375.5 602.1,375.5 602.4,375.4 602.6,375.4 602.9,375.4 603.1,375.4 603.4,375.4 603.6,375.4 603.9,375.4 604.1,375.3 604.4,375.3 604.6,375.3 604.9,375.3 605.1,375.3 605.4,375.2 605.6,375.2 605.9,375.2 606.1,375.2 606.4,375.2 606.6,375.1 606.9,375.1 607.1,375.1 607.4,375.1 607.6,375.0 607.9,375.0 608.1,375.0 608.4,375.0 608.6,374.9 608.9,374.9 609.1,374.9 609.4,374.8 609.6,374.8 609.9,374.8 610.1,374.7 610.4,374.7 610.6,374.7 610.9,374.6 611.1,374.6 611.4,374.5 611.6,374.5 611.9,374.4 612.1,374.4 612.4,374.3 612.6,374.2 612.9,374.1 613.1,374.1 613.4,374.0 613.6,373.9 613.9,373.8 614.1,373.6 614.4,373.5 614.6,373.3 614.9,373.2 615.1,373.0 615.4,372.8 615.6,372.6 615.9,372.3 616.1,372.0 616.4,371.7 616.6,371.4 616.9,371.0 617.1,370.6 617.4,370.2 617.6,369.7 617.9,369.2 618.1,368.6 618.4,368.0 618.6,367.3 618.9,366.7 619.1,365.9 619.4,365.1 619.6,364.3 619.9,363.5 620.1,362.6 620.4,361.7 620.6,360.7 620.9,359.8 621.1,358.8 621.4,357.8 621.6,356.8 621.9,355.8 622.1,354.8 622.4,353.9 622.6,353.0 622.9,352.1 623.1,351.4 623.4,350.7 623.6,350.1 623.9,349.6 624.1,349.2 624.4,348.9 624.6,348.8 624.9,348.8 625.1,349.0 625.4,349.3 625.6,349.7 625.9,350.2 626.1,350.8 626.4,351.5 626.6,352.3 626.9,353.1 627.1,354.0 627.4,355.0 627.6,355.9 627.9,356.9 628.1,357.9 628.4,358.9 628.6,359.8 628.9,360.8 629.1,361.7 629.4,362.6 629.6,363.5 629.9,364.3 630.1,365.1 630.4,365.8 630.6,366.5 630.9,367.2 631.1,367.8 631.4,368.4 631.6,369.0 631.9,369.5 632.1,369.9 632.4,370.3 632.6,370.7 632.9,371.1 633.1,371.4 633.4,371.7 633.6,371.9 633.9,372.2 634.1,372.4 634.4,372.6 634.6,372.7 634.9,372.9 635.1,373.0 635.4,373.1 635.6,373.3 635.9,373.3 636.1,373.4 636.4,373.5 636.6,373.6 636.9,373.6 637.1,373.7 637.4,373.8 637.6,373.8 637.9,373.8 638.1,373.9 638.4,373.9 638.6,373.9 638.9,374.0 639.1,374.0 639.4,374.0 639.6,374.1 639.9,374.1 640.1,374.1 640.4,374.1 640.6,374.1 640.9,374.1 641.1,374.2 641.4,374.2 641.6,374.2 641.9,374.2 642.1,374.2 642.4,374.2 642.6,374.2 642.9,374.3 643.1,374.3 643.4,374.3 643.6,374.3 643.9,374.3 644.1,374.3 644.4,374.3 644.6,374.3 644.9,374.3 645.1,374.3 645.4,374.3 645.6,374.3 645.9,374.3 646.1,374.3 646.4,374.3 646.6,374.3 646.9,374.3 647.1,374.3 647.4,374.3 647.6,374.4 647.9,374.4 648.1,374.4 648.4,374.4 648.6,374.4 648.9,374.4 649.1,374.4 649.4,374.4 649.6,374.4 649.9,374.4 650.1,374.4 650.4,374.4 650.6,374.4 650.9,374.4 L650.9,374.7 650.6,374.7 650.4,374.7 650.1,374.7 649.9,374.7 649.6,374.7 649.4,374.7 649.1,374.7 648.9,374.7 648.6,374.7 648.4,374.7 648.1,374.7 647.9,374.7 647.6,374.7 647.4,374.7 647.1,374.8 646.9,374.8 646.6,374.8 646.4,374.8 646.1,374.8 645.9,374.8 645.6,374.8 645.4,374.8 645.1,374.8 644.9,374.8 644.6,374.8 644.4,374.8 644.1,374.8 643.9,374.8 643.6,374.8 643.4,374.8 643.1,374.9 642.9,374.9 642.6,374.9 642.4,374.9 642.1,374.9 641.9,374.9 641.6,374.9 641.4,374.9 641.1,374.9 640.9,374.9 640.6,374.9 640.4,374.9 640.1,374.9 639.9,374.9 639.6,374.9 639.4,374.9 639.1,374.9 638.9,375.0 638.6,375.0 638.4,375.0 638.1,375.0 637.9,375.0 637.6,375.0 637.4,375.0 637.1,375.0 636.9,375.0 636.6,375.0 636.4,375.0 636.1,375.0 635.9,375.0 635.6,375.0 635.4,375.0 635.1,375.0 634.9,375.1 634.6,375.1 634.4,375.1 634.1,375.1 633.9,375.1 633.6,375.1 633.4,375.1 633.1,375.1 632.9,375.1 632.6,375.1 632.4,375.1 632.1,375.1 631.9,375.1 631.6,375.1 631.4,375.1 631.1,375.1 630.9,375.2 630.6,375.2 630.4,375.2 630.1,375.2 629.9,375.2 629.6,375.2 629.4,375.2 629.1,375.2 628.9,375.2 628.6,375.2 628.4,375.2 628.1,375.2 627.9,375.2 627.6,375.2 627.4,375.2 627.1,375.2 626.9,375.3 626.6,375.3 626.4,375.3 626.1,375.3 625.9,375.3 625.6,375.3 625.4,375.3 625.1,375.3 624.9,375.3 624.6,375.3 624.4,375.3 624.1,375.3 623.9,375.3 623.6,375.3 623.4,375.3 623.1,375.3 622.9,375.4 622.6,375.4 622.4,375.4 622.1,375.4 621.9,375.4 621.6,375.4 621.4,375.4 621.1,375.4 620.9,375.4 620.6,375.4 620.4,375.4 620.1,375.4 619.9,375.4 619.6,375.4 619.4,375.4 619.1,375.4 618.9,375.4 618.6,375.5 618.4,375.5 618.1,375.5 617.9,375.5 617.6,375.5 617.4,375.5 617.1,375.5 616.9,375.5 616.6,375.5 616.4,375.5 616.1,375.5 615.9,375.5 615.6,375.5 615.4,375.5 615.1,375.5 614.9,375.5 614.6,375.6 614.4,375.6 614.1,375.6 613.9,375.6 613.6,375.6 613.4,375.6 613.1,375.6 612.9,375.6 612.6,375.6 612.4,375.6 612.1,375.6 611.9,375.6 611.6,375.6 611.4,375.6 611.1,375.6 610.9,375.6 610.6,375.7 610.4,375.7 610.1,375.7 609.9,375.7 609.6,375.7 609.4,375.7 609.1,375.7 608.9,375.7 608.6,375.7 608.4,375.7 608.1,375.7 607.9,375.7 607.6,375.7 607.4,375.7 607.1,375.7 606.9,375.7 606.6,375.8 606.4,375.8 606.1,375.8 605.9,375.8 605.6,375.8 605.4,375.8 605.1,375.8 604.9,375.8 604.6,375.8 604.4,375.8 604.1,375.8 603.9,375.8 603.6,375.8 603.4,375.8 603.1,375.8 602.9,375.8 602.6,375.9 602.4,375.9 602.1,375.9 601.9,375.9 601.6,375.9 601.4,375.9 601.1,375.9 600.9,375.9 600.6,375.9 600.4,375.9 600.1,375.9 599.9,375.9 599.6,375.9 599.4,375.9 599.1,375.9 598.9,375.9 598.6,375.9 Z" fill="url(#g13)"/>
<path d="M477.1,379.0 477.4,378.9 477.6,378.9 477.9,378.9 478.1,378.9 478.4,378.9 478.6,378.9 478.9,378.9 479.1,378.9 479.4,378.9 479.6,378.9 479.9,378.9 480.1,378.9 480.4,378.9 480.6,378.9 480.9,378.9 481.1,378.9 481.4,378.8 481.6,378.8 481.9,378.8 482.1,378.8 482.4,378.8 482.6,378.8 482.9,378.8 483.1,378.8 483.4,378.8 483.6,378.8 483.9,378.8 484.1,378.8 484.4,378.8 484.6,378.8 484.9,378.8 485.1,378.8 485.4,378.7 485.6,378.7 485.9,378.7 486.1,378.7 486.4,378.7 486.6,378.7 486.9,378.7 487.1,378.7 487.4,378.7 487.6,378.7 487.9,378.7 488.1,378.7 488.4,378.7 488.6,378.7 488.9,378.7 489.1,378.7 489.4,378.6 489.6,378.6 489.9,378.6 490.1,378.6 490.4,378.6 490.6,378.6 490.9,378.6 491.1,378.6 491.4,378.6 491.6,378.6 491.9,378.6 492.1,378.6 492.4,378.6 492.6,378.6 492.9,378.6 493.1,378.6 493.4,378.5 493.6,378.5 493.9,378.5 494.1,378.5 494.4,378.5 494.6,378.5 494.9,378.5 495.1,378.5 495.4,378.5 495.6,378.5 495.9,378.5 496.1,378.5 496.4,378.5 496.6,378.5 496.9,378.5 497.1,378.5 497.4,378.5 497.6,378.4 497.9,378.4 498.1,378.4 498.4,378.4 498.6,378.4 498.9,378.4 499.1,378.4 499.4,378.4 499.6,378.4 499.9,378.4 500.1,378.4 500.4,378.4 500.6,378.4 500.9,378.4 501.1,378.4 501.4,378.4 501.6,378.3 501.9,378.3 502.1,378.3 502.4,378.3 502.6,378.3 502.9,378.3 503.1,378.3 503.4,378.3 503.6,378.3 503.9,378.3 504.1,378.3 504.4,378.3 504.6,378.3 504.9,378.3 505.1,378.3 505.4,378.3 505.6,378.2 505.9,378.2 506.1,378.2 506.4,378.2 506.6,378.2 506.9,378.2 507.1,378.2 507.4,378.2 507.6,378.2 507.9,378.2 508.1,378.2 508.4,378.2 508.6,378.2 508.9,378.2 509.1,378.2 509.4,378.2 509.6,378.1 509.9,378.1 510.1,378.1 510.4,378.1 510.6,378.1 510.9,378.1 511.1,378.1 511.4,378.1 511.6,378.1 511.9,378.1 512.1,378.1 512.4,378.1 512.6,378.1 512.9,378.1 513.1,378.1 513.4,378.1 513.6,378.0 513.9,378.0 514.1,378.0 514.4,378.0 514.6,378.0 514.9,378.0 515.1,378.0 515.4,378.0 515.6,378.0 515.9,378.0 516.1,378.0 516.4,378.0 516.6,378.0 516.9,378.0 517.1,378.0 517.4,378.0 517.6,378.0 517.9,377.9 518.1,377.9 518.4,377.9 518.6,377.9 518.9,377.9 519.1,377.9 519.4,377.9 519.6,377.9 519.9,377.9 520.1,377.9 520.4,377.9 520.6,377.9 520.9,377.9 521.1,377.9 521.4,377.9 521.6,377.9 521.9,377.8 522.1,377.8 522.4,377.8 522.6,377.8 522.9,377.8 523.1,377.8 523.4,377.8 523.6,377.8 523.9,377.8 524.1,377.8 524.4,377.8 524.6,377.8 524.9,377.8 525.1,377.8 525.4,377.8 525.6,377.8 525.9,377.7 526.1,377.7 526.4,377.7 526.6,377.7 526.9,377.7 527.1,377.7 527.4,377.7 527.6,377.7 527.9,377.7 528.1,377.7 528.4,377.7 528.6,377.7 528.9,377.7 529.1,377.7 529.4,377.7 529.6,377.7 529.9,377.6 530.1,377.6 530.4,377.6 530.6,377.6 530.9,377.6 531.1,377.6 531.4,377.6 531.6,377.6 531.9,377.6 532.1,377.6 532.4,377.6 532.6,377.6 532.9,377.6 533.1,377.6 533.4,377.6 533.6,377.6 533.9,377.5 534.1,377.5 534.4,377.5 534.6,377.5 534.9,377.5 535.1,377.5 535.4,377.5 535.6,377.5 535.9,377.5 536.1,377.5 536.4,377.5 536.6,377.5 536.9,377.5 537.1,377.5 537.4,377.5 537.6,377.5 537.9,377.5 538.1,377.4 538.4,377.4 538.6,377.4 538.9,377.4 539.1,377.4 539.4,377.4 539.6,377.4 539.9,377.4 540.1,377.4 540.4,377.4 540.6,377.4 540.9,377.4 541.1,377.4 541.4,377.4 541.6,377.4 541.9,377.4 542.1,377.3 542.4,377.3 542.6,377.3 542.9,377.3 543.1,377.3 543.4,377.3 543.6,377.3 543.9,377.3 544.1,377.3 544.4,377.3 544.6,377.3 544.9,377.3 545.1,377.3 545.4,377.3 545.6,377.3 545.9,377.3 546.1,377.2 546.4,377.2 546.6,377.2 546.9,377.2 547.1,377.2 547.4,377.2 547.6,377.2 547.9,377.2 548.1,377.2 548.4,377.2 548.6,377.2 548.9,377.2 549.1,377.2 549.4,377.2 549.6,377.2 549.9,377.2 550.1,377.1 550.4,377.1 550.6,377.1 550.9,377.1 551.1,377.1 551.4,377.1 551.6,377.1 551.9,377.1 552.1,377.1 552.4,377.1 552.6,377.1 552.9,377.1 553.1,377.1 553.4,377.1 553.6,377.1 553.9,377.1 554.1,377.0 554.4,377.0 554.6,377.0 554.9,377.0 555.1,377.0 555.4,377.0 555.6,377.0 555.9,377.0 556.1,377.0 556.4,377.0 556.6,377.0 556.9,377.0 557.1,377.0 557.4,377.0 557.6,377.0 557.9,377.0 558.1,377.0 558.4,376.9 558.6,376.9 558.9,376.9 559.1,376.9 559.4,376.9 559.6,376.9 559.9,376.9 560.1,376.9 560.4,376.9 560.6,376.9 560.9,376.9 561.1,376.9 561.4,376.9 561.6,376.9 561.9,376.9 562.1,376.9 562.4,376.8 562.6,376.8 562.9,376.8 563.1,376.8 563.4,376.8 563.6,376.8 563.9,376.8 564.1,376.8 564.4,376.8 564.6,376.8 564.9,376.8 565.1,376.8 565.4,376.8 565.6,376.8 565.9,376.8 566.1,376.8 566.4,376.7 566.6,376.7 566.9,376.7 567.1,376.7 567.4,376.7 567.6,376.7 567.9,376.7 568.1,376.7 568.4,376.7 568.6,376.7 568.9,376.7 569.1,376.7 569.4,376.7 569.6,376.7 569.9,376.7 570.1,376.7 570.4,376.6 570.6,376.6 570.9,376.6 571.1,376.6 571.4,376.6 571.6,376.6 571.9,376.6 572.1,376.6 572.4,376.6 572.6,376.6 572.9,376.6 573.1,376.6 573.4,376.6 573.6,376.6 573.9,376.6 574.1,376.6 574.4,376.5 574.6,376.5 574.9,376.5 575.1,376.5 575.4,376.5 575.6,376.5 575.9,376.5 576.1,376.5 576.4,376.5 576.6,376.5 576.9,376.5 577.1,376.5 577.4,376.5 577.6,376.5 577.9,376.5 578.1,376.5 578.4,376.4 578.6,376.4 578.9,376.4 579.1,376.4 579.4,376.4 579.6,376.4 579.9,376.4 580.1,376.4 580.4,376.4 580.6,376.4 580.9,376.4 581.1,376.4 581.4,376.4 581.6,376.4 581.9,376.4 582.1,376.4 582.4,376.4 582.6,376.3 582.9,376.3 583.1,376.3 583.4,376.3 583.6,376.3 583.9,376.3 584.1,376.3 584.4,376.3 584.6,376.3 584.9,376.3 585.1,376.3 585.4,376.3 585.6,376.3 585.9,376.3 586.1,376.3 586.4,376.3 586.6,376.2 586.9,376.2 587.1,376.2 587.4,376.2 587.6,376.2 587.9,376.2 588.1,376.2 588.4,376.2 588.6,376.2 588.9,376.2 589.1,376.2 589.4,376.2 589.6,376.2 589.9,376.2 590.1,376.2 590.4,376.2 590.6,376.1 590.9,376.1 591.1,376.1 591.4,376.1 591.6,376.1 591.9,376.1 592.1,376.1 592.4,376.1 592.6,376.1 592.9,376.1 593.1,376.1 593.4,376.1 593.6,376.1 593.9,376.1 594.1,376.1 594.4,376.1 594.6,376.0 594.9,376.0 595.1,376.0 595.4,376.0 595.6,376.0 595.9,376.0 596.1,376.0 596.4,376.0 596.6,376.0 596.9,376.0 597.1,376.0 597.4,376.0 597.6,376.0 597.9,376.0 598.1,376.0 598.4,376.0 598.6,375.9 598.9,375.9 599.1,375.9 599.4,375.9 599.6,375.9 599.9,375.9 600.1,375.9 600.4,375.9 600.6,375.9 600.9,375.9 601.1,375.9 601.4,375.9 601.6,375.9 601.9,375.9 602.1,375.9 602.4,375.9 602.6,375.9 602.9,375.8 603.1,375.8 603.4,375.8 603.6,375.8 603.9,375.8 604.1,375.8 604.4,375.8 604.6,375.8 604.9,375.8 605.1,375.8 605.4,375.8 605.6,375.8 605.9,375.8 606.1,375.8 606.4,375.8 606.6,375.8 606.9,375.7 607.1,375.7 607.4,375.7 607.6,375.7 607.9,375.7 608.1,375.7 608.4,375.7 608.6,375.7 608.9,375.7 609.1,375.7 609.4,375.7 609.6,375.7 609.9,375.7 610.1,375.7 610.4,375.7 610.6,375.7 610.9,375.6 611.1,375.6 611.4,375.6 611.6,375.6 611.9,375.6 612.1,375.6 612.4,375.6 612.6,375.6 612.9,375.6 613.1,375.6 613.4,375.6 613.6,375.6 613.9,375.6 614.1,375.6 614.4,375.6 614.6,375.6 614.9,375.5 615.1,375.5 615.4,375.5 615.6,375.5 615.9,375.5 616.1,375.5 616.4,375.5 616.6,375.5 616.9,375.5 617.1,375.5 617.4,375.5 617.6,375.5 617.9,375.5 618.1,375.5 618.4,375.5 618.6,375.5 618.9,375.4 619.1,375.4 619.4,375.4 619.6,375.4 619.9,375.4 620.1,375.4 620.4,375.4 620.6,375.4 620.9,375.4 621.1,375.4 621.4,375.4 621.6,375.4 621.9,375.4 622.1,375.4 622.4,375.4 622.6,375.4 622.9,375.4 623.1,375.3 623.4,375.3 623.6,375.3 623.9,375.3 624.1,375.3 624.4,375.3 624.6,375.3 624.9,375.3 625.1,375.3 625.4,375.3 625.6,375.3 625.9,375.3 626.1,375.3 626.4,375.3 626.6,375.3 626.9,375.3 627.1,375.2 627.4,375.2 627.6,375.2 627.9,375.2 628.1,375.2 628.4,375.2 628.6,375.2 628.9,375.2 629.1,375.2 629.4,375.2 629.6,375.2 629.9,375.2 630.1,375.2 630.4,375.2 630.6,375.2 630.9,375.2 631.1,375.1 631.4,375.1 631.6,375.1 631.9,375.1 632.1,375.1 632.4,375.1 632.6,375.1 632.9,375.1 633.1,375.1 633.4,375.1 633.6,375.1 633.9,375.1 634.1,375.1 634.4,375.1 634.6,375.1 634.9,375.1 635.1,375.0 635.4,375.0 635.6,375.0 635.9,375.0 636.1,375.0 636.4,375.0 636.6,375.0 636.9,375.0 637.1,375.0 637.4,375.0 637.6,375.0 637.9,375.0 638.1,375.0 638.4,375.0 638.6,375.0 638.9,375.0 639.1,374.9 639.4,374.9 639.6,374.9 639.9,374.9 640.1,374.9 640.4,374.9 640.6,374.9 640.9,374.9 641.1,374.9 641.4,374.9 641.6,374.9 641.9,374.9 642.1,374.9 642.4,374.9 642.6,374.9 642.9,374.9 643.1,374.9 643.4,374.8 643.6,374.8 643.9,374.8 644.1,374.8 644.4,374.8 644.6,374.8 644.9,374.8 645.1,374.8 645.4,374.8 645.6,374.8 645.9,374.8 646.1,374.8 646.4,374.8 646.6,374.8 646.9,374.8 647.1,374.8 647.4,374.7 647.6,374.7 647.9,374.7 648.1,374.7 648.4,374.7 648.6,374.7 648.9,374.7 649.1,374.7 649.4,374.7 649.6,374.7 649.9,374.7 650.1,374.7 650.4,374.7 650.6,374.7 650.9,374.7 651.1,374.7 651.4,374.6 651.6,374.6 651.9,374.6 652.1,374.6 652.4,374.6 652.6,374.6 652.9,374.6 653.1,374.6 653.4,374.6 653.6,374.6 653.9,374.6 654.1,374.6 654.4,374.6 654.6,374.6 654.9,374.6 655.1,374.6 655.4,374.5 655.6,374.5 655.9,374.5 656.1,374.5 656.4,374.5 656.6,374.5 656.9,374.5 657.1,374.5 657.4,374.5 657.6,374.5 657.9,374.5 658.1,374.5 658.4,374.5 658.6,374.5 658.9,374.5 659.1,374.5 659.4,374.4 659.6,374.4 659.9,374.4 660.1,374.4 660.4,374.4 660.6,374.4 660.9,374.4 661.1,374.4 661.4,374.4 661.6,374.4 661.9,374.4 662.1,374.4 662.4,374.4 662.6,374.4 662.9,374.4 663.1,374.4 663.4,374.4 663.6,374.3 663.9,374.3 664.1,374.3 664.4,374.3 664.6,374.3 664.9,374.3 665.1,374.3 665.4,374.3 665.6,374.3 665.9,374.3 666.1,374.3 666.4,374.3 666.6,374.3 666.9,374.3 667.1,374.3 667.4,374.3 667.6,374.2 667.9,374.2 668.1,374.2 668.4,374.2 668.6,374.2 668.9,374.2 669.1,374.2 669.4,374.2 669.6,374.2 669.9,374.2 670.1,374.2 670.4,374.2 670.6,374.2 670.9,374.2 671.1,374.2 671.4,374.2 671.6,374.1 671.9,374.1 672.1,374.1 672.4,374.1 672.6,374.1" stroke="#9a9a2a" stroke-width="1.6" fill="none"/>
<g fill="#eeeeee" stroke="#7a7a7a" stroke-width="1.0"><circle cx="478.1" cy="377.6" r="1.75"/><circle cx="479.4" cy="377.4" r="1.75"/><circle cx="480.6" cy="377.8" r="1.75"/><circle cx="481.9" cy="377.3" r="1.75"/><circle cx="483.1" cy="377.7" r="1.75"/><circle cx="484.4" cy="376.8" r="1.75"/><circle cx="485.6" cy="377.4" r="1.75"/><circle cx="486.9" cy="377.0" r="1.75"/><circle cx="488.1" cy="377.1" r="1.75"/><circle cx="489.4" cy="377.0" r="1.75"/><circle cx="490.6" cy="377.4" r="1.75"/><circle cx="491.9" cy="376.0" r="1.75"/><circle cx="493.1" cy="377.0" r="1.75"/><circle cx="494.4" cy="376.2" r="1.75"/><circle cx="495.6" cy="377.3" r="1.75"/><circle cx="496.9" cy="375.8" r="1.75"/><circle cx="498.1" cy="376.2" r="1.75"/><circle cx="499.4" cy="375.8" r="1.75"/><circle cx="500.6" cy="377.3" r="1.75"/><circle cx="501.9" cy="375.9" r="1.75"/><circle cx="503.1" cy="376.4" r="1.75"/><circle cx="504.4" cy="376.1" r="1.75"/><circle cx="505.6" cy="375.4" r="1.75"/><circle cx="506.9" cy="375.9" r="1.75"/><circle cx="508.1" cy="376.3" r="1.75"/><circle cx="509.4" cy="375.8" r="1.75"/><circle cx="510.6" cy="376.1" r="1.75"/><circle cx="511.9" cy="375.3" r="1.75"/><circle cx="513.1" cy="375.3" r="1.75"/><circle cx="514.4" cy="374.8" r="1.75"/><circle cx="515.6" cy="374.8" r="1.75"/><circle cx="516.9" cy="375.1" r="1.75"/><circle cx="518.1" cy="373.7" r="1.75"/><circle cx="519.4" cy="372.5" r="1.75"/><circle cx="520.6" cy="370.2" r="1.75"/><circle cx="521.9" cy="366.6" r="1.75"/><circle cx="523.1" cy="362.0" r="1.75"/><circle cx="524.4" cy="352.6" r="1.75"/><circle cx="525.6" cy="342.5" r="1.75"/><circle cx="526.9" cy="332.6" r="1.75"/><circle cx="528.1" cy="326.3" r="1.75"/><circle cx="529.4" cy="328.9" r="1.75"/><circle cx="530.6" cy="335.3" r="1.75"/><circle cx="531.9" cy="347.1" r="1.75"/><circle cx="533.1" cy="356.7" r="1.75"/><circle cx="534.4" cy="363.0" r="1.75"/><circle cx="535.6" cy="367.9" r="1.75"/><circle cx="536.9" cy="371.1" r="1.75"/><circle cx="538.1" cy="373.2" r="1.75"/><circle cx="539.4" cy="372.9" r="1.75"/><circle cx="540.6" cy="373.1" r="1.75"/><circle cx="541.9" cy="374.6" r="1.75"/><circle cx="543.1" cy="375.1" r="1.75"/><circle cx="544.4" cy="374.4" r="1.75"/><circle cx="545.6" cy="373.7" r="1.75"/><circle cx="546.9" cy="375.5" r="1.75"/><circle cx="548.1" cy="374.8" r="1.75"/><circle cx="549.4" cy="375.5" r="1.75"/><circle cx="550.6" cy="375.0" r="1.75"/><circle cx="551.9" cy="374.9" r="1.75"/><circle cx="553.1" cy="374.9" r="1.75"/><circle cx="554.4" cy="375.8" r="1.75"/><circle cx="555.6" cy="375.8" r="1.75"/><circle cx="556.9" cy="374.2" r="1.75"/><circle cx="558.1" cy="374.7" r="1.75"/><circle cx="559.4" cy="375.9" r="1.75"/><circle cx="560.6" cy="374.9" r="1.75"/><circle cx="561.9" cy="374.5" r="1.75"/><circle cx="563.1" cy="375.1" r="1.75"/><circle cx="564.4" cy="375.0" r="1.75"/><circle cx="565.6" cy="375.0" r="1.75"/><circle cx="566.9" cy="374.8" r="1.75"/><circle cx="568.1" cy="374.9" r="1.75"/><circle cx="569.4" cy="374.8" r="1.75"/><circle cx="570.6" cy="375.1" r="1.75"/><circle cx="571.9" cy="374.6" r="1.75"/><circle cx="573.1" cy="374.8" r="1.75"/><circle cx="574.4" cy="374.8" r="1.75"/><circle cx="575.6" cy="375.5" r="1.75"/><circle cx="576.9" cy="375.0" r="1.75"/><circle cx="578.1" cy="374.8" r="1.75"/><circle cx="579.4" cy="375.0" r="1.75"/><circle cx="580.6" cy="374.9" r="1.75"/><circle cx="581.9" cy="375.2" r="1.75"/><circle cx="583.1" cy="374.9" r="1.75"/><circle cx="584.4" cy="375.5" r="1.75"/><circle cx="585.6" cy="375.2" r="1.75"/><circle cx="586.9" cy="374.6" r="1.75"/><circle cx="588.1" cy="374.4" r="1.75"/><circle cx="589.4" cy="374.9" r="1.75"/><circle cx="590.6" cy="374.7" r="1.75"/><circle cx="591.9" cy="374.4" r="1.75"/><circle cx="593.1" cy="373.7" r="1.75"/><circle cx="594.4" cy="373.5" r="1.75"/><circle cx="595.6" cy="374.5" r="1.75"/><circle cx="596.9" cy="374.6" r="1.75"/><circle cx="598.1" cy="374.6" r="1.75"/><circle cx="599.4" cy="373.6" r="1.75"/><circle cx="600.6" cy="374.5" r="1.75"/><circle cx="601.9" cy="373.8" r="1.75"/><circle cx="603.1" cy="374.1" r="1.75"/><circle cx="604.4" cy="374.0" r="1.75"/><circle cx="605.6" cy="373.4" r="1.75"/><circle cx="606.9" cy="373.4" r="1.75"/><circle cx="608.1" cy="372.6" r="1.75"/><circle cx="609.4" cy="373.0" r="1.75"/><circle cx="610.6" cy="372.4" r="1.75"/><circle cx="611.9" cy="373.2" r="1.75"/><circle cx="613.1" cy="372.6" r="1.75"/><circle cx="614.4" cy="372.5" r="1.75"/><circle cx="615.6" cy="371.3" r="1.75"/><circle cx="616.9" cy="369.3" r="1.75"/><circle cx="618.1" cy="367.3" r="1.75"/><circle cx="619.4" cy="363.5" r="1.75"/><circle cx="620.6" cy="359.6" r="1.75"/><circle cx="621.9" cy="354.5" r="1.75"/><circle cx="623.1" cy="349.5" r="1.75"/><circle cx="624.4" cy="347.5" r="1.75"/><circle cx="625.6" cy="348.2" r="1.75"/><circle cx="626.9" cy="351.5" r="1.75"/><circle cx="628.1" cy="356.8" r="1.75"/><circle cx="629.4" cy="361.9" r="1.75"/><circle cx="630.6" cy="365.0" r="1.75"/><circle cx="631.9" cy="367.9" r="1.75"/><circle cx="633.1" cy="368.9" r="1.75"/><circle cx="634.4" cy="371.1" r="1.75"/><circle cx="635.6" cy="371.6" r="1.75"/><circle cx="636.9" cy="371.2" r="1.75"/><circle cx="638.1" cy="372.6" r="1.75"/><circle cx="639.4" cy="372.9" r="1.75"/><circle cx="640.6" cy="372.4" r="1.75"/><circle cx="641.9" cy="372.6" r="1.75"/><circle cx="643.1" cy="372.4" r="1.75"/><circle cx="644.4" cy="373.2" r="1.75"/><circle cx="645.6" cy="372.2" r="1.75"/><circle cx="646.9" cy="372.8" r="1.75"/><circle cx="648.1" cy="373.8" r="1.75"/><circle cx="649.4" cy="373.0" r="1.75"/><circle cx="650.6" cy="373.1" r="1.75"/><circle cx="651.9" cy="372.9" r="1.75"/><circle cx="653.1" cy="372.4" r="1.75"/><circle cx="654.4" cy="372.9" r="1.75"/><circle cx="655.6" cy="373.1" r="1.75"/><circle cx="656.9" cy="372.4" r="1.75"/><circle cx="658.1" cy="373.0" r="1.75"/><circle cx="659.4" cy="373.4" r="1.75"/><circle cx="660.6" cy="373.3" r="1.75"/><circle cx="661.9" cy="372.1" r="1.75"/><circle cx="663.1" cy="372.4" r="1.75"/><circle cx="664.4" cy="372.0" r="1.75"/><circle cx="665.6" cy="373.2" r="1.75"/><circle cx="666.9" cy="373.0" r="1.75"/><circle cx="668.1" cy="373.0" r="1.75"/><circle cx="669.4" cy="372.3" r="1.75"/><circle cx="670.6" cy="372.1" r="1.75"/></g>
<path d="M477.1,377.9 477.4,377.9 477.6,377.9 477.9,377.9 478.1,377.9 478.4,377.9 478.6,377.9 478.9,377.9 479.1,377.9 479.4,377.8 479.6,377.8 479.9,377.8 480.1,377.8 480.4,377.8 480.6,377.8 480.9,377.8 481.1,377.8 481.4,377.8 481.6,377.8 481.9,377.8 482.1,377.8 482.4,377.8 482.6,377.7 482.9,377.7 483.1,377.7 483.4,377.7 483.6,377.7 483.9,377.7 484.1,377.7 484.4,377.7 484.6,377.7 484.9,377.7 485.1,377.7 485.4,377.7 485.6,377.6 485.9,377.6 486.1,377.6 486.4,377.6 486.6,377.6 486.9,377.6 487.1,377.6 487.4,377.6 487.6,377.6 487.9,377.6 488.1,377.6 488.4,377.6 488.6,377.5 488.9,377.5 489.1,377.5 489.4,377.5 489.6,377.5 489.9,377.5 490.1,377.5 490.4,377.5 490.6,377.5 490.9,377.5 491.1,377.5 491.4,377.4 491.6,377.4 491.9,377.4 492.1,377.4 492.4,377.4 492.6,377.4 492.9,377.4 493.1,377.4 493.4,377.4 493.6,377.4 493.9,377.3 494.1,377.3 494.4,377.3 494.6,377.3 494.9,377.3 495.1,377.3 495.4,377.3 495.6,377.3 495.9,377.3 496.1,377.2 496.4,377.2 496.6,377.2 496.9,377.2 497.1,377.2 497.4,377.2 497.6,377.2 497.9,377.2 498.1,377.2 498.4,377.1 498.6,377.1 498.9,377.1 499.1,377.1 499.4,377.1 499.6,377.1 499.9,377.1 500.1,377.1 500.4,377.0 500.6,377.0 500.9,377.0 501.1,377.0 501.4,377.0 501.6,377.0 501.9,377.0 502.1,376.9 502.4,376.9 502.6,376.9 502.9,376.9 503.1,376.9 503.4,376.9 503.6,376.8 503.9,376.8 504.1,376.8 504.4,376.8 504.6,376.8 504.9,376.8 505.1,376.7 505.4,376.7 505.6,376.7 505.9,376.7 506.1,376.7 506.4,376.6 506.6,376.6 506.9,376.6 507.1,376.6 507.4,376.5 507.6,376.5 507.9,376.5 508.1,376.5 508.4,376.5 508.6,376.4 508.9,376.4 509.1,376.4 509.4,376.3 509.6,376.3 509.9,376.3 510.1,376.3 510.4,376.2 510.6,376.2 510.9,376.2 511.1,376.1 511.4,376.1 511.6,376.0 511.9,376.0 512.1,376.0 512.4,375.9 512.6,375.9 512.9,375.8 513.1,375.8 513.4,375.7 513.6,375.7 513.9,375.6 514.1,375.6 514.4,375.5 514.6,375.5 514.9,375.4 515.1,375.3 515.4,375.3 515.6,375.2 515.9,375.1 516.1,375.0 516.4,374.9 516.6,374.8 516.9,374.7 517.1,374.6 517.4,374.5 517.6,374.4 517.9,374.2 518.1,374.0 518.4,373.9 518.6,373.7 518.9,373.4 519.1,373.2 519.4,372.9 519.6,372.6 519.9,372.3 520.1,371.9 520.4,371.4 520.6,370.9 520.9,370.4 521.1,369.8 521.4,369.1 521.6,368.3 521.9,367.5 522.1,366.5 522.4,365.5 522.6,364.4 522.9,363.2 523.1,361.8 523.4,360.4 523.6,358.9 523.9,357.2 524.1,355.5 524.4,353.6 524.6,351.7 524.9,349.7 525.1,347.6 525.4,345.5 525.6,343.4 525.9,341.2 526.1,339.1 526.4,337.0 526.6,335.0 526.9,333.2 527.1,331.4 527.4,329.9 527.6,328.6 527.9,327.7 528.1,327.0 528.4,326.6 528.6,326.6 528.9,326.9 529.1,327.6 529.4,328.6 529.6,329.8 529.9,331.3 530.1,333.0 530.4,334.9 530.6,336.8 530.9,338.9 531.1,341.0 531.4,343.2 531.6,345.3 531.9,347.4 532.1,349.4 532.4,351.4 532.6,353.4 532.9,355.2 533.1,356.9 533.4,358.6 533.6,360.1 533.9,361.5 534.1,362.8 534.4,364.1 534.6,365.2 534.9,366.2 535.1,367.1 535.4,367.9 535.6,368.7 535.9,369.4 536.1,370.0 536.4,370.5 536.6,371.0 536.9,371.4 537.1,371.8 537.4,372.2 537.6,372.5 537.9,372.7 538.1,373.0 538.4,373.2 538.6,373.4 538.9,373.5 539.1,373.7 539.4,373.8 539.6,373.9 539.9,374.0 540.1,374.1 540.4,374.2 540.6,374.3 540.9,374.4 541.1,374.5 541.4,374.5 541.6,374.6 541.9,374.7 542.1,374.7 542.4,374.8 542.6,374.8 542.9,374.9 543.1,374.9 543.4,374.9 543.6,375.0 543.9,375.0 544.1,375.0 544.4,375.1 544.6,375.1 544.9,375.1 545.1,375.2 545.4,375.2 545.6,375.2 545.9,375.2 546.1,375.3 546.4,375.3 546.6,375.3 546.9,375.3 547.1,375.3 547.4,375.4 547.6,375.4 547.9,375.4 548.1,375.4 548.4,375.4 548.6,375.4 548.9,375.4 549.1,375.5 549.4,375.5 549.6,375.5 549.9,375.5 550.1,375.5 550.4,375.5 550.6,375.5 550.9,375.5 551.1,375.5 551.4,375.5 551.6,375.6 551.9,375.6 552.1,375.6 552.4,375.6 552.6,375.6 552.9,375.6 553.1,375.6 553.4,375.6 553.6,375.6 553.9,375.6 554.1,375.6 554.4,375.6 554.6,375.6 554.9,375.6 555.1,375.6 555.4,375.6 555.6,375.6 555.9,375.6 556.1,375.6 556.4,375.6 556.6,375.6 556.9,375.6 557.1,375.6 557.4,375.6 557.6,375.6 557.9,375.6 558.1,375.6 558.4,375.6 558.6,375.6 558.9,375.6 559.1,375.6 559.4,375.6 559.6,375.6 559.9,375.6 560.1,375.6 560.4,375.6 560.6,375.6 560.9,375.6 561.1,375.6 561.4,375.6 561.6,375.6 561.9,375.6 562.1,375.6 562.4,375.6 562.6,375.6 562.9,375.6 563.1,375.6 563.4,375.6 563.6,375.6 563.9,375.6 564.1,375.6 564.4,375.6 564.6,375.6 564.9,375.6 565.1,375.6 565.4,375.6 565.6,375.6 565.9,375.6 566.1,375.6 566.4,375.5 566.6,375.5 566.9,375.5 567.1,375.5 567.4,375.5 567.6,375.5 567.9,375.5 568.1,375.5 568.4,375.5 568.6,375.5 568.9,375.5 569.1,375.5 569.4,375.5 569.6,375.5 569.9,375.5 570.1,375.5 570.4,375.5 570.6,375.5 570.9,375.5 571.1,375.5 571.4,375.5 571.6,375.5 571.9,375.5 572.1,375.5 572.4,375.4 572.6,375.4 572.9,375.4 573.1,375.4 573.4,375.4 573.6,375.4 573.9,375.4 574.1,375.4 574.4,375.4 574.6,375.4 574.9,375.4 575.1,375.4 575.4,375.4 575.6,375.4 575.9,375.4 576.1,375.4 576.4,375.4 576.6,375.4 576.9,375.4 577.1,375.3 577.4,375.3 577.6,375.3 577.9,375.3 578.1,375.3 578.4,375.3 578.6,375.3 578.9,375.3 579.1,375.3 579.4,375.3 579.6,375.3 579.9,375.3 580.1,375.3 580.4,375.3 580.6,375.3 580.9,375.3 581.1,375.2 581.4,375.2 581.6,375.2 581.9,375.2 582.1,375.2 582.4,375.2 582.6,375.2 582.9,375.2 583.1,375.2 583.4,375.2 583.6,375.2 583.9,375.2 584.1,375.2 584.4,375.2 584.6,375.2 584.9,375.2 585.1,375.1 585.4,375.1 585.6,375.1 585.9,375.1 586.1,375.1 586.4,375.1 586.6,375.1 586.9,375.1 587.1,375.1 587.4,375.1 587.6,375.1 587.9,375.1 588.1,375.1 588.4,375.0 588.6,375.0 588.9,375.0 589.1,375.0 589.4,375.0 589.6,375.0 589.9,375.0 590.1,375.0 590.4,375.0 590.6,375.0 590.9,375.0 591.1,375.0 591.4,375.0 591.6,374.9 591.9,374.9 592.1,374.9 592.4,374.9 592.6,374.9 592.9,374.9 593.1,374.9 593.4,374.9 593.6,374.9 593.9,374.9 594.1,374.9 594.4,374.9 594.6,374.8 594.9,374.8 595.1,374.8 595.4,374.8 595.6,374.8 595.9,374.8 596.1,374.8 596.4,374.8 596.6,374.8 596.9,374.8 597.1,374.7 597.4,374.7 597.6,374.7 597.9,374.7 598.1,374.7 598.4,374.7 598.6,374.7 598.9,374.7 599.1,374.7 599.4,374.6 599.6,374.6 599.9,374.6 600.1,374.6 600.4,374.6 600.6,374.6 600.9,374.6 601.1,374.6 601.4,374.5 601.6,374.5 601.9,374.5 602.1,374.5 602.4,374.5 602.6,374.5 602.9,374.5 603.1,374.4 603.4,374.4 603.6,374.4 603.9,374.4 604.1,374.4 604.4,374.4 604.6,374.3 604.9,374.3 605.1,374.3 605.4,374.3 605.6,374.3 605.9,374.2 606.1,374.2 606.4,374.2 606.6,374.2 606.9,374.2 607.1,374.1 607.4,374.1 607.6,374.1 607.9,374.1 608.1,374.0 608.4,374.0 608.6,374.0 608.9,374.0 609.1,373.9 609.4,373.9 609.6,373.9 609.9,373.8 610.1,373.8 610.4,373.8 610.6,373.7 610.9,373.7 611.1,373.6 611.4,373.6 611.6,373.5 611.9,373.5 612.1,373.4 612.4,373.3 612.6,373.3 612.9,373.2 613.1,373.1 613.4,373.0 613.6,372.9 613.9,372.8 614.1,372.7 614.4,372.6 614.6,372.4 614.9,372.2 615.1,372.0 615.4,371.8 615.6,371.6 615.9,371.4 616.1,371.1 616.4,370.8 616.6,370.4 616.9,370.1 617.1,369.7 617.4,369.2 617.6,368.7 617.9,368.2 618.1,367.7 618.4,367.0 618.6,366.4 618.9,365.7 619.1,365.0 619.4,364.2 619.6,363.4 619.9,362.5 620.1,361.7 620.4,360.7 620.6,359.8 620.9,358.8 621.1,357.8 621.4,356.8 621.6,355.8 621.9,354.9 622.1,353.9 622.4,353.0 622.6,352.1 622.9,351.2 623.1,350.4 623.4,349.7 623.6,349.1 623.9,348.6 624.1,348.3 624.4,348.0 624.6,347.9 624.9,347.9 625.1,348.0 625.4,348.3 625.6,348.7 625.9,349.2 626.1,349.8 626.4,350.6 626.6,351.3 626.9,352.2 627.1,353.1 627.4,354.0 627.6,355.0 627.9,356.0 628.1,356.9 628.4,357.9 628.6,358.9 628.9,359.8 629.1,360.8 629.4,361.7 629.6,362.5 629.9,363.4 630.1,364.2 630.4,364.9 630.6,365.6 630.9,366.3 631.1,366.9 631.4,367.5 631.6,368.0 631.9,368.5 632.1,369.0 632.4,369.4 632.6,369.8 632.9,370.1 633.1,370.5 633.4,370.7 633.6,371.0 633.9,371.2 634.1,371.4 634.4,371.6 634.6,371.8 634.9,372.0 635.1,372.1 635.4,372.2 635.6,372.3 635.9,372.4 636.1,372.5 636.4,372.6 636.6,372.7 636.9,372.7 637.1,372.8 637.4,372.8 637.6,372.9 637.9,372.9 638.1,373.0 638.4,373.0 638.6,373.0 638.9,373.1 639.1,373.1 639.4,373.1 639.6,373.1 639.9,373.1 640.1,373.2 640.4,373.2 640.6,373.2 640.9,373.2 641.1,373.2 641.4,373.3 641.6,373.3 641.9,373.3 642.1,373.3 642.4,373.3 642.6,373.3 642.9,373.3 643.1,373.3 643.4,373.3 643.6,373.4 643.9,373.4 644.1,373.4 644.4,373.4 644.6,373.4 644.9,373.4 645.1,373.4 645.4,373.4 645.6,373.4 645.9,373.4 646.1,373.4 646.4,373.4 646.6,373.4 646.9,373.4 647.1,373.4 647.4,373.4 647.6,373.4 647.9,373.4 648.1,373.4 648.4,373.4 648.6,373.4 648.9,373.4 649.1,373.4 649.4,373.4 649.6,373.4 649.9,373.4 650.1,373.4 650.4,373.4 650.6,373.4 650.9,373.4 651.1,373.4 651.4,373.4 651.6,373.4 651.9,373.4 652.1,373.4 652.4,373.4 652.6,373.4 652.9,373.4 653.1,373.4 653.4,373.4 653.6,373.4 653.9,373.4 654.1,373.4 654.4,373.4 654.6,373.4 654.9,373.4 655.1,373.4 655.4,373.4 655.6,373.4 655.9,373.4 656.1,373.4 656.4,373.4 656.6,373.4 656.9,373.4 657.1,373.4 657.4,373.4 657.6,373.4 657.9,373.4 658.1,373.4 658.4,373.4 658.6,373.4 658.9,373.4 659.1,373.4 659.4,373.4 659.6,373.4 659.9,373.3 660.1,373.3 660.4,373.3 660.6,373.3 660.9,373.3 661.1,373.3 661.4,373.3 661.6,373.3 661.9,373.3 662.1,373.3 662.4,373.3 662.6,373.3 662.9,373.3 663.1,373.3 663.4,373.3 663.6,373.3 663.9,373.3 664.1,373.3 664.4,373.3 664.6,373.3 664.9,373.3 665.1,373.3 665.4,373.3 665.6,373.3 665.9,373.2 666.1,373.2 666.4,373.2 666.6,373.2 666.9,373.2 667.1,373.2 667.4,373.2 667.6,373.2 667.9,373.2 668.1,373.2 668.4,373.2 668.6,373.2 668.9,373.2 669.1,373.2 669.4,373.2 669.6,373.2 669.9,373.2 670.1,373.2 670.4,373.2 670.6,373.2 670.9,373.1 671.1,373.1 671.4,373.1 671.6,373.1 671.9,373.1 672.1,373.1 672.4,373.1 672.6,373.1" stroke="#2387F3" stroke-width="1.9" fill="none"/>
<text x="477.40" y="234.00" font-size="10.0" text-anchor="start" fill="#1e1e1e" stroke="#1e1e1e" stroke-width="0.15" >Zn 2<tspan font-style="italic">p</tspan><tspan font-size="6.80" baseline-shift="-2.40">3/2</tspan> (1022.0 eV)</text>
<path d="M528.10,247.60 V241.10" stroke="#1e1e1e" stroke-width="1.45"/>
<path d="M525.80,241.60 L528.10,236.60 L530.40,241.60 Z" fill="#1e1e1e"/>
<text x="579.30" y="258.50" font-size="10.0" text-anchor="start" fill="#1e1e1e" stroke="#1e1e1e" stroke-width="0.15" >Zn 2<tspan font-style="italic">p</tspan><tspan font-size="6.80" baseline-shift="-2.40">1/2</tspan> (1045.1 eV)</text>
<path d="M624.70,270.30 V263.60" stroke="#1e1e1e" stroke-width="1.45"/>
<path d="M622.40,264.10 L624.70,259.10 L627.00,264.10 Z" fill="#1e1e1e"/>
<text x="557.00" y="295.90" font-size="10.0" text-anchor="start" fill="#FF8A1F" stroke="#FF8A1F" stroke-width="0.15" >Zn-Bipy</text>
<text x="476.50" y="314.40" font-size="10.0" text-anchor="start" fill="#1e1e1e" stroke="#1e1e1e" stroke-width="0.15" >Zn 2<tspan font-style="italic">p</tspan><tspan font-size="6.80" baseline-shift="-2.40">3/2</tspan> (1022.0 eV)</text>
<path d="M527.80,324.50 V318.10" stroke="#1e1e1e" stroke-width="1.45"/>
<path d="M525.50,318.60 L527.80,313.60 L530.10,318.60 Z" fill="#1e1e1e"/>
<text x="580.30" y="335.20" font-size="10.0" text-anchor="start" fill="#1e1e1e" stroke="#1e1e1e" stroke-width="0.15" >Zn 2<tspan font-style="italic">p</tspan><tspan font-size="6.80" baseline-shift="-2.40">1/2</tspan> (1045.1 eV)</text>
<path d="M624.00,346.40 V340.60" stroke="#1e1e1e" stroke-width="1.45"/>
<path d="M621.70,341.10 L624.00,336.10 L626.30,341.10 Z" fill="#1e1e1e"/>
<text x="547.50" y="368.90" font-size="10.0" text-anchor="start" fill="#2387F3" stroke="#2387F3" stroke-width="0.15" >Zn-Bipy-NH<tspan font-size="6.80" baseline-shift="-2.40">3</tspan></text>
<rect x="475.10" y="222.40" width="198.40" height="159.90" fill="none" stroke="#2a2a2a" stroke-width="1.3"/>
<path d="M478.50,382.30 V385.30 M520.15,382.30 V385.30 M561.80,382.30 V385.30 M603.45,382.30 V385.30 M645.10,382.30 V385.30 M499.32,382.30 V383.90 M540.98,382.30 V383.90 M582.62,382.30 V383.90 M624.27,382.30 V383.90 M665.92,382.30 V383.90 " stroke="#2a2a2a" stroke-width="1.1" fill="none"/>
<text x="478.50" y="397.20" font-size="10.25" text-anchor="middle" fill="#1e1e1e" stroke="#1e1e1e" stroke-width="0.15" >1010</text>
<text x="520.15" y="397.20" font-size="10.25" text-anchor="middle" fill="#1e1e1e" stroke="#1e1e1e" stroke-width="0.15" >1020</text>
<text x="561.80" y="397.20" font-size="10.25" text-anchor="middle" fill="#1e1e1e" stroke="#1e1e1e" stroke-width="0.15" >1030</text>
<text x="603.45" y="397.20" font-size="10.25" text-anchor="middle" fill="#1e1e1e" stroke="#1e1e1e" stroke-width="0.15" >1040</text>
<text x="645.10" y="397.20" font-size="10.25" text-anchor="middle" fill="#1e1e1e" stroke="#1e1e1e" stroke-width="0.15" >1050</text>
<text x="528.80" y="408.90" font-size="11.2" text-anchor="start" fill="#1e1e1e" stroke="#1e1e1e" stroke-width="0.15" >Binding energy/eV</text>
</svg>
</body></html>
